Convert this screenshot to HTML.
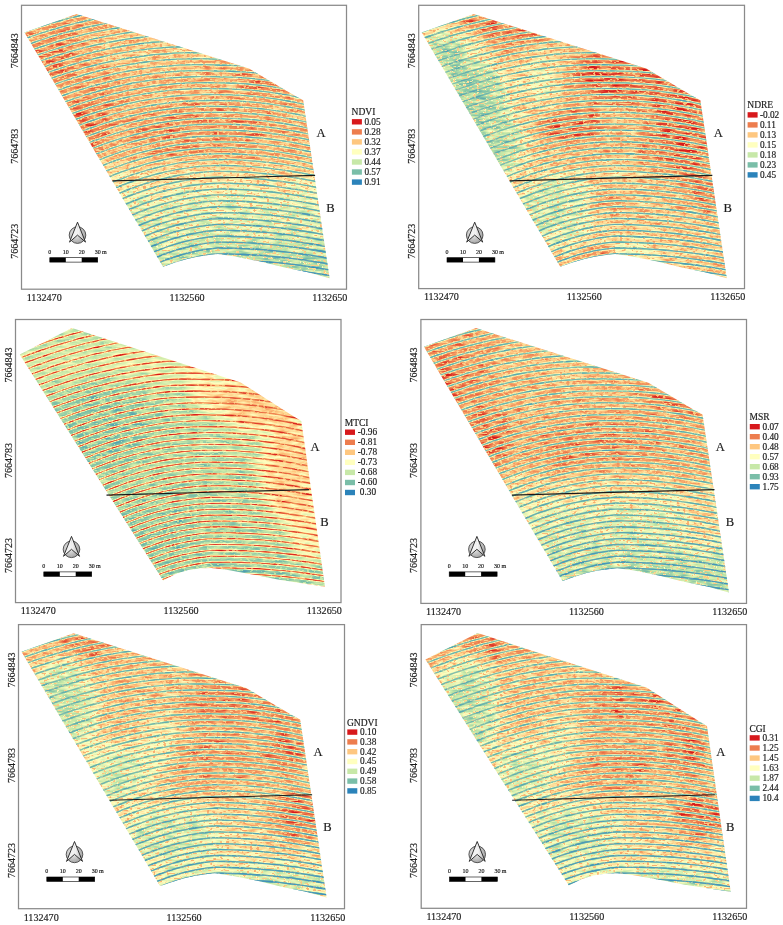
<!DOCTYPE html><html><head><meta charset="utf-8"><style>html,body{margin:0;padding:0;background:#fff;width:783px;height:925px;overflow:hidden}svg{position:absolute;left:0;top:0;display:block;will-change:transform}text{font-family:"Liberation Serif",serif;fill:#1c1c1c;stroke:#1c1c1c;stroke-width:0.18px}</style></head><body>
<svg width="783" height="925" viewBox="0 0 783 925">
<defs>
<radialGradient id="ng" cx="0.4" cy="0.4" r="0.7"><stop offset="0" stop-color="#f4f4f4"/><stop offset="1" stop-color="#9a9a9a"/></radialGradient>
<linearGradient id="ag" x1="0" y1="0" x2="1" y2="0"><stop offset="0" stop-color="#fafafa"/><stop offset="1" stop-color="#b0b0b0"/></linearGradient>
<filter id="bl" x="-50%" y="-50%" width="200%" height="200%"><feGaussianBlur stdDeviation="9"/></filter>
<filter id="sb" x="-5%" y="-5%" width="110%" height="110%"><feGaussianBlur stdDeviation="0.35"/></filter>
<clipPath id="c0"><polygon points="24.5,32.5 76.6,13.9 249.0,68.6 294.0,95.2 303.2,100.3 329.6,278.2 307.7,272.2 283.5,267.3 259.2,261.3 234.9,256.4 217.9,254.0 210.7,254.7 198.5,256.4 187.0,258.9 175.0,262.6 163.0,266.7"/></clipPath>
<clipPath id="c1"><polygon points="421.7,32.5 473.8,13.9 646.2,68.6 691.2,95.2 700.4,100.3 726.8,278.2 704.9,272.2 680.7,267.3 656.4,261.3 632.1,256.4 615.1,254.0 607.9,254.7 595.7,256.4 584.2,258.9 572.2,262.6 560.2,266.7"/></clipPath>
<clipPath id="c2"><polygon points="19.7,354.5 72.0,328.0 240.7,382.5 293.0,416.0 301.3,421.0 325.0,586.7 303.3,583.5 277.7,579.5 252.2,574.5 226.6,569.8 211.3,568.1 201.0,568.3 188.3,570.1 175.5,574.1 163.1,580.5"/></clipPath>
<clipPath id="c3"><polygon points="423.9,346.7 476.0,328.1 648.4,382.8 693.4,409.4 702.6,414.5 729.0,592.4 707.1,586.4 682.9,581.5 658.6,575.5 634.3,570.6 617.3,568.2 610.1,568.9 597.9,570.6 586.4,573.1 574.4,576.8 562.4,580.9"/></clipPath>
<clipPath id="c4"><polygon points="21.5,651.8 73.6,633.2 246.0,687.9 291.0,714.5 300.2,719.6 326.6,897.5 304.7,891.5 280.5,886.6 256.2,880.6 231.9,875.7 214.9,873.3 207.7,874.0 195.5,875.7 184.0,878.2 172.0,881.9 160.0,886.0"/></clipPath>
<clipPath id="c5"><polygon points="425.4,659.6 477.7,633.1 646.4,687.6 698.7,721.1 707.0,726.1 730.7,891.8 709.0,888.6 683.4,884.6 657.9,879.6 632.3,874.9 617.0,873.2 606.7,873.4 594.0,875.2 581.2,879.2 568.8,885.6"/></clipPath>
</defs>
<defs><filter id="f0" filterUnits="userSpaceOnUse" x="21.5" y="5.3" width="325.0" height="283.9" color-interpolation-filters="sRGB"><feGaussianBlur in="SourceGraphic" stdDeviation="0.7" result="s"/><feTurbulence type="fractalNoise" baseFrequency="0.3 0.6" numOctaves="1" seed="3" result="t1"/><feColorMatrix in="t1" type="matrix" values="1 0 0 0 0 1 0 0 0 0 1 0 0 0 0 0 0 0 0 1" result="n1"/><feTurbulence type="fractalNoise" baseFrequency="0.08 0.3" numOctaves="2" seed="11" result="t2"/><feColorMatrix in="t2" type="matrix" values="1 0 0 0 0 1 0 0 0 0 1 0 0 0 0 0 0 0 0 1" result="n2"/><feComposite in="s" in2="n2" operator="arithmetic" k1="0" k2="1" k3="0.500" k4="-0.250" result="s2"/><feComponentTransfer in="n1" result="MA"><feFuncR type="table" tableValues="0.000 0.000 0.000 0.000 0.000 0.000 0.000 0.000 0.000 0.000 0.000 0.000 0.000 0.000 0.000 0.000 0.000 0.000 0.000 0.000 0.000 0.000 0.000 0.000 0.250 0.875 1.000 1.000 1.000 1.000 1.000 1.000 1.000 1.000 1.000 1.000 1.000 1.000 1.000 1.000 1.000"/><feFuncG type="table" tableValues="0.000 0.000 0.000 0.000 0.000 0.000 0.000 0.000 0.000 0.000 0.000 0.000 0.000 0.000 0.000 0.000 0.000 0.000 0.000 0.000 0.000 0.000 0.000 0.000 0.250 0.875 1.000 1.000 1.000 1.000 1.000 1.000 1.000 1.000 1.000 1.000 1.000 1.000 1.000 1.000 1.000"/><feFuncB type="table" tableValues="0.000 0.000 0.000 0.000 0.000 0.000 0.000 0.000 0.000 0.000 0.000 0.000 0.000 0.000 0.000 0.000 0.000 0.000 0.000 0.000 0.000 0.000 0.000 0.000 0.250 0.875 1.000 1.000 1.000 1.000 1.000 1.000 1.000 1.000 1.000 1.000 1.000 1.000 1.000 1.000 1.000"/></feComponentTransfer><feComponentTransfer in="n1" result="MB"><feFuncR type="table" tableValues="1.000 1.000 1.000 1.000 1.000 1.000 1.000 1.000 1.000 1.000 1.000 1.000 1.000 1.000 1.000 0.875 0.250 0.000 0.000 0.000 0.000 0.000 0.000 0.000 0.000 0.000 0.000 0.000 0.000 0.000 0.000 0.000 0.000 0.000 0.000 0.000 0.000 0.000 0.000 0.000 0.000"/><feFuncG type="table" tableValues="1.000 1.000 1.000 1.000 1.000 1.000 1.000 1.000 1.000 1.000 1.000 1.000 1.000 1.000 1.000 0.875 0.250 0.000 0.000 0.000 0.000 0.000 0.000 0.000 0.000 0.000 0.000 0.000 0.000 0.000 0.000 0.000 0.000 0.000 0.000 0.000 0.000 0.000 0.000 0.000 0.000"/><feFuncB type="table" tableValues="1.000 1.000 1.000 1.000 1.000 1.000 1.000 1.000 1.000 1.000 1.000 1.000 1.000 1.000 1.000 0.875 0.250 0.000 0.000 0.000 0.000 0.000 0.000 0.000 0.000 0.000 0.000 0.000 0.000 0.000 0.000 0.000 0.000 0.000 0.000 0.000 0.000 0.000 0.000 0.000 0.000"/></feComponentTransfer><feComponentTransfer in="s2" result="XA"><feFuncR type="linear" slope="-0.700" intercept="0.294"/><feFuncG type="linear" slope="-0.700" intercept="0.294"/><feFuncB type="linear" slope="-0.700" intercept="0.294"/></feComponentTransfer><feComposite in="XA" in2="MA" operator="arithmetic" k1="1" k2="0" k3="0" k4="0" result="PA"/><feComponentTransfer in="s2" result="XB"><feFuncR type="linear" slope="0.700" intercept="-0.140"/><feFuncG type="linear" slope="0.700" intercept="-0.140"/><feFuncB type="linear" slope="0.700" intercept="-0.140"/></feComponentTransfer><feComposite in="XB" in2="MB" operator="arithmetic" k1="1" k2="0" k3="0" k4="0" result="PB"/><feComponentTransfer in="PB" result="QB"><feFuncR type="linear" slope="-1" intercept="1"/><feFuncG type="linear" slope="-1" intercept="1"/><feFuncB type="linear" slope="-1" intercept="1"/></feComponentTransfer><feComposite in="s2" in2="PA" operator="arithmetic" k1="0" k2="1" k3="1" k4="0" result="v1"/><feComposite in="v1" in2="QB" operator="arithmetic" k1="0" k2="1" k3="1" k4="-1" result="v2"/><feComponentTransfer in="v2" result="cm"><feFuncR type="table" tableValues="0.8431 0.9294 0.9961 1.0000 0.7804 0.4784 0.1686"/><feFuncG type="table" tableValues="0.0980 0.4902 0.7804 1.0000 0.9098 0.7451 0.5137"/><feFuncB type="table" tableValues="0.1098 0.3059 0.5020 0.7490 0.6588 0.6588 0.7294"/><feFuncA type="linear" slope="0" intercept="1"/></feComponentTransfer><feGaussianBlur in="cm" stdDeviation="0.5"/></filter></defs>
<defs><linearGradient id="bg0" x1="0" y1="0" x2="0" y2="1"><stop offset="0.00" stop-color="#404040"/><stop offset="0.52" stop-color="#474747"/><stop offset="0.70" stop-color="#8f8f8f"/><stop offset="1.00" stop-color="#a3a3a3"/></linearGradient></defs>
<g clip-path="url(#c0)"><g filter="url(#f0)">
<rect x="21.5" y="5.3" width="325.0" height="283.9" fill="url(#bg0)"/>
<g filter="url(#bl)">
<ellipse cx="51.5" cy="65.3" rx="20.0" ry="22.0" fill="#242424"/>
<ellipse cx="86.5" cy="125.3" rx="22.0" ry="30.0" fill="#242424"/>
<ellipse cx="58.5" cy="40.3" rx="9.0" ry="12.0" fill="#1c1c1c"/>
<ellipse cx="151.5" cy="50.3" rx="60.0" ry="22.0" fill="#575757"/>
<ellipse cx="271.5" cy="83.3" rx="25.0" ry="9.0" fill="#171717"/>
<ellipse cx="201.5" cy="130.3" rx="70.0" ry="25.0" fill="#303030"/>
<ellipse cx="156.5" cy="100.3" rx="20.0" ry="15.0" fill="#4c4c4c"/>
<ellipse cx="289.5" cy="140.3" rx="18.0" ry="35.0" fill="#454545"/>
<ellipse cx="251.5" cy="263.3" rx="90.0" ry="16.0" fill="#b8b8b8"/>
</g>
<defs><g id="sp0"><path d="M-2.0,-53.2 4.0,-55.4 10.0,-57.1 16.0,-58.7 22.0,-60.3 28.0,-61.8 34.0,-63.2 40.0,-64.6 46.0,-65.8 52.0,-67.0 58.0,-68.1 64.0,-69.1 70.0,-70.0 76.0,-70.9 82.0,-71.6 88.0,-72.3 94.0,-72.9 100.0,-73.4 106.0,-73.8 112.0,-74.2 118.0,-74.4 124.0,-74.6 130.0,-74.7 136.0,-74.7 142.0,-74.6 148.0,-74.4 154.0,-74.1 160.0,-73.8 166.0,-73.4 172.0,-72.8 178.0,-72.2 184.0,-71.5 190.0,-70.7 196.0,-70.0 202.0,-69.9 208.0,-69.7 214.0,-69.5 220.0,-69.1 226.0,-68.6 232.0,-67.9 238.0,-67.2 244.0,-66.4 250.0,-65.5 256.0,-64.4 262.0,-63.3 268.0,-62.0 274.0,-60.6 280.0,-59.2 286.0,-57.6 292.0,-55.9 298.0,-54.1 304.0,-52.2 310.0,-50.2 316.0,-48.0"/><path d="M-2.0,-46.4 4.0,-48.6 10.0,-50.3 16.0,-52.0 22.0,-53.6 28.0,-55.1 34.0,-56.6 40.0,-57.9 46.0,-59.2 52.0,-60.4 58.0,-61.5 64.0,-62.6 70.0,-63.5 76.0,-64.4 82.0,-65.2 88.0,-65.9 94.0,-66.5 100.0,-67.0 106.0,-67.5 112.0,-67.9 118.0,-68.2 124.0,-68.4 130.0,-68.5 136.0,-68.5 142.0,-68.4 148.0,-68.3 154.0,-68.1 160.0,-67.7 166.0,-67.3 172.0,-66.8 178.0,-66.2 184.0,-65.6 190.0,-64.8 196.0,-64.1 202.0,-64.0 208.0,-63.8 214.0,-63.6 220.0,-63.2 226.0,-62.7 232.0,-62.0 238.0,-61.3 244.0,-60.5 250.0,-59.6 256.0,-58.5 262.0,-57.4 268.0,-56.1 274.0,-54.7 280.0,-53.3 286.0,-51.7 292.0,-50.0 298.0,-48.2 304.0,-46.3 310.0,-44.3 316.0,-42.1"/><path d="M-2.0,-39.6 4.0,-41.8 10.0,-43.5 16.0,-45.3 22.0,-46.9 28.0,-48.4 34.0,-49.9 40.0,-51.3 46.0,-52.6 52.0,-53.8 58.0,-55.0 64.0,-56.0 70.0,-57.0 76.0,-57.9 82.0,-58.7 88.0,-59.5 94.0,-60.1 100.0,-60.7 106.0,-61.2 112.0,-61.6 118.0,-61.9 124.0,-62.1 130.0,-62.3 136.0,-62.3 142.0,-62.3 148.0,-62.2 154.0,-62.0 160.0,-61.7 166.0,-61.3 172.0,-60.8 178.0,-60.3 184.0,-59.6 190.0,-58.9 196.0,-58.2 202.0,-58.1 208.0,-57.9 214.0,-57.7 220.0,-57.3 226.0,-56.8 232.0,-56.1 238.0,-55.4 244.0,-54.6 250.0,-53.7 256.0,-52.6 262.0,-51.5 268.0,-50.2 274.0,-48.8 280.0,-47.4 286.0,-45.8 292.0,-44.1 298.0,-42.3 304.0,-40.4 310.0,-38.4 316.0,-36.2"/><path d="M-2.0,-32.8 4.0,-35.0 10.0,-36.8 16.0,-38.5 22.0,-40.2 28.0,-41.7 34.0,-43.2 40.0,-44.7 46.0,-46.0 52.0,-47.3 58.0,-48.4 64.0,-49.5 70.0,-50.5 76.0,-51.5 82.0,-52.3 88.0,-53.1 94.0,-53.8 100.0,-54.4 106.0,-54.9 112.0,-55.3 118.0,-55.6 124.0,-55.9 130.0,-56.1 136.0,-56.1 142.0,-56.1 148.0,-56.0 154.0,-55.9 160.0,-55.6 166.0,-55.3 172.0,-54.8 178.0,-54.3 184.0,-53.7 190.0,-53.0 196.0,-52.3 202.0,-52.2 208.0,-52.0 214.0,-51.8 220.0,-51.4 226.0,-50.9 232.0,-50.2 238.0,-49.5 244.0,-48.7 250.0,-47.8 256.0,-46.7 262.0,-45.6 268.0,-44.3 274.0,-42.9 280.0,-41.5 286.0,-39.9 292.0,-38.2 298.0,-36.4 304.0,-34.5 310.0,-32.5 316.0,-30.3"/><path d="M-2.0,-25.9 4.0,-28.2 10.0,-30.0 16.0,-31.8 22.0,-33.5 28.0,-35.1 34.0,-36.6 40.0,-38.0 46.0,-39.4 52.0,-40.7 58.0,-41.9 64.0,-43.0 70.0,-44.0 76.0,-45.0 82.0,-45.9 88.0,-46.7 94.0,-47.4 100.0,-48.0 106.0,-48.5 112.0,-49.0 118.0,-49.4 124.0,-49.6 130.0,-49.8 136.0,-50.0 142.0,-50.0 148.0,-49.9 154.0,-49.8 160.0,-49.5 166.0,-49.2 172.0,-48.8 178.0,-48.3 184.0,-47.7 190.0,-47.0 196.0,-46.4 202.0,-46.3 208.0,-46.1 214.0,-45.9 220.0,-45.5 226.0,-45.0 232.0,-44.3 238.0,-43.6 244.0,-42.8 250.0,-41.9 256.0,-40.8 262.0,-39.7 268.0,-38.4 274.0,-37.0 280.0,-35.6 286.0,-34.0 292.0,-32.3 298.0,-30.5 304.0,-28.6 310.0,-26.6 316.0,-24.4"/><path d="M-2.0,-19.1 4.0,-21.3 10.0,-23.2 16.0,-25.0 22.0,-26.7 28.0,-28.4 34.0,-29.9 40.0,-31.4 46.0,-32.8 52.0,-34.1 58.0,-35.3 64.0,-36.5 70.0,-37.6 76.0,-38.5 82.0,-39.4 88.0,-40.3 94.0,-41.0 100.0,-41.7 106.0,-42.2 112.0,-42.7 118.0,-43.1 124.0,-43.4 130.0,-43.6 136.0,-43.8 142.0,-43.8 148.0,-43.8 154.0,-43.7 160.0,-43.5 166.0,-43.2 172.0,-42.8 178.0,-42.3 184.0,-41.8 190.0,-41.1 196.0,-40.5 202.0,-40.4 208.0,-40.2 214.0,-40.0 220.0,-39.6 226.0,-39.1 232.0,-38.4 238.0,-37.7 244.0,-36.9 250.0,-36.0 256.0,-34.9 262.0,-33.8 268.0,-32.5 274.0,-31.1 280.0,-29.7 286.0,-28.1 292.0,-26.4 298.0,-24.6 304.0,-22.7 310.0,-20.7 316.0,-18.5"/><path d="M-2.0,-12.3 4.0,-14.5 10.0,-16.5 16.0,-18.3 22.0,-20.0 28.0,-21.7 34.0,-23.3 40.0,-24.8 46.0,-26.2 52.0,-27.5 58.0,-28.8 64.0,-30.0 70.0,-31.1 76.0,-32.1 82.0,-33.0 88.0,-33.9 94.0,-34.6 100.0,-35.3 106.0,-35.9 112.0,-36.4 118.0,-36.8 124.0,-37.2 130.0,-37.4 136.0,-37.6 142.0,-37.7 148.0,-37.7 154.0,-37.6 160.0,-37.4 166.0,-37.1 172.0,-36.8 178.0,-36.3 184.0,-35.8 190.0,-35.2 196.0,-34.6 202.0,-34.5 208.0,-34.3 214.0,-34.1 220.0,-33.7 226.0,-33.2 232.0,-32.5 238.0,-31.8 244.0,-31.0 250.0,-30.1 256.0,-29.0 262.0,-27.9 268.0,-26.6 274.0,-25.2 280.0,-23.8 286.0,-22.2 292.0,-20.5 298.0,-18.7 304.0,-16.8 310.0,-14.8 316.0,-12.6"/><path d="M-2.0,-5.5 4.0,-7.7 10.0,-9.7 16.0,-11.5 22.0,-13.3 28.0,-15.0 34.0,-16.6 40.0,-18.1 46.0,-19.6 52.0,-21.0 58.0,-22.2 64.0,-23.5 70.0,-24.6 76.0,-25.6 82.0,-26.6 88.0,-27.5 94.0,-28.2 100.0,-29.0 106.0,-29.6 112.0,-30.1 118.0,-30.6 124.0,-30.9 130.0,-31.2 136.0,-31.4 142.0,-31.5 148.0,-31.6 154.0,-31.5 160.0,-31.3 166.0,-31.1 172.0,-30.8 178.0,-30.4 184.0,-29.9 190.0,-29.3 196.0,-28.7 202.0,-28.6 208.0,-28.4 214.0,-28.2 220.0,-27.8 226.0,-27.3 232.0,-26.6 238.0,-25.9 244.0,-25.1 250.0,-24.2 256.0,-23.1 262.0,-22.0 268.0,-20.7 274.0,-19.3 280.0,-17.9 286.0,-16.3 292.0,-14.6 298.0,-12.8 304.0,-10.9 310.0,-8.9 316.0,-6.7"/><path d="M-2.0,1.3 4.0,-0.9 10.0,-2.9 16.0,-4.8 22.0,-6.6 28.0,-8.3 34.0,-9.9 40.0,-11.5 46.0,-13.0 52.0,-14.4 58.0,-15.7 64.0,-16.9 70.0,-18.1 76.0,-19.2 82.0,-20.1 88.0,-21.1 94.0,-21.9 100.0,-22.6 106.0,-23.3 112.0,-23.8 118.0,-24.3 124.0,-24.7 130.0,-25.0 136.0,-25.2 142.0,-25.4 148.0,-25.4 154.0,-25.4 160.0,-25.3 166.0,-25.1 172.0,-24.8 178.0,-24.4 184.0,-23.9 190.0,-23.3 196.0,-22.8 202.0,-22.7 208.0,-22.5 214.0,-22.3 220.0,-21.9 226.0,-21.4 232.0,-20.7 238.0,-20.0 244.0,-19.2 250.0,-18.3 256.0,-17.2 262.0,-16.1 268.0,-14.8 274.0,-13.4 280.0,-12.0 286.0,-10.4 292.0,-8.7 298.0,-6.9 304.0,-5.0 310.0,-3.0 316.0,-0.8"/><path d="M-2.0,8.2 4.0,5.9 10.0,3.9 16.0,2.0 22.0,0.1 28.0,-1.6 34.0,-3.3 40.0,-4.9 46.0,-6.4 52.0,-7.8 58.0,-9.2 64.0,-10.4 70.0,-11.6 76.0,-12.7 82.0,-13.7 88.0,-14.6 94.0,-15.5 100.0,-16.3 106.0,-16.9 112.0,-17.5 118.0,-18.0 124.0,-18.5 130.0,-18.8 136.0,-19.1 142.0,-19.2 148.0,-19.3 154.0,-19.3 160.0,-19.2 166.0,-19.0 172.0,-18.8 178.0,-18.4 184.0,-18.0 190.0,-17.4 196.0,-16.9 202.0,-16.8 208.0,-16.6 214.0,-16.4 220.0,-16.0 226.0,-15.5 232.0,-14.8 238.0,-14.1 244.0,-13.3 250.0,-12.4 256.0,-11.3 262.0,-10.2 268.0,-8.9 274.0,-7.5 280.0,-6.1 286.0,-4.5 292.0,-2.8 298.0,-1.0 304.0,0.9 310.0,2.9 316.0,5.1"/><path d="M-2.0,15.0 4.0,12.7 10.0,10.6 16.0,8.7 22.0,6.8 28.0,5.1 34.0,3.4 40.0,1.8 46.0,0.2 52.0,-1.2 58.0,-2.6 64.0,-3.9 70.0,-5.1 76.0,-6.2 82.0,-7.3 88.0,-8.2 94.0,-9.1 100.0,-9.9 106.0,-10.6 112.0,-11.2 118.0,-11.8 124.0,-12.2 130.0,-12.6 136.0,-12.9 142.0,-13.1 148.0,-13.2 154.0,-13.2 160.0,-13.1 166.0,-13.0 172.0,-12.8 178.0,-12.4 184.0,-12.0 190.0,-11.5 196.0,-11.0 202.0,-10.9 208.0,-10.7 214.0,-10.5 220.0,-10.1 226.0,-9.6 232.0,-8.9 238.0,-8.2 244.0,-7.4 250.0,-6.5 256.0,-5.4 262.0,-4.3 268.0,-3.0 274.0,-1.6 280.0,-0.2 286.0,1.4 292.0,3.1 298.0,4.9 304.0,6.8 310.0,8.8 316.0,11.0"/><path d="M-2.0,21.8 4.0,19.5 10.0,17.4 16.0,15.5 22.0,13.6 28.0,11.8 34.0,10.0 40.0,8.4 46.0,6.8 52.0,5.3 58.0,3.9 64.0,2.6 70.0,1.4 76.0,0.2 82.0,-0.8 88.0,-1.8 94.0,-2.7 100.0,-3.6 106.0,-4.3 112.0,-5.0 118.0,-5.5 124.0,-6.0 130.0,-6.4 136.0,-6.7 142.0,-6.9 148.0,-7.1 154.0,-7.1 160.0,-7.1 166.0,-7.0 172.0,-6.7 178.0,-6.4 184.0,-6.0 190.0,-5.6 196.0,-5.1 202.0,-5.0 208.0,-4.8 214.0,-4.6 220.0,-4.2 226.0,-3.7 232.0,-3.0 238.0,-2.3 244.0,-1.5 250.0,-0.6 256.0,0.5 262.0,1.6 268.0,2.9 274.0,4.3 280.0,5.7 286.0,7.3 292.0,9.0 298.0,10.8 304.0,12.7 310.0,14.7 316.0,16.9"/><path d="M-2.0,28.6 4.0,26.3 10.0,24.2 16.0,22.2 22.0,20.3 28.0,18.4 34.0,16.7 40.0,15.0 46.0,13.4 52.0,11.9 58.0,10.5 64.0,9.1 70.0,7.9 76.0,6.7 82.0,5.6 88.0,4.6 94.0,3.6 100.0,2.8 106.0,2.0 112.0,1.3 118.0,0.7 124.0,0.2 130.0,-0.2 136.0,-0.5 142.0,-0.8 148.0,-0.9 154.0,-1.0 160.0,-1.0 166.0,-0.9 172.0,-0.7 178.0,-0.5 184.0,-0.1 190.0,0.4 196.0,0.8 202.0,0.9 208.0,1.1 214.0,1.3 220.0,1.7 226.0,2.2 232.0,2.9 238.0,3.6 244.0,4.4 250.0,5.3 256.0,6.4 262.0,7.5 268.0,8.8 274.0,10.1 280.0,11.6 286.0,13.2 292.0,14.9 298.0,16.7 304.0,18.6 310.0,20.6 316.0,22.7"/><path d="M-2.0,35.5 4.0,33.1 10.0,31.0 16.0,29.0 22.0,27.0 28.0,25.2 34.0,23.4 40.0,21.7 46.0,20.1 52.0,18.5 58.0,17.1 64.0,15.7 70.0,14.4 76.0,13.2 82.0,12.0 88.0,11.0 94.0,10.0 100.0,9.1 106.0,8.3 112.0,7.6 118.0,7.0 124.0,6.5 130.0,6.0 136.0,5.7 142.0,5.4 148.0,5.2 154.0,5.1 160.0,5.0 166.0,5.1 172.0,5.3 178.0,5.5 184.0,5.9 190.0,6.3 196.0,6.7 202.0,6.8 208.0,7.0 214.0,7.2 220.0,7.6 226.0,8.1 232.0,8.7 238.0,9.4 244.0,10.3 250.0,11.2 256.0,12.2 262.0,13.3 268.0,14.6 274.0,15.9 280.0,17.4 286.0,19.0 292.0,20.6 298.0,22.4 304.0,24.3 310.0,26.3 316.0,28.4"/><path d="M-2.0,42.4 4.0,40.0 10.0,37.9 16.0,35.8 22.0,33.8 28.0,31.9 34.0,30.1 40.0,28.4 46.0,26.7 52.0,25.2 58.0,23.7 64.0,22.2 70.0,20.9 76.0,19.7 82.0,18.5 88.0,17.4 94.0,16.4 100.0,15.5 106.0,14.7 112.0,13.9 118.0,13.3 124.0,12.7 130.0,12.2 136.0,11.8 142.0,11.5 148.0,11.3 154.0,11.2 160.0,11.1 166.0,11.2 172.0,11.3 178.0,11.5 184.0,11.8 190.0,12.2 196.0,12.6 202.0,12.7 208.0,12.8 214.0,13.1 220.0,13.5 226.0,14.0 232.0,14.6 238.0,15.3 244.0,16.1 250.0,17.0 256.0,18.1 262.0,19.2 268.0,20.4 274.0,21.7 280.0,23.2 286.0,24.7 292.0,26.4 298.0,28.1 304.0,30.0 310.0,32.0 316.0,34.0"/><path d="M-2.0,49.5 4.0,47.0 10.0,44.8 16.0,42.7 22.0,40.7 28.0,38.8 34.0,36.9 40.0,35.1 46.0,33.4 52.0,31.8 58.0,30.3 64.0,28.8 70.0,27.5 76.0,26.2 82.0,25.0 88.0,23.9 94.0,22.9 100.0,21.9 106.0,21.0 112.0,20.3 118.0,19.6 124.0,19.0 130.0,18.5 136.0,18.0 142.0,17.7 148.0,17.4 154.0,17.3 160.0,17.2 166.0,17.2 172.0,17.3 178.0,17.5 184.0,17.8 190.0,18.1 196.0,18.5 202.0,18.6 208.0,18.7 214.0,19.0 220.0,19.4 226.0,19.9 232.0,20.5 238.0,21.2 244.0,22.0 250.0,22.9 256.0,23.9 262.0,25.0 268.0,26.2 274.0,27.5 280.0,29.0 286.0,30.5 292.0,32.1 298.0,33.9 304.0,35.7 310.0,37.7 316.0,39.7"/><path d="M-2.0,56.5 4.0,54.1 10.0,51.8 16.0,49.7 22.0,47.6 28.0,45.7 34.0,43.8 40.0,41.9 46.0,40.2 52.0,38.5 58.0,37.0 64.0,35.5 70.0,34.1 76.0,32.8 82.0,31.5 88.0,30.4 94.0,29.3 100.0,28.3 106.0,27.4 112.0,26.6 118.0,25.9 124.0,25.2 130.0,24.7 136.0,24.2 142.0,23.9 148.0,23.6 154.0,23.4 160.0,23.3 166.0,23.2 172.0,23.3 178.0,23.5 184.0,23.7 190.0,24.0 196.0,24.4 202.0,24.5 208.0,24.6 214.0,24.9 220.0,25.3 226.0,25.8 232.0,26.4 238.0,27.0 244.0,27.8 250.0,28.7 256.0,29.7 262.0,30.8 268.0,32.0 274.0,33.3 280.0,34.7 286.0,36.3 292.0,37.9 298.0,39.6 304.0,41.4 310.0,43.3 316.0,45.4"/><path d="M-2.0,63.7 4.0,61.2 10.0,58.9 16.0,56.7 22.0,54.6 28.0,52.6 34.0,50.6 40.0,48.8 46.0,47.0 52.0,45.3 58.0,43.7 64.0,42.1 70.0,40.7 76.0,39.3 82.0,38.1 88.0,36.9 94.0,35.8 100.0,34.7 106.0,33.8 112.0,33.0 118.0,32.2 124.0,31.5 130.0,30.9 136.0,30.4 142.0,30.0 148.0,29.7 154.0,29.5 160.0,29.3 166.0,29.3 172.0,29.3 178.0,29.4 184.0,29.7 190.0,30.0 196.0,30.3 202.0,30.4 208.0,30.5 214.0,30.8 220.0,31.2 226.0,31.7 232.0,32.2 238.0,32.9 244.0,33.7 250.0,34.6 256.0,35.6 262.0,36.7 268.0,37.8 274.0,39.1 280.0,40.5 286.0,42.0 292.0,43.6 298.0,45.3 304.0,47.1 310.0,49.0 316.0,51.0"/><path d="M-2.0,71.0 4.0,68.4 10.0,66.1 16.0,63.8 22.0,61.7 28.0,59.6 34.0,57.6 40.0,55.7 46.0,53.8 52.0,52.1 58.0,50.4 64.0,48.8 70.0,47.4 76.0,45.9 82.0,44.6 88.0,43.4 94.0,42.2 100.0,41.2 106.0,40.2 112.0,39.3 118.0,38.5 124.0,37.8 130.0,37.2 136.0,36.7 142.0,36.2 148.0,35.9 154.0,35.6 160.0,35.4 166.0,35.3 172.0,35.3 178.0,35.4 184.0,35.6 190.0,35.9 196.0,36.2 202.0,36.3 208.0,36.4 214.0,36.7 220.0,37.1 226.0,37.5 232.0,38.1 238.0,38.8 244.0,39.6 250.0,40.4 256.0,41.4 262.0,42.5 268.0,43.7 274.0,44.9 280.0,46.3 286.0,47.8 292.0,49.4 298.0,51.0 304.0,52.8 310.0,54.7 316.0,56.7"/><path d="M-2.0,78.3 4.0,75.7 10.0,73.3 16.0,71.0 22.0,68.7 28.0,66.6 34.0,64.6 40.0,62.6 46.0,60.7 52.0,58.9 58.0,57.2 64.0,55.6 70.0,54.0 76.0,52.6 82.0,51.2 88.0,49.9 94.0,48.7 100.0,47.6 106.0,46.6 112.0,45.7 118.0,44.9 124.0,44.1 130.0,43.4 136.0,42.9 142.0,42.4 148.0,42.0 154.0,41.7 160.0,41.5 166.0,41.4 172.0,41.3 178.0,41.4 184.0,41.6 190.0,41.8 196.0,42.1 202.0,42.2 208.0,42.3 214.0,42.6 220.0,43.0 226.0,43.4 232.0,44.0 238.0,44.7 244.0,45.4 250.0,46.3 256.0,47.2 262.0,48.3 268.0,49.5 274.0,50.7 280.0,52.1 286.0,53.5 292.0,55.1 298.0,56.8 304.0,58.5 310.0,60.4 316.0,62.3"/><path d="M-2.0,85.7 4.0,83.0 10.0,80.5 16.0,78.2 22.0,75.9 28.0,73.7 34.0,71.6 40.0,69.6 46.0,67.6 52.0,65.8 58.0,64.0 64.0,62.3 70.0,60.7 76.0,59.2 82.0,57.8 88.0,56.5 94.0,55.3 100.0,54.1 106.0,53.0 112.0,52.1 118.0,51.2 124.0,50.4 130.0,49.7 136.0,49.1 142.0,48.6 148.0,48.2 154.0,47.8 160.0,47.6 166.0,47.4 172.0,47.4 178.0,47.4 184.0,47.5 190.0,47.7 196.0,48.0 202.0,48.1 208.0,48.2 214.0,48.5 220.0,48.9 226.0,49.3 232.0,49.9 238.0,50.5 244.0,51.3 250.0,52.1 256.0,53.1 262.0,54.1 268.0,55.3 274.0,56.5 280.0,57.9 286.0,59.3 292.0,60.8 298.0,62.5 304.0,64.2 310.0,66.1 316.0,68.0"/><path d="M-2.0,93.1 4.0,90.4 10.0,87.9 16.0,85.5 22.0,83.1 28.0,80.8 34.0,78.7 40.0,76.6 46.0,74.6 52.0,72.7 58.0,70.9 64.0,69.1 70.0,67.5 76.0,65.9 82.0,64.5 88.0,63.1 94.0,61.8 100.0,60.6 106.0,59.5 112.0,58.5 118.0,57.6 124.0,56.7 130.0,56.0 136.0,55.3 142.0,54.8 148.0,54.3 154.0,53.9 160.0,53.7 166.0,53.5 172.0,53.4 178.0,53.4 184.0,53.5 190.0,53.7 196.0,53.9 202.0,54.0 208.0,54.1 214.0,54.4 220.0,54.7 226.0,55.2 232.0,55.7 238.0,56.4 244.0,57.1 250.0,58.0 256.0,58.9 262.0,60.0 268.0,61.1 274.0,62.3 280.0,63.6 286.0,65.1 292.0,66.6 298.0,68.2 304.0,69.9 310.0,71.7 316.0,73.7"/><path d="M-2.0,100.7 4.0,97.9 10.0,95.3 16.0,92.8 22.0,90.4 28.0,88.0 34.0,85.8 40.0,83.7 46.0,81.6 52.0,79.6 58.0,77.7 64.0,75.9 70.0,74.2 76.0,72.6 82.0,71.1 88.0,69.7 94.0,68.3 100.0,67.1 106.0,65.9 112.0,64.9 118.0,63.9 124.0,63.0 130.0,62.3 136.0,61.6 142.0,61.0 148.0,60.5 154.0,60.1 160.0,59.7 166.0,59.5 172.0,59.4 178.0,59.4 184.0,59.4 190.0,59.6 196.0,59.8 202.0,59.9 208.0,60.0 214.0,60.3 220.0,60.6 226.0,61.1 232.0,61.6 238.0,62.3 244.0,63.0 250.0,63.8 256.0,64.8 262.0,65.8 268.0,66.9 274.0,68.1 280.0,69.4 286.0,70.8 292.0,72.3 298.0,73.9 304.0,75.6 310.0,77.4 316.0,79.3"/><path d="M-2.0,108.3 4.0,105.4 10.0,102.8 16.0,100.2 22.0,97.7 28.0,95.3 34.0,93.0 40.0,90.8 46.0,88.6 52.0,86.6 58.0,84.7 64.0,82.8 70.0,81.0 76.0,79.4 82.0,77.8 88.0,76.3 94.0,74.9 100.0,73.6 106.0,72.4 112.0,71.3 118.0,70.3 124.0,69.4 130.0,68.5 136.0,67.8 142.0,67.2 148.0,66.6 154.0,66.2 160.0,65.8 166.0,65.6 172.0,65.4 178.0,65.4 184.0,65.4 190.0,65.5 196.0,65.7 202.0,65.8 208.0,65.9 214.0,66.2 220.0,66.5 226.0,67.0 232.0,67.5 238.0,68.1 244.0,68.9 250.0,69.7 256.0,70.6 262.0,71.6 268.0,72.7 274.0,73.9 280.0,75.2 286.0,76.6 292.0,78.1 298.0,79.7 304.0,81.3 310.0,83.1 316.0,85.0"/><path d="M-2.0,116.0 4.0,113.1 10.0,110.3 16.0,107.6 22.0,105.1 28.0,102.6 34.0,100.2 40.0,97.9 46.0,95.7 52.0,93.6 58.0,91.6 64.0,89.7 70.0,87.9 76.0,86.1 82.0,84.5 88.0,83.0 94.0,81.5 100.0,80.2 106.0,78.9 112.0,77.7 118.0,76.7 124.0,75.7 130.0,74.8 136.0,74.1 142.0,73.4 148.0,72.8 154.0,72.3 160.0,71.9 166.0,71.6 172.0,71.4 178.0,71.3 184.0,71.3 190.0,71.4 196.0,71.6 202.0,71.7 208.0,71.8 214.0,72.1 220.0,72.4 226.0,72.8 232.0,73.4 238.0,74.0 244.0,74.7 250.0,75.5 256.0,76.4 262.0,77.4 268.0,78.5 274.0,79.7 280.0,81.0 286.0,82.4 292.0,83.8 298.0,85.4 304.0,87.0 310.0,88.8 316.0,90.6"/><path d="M-2.0,123.8 4.0,120.7 10.0,117.9 16.0,115.2 22.0,112.5 28.0,110.0 34.0,107.5 40.0,105.1 46.0,102.9 52.0,100.7 58.0,98.6 64.0,96.6 70.0,94.7 76.0,92.9 82.0,91.2 88.0,89.6 94.0,88.1 100.0,86.7 106.0,85.4 112.0,84.2 118.0,83.1 124.0,82.1 130.0,81.1 136.0,80.3 142.0,79.6 148.0,79.0 154.0,78.4 160.0,78.0 166.0,77.7 172.0,77.5 178.0,77.3 184.0,77.3 190.0,77.4 196.0,77.5 202.0,77.6 208.0,77.7 214.0,78.0 220.0,78.3 226.0,78.7 232.0,79.3 238.0,79.9 244.0,80.6 250.0,81.4 256.0,82.3 262.0,83.3 268.0,84.3 274.0,85.5 280.0,86.8 286.0,88.1 292.0,89.6 298.0,91.1 304.0,92.7 310.0,94.5 316.0,96.3"/><path d="M-2.0,131.6 4.0,128.5 10.0,125.6 16.0,122.7 22.0,120.0 28.0,117.4 34.0,114.8 40.0,112.4 46.0,110.0 52.0,107.8 58.0,105.6 64.0,103.6 70.0,101.6 76.0,99.7 82.0,98.0 88.0,96.3 94.0,94.7 100.0,93.3 106.0,91.9 112.0,90.6 118.0,89.5 124.0,88.4 130.0,87.4 136.0,86.6 142.0,85.8 148.0,85.1 154.0,84.6 160.0,84.1 166.0,83.7 172.0,83.5 178.0,83.3 184.0,83.2 190.0,83.3 196.0,83.4 202.0,83.5 208.0,83.6 214.0,83.9 220.0,84.2 226.0,84.6 232.0,85.1 238.0,85.7 244.0,86.4 250.0,87.2 256.0,88.1 262.0,89.1 268.0,90.1 274.0,91.3 280.0,92.6 286.0,93.9 292.0,95.3 298.0,96.8 304.0,98.4 310.0,100.1 316.0,101.9"/><path d="M-2.0,139.5 4.0,136.3 10.0,133.3 16.0,130.4 22.0,127.6 28.0,124.8 34.0,122.2 40.0,119.7 46.0,117.2 52.0,114.9 58.0,112.7 64.0,110.5 70.0,108.5 76.0,106.6 82.0,104.8 88.0,103.0 94.0,101.4 100.0,99.9 106.0,98.4 112.0,97.1 118.0,95.9 124.0,94.8 130.0,93.8 136.0,92.8 142.0,92.0 148.0,91.3 154.0,90.7 160.0,90.2 166.0,89.8 172.0,89.5 178.0,89.3 184.0,89.2 190.0,89.2 196.0,89.3 202.0,89.4 208.0,89.5 214.0,89.8 220.0,90.1 226.0,90.5 232.0,91.0 238.0,91.6 244.0,92.3 250.0,93.1 256.0,94.0 262.0,94.9 268.0,96.0 274.0,97.1 280.0,98.3 286.0,99.7 292.0,101.1 298.0,102.6 304.0,104.2 310.0,105.8 316.0,107.6"/><path d="M-2.0,147.5 4.0,144.2 10.0,141.1 16.0,138.1 22.0,135.2 28.0,132.3 34.0,129.6 40.0,127.0 46.0,124.5 52.0,122.1 58.0,119.8 64.0,117.6 70.0,115.4 76.0,113.4 82.0,111.5 88.0,109.8 94.0,108.1 100.0,106.5 106.0,105.0 112.0,103.6 118.0,102.3 124.0,101.2 130.0,100.1 136.0,99.1 142.0,98.3 148.0,97.5 154.0,96.8 160.0,96.3 166.0,95.9 172.0,95.5 178.0,95.3 184.0,95.2 190.0,95.1 196.0,95.2 202.0,95.3 208.0,95.4 214.0,95.6 220.0,96.0 226.0,96.4 232.0,96.9 238.0,97.5 244.0,98.2 250.0,98.9 256.0,99.8 262.0,100.7 268.0,101.8 274.0,102.9 280.0,104.1 286.0,105.4 292.0,106.8 298.0,108.3 304.0,109.9 310.0,111.5 316.0,113.3"/><path d="M-2.0,155.6 4.0,152.2 10.0,149.0 16.0,145.8 22.0,142.8 28.0,139.9 34.0,137.1 40.0,134.4 46.0,131.8 52.0,129.3 58.0,126.9 64.0,124.6 70.0,122.4 76.0,120.3 82.0,118.4 88.0,116.5 94.0,114.7 100.0,113.1 106.0,111.5 112.0,110.1 118.0,108.8 124.0,107.5 130.0,106.4 136.0,105.4 142.0,104.5 148.0,103.7 154.0,103.0 160.0,102.4 166.0,101.9 172.0,101.5 178.0,101.3 184.0,101.1 190.0,101.1 196.0,101.1 202.0,101.2 208.0,101.3 214.0,101.5 220.0,101.9 226.0,102.3 232.0,102.8 238.0,103.4 244.0,104.0 250.0,104.8 256.0,105.6 262.0,106.6 268.0,107.6 274.0,108.7 280.0,109.9 286.0,111.2 292.0,112.6 298.0,114.0 304.0,115.6 310.0,117.2 316.0,118.9"/><path d="M-2.0,163.7 4.0,160.2 10.0,156.9 16.0,153.7 22.0,150.5 28.0,147.5 34.0,144.6 40.0,141.8 46.0,139.1 52.0,136.5 58.0,134.0 64.0,131.7 70.0,129.4 76.0,127.3 82.0,125.2 88.0,123.3 94.0,121.4 100.0,119.7 106.0,118.1 112.0,116.6 118.0,115.2 124.0,113.9 130.0,112.8 136.0,111.7 142.0,110.7 148.0,109.9 154.0,109.1 160.0,108.5 166.0,108.0 172.0,107.6 178.0,107.3 184.0,107.1 190.0,107.0 196.0,107.0 202.0,107.1 208.0,107.2 214.0,107.4 220.0,107.8 226.0,108.2 232.0,108.6 238.0,109.2 244.0,109.9 250.0,110.6 256.0,111.5 262.0,112.4 268.0,113.4 274.0,114.5 280.0,115.7 286.0,116.9 292.0,118.3 298.0,119.7 304.0,121.3 310.0,122.9 316.0,124.6"/><path d="M-2.0,171.9 4.0,168.4 10.0,164.9 16.0,161.6 22.0,158.3 28.0,155.2 34.0,152.2 40.0,149.3 46.0,146.5 52.0,143.8 58.0,141.2 64.0,138.8 70.0,136.4 76.0,134.2 82.0,132.1 88.0,130.1 94.0,128.2 100.0,126.4 106.0,124.7 112.0,123.1 118.0,121.7 124.0,120.3 130.0,119.1 136.0,118.0 142.0,117.0 148.0,116.1 154.0,115.3 160.0,114.6 166.0,114.0 172.0,113.6 178.0,113.3 184.0,113.0 190.0,112.9 196.0,112.9 202.0,113.0 208.0,113.1 214.0,113.3 220.0,113.6 226.0,114.0 232.0,114.5 238.0,115.1 244.0,115.7 250.0,116.5 256.0,117.3 262.0,118.2 268.0,119.2 274.0,120.3 280.0,121.5 286.0,122.7 292.0,124.0 298.0,125.5 304.0,127.0 310.0,128.6 316.0,130.2"/><path d="M-2.0,180.2 4.0,176.5 10.0,173.0 16.0,169.5 22.0,166.2 28.0,162.9 34.0,159.8 40.0,156.8 46.0,153.9 52.0,151.1 58.0,148.5 64.0,145.9 70.0,143.5 76.0,141.2 82.0,139.0 88.0,136.9 94.0,134.9 100.0,133.0 106.0,131.3 112.0,129.7 118.0,128.1 124.0,126.7 130.0,125.4 136.0,124.3 142.0,123.2 148.0,122.3 154.0,121.4 160.0,120.7 166.0,120.1 172.0,119.6 178.0,119.2 184.0,119.0 190.0,118.8 196.0,118.8 202.0,118.9 208.0,119.0 214.0,119.2 220.0,119.5 226.0,119.9 232.0,120.4 238.0,121.0 244.0,121.6 250.0,122.3 256.0,123.1 262.0,124.0 268.0,125.0 274.0,126.1 280.0,127.2 286.0,128.5 292.0,129.8 298.0,131.2 304.0,132.7 310.0,134.2 316.0,135.9"/><path d="M-2.0,188.6 4.0,184.8 10.0,181.1 16.0,177.5 22.0,174.0 28.0,170.7 34.0,167.5 40.0,164.4 46.0,161.4 52.0,158.5 58.0,155.7 64.0,153.1 70.0,150.6 76.0,148.2 82.0,145.9 88.0,143.7 94.0,141.7 100.0,139.7 106.0,137.9 112.0,136.2 118.0,134.6 124.0,133.2 130.0,131.8 136.0,130.6 142.0,129.5 148.0,128.5 154.0,127.6 160.0,126.8 166.0,126.2 172.0,125.6 178.0,125.2 184.0,124.9 190.0,124.8 196.0,124.7 202.0,124.8 208.0,124.9 214.0,125.1 220.0,125.4 226.0,125.8 232.0,126.3 238.0,126.8 244.0,127.5 250.0,128.2 256.0,129.0 262.0,129.9 268.0,130.8 274.0,131.9 280.0,133.0 286.0,134.2 292.0,135.5 298.0,136.9 304.0,138.4 310.0,139.9 316.0,141.5"/><path d="M-2.0,197.0 4.0,193.1 10.0,189.3 16.0,185.6 22.0,182.0 28.0,178.5 34.0,175.2 40.0,172.0 46.0,168.9 52.0,165.9 58.0,163.0 64.0,160.3 70.0,157.7 76.0,155.2 82.0,152.8 88.0,150.6 94.0,148.4 100.0,146.4 106.0,144.5 112.0,142.8 118.0,141.1 124.0,139.6 130.0,138.2 136.0,136.9 142.0,135.7 148.0,134.7 154.0,133.7 160.0,132.9 166.0,132.2 172.0,131.7 178.0,131.2 184.0,130.9 190.0,130.7 196.0,130.6 202.0,130.7 208.0,130.8 214.0,131.0 220.0,131.3 226.0,131.7 232.0,132.2 238.0,132.7 244.0,133.3 250.0,134.0 256.0,134.8 262.0,135.7 268.0,136.6 274.0,137.7 280.0,138.8 286.0,140.0 292.0,141.3 298.0,142.6 304.0,144.1 310.0,145.6 316.0,147.2"/><path d="M-2.0,205.6 4.0,201.5 10.0,197.5 16.0,193.7 22.0,190.0 28.0,186.4 34.0,183.0 40.0,179.6 46.0,176.4 52.0,173.3 58.0,170.4 64.0,167.5 70.0,164.8 76.0,162.2 82.0,159.8 88.0,157.4 94.0,155.2 100.0,153.1 106.0,151.2 112.0,149.3 118.0,147.6 124.0,146.0 130.0,144.6 136.0,143.2 142.0,142.0 148.0,140.9 154.0,139.9 160.0,139.0 166.0,138.3 172.0,137.7 178.0,137.2 184.0,136.9 190.0,136.6 196.0,136.5 202.0,136.6 208.0,136.7 214.0,136.9 220.0,137.2 226.0,137.6 232.0,138.0 238.0,138.6 244.0,139.2 250.0,139.9 256.0,140.7 262.0,141.5 268.0,142.5 274.0,143.5 280.0,144.6 286.0,145.8 292.0,147.0 298.0,148.4 304.0,149.8 310.0,151.3 316.0,152.9"/><path d="M-2.0,214.1 4.0,210.0 10.0,205.9 16.0,201.9 22.0,198.1 28.0,194.4 34.0,190.8 40.0,187.3 46.0,184.0 52.0,180.8 58.0,177.7 64.0,174.8 70.0,172.0 76.0,169.3 82.0,166.8 88.0,164.3 94.0,162.0 100.0,159.9 106.0,157.8 112.0,155.9 118.0,154.1 124.0,152.5 130.0,150.9 136.0,149.5 142.0,148.2 148.0,147.1 154.0,146.1 160.0,145.2 166.0,144.4 172.0,143.7 178.0,143.2 184.0,142.8 190.0,142.5 196.0,142.4 202.0,142.5 208.0,142.6 214.0,142.8 220.0,143.1 226.0,143.5 232.0,143.9 238.0,144.4 244.0,145.0 250.0,145.7 256.0,146.5 262.0,147.3 268.0,148.3 274.0,149.3 280.0,150.4 286.0,151.5 292.0,152.8 298.0,154.1 304.0,155.5 310.0,157.0 316.0,158.5"/><path d="M-2.0,222.8 4.0,218.5 10.0,214.3 16.0,210.2 22.0,206.2 28.0,202.3 34.0,198.6 40.0,195.1 46.0,191.6 52.0,188.3 58.0,185.1 64.0,182.1 70.0,179.2 76.0,176.4 82.0,173.8 88.0,171.3 94.0,168.9 100.0,166.6 106.0,164.5 112.0,162.5 118.0,160.7 124.0,158.9 130.0,157.3 136.0,155.9 142.0,154.5 148.0,153.3 154.0,152.2 160.0,151.3 166.0,150.5 172.0,149.8 178.0,149.2 184.0,148.8 190.0,148.5 196.0,148.3 202.0,148.4 208.0,148.5 214.0,148.7 220.0,149.0 226.0,149.3 232.0,149.8 238.0,150.3 244.0,150.9 250.0,151.6 256.0,152.3 262.0,153.2 268.0,154.1 274.0,155.1 280.0,156.1 286.0,157.3 292.0,158.5 298.0,159.8 304.0,161.2 310.0,162.6 316.0,164.2"/><path d="M-2.0,231.6 4.0,227.1 10.0,222.7 16.0,218.5 22.0,214.4 28.0,210.4 34.0,206.5 40.0,202.9 46.0,199.3 52.0,195.9 58.0,192.6 64.0,189.4 70.0,186.4 76.0,183.5 82.0,180.8 88.0,178.2 94.0,175.7 100.0,173.4 106.0,171.2 112.0,169.1 118.0,167.2 124.0,165.4 130.0,163.7 136.0,162.2 142.0,160.8 148.0,159.5 154.0,158.4 160.0,157.4 166.0,156.5 172.0,155.8 178.0,155.2 184.0,154.7 190.0,154.4 196.0,154.2 202.0,154.3 208.0,154.4 214.0,154.6 220.0,154.9 226.0,155.2 232.0,155.7 238.0,156.2 244.0,156.8 250.0,157.4 256.0,158.2 262.0,159.0 268.0,159.9 274.0,160.9 280.0,161.9 286.0,163.0 292.0,164.3 298.0,165.5 304.0,166.9 310.0,168.3 316.0,169.8"/><path d="M-2.0,240.4 4.0,235.8 10.0,231.2 16.0,226.8 22.0,222.6 28.0,218.5 34.0,214.5 40.0,210.7 46.0,207.0 52.0,203.5 58.0,200.1 64.0,196.8 70.0,193.7 76.0,190.7 82.0,187.9 88.0,185.2 94.0,182.6 100.0,180.2 106.0,177.9 112.0,175.7 118.0,173.7 124.0,171.9 130.0,170.1 136.0,168.5 142.0,167.1 148.0,165.8 154.0,164.6 160.0,163.5 166.0,162.6 172.0,161.8 178.0,161.2 184.0,160.7 190.0,160.3 196.0,160.1 202.0,160.2 208.0,160.3 214.0,160.5 220.0,160.8 226.0,161.1 232.0,161.5 238.0,162.0 244.0,162.6 250.0,163.3 256.0,164.0 262.0,164.8 268.0,165.7 274.0,166.7 280.0,167.7 286.0,168.8 292.0,170.0 298.0,171.3 304.0,172.6 310.0,174.0 316.0,175.5"/><path d="M-2.0,249.3 4.0,244.5 10.0,239.8 16.0,235.3 22.0,230.9 28.0,226.6 34.0,222.5 40.0,218.6 46.0,214.8 52.0,211.1 58.0,207.6 64.0,204.2 70.0,201.0 76.0,197.9 82.0,194.9 88.0,192.1 94.0,189.5 100.0,187.0 106.0,184.6 112.0,182.4 118.0,180.3 124.0,178.3 130.0,176.5 136.0,174.9 142.0,173.4 148.0,172.0 154.0,170.7 160.0,169.6 166.0,168.7 172.0,167.9 178.0,167.2 184.0,166.6 190.0,166.2 196.0,166.0 202.0,166.1 208.0,166.2 214.0,166.4 220.0,166.6 226.0,167.0 232.0,167.4 238.0,167.9 244.0,168.5 250.0,169.1 256.0,169.9 262.0,170.6 268.0,171.5 274.0,172.5 280.0,173.5 286.0,174.6 292.0,175.7 298.0,177.0 304.0,178.3 310.0,179.7 316.0,181.2"/><path d="M-2.0,258.2 4.0,253.3 10.0,248.5 16.0,243.8 22.0,239.2 28.0,234.8 34.0,230.6 40.0,226.5 46.0,222.5 52.0,218.8 58.0,215.1 64.0,211.6 70.0,208.3 76.0,205.1 82.0,202.0 88.0,199.1 94.0,196.4 100.0,193.8 106.0,191.3 112.0,189.0 118.0,186.8 124.0,184.8 130.0,183.0 136.0,181.2 142.0,179.6 148.0,178.2 154.0,176.9 160.0,175.8 166.0,174.8 172.0,173.9 178.0,173.2 184.0,172.6 190.0,172.2 196.0,171.9 202.0,171.9 208.0,172.1 214.0,172.3 220.0,172.5 226.0,172.9 232.0,173.3 238.0,173.8 244.0,174.3 250.0,175.0 256.0,175.7 262.0,176.5 268.0,177.3 274.0,178.3 280.0,179.3 286.0,180.3 292.0,181.5 298.0,182.7 304.0,184.0 310.0,185.4 316.0,186.8"/><path d="M-2.0,267.3 4.0,262.2 10.0,257.2 16.0,252.3 22.0,247.6 28.0,243.1 34.0,238.7 40.0,234.5 46.0,230.4 52.0,226.5 58.0,222.7 64.0,219.1 70.0,215.6 76.0,212.3 82.0,209.2 88.0,206.2 94.0,203.3 100.0,200.6 106.0,198.1 112.0,195.7 118.0,193.4 124.0,191.3 130.0,189.4 136.0,187.6 142.0,185.9 148.0,184.4 154.0,183.1 160.0,181.9 166.0,180.8 172.0,179.9 178.0,179.2 184.0,178.6 190.0,178.1 196.0,177.8 202.0,177.8 208.0,178.0 214.0,178.2 220.0,178.4 226.0,178.8 232.0,179.2 238.0,179.7 244.0,180.2 250.0,180.8 256.0,181.5 262.0,182.3 268.0,183.1 274.0,184.1 280.0,185.0 286.0,186.1 292.0,187.2 298.0,188.4 304.0,189.7 310.0,191.1 316.0,192.5"/><path d="M-2.0,276.4 4.0,271.2 10.0,266.0 16.0,261.0 22.0,256.1 28.0,251.4 34.0,246.8 40.0,242.5 46.0,238.3 52.0,234.2 58.0,230.3 64.0,226.6 70.0,223.0 76.0,219.6 82.0,216.3 88.0,213.2 94.0,210.2 100.0,207.5 106.0,204.8 112.0,202.3 118.0,200.0 124.0,197.8 130.0,195.8 136.0,194.0 142.0,192.2 148.0,190.7 154.0,189.3 160.0,188.0 166.0,186.9 172.0,186.0 178.0,185.2 184.0,184.5 190.0,184.0 196.0,183.7 202.0,183.7 208.0,183.9 214.0,184.1 220.0,184.3 226.0,184.6 232.0,185.0 238.0,185.5 244.0,186.1 250.0,186.7 256.0,187.4 262.0,188.1 268.0,189.0 274.0,189.9 280.0,190.8 286.0,191.9 292.0,193.0 298.0,194.2 304.0,195.4 310.0,196.7 316.0,198.1"/><path d="M-2.0,285.6 4.0,280.2 10.0,274.8 16.0,269.6 22.0,264.6 28.0,259.7 34.0,255.1 40.0,250.5 46.0,246.2 52.0,242.0 58.0,237.9 64.0,234.1 70.0,230.4 76.0,226.8 82.0,223.5 88.0,220.3 94.0,217.2 100.0,214.3 106.0,211.6 112.0,209.0 118.0,206.6 124.0,204.4 130.0,202.3 136.0,200.3 142.0,198.5 148.0,196.9 154.0,195.5 160.0,194.2 166.0,193.0 172.0,192.0 178.0,191.2 184.0,190.5 190.0,189.9 196.0,189.6 202.0,189.6 208.0,189.8 214.0,189.9 220.0,190.2 226.0,190.5 232.0,190.9 238.0,191.4 244.0,191.9 250.0,192.5 256.0,193.2 262.0,194.0 268.0,194.8 274.0,195.6 280.0,196.6 286.0,197.6 292.0,198.7 298.0,199.9 304.0,201.1 310.0,202.4 316.0,203.8"/><path d="M-2.0,294.8 4.0,289.3 10.0,283.7 16.0,278.4 22.0,273.2 28.0,268.2 34.0,263.3 40.0,258.6 46.0,254.1 52.0,249.8 58.0,245.6 64.0,241.6 70.0,237.8 76.0,234.1 82.0,230.7 88.0,227.3 94.0,224.2 100.0,221.2 106.0,218.4 112.0,215.7 118.0,213.2 124.0,210.9 130.0,208.7 136.0,206.7 142.0,204.9 148.0,203.2 154.0,201.7 160.0,200.3 166.0,199.1 172.0,198.0 178.0,197.2 184.0,196.4 190.0,195.9 196.0,195.5 202.0,195.5 208.0,195.7 214.0,195.8 220.0,196.1 226.0,196.4 232.0,196.8 238.0,197.3 244.0,197.8 250.0,198.4 256.0,199.0 262.0,199.8 268.0,200.6 274.0,201.4 280.0,202.4 286.0,203.4 292.0,204.5 298.0,205.6 304.0,206.8 310.0,208.1 316.0,209.4"/><path d="M-2.0,304.2 4.0,298.5 10.0,292.7 16.0,287.2 22.0,281.8 28.0,276.6 34.0,271.6 40.0,266.8 46.0,262.1 52.0,257.6 58.0,253.3 64.0,249.2 70.0,245.3 76.0,241.5 82.0,237.9 88.0,234.4 94.0,231.2 100.0,228.1 106.0,225.2 112.0,222.4 118.0,219.8 124.0,217.4 130.0,215.2 136.0,213.1 142.0,211.2 148.0,209.4 154.0,207.8 160.0,206.4 166.0,205.2 172.0,204.1 178.0,203.2 184.0,202.4 190.0,201.8 196.0,201.4 202.0,201.4 208.0,201.6 214.0,201.7 220.0,202.0 226.0,202.3 232.0,202.7 238.0,203.1 244.0,203.6 250.0,204.2 256.0,204.9 262.0,205.6 268.0,206.4 274.0,207.2 280.0,208.2 286.0,209.2 292.0,210.2 298.0,211.3 304.0,212.5 310.0,213.8 316.0,215.1"/><path d="M-2.0,313.6 4.0,307.7 10.0,301.8 16.0,296.0 22.0,290.5 28.0,285.1 34.0,280.0 40.0,275.0 46.0,270.2 52.0,265.5 58.0,261.1 64.0,256.8 70.0,252.7 76.0,248.8 82.0,245.1 88.0,241.6 94.0,238.2 100.0,235.0 106.0,232.0 112.0,229.1 118.0,226.5 124.0,224.0 130.0,221.6 136.0,219.5 142.0,217.5 148.0,215.7 154.0,214.0 160.0,212.6 166.0,211.3 172.0,210.1 178.0,209.1 184.0,208.3 190.0,207.7 196.0,207.3 202.0,207.3 208.0,207.5 214.0,207.6 220.0,207.9 226.0,208.2 232.0,208.6 238.0,209.0 244.0,209.5 250.0,210.1 256.0,210.7 262.0,211.4 268.0,212.2 274.0,213.0 280.0,213.9 286.0,214.9 292.0,216.0 298.0,217.1 304.0,218.2 310.0,219.5 316.0,220.8"/><path d="M-2.0,323.1 4.0,317.0 10.0,310.9 16.0,305.0 22.0,299.2 28.0,293.7 34.0,288.4 40.0,283.2 46.0,278.3 52.0,273.5 58.0,268.9 64.0,264.5 70.0,260.3 76.0,256.2 82.0,252.4 88.0,248.7 94.0,245.2 100.0,241.9 106.0,238.8 112.0,235.9 118.0,233.1 124.0,230.5 130.0,228.1 136.0,225.9 142.0,223.8 148.0,221.9 154.0,220.2 160.0,218.7 166.0,217.3 172.0,216.2 178.0,215.1 184.0,214.3 190.0,213.6 196.0,213.2 202.0,213.2 208.0,213.4 214.0,213.5 220.0,213.8 226.0,214.1 232.0,214.4 238.0,214.9 244.0,215.4 250.0,215.9 256.0,216.6 262.0,217.3 268.0,218.0 274.0,218.8 280.0,219.7 286.0,220.7 292.0,221.7 298.0,222.8 304.0,223.9 310.0,225.1 316.0,226.4"/><path d="M-2.0,332.7 4.0,326.4 10.0,320.1 16.0,314.0 22.0,308.0 28.0,302.3 34.0,296.8 40.0,291.5 46.0,286.4 52.0,281.4 58.0,276.7 64.0,272.2 70.0,267.8 76.0,263.6 82.0,259.7 88.0,255.9 94.0,252.3 100.0,248.9 106.0,245.6 112.0,242.6 118.0,239.7 124.0,237.1 130.0,234.6 136.0,232.3 142.0,230.1 148.0,228.2 154.0,226.4 160.0,224.8 166.0,223.4 172.0,222.2 178.0,221.1 184.0,220.3 190.0,219.6 196.0,219.1 202.0,219.1 208.0,219.2 214.0,219.4 220.0,219.7 226.0,220.0 232.0,220.3 238.0,220.7 244.0,221.2 250.0,221.8 256.0,222.4 262.0,223.1 268.0,223.8 274.0,224.6 280.0,225.5 286.0,226.4 292.0,227.4 298.0,228.5 304.0,229.6 310.0,230.8 316.0,232.1"/><path d="M-2.0,342.3 4.0,335.8 10.0,329.3 16.0,323.0 22.0,316.9 28.0,311.0 34.0,305.3 40.0,299.8 46.0,294.5 52.0,289.5 58.0,284.6 64.0,279.9 70.0,275.4 76.0,271.1 82.0,267.0 88.0,263.1 94.0,259.3 100.0,255.8 106.0,252.5 112.0,249.4 118.0,246.4 124.0,243.6 130.0,241.1 136.0,238.7 142.0,236.5 148.0,234.5 154.0,232.6 160.0,231.0 166.0,229.5 172.0,228.2 178.0,227.1 184.0,226.2 190.0,225.5 196.0,225.0 202.0,225.0 208.0,225.1 214.0,225.3 220.0,225.5 226.0,225.8 232.0,226.2 238.0,226.6 244.0,227.1 250.0,227.6 256.0,228.2 262.0,228.9 268.0,229.6 274.0,230.4 280.0,231.3 286.0,232.2 292.0,233.2 298.0,234.2 304.0,235.3 310.0,236.5 316.0,237.7"/><path d="M-2.0,352.0 4.0,345.3 10.0,338.6 16.0,332.1 22.0,325.8 28.0,319.7 34.0,313.9 40.0,308.2 46.0,302.7 52.0,297.5 58.0,292.5 64.0,287.6 70.0,283.0 76.0,278.5 82.0,274.3 88.0,270.3 94.0,266.4 100.0,262.8 106.0,259.4 112.0,256.1 118.0,253.1 124.0,250.2 130.0,247.6 136.0,245.1 142.0,242.8 148.0,240.7 154.0,238.8 160.0,237.1 166.0,235.6 172.0,234.3 178.0,233.1 184.0,232.2 190.0,231.4 196.0,230.9 202.0,230.9 208.0,231.0 214.0,231.2 220.0,231.4 226.0,231.7 232.0,232.1 238.0,232.5 244.0,232.9 250.0,233.5 256.0,234.1 262.0,234.7 268.0,235.4 274.0,236.2 280.0,237.1 286.0,238.0 292.0,238.9 298.0,240.0 304.0,241.0 310.0,242.2 316.0,243.4"/><path d="M-2.0,361.8 4.0,354.9 10.0,348.0 16.0,341.3 22.0,334.8 28.0,328.5 34.0,322.5 40.0,316.6 46.0,311.0 52.0,305.6 58.0,300.4 64.0,295.4 70.0,290.6 76.0,286.0 82.0,281.7 88.0,277.5 94.0,273.5 100.0,269.8 106.0,266.2 112.0,262.9 118.0,259.8 124.0,256.8 130.0,254.1 136.0,251.5 142.0,249.2 148.0,247.0 154.0,245.0 160.0,243.3 166.0,241.7 172.0,240.3 178.0,239.1 184.0,238.1 190.0,237.3 196.0,236.8 202.0,236.8 208.0,236.9 214.0,237.1 220.0,237.3 226.0,237.6 232.0,237.9 238.0,238.3 244.0,238.8 250.0,239.3 256.0,239.9 262.0,240.6 268.0,241.3 274.0,242.0 280.0,242.8 286.0,243.7 292.0,244.7 298.0,245.7 304.0,246.7 310.0,247.9 316.0,249.1"/><path d="M-2.0,371.7 4.0,364.6 10.0,357.4 16.0,350.5 22.0,343.8 28.0,337.4 34.0,331.1 40.0,325.1 46.0,319.3 52.0,313.7 58.0,308.3 64.0,303.2 70.0,298.3 76.0,293.5 82.0,289.0 88.0,284.7 94.0,280.7 100.0,276.8 106.0,273.1 112.0,269.7 118.0,266.4 124.0,263.4 130.0,260.6 136.0,257.9 142.0,255.5 148.0,253.3 154.0,251.3 160.0,249.4 166.0,247.8 172.0,246.4 178.0,245.1 184.0,244.1 190.0,243.3 196.0,242.7 202.0,242.7 208.0,242.8 214.0,243.0 220.0,243.2 226.0,243.5 232.0,243.8 238.0,244.2 244.0,244.7 250.0,245.2 256.0,245.8 262.0,246.4 268.0,247.1 274.0,247.8 280.0,248.6 286.0,249.5 292.0,250.4 298.0,251.4 304.0,252.4 310.0,253.6 316.0,254.7"/><path d="M-2.0,381.6 4.0,374.3 10.0,366.9 16.0,359.8 22.0,352.9 28.0,346.2 34.0,339.8 40.0,333.6 46.0,327.6 52.0,321.9 58.0,316.3 64.0,311.0 70.0,305.9 76.0,301.1 82.0,296.4 88.0,292.0 94.0,287.8 100.0,283.8 106.0,280.0 112.0,276.5 118.0,273.1 124.0,270.0 130.0,267.1 136.0,264.4 142.0,261.9 148.0,259.6 154.0,257.5 160.0,255.6 166.0,253.9 172.0,252.4 178.0,251.1 184.0,250.1 190.0,249.2 196.0,248.6 202.0,248.6 208.0,248.7 214.0,248.9 220.0,249.1 226.0,249.4 232.0,249.7 238.0,250.1 244.0,250.5 250.0,251.0 256.0,251.6 262.0,252.2 268.0,252.9 274.0,253.6 280.0,254.4 286.0,255.3 292.0,256.2 298.0,257.1 304.0,258.2 310.0,259.2 316.0,260.4"/><path d="M-2.0,391.6 4.0,384.1 10.0,376.5 16.0,369.2 22.0,362.1 28.0,355.2 34.0,348.6 40.0,342.2 46.0,336.0 52.0,330.1 58.0,324.4 64.0,318.9 70.0,313.7 76.0,308.6 82.0,303.9 88.0,299.3 94.0,295.0 100.0,290.9 106.0,287.0 112.0,283.3 118.0,279.9 124.0,276.6 130.0,273.6 136.0,270.8 142.0,268.2 148.0,265.9 154.0,263.7 160.0,261.7 166.0,260.0 172.0,258.5 178.0,257.1 184.0,256.0 190.0,255.1 196.0,254.5 202.0,254.5 208.0,254.6 214.0,254.8 220.0,255.0 226.0,255.3 232.0,255.6 238.0,256.0 244.0,256.4 250.0,256.9 256.0,257.4 262.0,258.0 268.0,258.7 274.0,259.4 280.0,260.2 286.0,261.0 292.0,261.9 298.0,262.9 304.0,263.9 310.0,264.9 316.0,266.0"/><path d="M-2.0,401.7 4.0,394.0 10.0,386.2 16.0,378.6 22.0,371.3 28.0,364.2 34.0,357.3 40.0,350.8 46.0,344.4 52.0,338.3 58.0,332.4 64.0,326.8 70.0,321.4 76.0,316.2 82.0,311.3 88.0,306.6 94.0,302.2 100.0,297.9 106.0,293.9 112.0,290.1 118.0,286.6 124.0,283.2 130.0,280.1 136.0,277.3 142.0,274.6 148.0,272.1 154.0,269.9 160.0,267.9 166.0,266.1 172.0,264.5 178.0,263.1 184.0,262.0 190.0,261.0 196.0,260.4 202.0,260.4 208.0,260.5 214.0,260.7 220.0,260.9 226.0,261.1 232.0,261.5 238.0,261.8 244.0,262.3 250.0,262.7 256.0,263.3 262.0,263.9 268.0,264.5 274.0,265.2 280.0,266.0 286.0,266.8 292.0,267.7 298.0,268.6 304.0,269.6 310.0,270.6 316.0,271.7"/><path d="M-2.0,409.7 4.0,401.9 10.0,394.0 16.0,386.3 22.0,378.9 28.0,371.7 34.0,364.8 40.0,358.1 46.0,351.7 52.0,345.5 58.0,339.5 64.0,333.8 70.0,328.3 76.0,323.1 82.0,318.1 88.0,313.4 94.0,308.8 100.0,304.5 106.0,300.5 112.0,296.6 118.0,293.0 124.0,289.6 130.0,286.5 136.0,283.5 142.0,280.8 148.0,278.3 154.0,276.1 160.0,274.0 166.0,272.2 172.0,270.5 178.0,269.1 184.0,267.9 190.0,267.0 196.0,266.3 202.0,266.3 208.0,266.4 214.0,266.6 220.0,266.8 226.0,267.0 232.0,267.3 238.0,267.7 244.0,268.1 250.0,268.6 256.0,269.1 262.0,269.7 268.0,270.4 274.0,271.1 280.0,271.8 286.0,272.6 292.0,273.5 298.0,274.4 304.0,275.4 310.0,276.4 316.0,277.5"/><path d="M-2.0,416.6 4.0,408.7 10.0,400.7 16.0,393.0 22.0,385.6 28.0,378.4 34.0,371.4 40.0,364.7 46.0,358.3 52.0,352.1 58.0,346.1 64.0,340.3 70.0,334.8 76.0,329.6 82.0,324.5 88.0,319.8 94.0,315.2 100.0,310.9 106.0,306.8 112.0,302.9 118.0,299.3 124.0,295.9 130.0,292.7 136.0,289.7 142.0,287.0 148.0,284.4 154.0,282.1 160.0,280.1 166.0,278.2 172.0,276.5 178.0,275.1 184.0,273.9 190.0,272.9 196.0,272.2 202.0,272.2 208.0,272.3 214.0,272.5 220.0,272.7 226.0,272.9 232.0,273.2 238.0,273.6 244.0,274.0 250.0,274.5 256.0,275.0 262.0,275.6 268.0,276.3 274.0,277.0 280.0,277.7 286.0,278.5 292.0,279.4 298.0,280.3 304.0,281.3 310.0,282.3 316.0,283.4"/><path d="M-2.0,423.4 4.0,415.5 10.0,407.5 16.0,399.8 22.0,392.3 28.0,385.1 34.0,378.1 40.0,371.4 46.0,364.9 52.0,358.6 58.0,352.6 64.0,346.9 70.0,341.3 76.0,336.0 82.0,331.0 88.0,326.2 94.0,321.6 100.0,317.2 106.0,313.1 112.0,309.2 118.0,305.5 124.0,302.1 130.0,298.9 136.0,295.9 142.0,293.1 148.0,290.6 154.0,288.2 160.0,286.1 166.0,284.2 172.0,282.6 178.0,281.1 184.0,279.8 190.0,278.8 196.0,278.1 202.0,278.1 208.0,278.2 214.0,278.4 220.0,278.6 226.0,278.8 232.0,279.1 238.0,279.5 244.0,279.9 250.0,280.4 256.0,280.9 262.0,281.5 268.0,282.2 274.0,282.9 280.0,283.6 286.0,284.4 292.0,285.3 298.0,286.2 304.0,287.2 310.0,288.2 316.0,289.3"/><path d="M-2.0,430.2 4.0,422.3 10.0,414.3 16.0,406.5 22.0,399.0 28.0,391.8 34.0,384.8 40.0,378.0 46.0,371.5 52.0,365.2 58.0,359.2 64.0,353.4 70.0,347.8 76.0,342.5 82.0,337.4 88.0,332.6 94.0,328.0 100.0,323.6 106.0,319.4 112.0,315.5 118.0,311.8 124.0,308.3 130.0,305.1 136.0,302.1 142.0,299.3 148.0,296.7 154.0,294.3 160.0,292.2 166.0,290.3 172.0,288.6 178.0,287.1 184.0,285.8 190.0,284.7 196.0,284.0 202.0,284.0 208.0,284.1 214.0,284.3 220.0,284.5 226.0,284.7 232.0,285.0 238.0,285.4 244.0,285.8 250.0,286.3 256.0,286.8 262.0,287.4 268.0,288.1 274.0,288.8 280.0,289.5 286.0,290.3 292.0,291.2 298.0,292.1 304.0,293.1 310.0,294.1 316.0,295.2"/></g></defs>
<use href="#sp0" transform="translate(21.5,5.3)" fill="none" stroke="#a8a8a8" stroke-width="2.80" stroke-opacity="0.50"/>
<defs><linearGradient id="cg0" gradientUnits="userSpaceOnUse" x1="0" y1="0.0" x2="0" y2="283.9"><stop offset="0" stop-color="#d1d1d1"/><stop offset="0.55" stop-color="#d1d1d1"/><stop offset="1" stop-color="#e0e0e0"/></linearGradient></defs>
<use href="#sp0" transform="translate(21.5,5.3)" fill="none" stroke="url(#cg0)" stroke-width="1.45"/>
</g>
<defs><linearGradient id="og0" gradientUnits="userSpaceOnUse" x1="0" y1="0" x2="0" y2="283.9"><stop offset="0" stop-color="#66aeb3" stop-opacity="0.62"/><stop offset="0.55" stop-color="#66aeb3" stop-opacity="0.62"/><stop offset="1" stop-color="#3a8cbf" stop-opacity="0.90"/></linearGradient></defs>
<use href="#sp0" transform="translate(21.5,5.3)" fill="none" stroke="url(#og0)" stroke-width="1.30" filter="url(#sb)"/>
</g>
<rect x="21.5" y="5.3" width="325.0" height="283.9" fill="none" stroke="#8a8a8a" stroke-width="1.25"/>
<line x1="112.5" y1="180.9" x2="315.1" y2="175.4" stroke="#1a1a1a" stroke-width="1.1"/>
<text x="321.0" y="136.9" font-size="12.6" text-anchor="middle">A</text>
<text x="330.5" y="211.9" font-size="12.6" text-anchor="middle">B</text>
<text x="351.6" y="114.9" font-size="9.5">NDVI</text>
<rect x="351.9" y="119.1" width="10" height="5.4" fill="#d7191c"/>
<text x="364.4" y="124.7" font-size="9.3">0.05</text>
<rect x="351.9" y="129.2" width="10" height="5.4" fill="#ed7d4e"/>
<text x="364.4" y="134.8" font-size="9.3">0.28</text>
<rect x="351.9" y="139.2" width="10" height="5.4" fill="#fec780"/>
<text x="364.4" y="144.8" font-size="9.3">0.32</text>
<rect x="351.9" y="149.2" width="10" height="5.4" fill="#ffffbf"/>
<text x="364.4" y="154.8" font-size="9.3">0.37</text>
<rect x="351.9" y="159.3" width="10" height="5.4" fill="#c7e8a8"/>
<text x="364.4" y="164.9" font-size="9.3">0.44</text>
<rect x="351.9" y="169.3" width="10" height="5.4" fill="#7abea8"/>
<text x="364.4" y="174.9" font-size="9.3">0.57</text>
<rect x="351.9" y="179.4" width="10" height="5.4" fill="#2b83ba"/>
<text x="364.4" y="185.0" font-size="9.3">0.91</text>
<text transform="translate(13.9,50.7) rotate(-90)" font-size="11" text-anchor="middle" dy="3.8" textLength="35" lengthAdjust="spacingAndGlyphs">7664843</text>
<text transform="translate(13.9,146.3) rotate(-90)" font-size="11" text-anchor="middle" dy="3.8" textLength="35" lengthAdjust="spacingAndGlyphs">7664783</text>
<text transform="translate(13.9,241.3) rotate(-90)" font-size="11" text-anchor="middle" dy="3.8" textLength="35" lengthAdjust="spacingAndGlyphs">7664723</text>
<text x="26.7" y="301.0" font-size="11" textLength="35" lengthAdjust="spacingAndGlyphs">1132470</text>
<text x="169.5" y="301.0" font-size="11" textLength="35" lengthAdjust="spacingAndGlyphs">1132560</text>
<text x="312.3" y="301.0" font-size="11" textLength="35" lengthAdjust="spacingAndGlyphs">1132650</text>
<circle cx="77.5" cy="235.1" r="8.3" fill="url(#ng)" stroke="#333" stroke-width="0.8"/>
<path d="M77.5,222.2 L85.5,242.1 L77.5,235.1 Z" fill="url(#ag)"/>
<path d="M77.5,222.2 L69.5,242.1 L77.5,235.1 Z" fill="#f2f2f2"/>
<path d="M77.5,222.2 L85.5,242.1 L77.5,235.1 L69.5,242.1 Z" fill="none" stroke="#1e1e1e" stroke-width="0.9" stroke-linejoin="miter"/>
<rect x="49.8" y="257.7" width="47.9" height="4.4" fill="#fff" stroke="#000" stroke-width="0.6"/>
<rect x="49.8" y="257.7" width="16" height="4.4" fill="#000"/>
<rect x="81.7" y="257.7" width="16" height="4.4" fill="#000"/>
<text x="49.8" y="253.8" font-size="6" text-anchor="middle">0</text>
<text x="65.8" y="253.8" font-size="6" text-anchor="middle">10</text>
<text x="81.7" y="253.8" font-size="6" text-anchor="middle">20</text>
<text x="97.7" y="253.8" font-size="6" text-anchor="middle">30</text>
<text x="102.1" y="253.8" font-size="6">m</text>
<defs><filter id="f1" filterUnits="userSpaceOnUse" x="418.7" y="5.3" width="325.8" height="283.3" color-interpolation-filters="sRGB"><feGaussianBlur in="SourceGraphic" stdDeviation="0.7" result="s"/><feTurbulence type="fractalNoise" baseFrequency="0.3 0.6" numOctaves="1" seed="10" result="t1"/><feColorMatrix in="t1" type="matrix" values="1 0 0 0 0 1 0 0 0 0 1 0 0 0 0 0 0 0 0 1" result="n1"/><feTurbulence type="fractalNoise" baseFrequency="0.08 0.3" numOctaves="2" seed="16" result="t2"/><feColorMatrix in="t2" type="matrix" values="1 0 0 0 0 1 0 0 0 0 1 0 0 0 0 0 0 0 0 1" result="n2"/><feComposite in="s" in2="n2" operator="arithmetic" k1="0" k2="1" k3="0.500" k4="-0.250" result="s2"/><feComponentTransfer in="n1" result="MA"><feFuncR type="table" tableValues="0.000 0.000 0.000 0.000 0.000 0.000 0.000 0.000 0.000 0.000 0.000 0.000 0.000 0.000 0.000 0.000 0.000 0.000 0.000 0.000 0.000 0.000 0.000 0.000 0.250 0.875 1.000 1.000 1.000 1.000 1.000 1.000 1.000 1.000 1.000 1.000 1.000 1.000 1.000 1.000 1.000"/><feFuncG type="table" tableValues="0.000 0.000 0.000 0.000 0.000 0.000 0.000 0.000 0.000 0.000 0.000 0.000 0.000 0.000 0.000 0.000 0.000 0.000 0.000 0.000 0.000 0.000 0.000 0.000 0.250 0.875 1.000 1.000 1.000 1.000 1.000 1.000 1.000 1.000 1.000 1.000 1.000 1.000 1.000 1.000 1.000"/><feFuncB type="table" tableValues="0.000 0.000 0.000 0.000 0.000 0.000 0.000 0.000 0.000 0.000 0.000 0.000 0.000 0.000 0.000 0.000 0.000 0.000 0.000 0.000 0.000 0.000 0.000 0.000 0.250 0.875 1.000 1.000 1.000 1.000 1.000 1.000 1.000 1.000 1.000 1.000 1.000 1.000 1.000 1.000 1.000"/></feComponentTransfer><feComponentTransfer in="n1" result="MB"><feFuncR type="table" tableValues="1.000 1.000 1.000 1.000 1.000 1.000 1.000 1.000 1.000 1.000 1.000 1.000 1.000 1.000 1.000 0.875 0.250 0.000 0.000 0.000 0.000 0.000 0.000 0.000 0.000 0.000 0.000 0.000 0.000 0.000 0.000 0.000 0.000 0.000 0.000 0.000 0.000 0.000 0.000 0.000 0.000"/><feFuncG type="table" tableValues="1.000 1.000 1.000 1.000 1.000 1.000 1.000 1.000 1.000 1.000 1.000 1.000 1.000 1.000 1.000 0.875 0.250 0.000 0.000 0.000 0.000 0.000 0.000 0.000 0.000 0.000 0.000 0.000 0.000 0.000 0.000 0.000 0.000 0.000 0.000 0.000 0.000 0.000 0.000 0.000 0.000"/><feFuncB type="table" tableValues="1.000 1.000 1.000 1.000 1.000 1.000 1.000 1.000 1.000 1.000 1.000 1.000 1.000 1.000 1.000 0.875 0.250 0.000 0.000 0.000 0.000 0.000 0.000 0.000 0.000 0.000 0.000 0.000 0.000 0.000 0.000 0.000 0.000 0.000 0.000 0.000 0.000 0.000 0.000 0.000 0.000"/></feComponentTransfer><feComponentTransfer in="s2" result="XA"><feFuncR type="linear" slope="-0.700" intercept="0.294"/><feFuncG type="linear" slope="-0.700" intercept="0.294"/><feFuncB type="linear" slope="-0.700" intercept="0.294"/></feComponentTransfer><feComposite in="XA" in2="MA" operator="arithmetic" k1="1" k2="0" k3="0" k4="0" result="PA"/><feComponentTransfer in="s2" result="XB"><feFuncR type="linear" slope="0.700" intercept="-0.140"/><feFuncG type="linear" slope="0.700" intercept="-0.140"/><feFuncB type="linear" slope="0.700" intercept="-0.140"/></feComponentTransfer><feComposite in="XB" in2="MB" operator="arithmetic" k1="1" k2="0" k3="0" k4="0" result="PB"/><feComponentTransfer in="PB" result="QB"><feFuncR type="linear" slope="-1" intercept="1"/><feFuncG type="linear" slope="-1" intercept="1"/><feFuncB type="linear" slope="-1" intercept="1"/></feComponentTransfer><feComposite in="s2" in2="PA" operator="arithmetic" k1="0" k2="1" k3="1" k4="0" result="v1"/><feComposite in="v1" in2="QB" operator="arithmetic" k1="0" k2="1" k3="1" k4="-1" result="v2"/><feComponentTransfer in="v2" result="cm"><feFuncR type="table" tableValues="0.8431 0.9294 0.9961 1.0000 0.7804 0.4784 0.1686"/><feFuncG type="table" tableValues="0.0980 0.4902 0.7804 1.0000 0.9098 0.7451 0.5137"/><feFuncB type="table" tableValues="0.1098 0.3059 0.5020 0.7490 0.6588 0.6588 0.7294"/><feFuncA type="linear" slope="0" intercept="1"/></feComponentTransfer><feGaussianBlur in="cm" stdDeviation="0.5"/></filter></defs>
<defs><linearGradient id="bg1" x1="0" y1="0" x2="0" y2="1"><stop offset="0.00" stop-color="#4c4c4c"/><stop offset="1.00" stop-color="#575757"/></linearGradient></defs>
<g clip-path="url(#c1)"><g filter="url(#f1)">
<rect x="418.7" y="5.3" width="325.8" height="283.3" fill="url(#bg1)"/>
<g filter="url(#bl)">
<ellipse cx="448.7" cy="50.3" rx="25.0" ry="20.0" fill="#bdbdbd"/>
<ellipse cx="473.7" cy="95.3" rx="35.0" ry="35.0" fill="#bdbdbd"/>
<ellipse cx="498.7" cy="145.3" rx="25.0" ry="35.0" fill="#b2b2b2"/>
<ellipse cx="433.7" cy="40.3" rx="12.0" ry="8.0" fill="#b8b8b8"/>
<ellipse cx="498.7" cy="30.3" rx="55.0" ry="12.0" fill="#1a1a1a"/>
<ellipse cx="628.7" cy="75.3" rx="60.0" ry="30.0" fill="#1c1c1c"/>
<ellipse cx="678.7" cy="105.3" rx="30.0" ry="25.0" fill="#1c1c1c"/>
<ellipse cx="540.7" cy="80.3" rx="18.0" ry="28.0" fill="#808080"/>
<ellipse cx="568.7" cy="125.3" rx="35.0" ry="14.0" fill="#141414"/>
<ellipse cx="678.7" cy="140.3" rx="35.0" ry="35.0" fill="#1c1c1c"/>
<ellipse cx="700.7" cy="197.3" rx="18.0" ry="22.0" fill="#0a0a0a"/>
<ellipse cx="558.7" cy="210.3" rx="45.0" ry="35.0" fill="#999999"/>
<ellipse cx="603.7" cy="205.3" rx="20.0" ry="20.0" fill="#383838"/>
<ellipse cx="593.7" cy="257.3" rx="30.0" ry="10.0" fill="#333333"/>
<ellipse cx="633.7" cy="252.3" rx="15.0" ry="8.0" fill="#b8b8b8"/>
<ellipse cx="683.7" cy="240.3" rx="40.0" ry="35.0" fill="#575757"/>
</g>
<defs><g id="sp1"><path d="M-2.0,-53.2 4.0,-55.4 10.0,-57.1 16.0,-58.7 22.0,-60.3 28.0,-61.8 34.0,-63.2 40.0,-64.6 46.0,-65.8 52.0,-67.0 58.0,-68.1 64.0,-69.1 70.0,-70.0 76.0,-70.9 82.0,-71.6 88.0,-72.3 94.0,-72.9 100.0,-73.4 106.0,-73.8 112.0,-74.2 118.0,-74.4 124.0,-74.6 130.0,-74.7 136.0,-74.7 142.0,-74.6 148.0,-74.4 154.0,-74.1 160.0,-73.8 166.0,-73.4 172.0,-72.8 178.0,-72.2 184.0,-71.5 190.0,-70.7 196.0,-70.0 202.0,-69.9 208.0,-69.7 214.0,-69.5 220.0,-69.1 226.0,-68.6 232.0,-67.9 238.0,-67.2 244.0,-66.4 250.0,-65.5 256.0,-64.4 262.0,-63.3 268.0,-62.0 274.0,-60.6 280.0,-59.2 286.0,-57.6 292.0,-55.9 298.0,-54.1 304.0,-52.2 310.0,-50.2 316.0,-48.0"/><path d="M-2.0,-46.4 4.0,-48.6 10.0,-50.3 16.0,-52.0 22.0,-53.6 28.0,-55.1 34.0,-56.6 40.0,-57.9 46.0,-59.2 52.0,-60.4 58.0,-61.5 64.0,-62.6 70.0,-63.5 76.0,-64.4 82.0,-65.2 88.0,-65.9 94.0,-66.5 100.0,-67.0 106.0,-67.5 112.0,-67.9 118.0,-68.2 124.0,-68.4 130.0,-68.5 136.0,-68.5 142.0,-68.4 148.0,-68.3 154.0,-68.1 160.0,-67.7 166.0,-67.3 172.0,-66.8 178.0,-66.2 184.0,-65.6 190.0,-64.8 196.0,-64.1 202.0,-64.0 208.0,-63.8 214.0,-63.6 220.0,-63.2 226.0,-62.7 232.0,-62.0 238.0,-61.3 244.0,-60.5 250.0,-59.6 256.0,-58.5 262.0,-57.4 268.0,-56.1 274.0,-54.7 280.0,-53.3 286.0,-51.7 292.0,-50.0 298.0,-48.2 304.0,-46.3 310.0,-44.3 316.0,-42.1"/><path d="M-2.0,-39.6 4.0,-41.8 10.0,-43.5 16.0,-45.3 22.0,-46.9 28.0,-48.4 34.0,-49.9 40.0,-51.3 46.0,-52.6 52.0,-53.8 58.0,-55.0 64.0,-56.0 70.0,-57.0 76.0,-57.9 82.0,-58.7 88.0,-59.5 94.0,-60.1 100.0,-60.7 106.0,-61.2 112.0,-61.6 118.0,-61.9 124.0,-62.1 130.0,-62.3 136.0,-62.3 142.0,-62.3 148.0,-62.2 154.0,-62.0 160.0,-61.7 166.0,-61.3 172.0,-60.8 178.0,-60.3 184.0,-59.6 190.0,-58.9 196.0,-58.2 202.0,-58.1 208.0,-57.9 214.0,-57.7 220.0,-57.3 226.0,-56.8 232.0,-56.1 238.0,-55.4 244.0,-54.6 250.0,-53.7 256.0,-52.6 262.0,-51.5 268.0,-50.2 274.0,-48.8 280.0,-47.4 286.0,-45.8 292.0,-44.1 298.0,-42.3 304.0,-40.4 310.0,-38.4 316.0,-36.2"/><path d="M-2.0,-32.8 4.0,-35.0 10.0,-36.8 16.0,-38.5 22.0,-40.2 28.0,-41.7 34.0,-43.2 40.0,-44.7 46.0,-46.0 52.0,-47.3 58.0,-48.4 64.0,-49.5 70.0,-50.5 76.0,-51.5 82.0,-52.3 88.0,-53.1 94.0,-53.8 100.0,-54.4 106.0,-54.9 112.0,-55.3 118.0,-55.6 124.0,-55.9 130.0,-56.1 136.0,-56.1 142.0,-56.1 148.0,-56.0 154.0,-55.9 160.0,-55.6 166.0,-55.3 172.0,-54.8 178.0,-54.3 184.0,-53.7 190.0,-53.0 196.0,-52.3 202.0,-52.2 208.0,-52.0 214.0,-51.8 220.0,-51.4 226.0,-50.9 232.0,-50.2 238.0,-49.5 244.0,-48.7 250.0,-47.8 256.0,-46.7 262.0,-45.6 268.0,-44.3 274.0,-42.9 280.0,-41.5 286.0,-39.9 292.0,-38.2 298.0,-36.4 304.0,-34.5 310.0,-32.5 316.0,-30.3"/><path d="M-2.0,-25.9 4.0,-28.2 10.0,-30.0 16.0,-31.8 22.0,-33.5 28.0,-35.1 34.0,-36.6 40.0,-38.0 46.0,-39.4 52.0,-40.7 58.0,-41.9 64.0,-43.0 70.0,-44.0 76.0,-45.0 82.0,-45.9 88.0,-46.7 94.0,-47.4 100.0,-48.0 106.0,-48.5 112.0,-49.0 118.0,-49.4 124.0,-49.6 130.0,-49.8 136.0,-50.0 142.0,-50.0 148.0,-49.9 154.0,-49.8 160.0,-49.5 166.0,-49.2 172.0,-48.8 178.0,-48.3 184.0,-47.7 190.0,-47.0 196.0,-46.4 202.0,-46.3 208.0,-46.1 214.0,-45.9 220.0,-45.5 226.0,-45.0 232.0,-44.3 238.0,-43.6 244.0,-42.8 250.0,-41.9 256.0,-40.8 262.0,-39.7 268.0,-38.4 274.0,-37.0 280.0,-35.6 286.0,-34.0 292.0,-32.3 298.0,-30.5 304.0,-28.6 310.0,-26.6 316.0,-24.4"/><path d="M-2.0,-19.1 4.0,-21.3 10.0,-23.2 16.0,-25.0 22.0,-26.7 28.0,-28.4 34.0,-29.9 40.0,-31.4 46.0,-32.8 52.0,-34.1 58.0,-35.3 64.0,-36.5 70.0,-37.6 76.0,-38.5 82.0,-39.4 88.0,-40.3 94.0,-41.0 100.0,-41.7 106.0,-42.2 112.0,-42.7 118.0,-43.1 124.0,-43.4 130.0,-43.6 136.0,-43.8 142.0,-43.8 148.0,-43.8 154.0,-43.7 160.0,-43.5 166.0,-43.2 172.0,-42.8 178.0,-42.3 184.0,-41.8 190.0,-41.1 196.0,-40.5 202.0,-40.4 208.0,-40.2 214.0,-40.0 220.0,-39.6 226.0,-39.1 232.0,-38.4 238.0,-37.7 244.0,-36.9 250.0,-36.0 256.0,-34.9 262.0,-33.8 268.0,-32.5 274.0,-31.1 280.0,-29.7 286.0,-28.1 292.0,-26.4 298.0,-24.6 304.0,-22.7 310.0,-20.7 316.0,-18.5"/><path d="M-2.0,-12.3 4.0,-14.5 10.0,-16.5 16.0,-18.3 22.0,-20.0 28.0,-21.7 34.0,-23.3 40.0,-24.8 46.0,-26.2 52.0,-27.5 58.0,-28.8 64.0,-30.0 70.0,-31.1 76.0,-32.1 82.0,-33.0 88.0,-33.9 94.0,-34.6 100.0,-35.3 106.0,-35.9 112.0,-36.4 118.0,-36.8 124.0,-37.2 130.0,-37.4 136.0,-37.6 142.0,-37.7 148.0,-37.7 154.0,-37.6 160.0,-37.4 166.0,-37.1 172.0,-36.8 178.0,-36.3 184.0,-35.8 190.0,-35.2 196.0,-34.6 202.0,-34.5 208.0,-34.3 214.0,-34.1 220.0,-33.7 226.0,-33.2 232.0,-32.5 238.0,-31.8 244.0,-31.0 250.0,-30.1 256.0,-29.0 262.0,-27.9 268.0,-26.6 274.0,-25.2 280.0,-23.8 286.0,-22.2 292.0,-20.5 298.0,-18.7 304.0,-16.8 310.0,-14.8 316.0,-12.6"/><path d="M-2.0,-5.5 4.0,-7.7 10.0,-9.7 16.0,-11.5 22.0,-13.3 28.0,-15.0 34.0,-16.6 40.0,-18.1 46.0,-19.6 52.0,-21.0 58.0,-22.2 64.0,-23.5 70.0,-24.6 76.0,-25.6 82.0,-26.6 88.0,-27.5 94.0,-28.2 100.0,-29.0 106.0,-29.6 112.0,-30.1 118.0,-30.6 124.0,-30.9 130.0,-31.2 136.0,-31.4 142.0,-31.5 148.0,-31.6 154.0,-31.5 160.0,-31.3 166.0,-31.1 172.0,-30.8 178.0,-30.4 184.0,-29.9 190.0,-29.3 196.0,-28.7 202.0,-28.6 208.0,-28.4 214.0,-28.2 220.0,-27.8 226.0,-27.3 232.0,-26.6 238.0,-25.9 244.0,-25.1 250.0,-24.2 256.0,-23.1 262.0,-22.0 268.0,-20.7 274.0,-19.3 280.0,-17.9 286.0,-16.3 292.0,-14.6 298.0,-12.8 304.0,-10.9 310.0,-8.9 316.0,-6.7"/><path d="M-2.0,1.3 4.0,-0.9 10.0,-2.9 16.0,-4.8 22.0,-6.6 28.0,-8.3 34.0,-9.9 40.0,-11.5 46.0,-13.0 52.0,-14.4 58.0,-15.7 64.0,-16.9 70.0,-18.1 76.0,-19.2 82.0,-20.1 88.0,-21.1 94.0,-21.9 100.0,-22.6 106.0,-23.3 112.0,-23.8 118.0,-24.3 124.0,-24.7 130.0,-25.0 136.0,-25.2 142.0,-25.4 148.0,-25.4 154.0,-25.4 160.0,-25.3 166.0,-25.1 172.0,-24.8 178.0,-24.4 184.0,-23.9 190.0,-23.3 196.0,-22.8 202.0,-22.7 208.0,-22.5 214.0,-22.3 220.0,-21.9 226.0,-21.4 232.0,-20.7 238.0,-20.0 244.0,-19.2 250.0,-18.3 256.0,-17.2 262.0,-16.1 268.0,-14.8 274.0,-13.4 280.0,-12.0 286.0,-10.4 292.0,-8.7 298.0,-6.9 304.0,-5.0 310.0,-3.0 316.0,-0.8"/><path d="M-2.0,8.2 4.0,5.9 10.0,3.9 16.0,2.0 22.0,0.1 28.0,-1.6 34.0,-3.3 40.0,-4.9 46.0,-6.4 52.0,-7.8 58.0,-9.2 64.0,-10.4 70.0,-11.6 76.0,-12.7 82.0,-13.7 88.0,-14.6 94.0,-15.5 100.0,-16.3 106.0,-16.9 112.0,-17.5 118.0,-18.0 124.0,-18.5 130.0,-18.8 136.0,-19.1 142.0,-19.2 148.0,-19.3 154.0,-19.3 160.0,-19.2 166.0,-19.0 172.0,-18.8 178.0,-18.4 184.0,-18.0 190.0,-17.4 196.0,-16.9 202.0,-16.8 208.0,-16.6 214.0,-16.4 220.0,-16.0 226.0,-15.5 232.0,-14.8 238.0,-14.1 244.0,-13.3 250.0,-12.4 256.0,-11.3 262.0,-10.2 268.0,-8.9 274.0,-7.5 280.0,-6.1 286.0,-4.5 292.0,-2.8 298.0,-1.0 304.0,0.9 310.0,2.9 316.0,5.1"/><path d="M-2.0,15.0 4.0,12.7 10.0,10.6 16.0,8.7 22.0,6.8 28.0,5.1 34.0,3.4 40.0,1.8 46.0,0.2 52.0,-1.2 58.0,-2.6 64.0,-3.9 70.0,-5.1 76.0,-6.2 82.0,-7.3 88.0,-8.2 94.0,-9.1 100.0,-9.9 106.0,-10.6 112.0,-11.2 118.0,-11.8 124.0,-12.2 130.0,-12.6 136.0,-12.9 142.0,-13.1 148.0,-13.2 154.0,-13.2 160.0,-13.1 166.0,-13.0 172.0,-12.8 178.0,-12.4 184.0,-12.0 190.0,-11.5 196.0,-11.0 202.0,-10.9 208.0,-10.7 214.0,-10.5 220.0,-10.1 226.0,-9.6 232.0,-8.9 238.0,-8.2 244.0,-7.4 250.0,-6.5 256.0,-5.4 262.0,-4.3 268.0,-3.0 274.0,-1.6 280.0,-0.2 286.0,1.4 292.0,3.1 298.0,4.9 304.0,6.8 310.0,8.8 316.0,11.0"/><path d="M-2.0,21.8 4.0,19.5 10.0,17.4 16.0,15.5 22.0,13.6 28.0,11.8 34.0,10.0 40.0,8.4 46.0,6.8 52.0,5.3 58.0,3.9 64.0,2.6 70.0,1.4 76.0,0.2 82.0,-0.8 88.0,-1.8 94.0,-2.7 100.0,-3.6 106.0,-4.3 112.0,-5.0 118.0,-5.5 124.0,-6.0 130.0,-6.4 136.0,-6.7 142.0,-6.9 148.0,-7.1 154.0,-7.1 160.0,-7.1 166.0,-7.0 172.0,-6.7 178.0,-6.4 184.0,-6.0 190.0,-5.6 196.0,-5.1 202.0,-5.0 208.0,-4.8 214.0,-4.6 220.0,-4.2 226.0,-3.7 232.0,-3.0 238.0,-2.3 244.0,-1.5 250.0,-0.6 256.0,0.5 262.0,1.6 268.0,2.9 274.0,4.3 280.0,5.7 286.0,7.3 292.0,9.0 298.0,10.8 304.0,12.7 310.0,14.7 316.0,16.9"/><path d="M-2.0,28.6 4.0,26.3 10.0,24.2 16.0,22.2 22.0,20.3 28.0,18.4 34.0,16.7 40.0,15.0 46.0,13.4 52.0,11.9 58.0,10.5 64.0,9.1 70.0,7.9 76.0,6.7 82.0,5.6 88.0,4.6 94.0,3.6 100.0,2.8 106.0,2.0 112.0,1.3 118.0,0.7 124.0,0.2 130.0,-0.2 136.0,-0.5 142.0,-0.8 148.0,-0.9 154.0,-1.0 160.0,-1.0 166.0,-0.9 172.0,-0.7 178.0,-0.5 184.0,-0.1 190.0,0.4 196.0,0.8 202.0,0.9 208.0,1.1 214.0,1.3 220.0,1.7 226.0,2.2 232.0,2.9 238.0,3.6 244.0,4.4 250.0,5.3 256.0,6.4 262.0,7.5 268.0,8.8 274.0,10.1 280.0,11.6 286.0,13.2 292.0,14.9 298.0,16.7 304.0,18.6 310.0,20.6 316.0,22.7"/><path d="M-2.0,35.5 4.0,33.1 10.0,31.0 16.0,29.0 22.0,27.0 28.0,25.2 34.0,23.4 40.0,21.7 46.0,20.1 52.0,18.5 58.0,17.1 64.0,15.7 70.0,14.4 76.0,13.2 82.0,12.0 88.0,11.0 94.0,10.0 100.0,9.1 106.0,8.3 112.0,7.6 118.0,7.0 124.0,6.5 130.0,6.0 136.0,5.7 142.0,5.4 148.0,5.2 154.0,5.1 160.0,5.0 166.0,5.1 172.0,5.3 178.0,5.5 184.0,5.9 190.0,6.3 196.0,6.7 202.0,6.8 208.0,7.0 214.0,7.2 220.0,7.6 226.0,8.1 232.0,8.7 238.0,9.4 244.0,10.3 250.0,11.2 256.0,12.2 262.0,13.3 268.0,14.6 274.0,15.9 280.0,17.4 286.0,19.0 292.0,20.6 298.0,22.4 304.0,24.3 310.0,26.3 316.0,28.4"/><path d="M-2.0,42.4 4.0,40.0 10.0,37.9 16.0,35.8 22.0,33.8 28.0,31.9 34.0,30.1 40.0,28.4 46.0,26.7 52.0,25.2 58.0,23.7 64.0,22.2 70.0,20.9 76.0,19.7 82.0,18.5 88.0,17.4 94.0,16.4 100.0,15.5 106.0,14.7 112.0,13.9 118.0,13.3 124.0,12.7 130.0,12.2 136.0,11.8 142.0,11.5 148.0,11.3 154.0,11.2 160.0,11.1 166.0,11.2 172.0,11.3 178.0,11.5 184.0,11.8 190.0,12.2 196.0,12.6 202.0,12.7 208.0,12.8 214.0,13.1 220.0,13.5 226.0,14.0 232.0,14.6 238.0,15.3 244.0,16.1 250.0,17.0 256.0,18.1 262.0,19.2 268.0,20.4 274.0,21.7 280.0,23.2 286.0,24.7 292.0,26.4 298.0,28.1 304.0,30.0 310.0,32.0 316.0,34.0"/><path d="M-2.0,49.5 4.0,47.0 10.0,44.8 16.0,42.7 22.0,40.7 28.0,38.8 34.0,36.9 40.0,35.1 46.0,33.4 52.0,31.8 58.0,30.3 64.0,28.8 70.0,27.5 76.0,26.2 82.0,25.0 88.0,23.9 94.0,22.9 100.0,21.9 106.0,21.0 112.0,20.3 118.0,19.6 124.0,19.0 130.0,18.5 136.0,18.0 142.0,17.7 148.0,17.4 154.0,17.3 160.0,17.2 166.0,17.2 172.0,17.3 178.0,17.5 184.0,17.8 190.0,18.1 196.0,18.5 202.0,18.6 208.0,18.7 214.0,19.0 220.0,19.4 226.0,19.9 232.0,20.5 238.0,21.2 244.0,22.0 250.0,22.9 256.0,23.9 262.0,25.0 268.0,26.2 274.0,27.5 280.0,29.0 286.0,30.5 292.0,32.1 298.0,33.9 304.0,35.7 310.0,37.7 316.0,39.7"/><path d="M-2.0,56.5 4.0,54.1 10.0,51.8 16.0,49.7 22.0,47.6 28.0,45.7 34.0,43.8 40.0,41.9 46.0,40.2 52.0,38.5 58.0,37.0 64.0,35.5 70.0,34.1 76.0,32.8 82.0,31.5 88.0,30.4 94.0,29.3 100.0,28.3 106.0,27.4 112.0,26.6 118.0,25.9 124.0,25.2 130.0,24.7 136.0,24.2 142.0,23.9 148.0,23.6 154.0,23.4 160.0,23.3 166.0,23.2 172.0,23.3 178.0,23.5 184.0,23.7 190.0,24.0 196.0,24.4 202.0,24.5 208.0,24.6 214.0,24.9 220.0,25.3 226.0,25.8 232.0,26.4 238.0,27.0 244.0,27.8 250.0,28.7 256.0,29.7 262.0,30.8 268.0,32.0 274.0,33.3 280.0,34.7 286.0,36.3 292.0,37.9 298.0,39.6 304.0,41.4 310.0,43.3 316.0,45.4"/><path d="M-2.0,63.7 4.0,61.2 10.0,58.9 16.0,56.7 22.0,54.6 28.0,52.6 34.0,50.6 40.0,48.8 46.0,47.0 52.0,45.3 58.0,43.7 64.0,42.1 70.0,40.7 76.0,39.3 82.0,38.1 88.0,36.9 94.0,35.8 100.0,34.7 106.0,33.8 112.0,33.0 118.0,32.2 124.0,31.5 130.0,30.9 136.0,30.4 142.0,30.0 148.0,29.7 154.0,29.5 160.0,29.3 166.0,29.3 172.0,29.3 178.0,29.4 184.0,29.7 190.0,30.0 196.0,30.3 202.0,30.4 208.0,30.5 214.0,30.8 220.0,31.2 226.0,31.7 232.0,32.2 238.0,32.9 244.0,33.7 250.0,34.6 256.0,35.6 262.0,36.7 268.0,37.8 274.0,39.1 280.0,40.5 286.0,42.0 292.0,43.6 298.0,45.3 304.0,47.1 310.0,49.0 316.0,51.0"/><path d="M-2.0,71.0 4.0,68.4 10.0,66.1 16.0,63.8 22.0,61.7 28.0,59.6 34.0,57.6 40.0,55.7 46.0,53.8 52.0,52.1 58.0,50.4 64.0,48.8 70.0,47.4 76.0,45.9 82.0,44.6 88.0,43.4 94.0,42.2 100.0,41.2 106.0,40.2 112.0,39.3 118.0,38.5 124.0,37.8 130.0,37.2 136.0,36.7 142.0,36.2 148.0,35.9 154.0,35.6 160.0,35.4 166.0,35.3 172.0,35.3 178.0,35.4 184.0,35.6 190.0,35.9 196.0,36.2 202.0,36.3 208.0,36.4 214.0,36.7 220.0,37.1 226.0,37.5 232.0,38.1 238.0,38.8 244.0,39.6 250.0,40.4 256.0,41.4 262.0,42.5 268.0,43.7 274.0,44.9 280.0,46.3 286.0,47.8 292.0,49.4 298.0,51.0 304.0,52.8 310.0,54.7 316.0,56.7"/><path d="M-2.0,78.3 4.0,75.7 10.0,73.3 16.0,71.0 22.0,68.7 28.0,66.6 34.0,64.6 40.0,62.6 46.0,60.7 52.0,58.9 58.0,57.2 64.0,55.6 70.0,54.0 76.0,52.6 82.0,51.2 88.0,49.9 94.0,48.7 100.0,47.6 106.0,46.6 112.0,45.7 118.0,44.9 124.0,44.1 130.0,43.4 136.0,42.9 142.0,42.4 148.0,42.0 154.0,41.7 160.0,41.5 166.0,41.4 172.0,41.3 178.0,41.4 184.0,41.6 190.0,41.8 196.0,42.1 202.0,42.2 208.0,42.3 214.0,42.6 220.0,43.0 226.0,43.4 232.0,44.0 238.0,44.7 244.0,45.4 250.0,46.3 256.0,47.2 262.0,48.3 268.0,49.5 274.0,50.7 280.0,52.1 286.0,53.5 292.0,55.1 298.0,56.8 304.0,58.5 310.0,60.4 316.0,62.3"/><path d="M-2.0,85.7 4.0,83.0 10.0,80.5 16.0,78.2 22.0,75.9 28.0,73.7 34.0,71.6 40.0,69.6 46.0,67.6 52.0,65.8 58.0,64.0 64.0,62.3 70.0,60.7 76.0,59.2 82.0,57.8 88.0,56.5 94.0,55.3 100.0,54.1 106.0,53.0 112.0,52.1 118.0,51.2 124.0,50.4 130.0,49.7 136.0,49.1 142.0,48.6 148.0,48.2 154.0,47.8 160.0,47.6 166.0,47.4 172.0,47.4 178.0,47.4 184.0,47.5 190.0,47.7 196.0,48.0 202.0,48.1 208.0,48.2 214.0,48.5 220.0,48.9 226.0,49.3 232.0,49.9 238.0,50.5 244.0,51.3 250.0,52.1 256.0,53.1 262.0,54.1 268.0,55.3 274.0,56.5 280.0,57.9 286.0,59.3 292.0,60.8 298.0,62.5 304.0,64.2 310.0,66.1 316.0,68.0"/><path d="M-2.0,93.1 4.0,90.4 10.0,87.9 16.0,85.5 22.0,83.1 28.0,80.8 34.0,78.7 40.0,76.6 46.0,74.6 52.0,72.7 58.0,70.9 64.0,69.1 70.0,67.5 76.0,65.9 82.0,64.5 88.0,63.1 94.0,61.8 100.0,60.6 106.0,59.5 112.0,58.5 118.0,57.6 124.0,56.7 130.0,56.0 136.0,55.3 142.0,54.8 148.0,54.3 154.0,53.9 160.0,53.7 166.0,53.5 172.0,53.4 178.0,53.4 184.0,53.5 190.0,53.7 196.0,53.9 202.0,54.0 208.0,54.1 214.0,54.4 220.0,54.7 226.0,55.2 232.0,55.7 238.0,56.4 244.0,57.1 250.0,58.0 256.0,58.9 262.0,60.0 268.0,61.1 274.0,62.3 280.0,63.6 286.0,65.1 292.0,66.6 298.0,68.2 304.0,69.9 310.0,71.7 316.0,73.7"/><path d="M-2.0,100.7 4.0,97.9 10.0,95.3 16.0,92.8 22.0,90.4 28.0,88.0 34.0,85.8 40.0,83.7 46.0,81.6 52.0,79.6 58.0,77.7 64.0,75.9 70.0,74.2 76.0,72.6 82.0,71.1 88.0,69.7 94.0,68.3 100.0,67.1 106.0,65.9 112.0,64.9 118.0,63.9 124.0,63.0 130.0,62.3 136.0,61.6 142.0,61.0 148.0,60.5 154.0,60.1 160.0,59.7 166.0,59.5 172.0,59.4 178.0,59.4 184.0,59.4 190.0,59.6 196.0,59.8 202.0,59.9 208.0,60.0 214.0,60.3 220.0,60.6 226.0,61.1 232.0,61.6 238.0,62.3 244.0,63.0 250.0,63.8 256.0,64.8 262.0,65.8 268.0,66.9 274.0,68.1 280.0,69.4 286.0,70.8 292.0,72.3 298.0,73.9 304.0,75.6 310.0,77.4 316.0,79.3"/><path d="M-2.0,108.3 4.0,105.4 10.0,102.8 16.0,100.2 22.0,97.7 28.0,95.3 34.0,93.0 40.0,90.8 46.0,88.6 52.0,86.6 58.0,84.7 64.0,82.8 70.0,81.0 76.0,79.4 82.0,77.8 88.0,76.3 94.0,74.9 100.0,73.6 106.0,72.4 112.0,71.3 118.0,70.3 124.0,69.4 130.0,68.5 136.0,67.8 142.0,67.2 148.0,66.6 154.0,66.2 160.0,65.8 166.0,65.6 172.0,65.4 178.0,65.4 184.0,65.4 190.0,65.5 196.0,65.7 202.0,65.8 208.0,65.9 214.0,66.2 220.0,66.5 226.0,67.0 232.0,67.5 238.0,68.1 244.0,68.9 250.0,69.7 256.0,70.6 262.0,71.6 268.0,72.7 274.0,73.9 280.0,75.2 286.0,76.6 292.0,78.1 298.0,79.7 304.0,81.3 310.0,83.1 316.0,85.0"/><path d="M-2.0,116.0 4.0,113.1 10.0,110.3 16.0,107.6 22.0,105.1 28.0,102.6 34.0,100.2 40.0,97.9 46.0,95.7 52.0,93.6 58.0,91.6 64.0,89.7 70.0,87.9 76.0,86.1 82.0,84.5 88.0,83.0 94.0,81.5 100.0,80.2 106.0,78.9 112.0,77.7 118.0,76.7 124.0,75.7 130.0,74.8 136.0,74.1 142.0,73.4 148.0,72.8 154.0,72.3 160.0,71.9 166.0,71.6 172.0,71.4 178.0,71.3 184.0,71.3 190.0,71.4 196.0,71.6 202.0,71.7 208.0,71.8 214.0,72.1 220.0,72.4 226.0,72.8 232.0,73.4 238.0,74.0 244.0,74.7 250.0,75.5 256.0,76.4 262.0,77.4 268.0,78.5 274.0,79.7 280.0,81.0 286.0,82.4 292.0,83.8 298.0,85.4 304.0,87.0 310.0,88.8 316.0,90.6"/><path d="M-2.0,123.8 4.0,120.7 10.0,117.9 16.0,115.2 22.0,112.5 28.0,110.0 34.0,107.5 40.0,105.1 46.0,102.9 52.0,100.7 58.0,98.6 64.0,96.6 70.0,94.7 76.0,92.9 82.0,91.2 88.0,89.6 94.0,88.1 100.0,86.7 106.0,85.4 112.0,84.2 118.0,83.1 124.0,82.1 130.0,81.1 136.0,80.3 142.0,79.6 148.0,79.0 154.0,78.4 160.0,78.0 166.0,77.7 172.0,77.5 178.0,77.3 184.0,77.3 190.0,77.4 196.0,77.5 202.0,77.6 208.0,77.7 214.0,78.0 220.0,78.3 226.0,78.7 232.0,79.3 238.0,79.9 244.0,80.6 250.0,81.4 256.0,82.3 262.0,83.3 268.0,84.3 274.0,85.5 280.0,86.8 286.0,88.1 292.0,89.6 298.0,91.1 304.0,92.7 310.0,94.5 316.0,96.3"/><path d="M-2.0,131.6 4.0,128.5 10.0,125.6 16.0,122.7 22.0,120.0 28.0,117.4 34.0,114.8 40.0,112.4 46.0,110.0 52.0,107.8 58.0,105.6 64.0,103.6 70.0,101.6 76.0,99.7 82.0,98.0 88.0,96.3 94.0,94.7 100.0,93.3 106.0,91.9 112.0,90.6 118.0,89.5 124.0,88.4 130.0,87.4 136.0,86.6 142.0,85.8 148.0,85.1 154.0,84.6 160.0,84.1 166.0,83.7 172.0,83.5 178.0,83.3 184.0,83.2 190.0,83.3 196.0,83.4 202.0,83.5 208.0,83.6 214.0,83.9 220.0,84.2 226.0,84.6 232.0,85.1 238.0,85.7 244.0,86.4 250.0,87.2 256.0,88.1 262.0,89.1 268.0,90.1 274.0,91.3 280.0,92.6 286.0,93.9 292.0,95.3 298.0,96.8 304.0,98.4 310.0,100.1 316.0,101.9"/><path d="M-2.0,139.5 4.0,136.3 10.0,133.3 16.0,130.4 22.0,127.6 28.0,124.8 34.0,122.2 40.0,119.7 46.0,117.2 52.0,114.9 58.0,112.7 64.0,110.5 70.0,108.5 76.0,106.6 82.0,104.8 88.0,103.0 94.0,101.4 100.0,99.9 106.0,98.4 112.0,97.1 118.0,95.9 124.0,94.8 130.0,93.8 136.0,92.8 142.0,92.0 148.0,91.3 154.0,90.7 160.0,90.2 166.0,89.8 172.0,89.5 178.0,89.3 184.0,89.2 190.0,89.2 196.0,89.3 202.0,89.4 208.0,89.5 214.0,89.8 220.0,90.1 226.0,90.5 232.0,91.0 238.0,91.6 244.0,92.3 250.0,93.1 256.0,94.0 262.0,94.9 268.0,96.0 274.0,97.1 280.0,98.3 286.0,99.7 292.0,101.1 298.0,102.6 304.0,104.2 310.0,105.8 316.0,107.6"/><path d="M-2.0,147.5 4.0,144.2 10.0,141.1 16.0,138.1 22.0,135.2 28.0,132.3 34.0,129.6 40.0,127.0 46.0,124.5 52.0,122.1 58.0,119.8 64.0,117.6 70.0,115.4 76.0,113.4 82.0,111.5 88.0,109.8 94.0,108.1 100.0,106.5 106.0,105.0 112.0,103.6 118.0,102.3 124.0,101.2 130.0,100.1 136.0,99.1 142.0,98.3 148.0,97.5 154.0,96.8 160.0,96.3 166.0,95.9 172.0,95.5 178.0,95.3 184.0,95.2 190.0,95.1 196.0,95.2 202.0,95.3 208.0,95.4 214.0,95.6 220.0,96.0 226.0,96.4 232.0,96.9 238.0,97.5 244.0,98.2 250.0,98.9 256.0,99.8 262.0,100.7 268.0,101.8 274.0,102.9 280.0,104.1 286.0,105.4 292.0,106.8 298.0,108.3 304.0,109.9 310.0,111.5 316.0,113.3"/><path d="M-2.0,155.6 4.0,152.2 10.0,149.0 16.0,145.8 22.0,142.8 28.0,139.9 34.0,137.1 40.0,134.4 46.0,131.8 52.0,129.3 58.0,126.9 64.0,124.6 70.0,122.4 76.0,120.3 82.0,118.4 88.0,116.5 94.0,114.7 100.0,113.1 106.0,111.5 112.0,110.1 118.0,108.8 124.0,107.5 130.0,106.4 136.0,105.4 142.0,104.5 148.0,103.7 154.0,103.0 160.0,102.4 166.0,101.9 172.0,101.5 178.0,101.3 184.0,101.1 190.0,101.1 196.0,101.1 202.0,101.2 208.0,101.3 214.0,101.5 220.0,101.9 226.0,102.3 232.0,102.8 238.0,103.4 244.0,104.0 250.0,104.8 256.0,105.6 262.0,106.6 268.0,107.6 274.0,108.7 280.0,109.9 286.0,111.2 292.0,112.6 298.0,114.0 304.0,115.6 310.0,117.2 316.0,118.9"/><path d="M-2.0,163.7 4.0,160.2 10.0,156.9 16.0,153.7 22.0,150.5 28.0,147.5 34.0,144.6 40.0,141.8 46.0,139.1 52.0,136.5 58.0,134.0 64.0,131.7 70.0,129.4 76.0,127.3 82.0,125.2 88.0,123.3 94.0,121.4 100.0,119.7 106.0,118.1 112.0,116.6 118.0,115.2 124.0,113.9 130.0,112.8 136.0,111.7 142.0,110.7 148.0,109.9 154.0,109.1 160.0,108.5 166.0,108.0 172.0,107.6 178.0,107.3 184.0,107.1 190.0,107.0 196.0,107.0 202.0,107.1 208.0,107.2 214.0,107.4 220.0,107.8 226.0,108.2 232.0,108.6 238.0,109.2 244.0,109.9 250.0,110.6 256.0,111.5 262.0,112.4 268.0,113.4 274.0,114.5 280.0,115.7 286.0,116.9 292.0,118.3 298.0,119.7 304.0,121.3 310.0,122.9 316.0,124.6"/><path d="M-2.0,171.9 4.0,168.4 10.0,164.9 16.0,161.6 22.0,158.3 28.0,155.2 34.0,152.2 40.0,149.3 46.0,146.5 52.0,143.8 58.0,141.2 64.0,138.8 70.0,136.4 76.0,134.2 82.0,132.1 88.0,130.1 94.0,128.2 100.0,126.4 106.0,124.7 112.0,123.1 118.0,121.7 124.0,120.3 130.0,119.1 136.0,118.0 142.0,117.0 148.0,116.1 154.0,115.3 160.0,114.6 166.0,114.0 172.0,113.6 178.0,113.3 184.0,113.0 190.0,112.9 196.0,112.9 202.0,113.0 208.0,113.1 214.0,113.3 220.0,113.6 226.0,114.0 232.0,114.5 238.0,115.1 244.0,115.7 250.0,116.5 256.0,117.3 262.0,118.2 268.0,119.2 274.0,120.3 280.0,121.5 286.0,122.7 292.0,124.0 298.0,125.5 304.0,127.0 310.0,128.6 316.0,130.2"/><path d="M-2.0,180.2 4.0,176.5 10.0,173.0 16.0,169.5 22.0,166.2 28.0,162.9 34.0,159.8 40.0,156.8 46.0,153.9 52.0,151.1 58.0,148.5 64.0,145.9 70.0,143.5 76.0,141.2 82.0,139.0 88.0,136.9 94.0,134.9 100.0,133.0 106.0,131.3 112.0,129.7 118.0,128.1 124.0,126.7 130.0,125.4 136.0,124.3 142.0,123.2 148.0,122.3 154.0,121.4 160.0,120.7 166.0,120.1 172.0,119.6 178.0,119.2 184.0,119.0 190.0,118.8 196.0,118.8 202.0,118.9 208.0,119.0 214.0,119.2 220.0,119.5 226.0,119.9 232.0,120.4 238.0,121.0 244.0,121.6 250.0,122.3 256.0,123.1 262.0,124.0 268.0,125.0 274.0,126.1 280.0,127.2 286.0,128.5 292.0,129.8 298.0,131.2 304.0,132.7 310.0,134.2 316.0,135.9"/><path d="M-2.0,188.6 4.0,184.8 10.0,181.1 16.0,177.5 22.0,174.0 28.0,170.7 34.0,167.5 40.0,164.4 46.0,161.4 52.0,158.5 58.0,155.7 64.0,153.1 70.0,150.6 76.0,148.2 82.0,145.9 88.0,143.7 94.0,141.7 100.0,139.7 106.0,137.9 112.0,136.2 118.0,134.6 124.0,133.2 130.0,131.8 136.0,130.6 142.0,129.5 148.0,128.5 154.0,127.6 160.0,126.8 166.0,126.2 172.0,125.6 178.0,125.2 184.0,124.9 190.0,124.8 196.0,124.7 202.0,124.8 208.0,124.9 214.0,125.1 220.0,125.4 226.0,125.8 232.0,126.3 238.0,126.8 244.0,127.5 250.0,128.2 256.0,129.0 262.0,129.9 268.0,130.8 274.0,131.9 280.0,133.0 286.0,134.2 292.0,135.5 298.0,136.9 304.0,138.4 310.0,139.9 316.0,141.5"/><path d="M-2.0,197.0 4.0,193.1 10.0,189.3 16.0,185.6 22.0,182.0 28.0,178.5 34.0,175.2 40.0,172.0 46.0,168.9 52.0,165.9 58.0,163.0 64.0,160.3 70.0,157.7 76.0,155.2 82.0,152.8 88.0,150.6 94.0,148.4 100.0,146.4 106.0,144.5 112.0,142.8 118.0,141.1 124.0,139.6 130.0,138.2 136.0,136.9 142.0,135.7 148.0,134.7 154.0,133.7 160.0,132.9 166.0,132.2 172.0,131.7 178.0,131.2 184.0,130.9 190.0,130.7 196.0,130.6 202.0,130.7 208.0,130.8 214.0,131.0 220.0,131.3 226.0,131.7 232.0,132.2 238.0,132.7 244.0,133.3 250.0,134.0 256.0,134.8 262.0,135.7 268.0,136.6 274.0,137.7 280.0,138.8 286.0,140.0 292.0,141.3 298.0,142.6 304.0,144.1 310.0,145.6 316.0,147.2"/><path d="M-2.0,205.6 4.0,201.5 10.0,197.5 16.0,193.7 22.0,190.0 28.0,186.4 34.0,183.0 40.0,179.6 46.0,176.4 52.0,173.3 58.0,170.4 64.0,167.5 70.0,164.8 76.0,162.2 82.0,159.8 88.0,157.4 94.0,155.2 100.0,153.1 106.0,151.2 112.0,149.3 118.0,147.6 124.0,146.0 130.0,144.6 136.0,143.2 142.0,142.0 148.0,140.9 154.0,139.9 160.0,139.0 166.0,138.3 172.0,137.7 178.0,137.2 184.0,136.9 190.0,136.6 196.0,136.5 202.0,136.6 208.0,136.7 214.0,136.9 220.0,137.2 226.0,137.6 232.0,138.0 238.0,138.6 244.0,139.2 250.0,139.9 256.0,140.7 262.0,141.5 268.0,142.5 274.0,143.5 280.0,144.6 286.0,145.8 292.0,147.0 298.0,148.4 304.0,149.8 310.0,151.3 316.0,152.9"/><path d="M-2.0,214.1 4.0,210.0 10.0,205.9 16.0,201.9 22.0,198.1 28.0,194.4 34.0,190.8 40.0,187.3 46.0,184.0 52.0,180.8 58.0,177.7 64.0,174.8 70.0,172.0 76.0,169.3 82.0,166.8 88.0,164.3 94.0,162.0 100.0,159.9 106.0,157.8 112.0,155.9 118.0,154.1 124.0,152.5 130.0,150.9 136.0,149.5 142.0,148.2 148.0,147.1 154.0,146.1 160.0,145.2 166.0,144.4 172.0,143.7 178.0,143.2 184.0,142.8 190.0,142.5 196.0,142.4 202.0,142.5 208.0,142.6 214.0,142.8 220.0,143.1 226.0,143.5 232.0,143.9 238.0,144.4 244.0,145.0 250.0,145.7 256.0,146.5 262.0,147.3 268.0,148.3 274.0,149.3 280.0,150.4 286.0,151.5 292.0,152.8 298.0,154.1 304.0,155.5 310.0,157.0 316.0,158.5"/><path d="M-2.0,222.8 4.0,218.5 10.0,214.3 16.0,210.2 22.0,206.2 28.0,202.3 34.0,198.6 40.0,195.1 46.0,191.6 52.0,188.3 58.0,185.1 64.0,182.1 70.0,179.2 76.0,176.4 82.0,173.8 88.0,171.3 94.0,168.9 100.0,166.6 106.0,164.5 112.0,162.5 118.0,160.7 124.0,158.9 130.0,157.3 136.0,155.9 142.0,154.5 148.0,153.3 154.0,152.2 160.0,151.3 166.0,150.5 172.0,149.8 178.0,149.2 184.0,148.8 190.0,148.5 196.0,148.3 202.0,148.4 208.0,148.5 214.0,148.7 220.0,149.0 226.0,149.3 232.0,149.8 238.0,150.3 244.0,150.9 250.0,151.6 256.0,152.3 262.0,153.2 268.0,154.1 274.0,155.1 280.0,156.1 286.0,157.3 292.0,158.5 298.0,159.8 304.0,161.2 310.0,162.6 316.0,164.2"/><path d="M-2.0,231.6 4.0,227.1 10.0,222.7 16.0,218.5 22.0,214.4 28.0,210.4 34.0,206.5 40.0,202.9 46.0,199.3 52.0,195.9 58.0,192.6 64.0,189.4 70.0,186.4 76.0,183.5 82.0,180.8 88.0,178.2 94.0,175.7 100.0,173.4 106.0,171.2 112.0,169.1 118.0,167.2 124.0,165.4 130.0,163.7 136.0,162.2 142.0,160.8 148.0,159.5 154.0,158.4 160.0,157.4 166.0,156.5 172.0,155.8 178.0,155.2 184.0,154.7 190.0,154.4 196.0,154.2 202.0,154.3 208.0,154.4 214.0,154.6 220.0,154.9 226.0,155.2 232.0,155.7 238.0,156.2 244.0,156.8 250.0,157.4 256.0,158.2 262.0,159.0 268.0,159.9 274.0,160.9 280.0,161.9 286.0,163.0 292.0,164.3 298.0,165.5 304.0,166.9 310.0,168.3 316.0,169.8"/><path d="M-2.0,240.4 4.0,235.8 10.0,231.2 16.0,226.8 22.0,222.6 28.0,218.5 34.0,214.5 40.0,210.7 46.0,207.0 52.0,203.5 58.0,200.1 64.0,196.8 70.0,193.7 76.0,190.7 82.0,187.9 88.0,185.2 94.0,182.6 100.0,180.2 106.0,177.9 112.0,175.7 118.0,173.7 124.0,171.9 130.0,170.1 136.0,168.5 142.0,167.1 148.0,165.8 154.0,164.6 160.0,163.5 166.0,162.6 172.0,161.8 178.0,161.2 184.0,160.7 190.0,160.3 196.0,160.1 202.0,160.2 208.0,160.3 214.0,160.5 220.0,160.8 226.0,161.1 232.0,161.5 238.0,162.0 244.0,162.6 250.0,163.3 256.0,164.0 262.0,164.8 268.0,165.7 274.0,166.7 280.0,167.7 286.0,168.8 292.0,170.0 298.0,171.3 304.0,172.6 310.0,174.0 316.0,175.5"/><path d="M-2.0,249.3 4.0,244.5 10.0,239.8 16.0,235.3 22.0,230.9 28.0,226.6 34.0,222.5 40.0,218.6 46.0,214.8 52.0,211.1 58.0,207.6 64.0,204.2 70.0,201.0 76.0,197.9 82.0,194.9 88.0,192.1 94.0,189.5 100.0,187.0 106.0,184.6 112.0,182.4 118.0,180.3 124.0,178.3 130.0,176.5 136.0,174.9 142.0,173.4 148.0,172.0 154.0,170.7 160.0,169.6 166.0,168.7 172.0,167.9 178.0,167.2 184.0,166.6 190.0,166.2 196.0,166.0 202.0,166.1 208.0,166.2 214.0,166.4 220.0,166.6 226.0,167.0 232.0,167.4 238.0,167.9 244.0,168.5 250.0,169.1 256.0,169.9 262.0,170.6 268.0,171.5 274.0,172.5 280.0,173.5 286.0,174.6 292.0,175.7 298.0,177.0 304.0,178.3 310.0,179.7 316.0,181.2"/><path d="M-2.0,258.2 4.0,253.3 10.0,248.5 16.0,243.8 22.0,239.2 28.0,234.8 34.0,230.6 40.0,226.5 46.0,222.5 52.0,218.8 58.0,215.1 64.0,211.6 70.0,208.3 76.0,205.1 82.0,202.0 88.0,199.1 94.0,196.4 100.0,193.8 106.0,191.3 112.0,189.0 118.0,186.8 124.0,184.8 130.0,183.0 136.0,181.2 142.0,179.6 148.0,178.2 154.0,176.9 160.0,175.8 166.0,174.8 172.0,173.9 178.0,173.2 184.0,172.6 190.0,172.2 196.0,171.9 202.0,171.9 208.0,172.1 214.0,172.3 220.0,172.5 226.0,172.9 232.0,173.3 238.0,173.8 244.0,174.3 250.0,175.0 256.0,175.7 262.0,176.5 268.0,177.3 274.0,178.3 280.0,179.3 286.0,180.3 292.0,181.5 298.0,182.7 304.0,184.0 310.0,185.4 316.0,186.8"/><path d="M-2.0,267.3 4.0,262.2 10.0,257.2 16.0,252.3 22.0,247.6 28.0,243.1 34.0,238.7 40.0,234.5 46.0,230.4 52.0,226.5 58.0,222.7 64.0,219.1 70.0,215.6 76.0,212.3 82.0,209.2 88.0,206.2 94.0,203.3 100.0,200.6 106.0,198.1 112.0,195.7 118.0,193.4 124.0,191.3 130.0,189.4 136.0,187.6 142.0,185.9 148.0,184.4 154.0,183.1 160.0,181.9 166.0,180.8 172.0,179.9 178.0,179.2 184.0,178.6 190.0,178.1 196.0,177.8 202.0,177.8 208.0,178.0 214.0,178.2 220.0,178.4 226.0,178.8 232.0,179.2 238.0,179.7 244.0,180.2 250.0,180.8 256.0,181.5 262.0,182.3 268.0,183.1 274.0,184.1 280.0,185.0 286.0,186.1 292.0,187.2 298.0,188.4 304.0,189.7 310.0,191.1 316.0,192.5"/><path d="M-2.0,276.4 4.0,271.2 10.0,266.0 16.0,261.0 22.0,256.1 28.0,251.4 34.0,246.8 40.0,242.5 46.0,238.3 52.0,234.2 58.0,230.3 64.0,226.6 70.0,223.0 76.0,219.6 82.0,216.3 88.0,213.2 94.0,210.2 100.0,207.5 106.0,204.8 112.0,202.3 118.0,200.0 124.0,197.8 130.0,195.8 136.0,194.0 142.0,192.2 148.0,190.7 154.0,189.3 160.0,188.0 166.0,186.9 172.0,186.0 178.0,185.2 184.0,184.5 190.0,184.0 196.0,183.7 202.0,183.7 208.0,183.9 214.0,184.1 220.0,184.3 226.0,184.6 232.0,185.0 238.0,185.5 244.0,186.1 250.0,186.7 256.0,187.4 262.0,188.1 268.0,189.0 274.0,189.9 280.0,190.8 286.0,191.9 292.0,193.0 298.0,194.2 304.0,195.4 310.0,196.7 316.0,198.1"/><path d="M-2.0,285.6 4.0,280.2 10.0,274.8 16.0,269.6 22.0,264.6 28.0,259.7 34.0,255.1 40.0,250.5 46.0,246.2 52.0,242.0 58.0,237.9 64.0,234.1 70.0,230.4 76.0,226.8 82.0,223.5 88.0,220.3 94.0,217.2 100.0,214.3 106.0,211.6 112.0,209.0 118.0,206.6 124.0,204.4 130.0,202.3 136.0,200.3 142.0,198.5 148.0,196.9 154.0,195.5 160.0,194.2 166.0,193.0 172.0,192.0 178.0,191.2 184.0,190.5 190.0,189.9 196.0,189.6 202.0,189.6 208.0,189.8 214.0,189.9 220.0,190.2 226.0,190.5 232.0,190.9 238.0,191.4 244.0,191.9 250.0,192.5 256.0,193.2 262.0,194.0 268.0,194.8 274.0,195.6 280.0,196.6 286.0,197.6 292.0,198.7 298.0,199.9 304.0,201.1 310.0,202.4 316.0,203.8"/><path d="M-2.0,294.8 4.0,289.3 10.0,283.7 16.0,278.4 22.0,273.2 28.0,268.2 34.0,263.3 40.0,258.6 46.0,254.1 52.0,249.8 58.0,245.6 64.0,241.6 70.0,237.8 76.0,234.1 82.0,230.7 88.0,227.3 94.0,224.2 100.0,221.2 106.0,218.4 112.0,215.7 118.0,213.2 124.0,210.9 130.0,208.7 136.0,206.7 142.0,204.9 148.0,203.2 154.0,201.7 160.0,200.3 166.0,199.1 172.0,198.0 178.0,197.2 184.0,196.4 190.0,195.9 196.0,195.5 202.0,195.5 208.0,195.7 214.0,195.8 220.0,196.1 226.0,196.4 232.0,196.8 238.0,197.3 244.0,197.8 250.0,198.4 256.0,199.0 262.0,199.8 268.0,200.6 274.0,201.4 280.0,202.4 286.0,203.4 292.0,204.5 298.0,205.6 304.0,206.8 310.0,208.1 316.0,209.4"/><path d="M-2.0,304.2 4.0,298.5 10.0,292.7 16.0,287.2 22.0,281.8 28.0,276.6 34.0,271.6 40.0,266.8 46.0,262.1 52.0,257.6 58.0,253.3 64.0,249.2 70.0,245.3 76.0,241.5 82.0,237.9 88.0,234.4 94.0,231.2 100.0,228.1 106.0,225.2 112.0,222.4 118.0,219.8 124.0,217.4 130.0,215.2 136.0,213.1 142.0,211.2 148.0,209.4 154.0,207.8 160.0,206.4 166.0,205.2 172.0,204.1 178.0,203.2 184.0,202.4 190.0,201.8 196.0,201.4 202.0,201.4 208.0,201.6 214.0,201.7 220.0,202.0 226.0,202.3 232.0,202.7 238.0,203.1 244.0,203.6 250.0,204.2 256.0,204.9 262.0,205.6 268.0,206.4 274.0,207.2 280.0,208.2 286.0,209.2 292.0,210.2 298.0,211.3 304.0,212.5 310.0,213.8 316.0,215.1"/><path d="M-2.0,313.6 4.0,307.7 10.0,301.8 16.0,296.0 22.0,290.5 28.0,285.1 34.0,280.0 40.0,275.0 46.0,270.2 52.0,265.5 58.0,261.1 64.0,256.8 70.0,252.7 76.0,248.8 82.0,245.1 88.0,241.6 94.0,238.2 100.0,235.0 106.0,232.0 112.0,229.1 118.0,226.5 124.0,224.0 130.0,221.6 136.0,219.5 142.0,217.5 148.0,215.7 154.0,214.0 160.0,212.6 166.0,211.3 172.0,210.1 178.0,209.1 184.0,208.3 190.0,207.7 196.0,207.3 202.0,207.3 208.0,207.5 214.0,207.6 220.0,207.9 226.0,208.2 232.0,208.6 238.0,209.0 244.0,209.5 250.0,210.1 256.0,210.7 262.0,211.4 268.0,212.2 274.0,213.0 280.0,213.9 286.0,214.9 292.0,216.0 298.0,217.1 304.0,218.2 310.0,219.5 316.0,220.8"/><path d="M-2.0,323.1 4.0,317.0 10.0,310.9 16.0,305.0 22.0,299.2 28.0,293.7 34.0,288.4 40.0,283.2 46.0,278.3 52.0,273.5 58.0,268.9 64.0,264.5 70.0,260.3 76.0,256.2 82.0,252.4 88.0,248.7 94.0,245.2 100.0,241.9 106.0,238.8 112.0,235.9 118.0,233.1 124.0,230.5 130.0,228.1 136.0,225.9 142.0,223.8 148.0,221.9 154.0,220.2 160.0,218.7 166.0,217.3 172.0,216.2 178.0,215.1 184.0,214.3 190.0,213.6 196.0,213.2 202.0,213.2 208.0,213.4 214.0,213.5 220.0,213.8 226.0,214.1 232.0,214.4 238.0,214.9 244.0,215.4 250.0,215.9 256.0,216.6 262.0,217.3 268.0,218.0 274.0,218.8 280.0,219.7 286.0,220.7 292.0,221.7 298.0,222.8 304.0,223.9 310.0,225.1 316.0,226.4"/><path d="M-2.0,332.7 4.0,326.4 10.0,320.1 16.0,314.0 22.0,308.0 28.0,302.3 34.0,296.8 40.0,291.5 46.0,286.4 52.0,281.4 58.0,276.7 64.0,272.2 70.0,267.8 76.0,263.6 82.0,259.7 88.0,255.9 94.0,252.3 100.0,248.9 106.0,245.6 112.0,242.6 118.0,239.7 124.0,237.1 130.0,234.6 136.0,232.3 142.0,230.1 148.0,228.2 154.0,226.4 160.0,224.8 166.0,223.4 172.0,222.2 178.0,221.1 184.0,220.3 190.0,219.6 196.0,219.1 202.0,219.1 208.0,219.2 214.0,219.4 220.0,219.7 226.0,220.0 232.0,220.3 238.0,220.7 244.0,221.2 250.0,221.8 256.0,222.4 262.0,223.1 268.0,223.8 274.0,224.6 280.0,225.5 286.0,226.4 292.0,227.4 298.0,228.5 304.0,229.6 310.0,230.8 316.0,232.1"/><path d="M-2.0,342.3 4.0,335.8 10.0,329.3 16.0,323.0 22.0,316.9 28.0,311.0 34.0,305.3 40.0,299.8 46.0,294.5 52.0,289.5 58.0,284.6 64.0,279.9 70.0,275.4 76.0,271.1 82.0,267.0 88.0,263.1 94.0,259.3 100.0,255.8 106.0,252.5 112.0,249.4 118.0,246.4 124.0,243.6 130.0,241.1 136.0,238.7 142.0,236.5 148.0,234.5 154.0,232.6 160.0,231.0 166.0,229.5 172.0,228.2 178.0,227.1 184.0,226.2 190.0,225.5 196.0,225.0 202.0,225.0 208.0,225.1 214.0,225.3 220.0,225.5 226.0,225.8 232.0,226.2 238.0,226.6 244.0,227.1 250.0,227.6 256.0,228.2 262.0,228.9 268.0,229.6 274.0,230.4 280.0,231.3 286.0,232.2 292.0,233.2 298.0,234.2 304.0,235.3 310.0,236.5 316.0,237.7"/><path d="M-2.0,352.0 4.0,345.3 10.0,338.6 16.0,332.1 22.0,325.8 28.0,319.7 34.0,313.9 40.0,308.2 46.0,302.7 52.0,297.5 58.0,292.5 64.0,287.6 70.0,283.0 76.0,278.5 82.0,274.3 88.0,270.3 94.0,266.4 100.0,262.8 106.0,259.4 112.0,256.1 118.0,253.1 124.0,250.2 130.0,247.6 136.0,245.1 142.0,242.8 148.0,240.7 154.0,238.8 160.0,237.1 166.0,235.6 172.0,234.3 178.0,233.1 184.0,232.2 190.0,231.4 196.0,230.9 202.0,230.9 208.0,231.0 214.0,231.2 220.0,231.4 226.0,231.7 232.0,232.1 238.0,232.5 244.0,232.9 250.0,233.5 256.0,234.1 262.0,234.7 268.0,235.4 274.0,236.2 280.0,237.1 286.0,238.0 292.0,238.9 298.0,240.0 304.0,241.0 310.0,242.2 316.0,243.4"/><path d="M-2.0,361.8 4.0,354.9 10.0,348.0 16.0,341.3 22.0,334.8 28.0,328.5 34.0,322.5 40.0,316.6 46.0,311.0 52.0,305.6 58.0,300.4 64.0,295.4 70.0,290.6 76.0,286.0 82.0,281.7 88.0,277.5 94.0,273.5 100.0,269.8 106.0,266.2 112.0,262.9 118.0,259.8 124.0,256.8 130.0,254.1 136.0,251.5 142.0,249.2 148.0,247.0 154.0,245.0 160.0,243.3 166.0,241.7 172.0,240.3 178.0,239.1 184.0,238.1 190.0,237.3 196.0,236.8 202.0,236.8 208.0,236.9 214.0,237.1 220.0,237.3 226.0,237.6 232.0,237.9 238.0,238.3 244.0,238.8 250.0,239.3 256.0,239.9 262.0,240.6 268.0,241.3 274.0,242.0 280.0,242.8 286.0,243.7 292.0,244.7 298.0,245.7 304.0,246.7 310.0,247.9 316.0,249.1"/><path d="M-2.0,371.7 4.0,364.6 10.0,357.4 16.0,350.5 22.0,343.8 28.0,337.4 34.0,331.1 40.0,325.1 46.0,319.3 52.0,313.7 58.0,308.3 64.0,303.2 70.0,298.3 76.0,293.5 82.0,289.0 88.0,284.7 94.0,280.7 100.0,276.8 106.0,273.1 112.0,269.7 118.0,266.4 124.0,263.4 130.0,260.6 136.0,257.9 142.0,255.5 148.0,253.3 154.0,251.3 160.0,249.4 166.0,247.8 172.0,246.4 178.0,245.1 184.0,244.1 190.0,243.3 196.0,242.7 202.0,242.7 208.0,242.8 214.0,243.0 220.0,243.2 226.0,243.5 232.0,243.8 238.0,244.2 244.0,244.7 250.0,245.2 256.0,245.8 262.0,246.4 268.0,247.1 274.0,247.8 280.0,248.6 286.0,249.5 292.0,250.4 298.0,251.4 304.0,252.4 310.0,253.6 316.0,254.7"/><path d="M-2.0,381.6 4.0,374.3 10.0,366.9 16.0,359.8 22.0,352.9 28.0,346.2 34.0,339.8 40.0,333.6 46.0,327.6 52.0,321.9 58.0,316.3 64.0,311.0 70.0,305.9 76.0,301.1 82.0,296.4 88.0,292.0 94.0,287.8 100.0,283.8 106.0,280.0 112.0,276.5 118.0,273.1 124.0,270.0 130.0,267.1 136.0,264.4 142.0,261.9 148.0,259.6 154.0,257.5 160.0,255.6 166.0,253.9 172.0,252.4 178.0,251.1 184.0,250.1 190.0,249.2 196.0,248.6 202.0,248.6 208.0,248.7 214.0,248.9 220.0,249.1 226.0,249.4 232.0,249.7 238.0,250.1 244.0,250.5 250.0,251.0 256.0,251.6 262.0,252.2 268.0,252.9 274.0,253.6 280.0,254.4 286.0,255.3 292.0,256.2 298.0,257.1 304.0,258.2 310.0,259.2 316.0,260.4"/><path d="M-2.0,391.6 4.0,384.1 10.0,376.5 16.0,369.2 22.0,362.1 28.0,355.2 34.0,348.6 40.0,342.2 46.0,336.0 52.0,330.1 58.0,324.4 64.0,318.9 70.0,313.7 76.0,308.6 82.0,303.9 88.0,299.3 94.0,295.0 100.0,290.9 106.0,287.0 112.0,283.3 118.0,279.9 124.0,276.6 130.0,273.6 136.0,270.8 142.0,268.2 148.0,265.9 154.0,263.7 160.0,261.7 166.0,260.0 172.0,258.5 178.0,257.1 184.0,256.0 190.0,255.1 196.0,254.5 202.0,254.5 208.0,254.6 214.0,254.8 220.0,255.0 226.0,255.3 232.0,255.6 238.0,256.0 244.0,256.4 250.0,256.9 256.0,257.4 262.0,258.0 268.0,258.7 274.0,259.4 280.0,260.2 286.0,261.0 292.0,261.9 298.0,262.9 304.0,263.9 310.0,264.9 316.0,266.0"/><path d="M-2.0,401.7 4.0,394.0 10.0,386.2 16.0,378.6 22.0,371.3 28.0,364.2 34.0,357.3 40.0,350.8 46.0,344.4 52.0,338.3 58.0,332.4 64.0,326.8 70.0,321.4 76.0,316.2 82.0,311.3 88.0,306.6 94.0,302.2 100.0,297.9 106.0,293.9 112.0,290.1 118.0,286.6 124.0,283.2 130.0,280.1 136.0,277.3 142.0,274.6 148.0,272.1 154.0,269.9 160.0,267.9 166.0,266.1 172.0,264.5 178.0,263.1 184.0,262.0 190.0,261.0 196.0,260.4 202.0,260.4 208.0,260.5 214.0,260.7 220.0,260.9 226.0,261.1 232.0,261.5 238.0,261.8 244.0,262.3 250.0,262.7 256.0,263.3 262.0,263.9 268.0,264.5 274.0,265.2 280.0,266.0 286.0,266.8 292.0,267.7 298.0,268.6 304.0,269.6 310.0,270.6 316.0,271.7"/><path d="M-2.0,409.7 4.0,401.9 10.0,394.0 16.0,386.3 22.0,378.9 28.0,371.7 34.0,364.8 40.0,358.1 46.0,351.7 52.0,345.5 58.0,339.5 64.0,333.8 70.0,328.3 76.0,323.1 82.0,318.1 88.0,313.4 94.0,308.8 100.0,304.5 106.0,300.5 112.0,296.6 118.0,293.0 124.0,289.6 130.0,286.5 136.0,283.5 142.0,280.8 148.0,278.3 154.0,276.1 160.0,274.0 166.0,272.2 172.0,270.5 178.0,269.1 184.0,267.9 190.0,267.0 196.0,266.3 202.0,266.3 208.0,266.4 214.0,266.6 220.0,266.8 226.0,267.0 232.0,267.3 238.0,267.7 244.0,268.1 250.0,268.6 256.0,269.1 262.0,269.7 268.0,270.4 274.0,271.1 280.0,271.8 286.0,272.6 292.0,273.5 298.0,274.4 304.0,275.4 310.0,276.4 316.0,277.5"/><path d="M-2.0,416.6 4.0,408.7 10.0,400.7 16.0,393.0 22.0,385.6 28.0,378.4 34.0,371.4 40.0,364.7 46.0,358.3 52.0,352.1 58.0,346.1 64.0,340.3 70.0,334.8 76.0,329.6 82.0,324.5 88.0,319.8 94.0,315.2 100.0,310.9 106.0,306.8 112.0,302.9 118.0,299.3 124.0,295.9 130.0,292.7 136.0,289.7 142.0,287.0 148.0,284.4 154.0,282.1 160.0,280.1 166.0,278.2 172.0,276.5 178.0,275.1 184.0,273.9 190.0,272.9 196.0,272.2 202.0,272.2 208.0,272.3 214.0,272.5 220.0,272.7 226.0,272.9 232.0,273.2 238.0,273.6 244.0,274.0 250.0,274.5 256.0,275.0 262.0,275.6 268.0,276.3 274.0,277.0 280.0,277.7 286.0,278.5 292.0,279.4 298.0,280.3 304.0,281.3 310.0,282.3 316.0,283.4"/><path d="M-2.0,423.4 4.0,415.5 10.0,407.5 16.0,399.8 22.0,392.3 28.0,385.1 34.0,378.1 40.0,371.4 46.0,364.9 52.0,358.6 58.0,352.6 64.0,346.9 70.0,341.3 76.0,336.0 82.0,331.0 88.0,326.2 94.0,321.6 100.0,317.2 106.0,313.1 112.0,309.2 118.0,305.5 124.0,302.1 130.0,298.9 136.0,295.9 142.0,293.1 148.0,290.6 154.0,288.2 160.0,286.1 166.0,284.2 172.0,282.6 178.0,281.1 184.0,279.8 190.0,278.8 196.0,278.1 202.0,278.1 208.0,278.2 214.0,278.4 220.0,278.6 226.0,278.8 232.0,279.1 238.0,279.5 244.0,279.9 250.0,280.4 256.0,280.9 262.0,281.5 268.0,282.2 274.0,282.9 280.0,283.6 286.0,284.4 292.0,285.3 298.0,286.2 304.0,287.2 310.0,288.2 316.0,289.3"/><path d="M-2.0,430.2 4.0,422.3 10.0,414.3 16.0,406.5 22.0,399.0 28.0,391.8 34.0,384.8 40.0,378.0 46.0,371.5 52.0,365.2 58.0,359.2 64.0,353.4 70.0,347.8 76.0,342.5 82.0,337.4 88.0,332.6 94.0,328.0 100.0,323.6 106.0,319.4 112.0,315.5 118.0,311.8 124.0,308.3 130.0,305.1 136.0,302.1 142.0,299.3 148.0,296.7 154.0,294.3 160.0,292.2 166.0,290.3 172.0,288.6 178.0,287.1 184.0,285.8 190.0,284.7 196.0,284.0 202.0,284.0 208.0,284.1 214.0,284.3 220.0,284.5 226.0,284.7 232.0,285.0 238.0,285.4 244.0,285.8 250.0,286.3 256.0,286.8 262.0,287.4 268.0,288.1 274.0,288.8 280.0,289.5 286.0,290.3 292.0,291.2 298.0,292.1 304.0,293.1 310.0,294.1 316.0,295.2"/></g></defs>
<use href="#sp1" transform="translate(418.7,5.3)" fill="none" stroke="#a8a8a8" stroke-width="2.80" stroke-opacity="0.50"/>
<defs><linearGradient id="cg1" gradientUnits="userSpaceOnUse" x1="0" y1="0.0" x2="0" y2="283.3"><stop offset="0" stop-color="#d1d1d1"/><stop offset="0.55" stop-color="#d1d1d1"/><stop offset="1" stop-color="#dbdbdb"/></linearGradient></defs>
<use href="#sp1" transform="translate(418.7,5.3)" fill="none" stroke="url(#cg1)" stroke-width="1.45"/>
</g>
<defs><linearGradient id="og1" gradientUnits="userSpaceOnUse" x1="0" y1="0" x2="0" y2="283.3"><stop offset="0" stop-color="#62adb4" stop-opacity="0.65"/><stop offset="0.55" stop-color="#62adb4" stop-opacity="0.65"/><stop offset="1" stop-color="#4a9cba" stop-opacity="0.85"/></linearGradient></defs>
<use href="#sp1" transform="translate(418.7,5.3)" fill="none" stroke="url(#og1)" stroke-width="1.30" filter="url(#sb)"/>
</g>
<rect x="418.7" y="5.3" width="325.8" height="283.3" fill="none" stroke="#8a8a8a" stroke-width="1.25"/>
<line x1="509.7" y1="180.9" x2="712.3" y2="175.4" stroke="#1a1a1a" stroke-width="1.1"/>
<text x="718.2" y="136.9" font-size="12.6" text-anchor="middle">A</text>
<text x="727.7" y="211.9" font-size="12.6" text-anchor="middle">B</text>
<text x="747.3" y="107.7" font-size="9.5">NDRE</text>
<rect x="747.6" y="112.2" width="10" height="5.4" fill="#d7191c"/>
<text x="759.9" y="117.8" font-size="9.3">-0.02</text>
<rect x="747.6" y="122.2" width="10" height="5.4" fill="#ed7d4e"/>
<text x="759.9" y="127.8" font-size="9.3">0.11</text>
<rect x="747.6" y="132.2" width="10" height="5.4" fill="#fec780"/>
<text x="759.9" y="137.8" font-size="9.3">0.13</text>
<rect x="747.6" y="142.2" width="10" height="5.4" fill="#ffffbf"/>
<text x="759.9" y="147.8" font-size="9.3">0.15</text>
<rect x="747.6" y="152.2" width="10" height="5.4" fill="#c7e8a8"/>
<text x="759.9" y="157.8" font-size="9.3">0.18</text>
<rect x="747.6" y="162.2" width="10" height="5.4" fill="#7abea8"/>
<text x="759.9" y="167.8" font-size="9.3">0.23</text>
<rect x="747.6" y="172.2" width="10" height="5.4" fill="#2b83ba"/>
<text x="759.9" y="177.8" font-size="9.3">0.45</text>
<text transform="translate(411.1,50.7) rotate(-90)" font-size="11" text-anchor="middle" dy="3.8" textLength="35" lengthAdjust="spacingAndGlyphs">7664843</text>
<text transform="translate(411.1,146.3) rotate(-90)" font-size="11" text-anchor="middle" dy="3.8" textLength="35" lengthAdjust="spacingAndGlyphs">7664783</text>
<text transform="translate(411.1,241.3) rotate(-90)" font-size="11" text-anchor="middle" dy="3.8" textLength="35" lengthAdjust="spacingAndGlyphs">7664723</text>
<text x="423.9" y="300.4" font-size="11" textLength="35" lengthAdjust="spacingAndGlyphs">1132470</text>
<text x="566.7" y="300.4" font-size="11" textLength="35" lengthAdjust="spacingAndGlyphs">1132560</text>
<text x="710.3" y="300.4" font-size="11" textLength="35" lengthAdjust="spacingAndGlyphs">1132650</text>
<circle cx="474.7" cy="235.1" r="8.3" fill="url(#ng)" stroke="#333" stroke-width="0.8"/>
<path d="M474.7,222.2 L482.7,242.1 L474.7,235.1 Z" fill="url(#ag)"/>
<path d="M474.7,222.2 L466.7,242.1 L474.7,235.1 Z" fill="#f2f2f2"/>
<path d="M474.7,222.2 L482.7,242.1 L474.7,235.1 L466.7,242.1 Z" fill="none" stroke="#1e1e1e" stroke-width="0.9" stroke-linejoin="miter"/>
<rect x="447.0" y="257.7" width="47.9" height="4.4" fill="#fff" stroke="#000" stroke-width="0.6"/>
<rect x="447.0" y="257.7" width="16" height="4.4" fill="#000"/>
<rect x="478.9" y="257.7" width="16" height="4.4" fill="#000"/>
<text x="447.0" y="253.8" font-size="6" text-anchor="middle">0</text>
<text x="463.0" y="253.8" font-size="6" text-anchor="middle">10</text>
<text x="478.9" y="253.8" font-size="6" text-anchor="middle">20</text>
<text x="494.9" y="253.8" font-size="6" text-anchor="middle">30</text>
<text x="499.3" y="253.8" font-size="6">m</text>
<defs><filter id="f2" filterUnits="userSpaceOnUse" x="15.5" y="319.5" width="325.5" height="283.1" color-interpolation-filters="sRGB"><feGaussianBlur in="SourceGraphic" stdDeviation="0.7" result="s"/><feTurbulence type="fractalNoise" baseFrequency="0.3 0.6" numOctaves="1" seed="17" result="t1"/><feColorMatrix in="t1" type="matrix" values="1 0 0 0 0 1 0 0 0 0 1 0 0 0 0 0 0 0 0 1" result="n1"/><feTurbulence type="fractalNoise" baseFrequency="0.08 0.3" numOctaves="2" seed="21" result="t2"/><feColorMatrix in="t2" type="matrix" values="1 0 0 0 0 1 0 0 0 0 1 0 0 0 0 0 0 0 0 1" result="n2"/><feComposite in="s" in2="n2" operator="arithmetic" k1="0" k2="1" k3="0.400" k4="-0.200" result="s2"/><feComponentTransfer in="n1" result="MA"><feFuncR type="table" tableValues="0.000 0.000 0.000 0.000 0.000 0.000 0.000 0.000 0.000 0.000 0.000 0.000 0.000 0.000 0.000 0.000 0.000 0.000 0.000 0.000 0.000 0.000 0.000 0.000 0.250 0.875 1.000 1.000 1.000 1.000 1.000 1.000 1.000 1.000 1.000 1.000 1.000 1.000 1.000 1.000 1.000"/><feFuncG type="table" tableValues="0.000 0.000 0.000 0.000 0.000 0.000 0.000 0.000 0.000 0.000 0.000 0.000 0.000 0.000 0.000 0.000 0.000 0.000 0.000 0.000 0.000 0.000 0.000 0.000 0.250 0.875 1.000 1.000 1.000 1.000 1.000 1.000 1.000 1.000 1.000 1.000 1.000 1.000 1.000 1.000 1.000"/><feFuncB type="table" tableValues="0.000 0.000 0.000 0.000 0.000 0.000 0.000 0.000 0.000 0.000 0.000 0.000 0.000 0.000 0.000 0.000 0.000 0.000 0.000 0.000 0.000 0.000 0.000 0.000 0.250 0.875 1.000 1.000 1.000 1.000 1.000 1.000 1.000 1.000 1.000 1.000 1.000 1.000 1.000 1.000 1.000"/></feComponentTransfer><feComponentTransfer in="n1" result="MB"><feFuncR type="table" tableValues="1.000 1.000 1.000 1.000 1.000 1.000 1.000 1.000 1.000 1.000 1.000 1.000 1.000 1.000 1.000 0.875 0.250 0.000 0.000 0.000 0.000 0.000 0.000 0.000 0.000 0.000 0.000 0.000 0.000 0.000 0.000 0.000 0.000 0.000 0.000 0.000 0.000 0.000 0.000 0.000 0.000"/><feFuncG type="table" tableValues="1.000 1.000 1.000 1.000 1.000 1.000 1.000 1.000 1.000 1.000 1.000 1.000 1.000 1.000 1.000 0.875 0.250 0.000 0.000 0.000 0.000 0.000 0.000 0.000 0.000 0.000 0.000 0.000 0.000 0.000 0.000 0.000 0.000 0.000 0.000 0.000 0.000 0.000 0.000 0.000 0.000"/><feFuncB type="table" tableValues="1.000 1.000 1.000 1.000 1.000 1.000 1.000 1.000 1.000 1.000 1.000 1.000 1.000 1.000 1.000 0.875 0.250 0.000 0.000 0.000 0.000 0.000 0.000 0.000 0.000 0.000 0.000 0.000 0.000 0.000 0.000 0.000 0.000 0.000 0.000 0.000 0.000 0.000 0.000 0.000 0.000"/></feComponentTransfer><feComponentTransfer in="s2" result="XA"><feFuncR type="linear" slope="-0.500" intercept="0.225"/><feFuncG type="linear" slope="-0.500" intercept="0.225"/><feFuncB type="linear" slope="-0.500" intercept="0.225"/></feComponentTransfer><feComposite in="XA" in2="MA" operator="arithmetic" k1="1" k2="0" k3="0" k4="0" result="PA"/><feComponentTransfer in="s2" result="XB"><feFuncR type="linear" slope="0.800" intercept="-0.512"/><feFuncG type="linear" slope="0.800" intercept="-0.512"/><feFuncB type="linear" slope="0.800" intercept="-0.512"/></feComponentTransfer><feComposite in="XB" in2="MB" operator="arithmetic" k1="1" k2="0" k3="0" k4="0" result="PB"/><feComponentTransfer in="PB" result="QB"><feFuncR type="linear" slope="-1" intercept="1"/><feFuncG type="linear" slope="-1" intercept="1"/><feFuncB type="linear" slope="-1" intercept="1"/></feComponentTransfer><feComposite in="s2" in2="PA" operator="arithmetic" k1="0" k2="1" k3="1" k4="0" result="v1"/><feComposite in="v1" in2="QB" operator="arithmetic" k1="0" k2="1" k3="1" k4="-1" result="v2"/><feComponentTransfer in="v2" result="cm"><feFuncR type="table" tableValues="0.8431 0.9294 0.9961 1.0000 0.7804 0.4784 0.1686"/><feFuncG type="table" tableValues="0.0980 0.4902 0.7804 1.0000 0.9098 0.7451 0.5137"/><feFuncB type="table" tableValues="0.1098 0.3059 0.5020 0.7490 0.6588 0.6588 0.7294"/><feFuncA type="linear" slope="0" intercept="1"/></feComponentTransfer><feGaussianBlur in="cm" stdDeviation="0.5"/></filter></defs>
<defs><linearGradient id="bg2" x1="0" y1="0" x2="0" y2="1"><stop offset="0.00" stop-color="#b8b8b8"/><stop offset="1.00" stop-color="#c2c2c2"/></linearGradient></defs>
<g clip-path="url(#c2)"><g filter="url(#f2)">
<rect x="15.5" y="319.5" width="325.5" height="283.1" fill="url(#bg2)"/>
<g filter="url(#bl)">
<ellipse cx="55.5" cy="359.5" rx="40.0" ry="25.0" fill="#a3a3a3"/>
<ellipse cx="155.5" cy="359.5" rx="60.0" ry="25.0" fill="#999999"/>
<ellipse cx="250.5" cy="394.5" rx="60.0" ry="35.0" fill="#5c5c5c"/>
<ellipse cx="215.5" cy="374.5" rx="40.0" ry="20.0" fill="#808080"/>
<ellipse cx="105.5" cy="429.5" rx="50.0" ry="45.0" fill="#cccccc"/>
<ellipse cx="195.5" cy="454.5" rx="45.0" ry="45.0" fill="#bdbdbd"/>
<ellipse cx="290.5" cy="469.5" rx="30.0" ry="55.0" fill="#666666"/>
<ellipse cx="310.5" cy="534.5" rx="18.0" ry="30.0" fill="#737373"/>
<ellipse cx="155.5" cy="534.5" rx="40.0" ry="35.0" fill="#cccccc"/>
<ellipse cx="235.5" cy="534.5" rx="40.0" ry="35.0" fill="#bdbdbd"/>
<ellipse cx="235.5" cy="577.5" rx="80.0" ry="12.0" fill="#cccccc"/>
</g>
<defs><g id="sp2"><path d="M-2.0,-47.0 4.0,-49.4 10.0,-51.3 16.0,-53.2 22.0,-55.1 28.0,-56.8 34.0,-58.5 40.0,-60.0 46.0,-61.5 52.0,-63.0 58.0,-64.3 64.0,-65.6 70.0,-66.7 76.0,-67.8 82.0,-68.8 88.0,-69.7 94.0,-70.6 100.0,-71.3 106.0,-72.0 112.0,-72.6 118.0,-73.1 124.0,-73.5 130.0,-73.9 136.0,-74.1 142.0,-74.3 148.0,-74.3 154.0,-74.1 160.0,-73.7 166.0,-73.2 172.0,-72.6 178.0,-72.0 184.0,-71.2 190.0,-70.4 196.0,-69.6 202.0,-69.5 208.0,-69.2 214.0,-68.9 220.0,-68.4 226.0,-67.9 232.0,-67.2 238.0,-66.4 244.0,-65.6 250.0,-64.6 256.0,-63.5 262.0,-62.3 268.0,-60.9 274.0,-59.5 280.0,-58.0 286.0,-56.4 292.0,-54.6 298.0,-52.8 304.0,-50.8 310.0,-48.7 316.0,-46.5"/><path d="M-2.0,-40.2 4.0,-42.6 10.0,-44.6 16.0,-46.5 22.0,-48.4 28.0,-50.1 34.0,-51.8 40.0,-53.4 46.0,-54.9 52.0,-56.4 58.0,-57.8 64.0,-59.0 70.0,-60.2 76.0,-61.4 82.0,-62.4 88.0,-63.3 94.0,-64.2 100.0,-65.0 106.0,-65.7 112.0,-66.3 118.0,-66.8 124.0,-67.3 130.0,-67.6 136.0,-67.9 142.0,-68.1 148.0,-68.2 154.0,-68.0 160.0,-67.6 166.0,-67.2 172.0,-66.6 178.0,-66.0 184.0,-65.3 190.0,-64.4 196.0,-63.7 202.0,-63.6 208.0,-63.3 214.0,-63.0 220.0,-62.5 226.0,-62.0 232.0,-61.3 238.0,-60.5 244.0,-59.7 250.0,-58.7 256.0,-57.6 262.0,-56.4 268.0,-55.0 274.0,-53.6 280.0,-52.1 286.0,-50.5 292.0,-48.7 298.0,-46.9 304.0,-44.9 310.0,-42.8 316.0,-40.6"/><path d="M-2.0,-33.3 4.0,-35.8 10.0,-37.8 16.0,-39.8 22.0,-41.6 28.0,-43.4 34.0,-45.1 40.0,-46.8 46.0,-48.3 52.0,-49.8 58.0,-51.2 64.0,-52.5 70.0,-53.7 76.0,-54.9 82.0,-56.0 88.0,-56.9 94.0,-57.8 100.0,-58.6 106.0,-59.4 112.0,-60.0 118.0,-60.6 124.0,-61.1 130.0,-61.4 136.0,-61.7 142.0,-62.0 148.0,-62.1 154.0,-61.9 160.0,-61.6 166.0,-61.1 172.0,-60.6 178.0,-60.0 184.0,-59.3 190.0,-58.5 196.0,-57.8 202.0,-57.7 208.0,-57.4 214.0,-57.1 220.0,-56.6 226.0,-56.1 232.0,-55.4 238.0,-54.6 244.0,-53.8 250.0,-52.8 256.0,-51.7 262.0,-50.5 268.0,-49.1 274.0,-47.7 280.0,-46.2 286.0,-44.6 292.0,-42.8 298.0,-41.0 304.0,-39.0 310.0,-36.9 316.0,-34.7"/><path d="M-2.0,-26.5 4.0,-29.0 10.0,-31.0 16.0,-33.0 22.0,-34.9 28.0,-36.7 34.0,-38.5 40.0,-40.2 46.0,-41.7 52.0,-43.2 58.0,-44.7 64.0,-46.0 70.0,-47.3 76.0,-48.4 82.0,-49.5 88.0,-50.5 94.0,-51.5 100.0,-52.3 106.0,-53.1 112.0,-53.7 118.0,-54.3 124.0,-54.8 130.0,-55.2 136.0,-55.6 142.0,-55.8 148.0,-56.0 154.0,-55.8 160.0,-55.5 166.0,-55.1 172.0,-54.6 178.0,-54.0 184.0,-53.4 190.0,-52.6 196.0,-51.9 202.0,-51.8 208.0,-51.5 214.0,-51.2 220.0,-50.7 226.0,-50.2 232.0,-49.5 238.0,-48.7 244.0,-47.9 250.0,-46.9 256.0,-45.8 262.0,-44.6 268.0,-43.2 274.0,-41.8 280.0,-40.3 286.0,-38.7 292.0,-36.9 298.0,-35.1 304.0,-33.1 310.0,-31.0 316.0,-28.8"/><path d="M-2.0,-19.7 4.0,-22.2 10.0,-24.3 16.0,-26.3 22.0,-28.2 28.0,-30.1 34.0,-31.8 40.0,-33.5 46.0,-35.1 52.0,-36.7 58.0,-38.1 64.0,-39.5 70.0,-40.8 76.0,-42.0 82.0,-43.1 88.0,-44.1 94.0,-45.1 100.0,-46.0 106.0,-46.7 112.0,-47.4 118.0,-48.1 124.0,-48.6 130.0,-49.0 136.0,-49.4 142.0,-49.7 148.0,-49.8 154.0,-49.7 160.0,-49.4 166.0,-49.1 172.0,-48.6 178.0,-48.1 184.0,-47.4 190.0,-46.7 196.0,-46.0 202.0,-45.9 208.0,-45.6 214.0,-45.3 220.0,-44.8 226.0,-44.3 232.0,-43.6 238.0,-42.8 244.0,-42.0 250.0,-41.0 256.0,-39.9 262.0,-38.7 268.0,-37.3 274.0,-35.9 280.0,-34.4 286.0,-32.8 292.0,-31.0 298.0,-29.2 304.0,-27.2 310.0,-25.1 316.0,-22.9"/><path d="M-2.0,-12.9 4.0,-15.4 10.0,-17.5 16.0,-19.5 22.0,-21.5 28.0,-23.4 34.0,-25.2 40.0,-26.9 46.0,-28.5 52.0,-30.1 58.0,-31.6 64.0,-33.0 70.0,-34.3 76.0,-35.5 82.0,-36.7 88.0,-37.7 94.0,-38.7 100.0,-39.6 106.0,-40.4 112.0,-41.1 118.0,-41.8 124.0,-42.3 130.0,-42.8 136.0,-43.2 142.0,-43.5 148.0,-43.7 154.0,-43.6 160.0,-43.4 166.0,-43.0 172.0,-42.6 178.0,-42.1 184.0,-41.5 190.0,-40.8 196.0,-40.1 202.0,-40.0 208.0,-39.7 214.0,-39.4 220.0,-38.9 226.0,-38.4 232.0,-37.7 238.0,-36.9 244.0,-36.1 250.0,-35.1 256.0,-34.0 262.0,-32.8 268.0,-31.4 274.0,-30.0 280.0,-28.5 286.0,-26.9 292.0,-25.1 298.0,-23.3 304.0,-21.3 310.0,-19.2 316.0,-17.0"/><path d="M-2.0,-6.1 4.0,-8.6 10.0,-10.7 16.0,-12.8 22.0,-14.8 28.0,-16.7 34.0,-18.5 40.0,-20.3 46.0,-21.9 52.0,-23.5 58.0,-25.0 64.0,-26.4 70.0,-27.8 76.0,-29.0 82.0,-30.2 88.0,-31.3 94.0,-32.3 100.0,-33.3 106.0,-34.1 112.0,-34.9 118.0,-35.5 124.0,-36.1 130.0,-36.6 136.0,-37.0 142.0,-37.4 148.0,-37.6 154.0,-37.6 160.0,-37.3 166.0,-37.0 172.0,-36.6 178.0,-36.1 184.0,-35.5 190.0,-34.8 196.0,-34.2 202.0,-34.1 208.0,-33.8 214.0,-33.5 220.0,-33.0 226.0,-32.5 232.0,-31.8 238.0,-31.0 244.0,-30.2 250.0,-29.2 256.0,-28.1 262.0,-26.9 268.0,-25.5 274.0,-24.1 280.0,-22.6 286.0,-21.0 292.0,-19.2 298.0,-17.4 304.0,-15.4 310.0,-13.3 316.0,-11.1"/><path d="M-2.0,0.8 4.0,-1.8 10.0,-3.9 16.0,-6.0 22.0,-8.1 28.0,-10.0 34.0,-11.8 40.0,-13.6 46.0,-15.3 52.0,-16.9 58.0,-18.5 64.0,-19.9 70.0,-21.3 76.0,-22.6 82.0,-23.8 88.0,-24.9 94.0,-26.0 100.0,-26.9 106.0,-27.8 112.0,-28.6 118.0,-29.3 124.0,-29.9 130.0,-30.4 136.0,-30.9 142.0,-31.2 148.0,-31.5 154.0,-31.5 160.0,-31.3 166.0,-31.0 172.0,-30.6 178.0,-30.1 184.0,-29.6 190.0,-28.9 196.0,-28.3 202.0,-28.2 208.0,-27.9 214.0,-27.6 220.0,-27.1 226.0,-26.6 232.0,-25.9 238.0,-25.1 244.0,-24.3 250.0,-23.3 256.0,-22.2 262.0,-21.0 268.0,-19.6 274.0,-18.2 280.0,-16.7 286.0,-15.1 292.0,-13.3 298.0,-11.5 304.0,-9.5 310.0,-7.4 316.0,-5.2"/><path d="M-2.0,7.6 4.0,5.0 10.0,2.8 16.0,0.7 22.0,-1.3 28.0,-3.3 34.0,-5.2 40.0,-7.0 46.0,-8.7 52.0,-10.4 58.0,-11.9 64.0,-13.4 70.0,-14.8 76.0,-16.1 82.0,-17.4 88.0,-18.5 94.0,-19.6 100.0,-20.6 106.0,-21.5 112.0,-22.3 118.0,-23.0 124.0,-23.6 130.0,-24.2 136.0,-24.7 142.0,-25.1 148.0,-25.4 154.0,-25.4 160.0,-25.2 166.0,-24.9 172.0,-24.6 178.0,-24.1 184.0,-23.6 190.0,-23.0 196.0,-22.4 202.0,-22.3 208.0,-22.0 214.0,-21.7 220.0,-21.2 226.0,-20.7 232.0,-20.0 238.0,-19.2 244.0,-18.4 250.0,-17.4 256.0,-16.3 262.0,-15.1 268.0,-13.7 274.0,-12.3 280.0,-10.8 286.0,-9.2 292.0,-7.4 298.0,-5.6 304.0,-3.6 310.0,-1.5 316.0,0.7"/><path d="M-2.0,14.4 4.0,11.8 10.0,9.6 16.0,7.5 22.0,5.4 28.0,3.4 34.0,1.5 40.0,-0.4 46.0,-2.1 52.0,-3.8 58.0,-5.4 64.0,-6.9 70.0,-8.3 76.0,-9.7 82.0,-10.9 88.0,-12.1 94.0,-13.2 100.0,-14.2 106.0,-15.1 112.0,-16.0 118.0,-16.7 124.0,-17.4 130.0,-18.0 136.0,-18.5 142.0,-18.9 148.0,-19.2 154.0,-19.3 160.0,-19.1 166.0,-18.9 172.0,-18.6 178.0,-18.1 184.0,-17.6 190.0,-17.1 196.0,-16.5 202.0,-16.4 208.0,-16.1 214.0,-15.8 220.0,-15.3 226.0,-14.8 232.0,-14.1 238.0,-13.3 244.0,-12.5 250.0,-11.5 256.0,-10.4 262.0,-9.2 268.0,-7.8 274.0,-6.4 280.0,-4.9 286.0,-3.3 292.0,-1.5 298.0,0.3 304.0,2.3 310.0,4.4 316.0,6.6"/><path d="M-2.0,21.2 4.0,18.6 10.0,16.4 16.0,14.2 22.0,12.1 28.0,10.1 34.0,8.1 40.0,6.3 46.0,4.5 52.0,2.8 58.0,1.2 64.0,-0.4 70.0,-1.8 76.0,-3.2 82.0,-4.5 88.0,-5.7 94.0,-6.8 100.0,-7.9 106.0,-8.8 112.0,-9.7 118.0,-10.5 124.0,-11.2 130.0,-11.8 136.0,-12.3 142.0,-12.8 148.0,-13.1 154.0,-13.2 160.0,-13.1 166.0,-12.9 172.0,-12.6 178.0,-12.2 184.0,-11.7 190.0,-11.1 196.0,-10.6 202.0,-10.5 208.0,-10.2 214.0,-9.9 220.0,-9.4 226.0,-8.9 232.0,-8.2 238.0,-7.4 244.0,-6.6 250.0,-5.6 256.0,-4.5 262.0,-3.3 268.0,-1.9 274.0,-0.5 280.0,1.0 286.0,2.6 292.0,4.4 298.0,6.2 304.0,8.2 310.0,10.3 316.0,12.5"/><path d="M-2.0,28.0 4.0,25.4 10.0,23.2 16.0,20.9 22.0,18.8 28.0,16.8 34.0,14.8 40.0,12.9 46.0,11.1 52.0,9.4 58.0,7.7 64.0,6.1 70.0,4.7 76.0,3.3 82.0,1.9 88.0,0.7 94.0,-0.4 100.0,-1.5 106.0,-2.5 112.0,-3.4 118.0,-4.2 124.0,-4.9 130.0,-5.6 136.0,-6.1 142.0,-6.6 148.0,-7.0 154.0,-7.1 160.0,-7.0 166.0,-6.8 172.0,-6.5 178.0,-6.2 184.0,-5.7 190.0,-5.2 196.0,-4.7 202.0,-4.6 208.0,-4.3 214.0,-4.0 220.0,-3.5 226.0,-3.0 232.0,-2.3 238.0,-1.5 244.0,-0.7 250.0,0.3 256.0,1.4 262.0,2.6 268.0,4.0 274.0,5.4 280.0,6.9 286.0,8.5 292.0,10.3 298.0,12.1 304.0,14.1 310.0,16.2 316.0,18.4"/><path d="M-2.0,34.8 4.0,32.2 10.0,29.9 16.0,27.7 22.0,25.5 28.0,23.4 34.0,21.4 40.0,19.5 46.0,17.7 52.0,15.9 58.0,14.2 64.0,12.7 70.0,11.1 76.0,9.7 82.0,8.4 88.0,7.1 94.0,5.9 100.0,4.8 106.0,3.8 112.0,2.9 118.0,2.1 124.0,1.3 130.0,0.6 136.0,0.0 142.0,-0.5 148.0,-0.9 154.0,-1.0 160.0,-0.9 166.0,-0.8 172.0,-0.5 178.0,-0.2 184.0,0.2 190.0,0.7 196.0,1.2 202.0,1.3 208.0,1.6 214.0,1.9 220.0,2.4 226.0,2.9 232.0,3.6 238.0,4.4 244.0,5.2 250.0,6.2 256.0,7.3 262.0,8.5 268.0,9.8 274.0,11.3 280.0,12.8 286.0,14.4 292.0,16.2 298.0,18.0 304.0,20.0 310.0,22.0 316.0,24.2"/><path d="M-2.0,41.6 4.0,38.9 10.0,36.6 16.0,34.3 22.0,32.1 28.0,30.0 34.0,28.0 40.0,26.1 46.0,24.2 52.0,22.4 58.0,20.7 64.0,19.1 70.0,17.6 76.0,16.1 82.0,14.7 88.0,13.5 94.0,12.3 100.0,11.1 106.0,10.1 112.0,9.2 118.0,8.3 124.0,7.5 130.0,6.8 136.0,6.2 142.0,5.7 148.0,5.3 154.0,5.1 160.0,5.1 166.0,5.3 172.0,5.5 178.0,5.8 184.0,6.2 190.0,6.6 196.0,7.1 202.0,7.2 208.0,7.5 214.0,7.8 220.0,8.2 226.0,8.8 232.0,9.4 238.0,10.2 244.0,11.1 250.0,12.0 256.0,13.1 262.0,14.3 268.0,15.6 274.0,17.0 280.0,18.5 286.0,20.1 292.0,21.8 298.0,23.6 304.0,25.6 310.0,27.6 316.0,29.8"/><path d="M-2.0,48.4 4.0,45.7 10.0,43.3 16.0,41.0 22.0,38.8 28.0,36.7 34.0,34.6 40.0,32.7 46.0,30.8 52.0,29.0 58.0,27.2 64.0,25.6 70.0,24.0 76.0,22.6 82.0,21.2 88.0,19.8 94.0,18.6 100.0,17.5 106.0,16.4 112.0,15.4 118.0,14.5 124.0,13.7 130.0,13.0 136.0,12.4 142.0,11.8 148.0,11.4 154.0,11.2 160.0,11.2 166.0,11.3 172.0,11.5 178.0,11.7 184.0,12.1 190.0,12.5 196.0,13.0 202.0,13.1 208.0,13.3 214.0,13.7 220.0,14.1 226.0,14.6 232.0,15.3 238.0,16.0 244.0,16.9 250.0,17.8 256.0,18.9 262.0,20.1 268.0,21.3 274.0,22.7 280.0,24.2 286.0,25.8 292.0,27.5 298.0,29.3 304.0,31.2 310.0,33.2 316.0,35.3"/><path d="M-2.0,55.2 4.0,52.6 10.0,50.1 16.0,47.8 22.0,45.6 28.0,43.4 34.0,41.3 40.0,39.3 46.0,37.4 52.0,35.5 58.0,33.8 64.0,32.1 70.0,30.5 76.0,29.0 82.0,27.6 88.0,26.2 94.0,25.0 100.0,23.8 106.0,22.7 112.0,21.7 118.0,20.8 124.0,20.0 130.0,19.2 136.0,18.6 142.0,18.0 148.0,17.5 154.0,17.3 160.0,17.3 166.0,17.3 172.0,17.5 178.0,17.7 184.0,18.0 190.0,18.5 196.0,18.9 202.0,19.0 208.0,19.2 214.0,19.5 220.0,20.0 226.0,20.5 232.0,21.1 238.0,21.8 244.0,22.7 250.0,23.6 256.0,24.7 262.0,25.8 268.0,27.1 274.0,28.4 280.0,29.9 286.0,31.5 292.0,33.1 298.0,34.9 304.0,36.8 310.0,38.8 316.0,40.9"/><path d="M-2.0,62.2 4.0,59.5 10.0,57.0 16.0,54.7 22.0,52.4 28.0,50.2 34.0,48.0 40.0,46.0 46.0,44.0 52.0,42.2 58.0,40.4 64.0,38.7 70.0,37.0 76.0,35.5 82.0,34.0 88.0,32.7 94.0,31.4 100.0,30.2 106.0,29.0 112.0,28.0 118.0,27.1 124.0,26.2 130.0,25.4 136.0,24.8 142.0,24.2 148.0,23.6 154.0,23.4 160.0,23.3 166.0,23.4 172.0,23.5 178.0,23.7 184.0,24.0 190.0,24.4 196.0,24.8 202.0,24.9 208.0,25.1 214.0,25.4 220.0,25.8 226.0,26.3 232.0,26.9 238.0,27.7 244.0,28.5 250.0,29.4 256.0,30.5 262.0,31.6 268.0,32.8 274.0,34.2 280.0,35.6 286.0,37.2 292.0,38.8 298.0,40.6 304.0,42.4 310.0,44.4 316.0,46.4"/><path d="M-2.0,69.2 4.0,66.5 10.0,64.0 16.0,61.6 22.0,59.2 28.0,57.0 34.0,54.8 40.0,52.7 46.0,50.7 52.0,48.8 58.0,47.0 64.0,45.2 70.0,43.6 76.0,42.0 82.0,40.5 88.0,39.1 94.0,37.8 100.0,36.5 106.0,35.4 112.0,34.3 118.0,33.4 124.0,32.5 130.0,31.7 136.0,30.9 142.0,30.3 148.0,29.8 154.0,29.5 160.0,29.4 166.0,29.4 172.0,29.5 178.0,29.7 184.0,29.9 190.0,30.3 196.0,30.7 202.0,30.8 208.0,31.0 214.0,31.3 220.0,31.7 226.0,32.2 232.0,32.8 238.0,33.5 244.0,34.3 250.0,35.2 256.0,36.2 262.0,37.4 268.0,38.6 274.0,39.9 280.0,41.3 286.0,42.8 292.0,44.5 298.0,46.2 304.0,48.0 310.0,49.9 316.0,52.0"/><path d="M-2.0,76.3 4.0,73.5 10.0,71.0 16.0,68.5 22.0,66.1 28.0,63.8 34.0,61.6 40.0,59.5 46.0,57.5 52.0,55.5 58.0,53.6 64.0,51.9 70.0,50.2 76.0,48.5 82.0,47.0 88.0,45.6 94.0,44.2 100.0,42.9 106.0,41.7 112.0,40.7 118.0,39.6 124.0,38.7 130.0,37.9 136.0,37.1 142.0,36.5 148.0,35.9 154.0,35.6 160.0,35.5 166.0,35.5 172.0,35.5 178.0,35.6 184.0,35.9 190.0,36.2 196.0,36.6 202.0,36.7 208.0,36.9 214.0,37.1 220.0,37.5 226.0,38.0 232.0,38.6 238.0,39.3 244.0,40.1 250.0,41.0 256.0,42.0 262.0,43.1 268.0,44.3 274.0,45.6 280.0,47.0 286.0,48.5 292.0,50.1 298.0,51.8 304.0,53.6 310.0,55.5 316.0,57.5"/><path d="M-2.0,83.5 4.0,80.6 10.0,78.0 16.0,75.5 22.0,73.1 28.0,70.8 34.0,68.5 40.0,66.3 46.0,64.3 52.0,62.3 58.0,60.3 64.0,58.5 70.0,56.8 76.0,55.1 82.0,53.5 88.0,52.0 94.0,50.7 100.0,49.3 106.0,48.1 112.0,47.0 118.0,45.9 124.0,45.0 130.0,44.1 136.0,43.3 142.0,42.7 148.0,42.1 154.0,41.7 160.0,41.6 166.0,41.5 172.0,41.5 178.0,41.6 184.0,41.8 190.0,42.1 196.0,42.4 202.0,42.5 208.0,42.7 214.0,43.0 220.0,43.4 226.0,43.9 232.0,44.5 238.0,45.2 244.0,45.9 250.0,46.8 256.0,47.8 262.0,48.9 268.0,50.1 274.0,51.3 280.0,52.7 286.0,54.2 292.0,55.8 298.0,57.5 304.0,59.2 310.0,61.1 316.0,63.1"/><path d="M-2.0,90.7 4.0,87.8 10.0,85.2 16.0,82.6 22.0,80.1 28.0,77.7 34.0,75.4 40.0,73.2 46.0,71.1 52.0,69.0 58.0,67.1 64.0,65.2 70.0,63.4 76.0,61.7 82.0,60.1 88.0,58.6 94.0,57.1 100.0,55.8 106.0,54.5 112.0,53.3 118.0,52.3 124.0,51.3 130.0,50.4 136.0,49.6 142.0,48.8 148.0,48.2 154.0,47.8 160.0,47.6 166.0,47.5 172.0,47.5 178.0,47.6 184.0,47.8 190.0,48.0 196.0,48.3 202.0,48.4 208.0,48.6 214.0,48.9 220.0,49.3 226.0,49.7 232.0,50.3 238.0,51.0 244.0,51.8 250.0,52.6 256.0,53.6 262.0,54.6 268.0,55.8 274.0,57.1 280.0,58.4 286.0,59.9 292.0,61.4 298.0,63.1 304.0,64.8 310.0,66.7 316.0,68.6"/><path d="M-2.0,98.0 4.0,95.1 10.0,92.4 16.0,89.8 22.0,87.2 28.0,84.8 34.0,82.4 40.0,80.1 46.0,77.9 52.0,75.8 58.0,73.8 64.0,71.9 70.0,70.1 76.0,68.3 82.0,66.6 88.0,65.1 94.0,63.6 100.0,62.2 106.0,60.9 112.0,59.7 118.0,58.6 124.0,57.6 130.0,56.6 136.0,55.8 142.0,55.0 148.0,54.4 154.0,54.0 160.0,53.7 166.0,53.6 172.0,53.5 178.0,53.6 184.0,53.7 190.0,54.0 196.0,54.2 202.0,54.3 208.0,54.5 214.0,54.8 220.0,55.1 226.0,55.6 232.0,56.2 238.0,56.8 244.0,57.6 250.0,58.4 256.0,59.4 262.0,60.4 268.0,61.6 274.0,62.8 280.0,64.1 286.0,65.6 292.0,67.1 298.0,68.7 304.0,70.5 310.0,72.3 316.0,74.2"/><path d="M-2.0,105.4 4.0,102.4 10.0,99.7 16.0,97.0 22.0,94.4 28.0,91.8 34.0,89.4 40.0,87.1 46.0,84.8 52.0,82.7 58.0,80.6 64.0,78.6 70.0,76.7 76.0,74.9 82.0,73.2 88.0,71.6 94.0,70.1 100.0,68.7 106.0,67.3 112.0,66.1 118.0,64.9 124.0,63.9 130.0,62.9 136.0,62.0 142.0,61.2 148.0,60.5 154.0,60.1 160.0,59.8 166.0,59.6 172.0,59.5 178.0,59.6 184.0,59.7 190.0,59.9 196.0,60.1 202.0,60.2 208.0,60.4 214.0,60.6 220.0,61.0 226.0,61.4 232.0,62.0 238.0,62.6 244.0,63.4 250.0,64.2 256.0,65.1 262.0,66.2 268.0,67.3 274.0,68.5 280.0,69.8 286.0,71.3 292.0,72.8 298.0,74.4 304.0,76.1 310.0,77.9 316.0,79.8"/><path d="M-2.0,112.9 4.0,109.8 10.0,107.0 16.0,104.2 22.0,101.6 28.0,99.0 34.0,96.5 40.0,94.1 46.0,91.8 52.0,89.6 58.0,87.4 64.0,85.4 70.0,83.5 76.0,81.6 82.0,79.9 88.0,78.2 94.0,76.6 100.0,75.1 106.0,73.7 112.0,72.5 118.0,71.3 124.0,70.2 130.0,69.1 136.0,68.2 142.0,67.4 148.0,66.7 154.0,66.2 160.0,65.9 166.0,65.7 172.0,65.6 178.0,65.5 184.0,65.6 190.0,65.8 196.0,66.0 202.0,66.1 208.0,66.3 214.0,66.5 220.0,66.9 226.0,67.3 232.0,67.8 238.0,68.5 244.0,69.2 250.0,70.0 256.0,70.9 262.0,71.9 268.0,73.0 274.0,74.2 280.0,75.5 286.0,76.9 292.0,78.4 298.0,80.0 304.0,81.7 310.0,83.4 316.0,85.3"/><path d="M-2.0,120.4 4.0,117.3 10.0,114.4 16.0,111.6 22.0,108.8 28.0,106.2 34.0,103.6 40.0,101.1 46.0,98.8 52.0,96.5 58.0,94.3 64.0,92.2 70.0,90.2 76.0,88.3 82.0,86.5 88.0,84.8 94.0,83.2 100.0,81.6 106.0,80.2 112.0,78.9 118.0,77.6 124.0,76.5 130.0,75.4 136.0,74.5 142.0,73.6 148.0,72.9 154.0,72.3 160.0,72.0 166.0,71.7 172.0,71.6 178.0,71.5 184.0,71.6 190.0,71.7 196.0,71.9 202.0,72.0 208.0,72.1 214.0,72.4 220.0,72.7 226.0,73.2 232.0,73.7 238.0,74.3 244.0,75.0 250.0,75.8 256.0,76.7 262.0,77.7 268.0,78.8 274.0,80.0 280.0,81.3 286.0,82.6 292.0,84.1 298.0,85.6 304.0,87.3 310.0,89.0 316.0,90.9"/><path d="M-2.0,128.1 4.0,124.9 10.0,121.9 16.0,119.0 22.0,116.1 28.0,113.4 34.0,110.8 40.0,108.2 46.0,105.8 52.0,103.4 58.0,101.2 64.0,99.0 70.0,97.0 76.0,95.0 82.0,93.2 88.0,91.4 94.0,89.7 100.0,88.1 106.0,86.6 112.0,85.3 118.0,84.0 124.0,82.8 130.0,81.7 136.0,80.7 142.0,79.8 148.0,79.0 154.0,78.5 160.0,78.1 166.0,77.8 172.0,77.6 178.0,77.5 184.0,77.5 190.0,77.6 196.0,77.8 202.0,77.9 208.0,78.0 214.0,78.3 220.0,78.6 226.0,79.0 232.0,79.5 238.0,80.1 244.0,80.8 250.0,81.6 256.0,82.5 262.0,83.5 268.0,84.5 274.0,85.7 280.0,87.0 286.0,88.3 292.0,89.7 298.0,91.3 304.0,92.9 310.0,94.6 316.0,96.4"/><path d="M-2.0,135.8 4.0,132.5 10.0,129.4 16.0,126.4 22.0,123.5 28.0,120.7 34.0,118.0 40.0,115.4 46.0,112.9 52.0,110.4 58.0,108.1 64.0,105.9 70.0,103.8 76.0,101.8 82.0,99.8 88.0,98.0 94.0,96.3 100.0,94.6 106.0,93.1 112.0,91.7 118.0,90.4 124.0,89.1 130.0,88.0 136.0,87.0 142.0,86.0 148.0,85.2 154.0,84.6 160.0,84.2 166.0,83.8 172.0,83.6 178.0,83.5 184.0,83.5 190.0,83.5 196.0,83.7 202.0,83.8 208.0,83.9 214.0,84.1 220.0,84.4 226.0,84.9 232.0,85.4 238.0,86.0 244.0,86.6 250.0,87.4 256.0,88.3 262.0,89.2 268.0,90.3 274.0,91.4 280.0,92.7 286.0,94.0 292.0,95.4 298.0,96.9 304.0,98.5 310.0,100.2 316.0,102.0"/><path d="M-2.0,143.5 4.0,140.2 10.0,137.0 16.0,133.9 22.0,130.9 28.0,128.0 34.0,125.3 40.0,122.6 46.0,120.0 52.0,117.5 58.0,115.1 64.0,112.8 70.0,110.6 76.0,108.5 82.0,106.5 88.0,104.7 94.0,102.9 100.0,101.2 106.0,99.6 112.0,98.1 118.0,96.7 124.0,95.5 130.0,94.3 136.0,93.2 142.0,92.2 148.0,91.4 154.0,90.7 160.0,90.3 166.0,89.9 172.0,89.6 178.0,89.5 184.0,89.4 190.0,89.4 196.0,89.6 202.0,89.6 208.0,89.8 214.0,90.0 220.0,90.3 226.0,90.7 232.0,91.2 238.0,91.8 244.0,92.5 250.0,93.2 256.0,94.1 262.0,95.0 268.0,96.0 274.0,97.2 280.0,98.4 286.0,99.7 292.0,101.1 298.0,102.5 304.0,104.1 310.0,105.8 316.0,107.5"/><path d="M-2.0,151.4 4.0,147.9 10.0,144.7 16.0,141.5 22.0,138.4 28.0,135.4 34.0,132.6 40.0,129.8 46.0,127.1 52.0,124.6 58.0,122.1 64.0,119.7 70.0,117.5 76.0,115.3 82.0,113.3 88.0,111.3 94.0,109.5 100.0,107.7 106.0,106.1 112.0,104.6 118.0,103.1 124.0,101.8 130.0,100.6 136.0,99.5 142.0,98.5 148.0,97.5 154.0,96.9 160.0,96.4 166.0,95.9 172.0,95.6 178.0,95.4 184.0,95.3 190.0,95.4 196.0,95.5 202.0,95.5 208.0,95.7 214.0,95.9 220.0,96.2 226.0,96.6 232.0,97.0 238.0,97.6 244.0,98.3 250.0,99.0 256.0,99.8 262.0,100.8 268.0,101.8 274.0,102.9 280.0,104.1 286.0,105.4 292.0,106.7 298.0,108.2 304.0,109.7 310.0,111.4 316.0,113.1"/><path d="M-2.0,159.3 4.0,155.8 10.0,152.4 16.0,149.1 22.0,145.9 28.0,142.9 34.0,139.9 40.0,137.1 46.0,134.3 52.0,131.7 58.0,129.1 64.0,126.7 70.0,124.4 76.0,122.1 82.0,120.0 88.0,118.0 94.0,116.1 100.0,114.3 106.0,112.6 112.0,111.0 118.0,109.5 124.0,108.2 130.0,106.9 136.0,105.7 142.0,104.7 148.0,103.7 154.0,103.0 160.0,102.5 166.0,102.0 172.0,101.7 178.0,101.4 184.0,101.3 190.0,101.3 196.0,101.3 202.0,101.4 208.0,101.5 214.0,101.7 220.0,102.0 226.0,102.4 232.0,102.9 238.0,103.4 244.0,104.1 250.0,104.8 256.0,105.6 262.0,106.5 268.0,107.5 274.0,108.6 280.0,109.8 286.0,111.0 292.0,112.4 298.0,113.8 304.0,115.3 310.0,116.9 316.0,118.6"/><path d="M-2.0,167.3 4.0,163.7 10.0,160.2 16.0,156.8 22.0,153.5 28.0,150.4 34.0,147.3 40.0,144.4 46.0,141.6 52.0,138.8 58.0,136.2 64.0,133.7 70.0,131.3 76.0,129.0 82.0,126.8 88.0,124.7 94.0,122.8 100.0,120.9 106.0,119.1 112.0,117.5 118.0,116.0 124.0,114.5 130.0,113.2 136.0,112.0 142.0,110.9 148.0,109.9 154.0,109.2 160.0,108.6 166.0,108.1 172.0,107.7 178.0,107.4 184.0,107.2 190.0,107.2 196.0,107.2 202.0,107.3 208.0,107.4 214.0,107.6 220.0,107.9 226.0,108.3 232.0,108.7 238.0,109.3 244.0,109.9 250.0,110.6 256.0,111.4 262.0,112.3 268.0,113.3 274.0,114.3 280.0,115.5 286.0,116.7 292.0,118.0 298.0,119.4 304.0,120.9 310.0,122.5 316.0,124.2"/><path d="M-2.0,175.4 4.0,171.6 10.0,168.0 16.0,164.6 22.0,161.2 28.0,157.9 34.0,154.8 40.0,151.8 46.0,148.8 52.0,146.0 58.0,143.3 64.0,140.7 70.0,138.2 76.0,135.9 82.0,133.6 88.0,131.5 94.0,129.4 100.0,127.5 106.0,125.7 112.0,124.0 118.0,122.4 124.0,120.9 130.0,119.5 136.0,118.3 142.0,117.1 148.0,116.1 154.0,115.3 160.0,114.7 166.0,114.1 172.0,113.7 178.0,113.4 184.0,113.2 190.0,113.1 196.0,113.1 202.0,113.2 208.0,113.3 214.0,113.5 220.0,113.8 226.0,114.1 232.0,114.6 238.0,115.1 244.0,115.7 250.0,116.4 256.0,117.2 262.0,118.1 268.0,119.0 274.0,120.1 280.0,121.2 286.0,122.4 292.0,123.7 298.0,125.1 304.0,126.6 310.0,128.1 316.0,129.7"/><path d="M-2.0,183.5 4.0,179.7 10.0,176.0 16.0,172.4 22.0,168.9 28.0,165.5 34.0,162.3 40.0,159.2 46.0,156.1 52.0,153.2 58.0,150.5 64.0,147.8 70.0,145.2 76.0,142.8 82.0,140.4 88.0,138.2 94.0,136.1 100.0,134.1 106.0,132.2 112.0,130.5 118.0,128.8 124.0,127.3 130.0,125.9 136.0,124.6 142.0,123.4 148.0,122.3 154.0,121.4 160.0,120.8 166.0,120.2 172.0,119.7 178.0,119.4 184.0,119.1 190.0,119.0 196.0,119.0 202.0,119.1 208.0,119.2 214.0,119.4 220.0,119.6 226.0,120.0 232.0,120.4 238.0,120.9 244.0,121.5 250.0,122.2 256.0,123.0 262.0,123.8 268.0,124.8 274.0,125.8 280.0,126.9 286.0,128.1 292.0,129.4 298.0,130.7 304.0,132.2 310.0,133.7 316.0,135.3"/><path d="M-2.0,191.7 4.0,187.8 10.0,184.0 16.0,180.3 22.0,176.7 28.0,173.2 34.0,169.9 40.0,166.6 46.0,163.5 52.0,160.5 58.0,157.6 64.0,154.9 70.0,152.2 76.0,149.7 82.0,147.3 88.0,145.0 94.0,142.8 100.0,140.8 106.0,138.8 112.0,137.0 118.0,135.3 124.0,133.7 130.0,132.2 136.0,130.9 142.0,129.6 148.0,128.5 154.0,127.6 160.0,126.9 166.0,126.2 172.0,125.7 178.0,125.4 184.0,125.1 190.0,124.9 196.0,124.9 202.0,125.0 208.0,125.1 214.0,125.2 220.0,125.5 226.0,125.8 232.0,126.2 238.0,126.8 244.0,127.3 250.0,128.0 256.0,128.8 262.0,129.6 268.0,130.5 274.0,131.5 280.0,132.6 286.0,133.8 292.0,135.0 298.0,136.4 304.0,137.8 310.0,139.3 316.0,140.9"/><path d="M-2.0,200.0 4.0,196.0 10.0,192.0 16.0,188.2 22.0,184.5 28.0,180.9 34.0,177.5 40.0,174.1 46.0,170.9 52.0,167.8 58.0,164.8 64.0,162.0 70.0,159.3 76.0,156.6 82.0,154.2 88.0,151.8 94.0,149.5 100.0,147.4 106.0,145.4 112.0,143.5 118.0,141.7 124.0,140.1 130.0,138.6 136.0,137.2 142.0,135.9 148.0,134.7 154.0,133.8 160.0,133.0 166.0,132.3 172.0,131.8 178.0,131.3 184.0,131.0 190.0,130.9 196.0,130.8 202.0,130.9 208.0,130.9 214.0,131.1 220.0,131.3 226.0,131.7 232.0,132.1 238.0,132.6 244.0,133.2 250.0,133.8 256.0,134.5 262.0,135.4 268.0,136.3 274.0,137.2 280.0,138.3 286.0,139.5 292.0,140.7 298.0,142.0 304.0,143.4 310.0,144.9 316.0,146.4"/><path d="M-2.0,208.4 4.0,204.2 10.0,200.1 16.0,196.2 22.0,192.4 28.0,188.7 34.0,185.1 40.0,181.7 46.0,178.4 52.0,175.2 58.0,172.1 64.0,169.1 70.0,166.3 76.0,163.6 82.0,161.0 88.0,158.6 94.0,156.3 100.0,154.1 106.0,152.0 112.0,150.0 118.0,148.2 124.0,146.5 130.0,144.9 136.0,143.5 142.0,142.1 148.0,140.9 154.0,139.9 160.0,139.1 166.0,138.4 172.0,137.8 178.0,137.3 184.0,137.0 190.0,136.8 196.0,136.7 202.0,136.7 208.0,136.8 214.0,137.0 220.0,137.2 226.0,137.5 232.0,137.9 238.0,138.4 244.0,139.0 250.0,139.6 256.0,140.3 262.0,141.1 268.0,142.0 274.0,143.0 280.0,144.0 286.0,145.1 292.0,146.3 298.0,147.6 304.0,149.0 310.0,150.4 316.0,152.0"/><path d="M-2.0,216.8 4.0,212.5 10.0,208.3 16.0,204.3 22.0,200.3 28.0,196.5 34.0,192.8 40.0,189.3 46.0,185.8 52.0,182.5 58.0,179.4 64.0,176.3 70.0,173.4 76.0,170.6 82.0,168.0 88.0,165.4 94.0,163.0 100.0,160.8 106.0,158.6 112.0,156.6 118.0,154.7 124.0,152.9 130.0,151.3 136.0,149.8 142.0,148.4 148.0,147.1 154.0,146.1 160.0,145.2 166.0,144.4 172.0,143.8 178.0,143.3 184.0,142.9 190.0,142.7 196.0,142.6 202.0,142.6 208.0,142.7 214.0,142.8 220.0,143.1 226.0,143.4 232.0,143.8 238.0,144.2 244.0,144.8 250.0,145.4 256.0,146.1 262.0,146.9 268.0,147.8 274.0,148.7 280.0,149.7 286.0,150.8 292.0,152.0 298.0,153.3 304.0,154.6 310.0,156.0 316.0,157.5"/><path d="M-2.0,225.3 4.0,220.9 10.0,216.6 16.0,212.4 22.0,208.3 28.0,204.4 34.0,200.6 40.0,196.9 46.0,193.4 52.0,190.0 58.0,186.7 64.0,183.5 70.0,180.5 76.0,177.6 82.0,174.9 88.0,172.3 94.0,169.8 100.0,167.5 106.0,165.2 112.0,163.1 118.0,161.2 124.0,159.4 130.0,157.7 136.0,156.1 142.0,154.6 148.0,153.3 154.0,152.2 160.0,151.3 166.0,150.5 172.0,149.8 178.0,149.3 184.0,148.9 190.0,148.6 196.0,148.5 202.0,148.5 208.0,148.6 214.0,148.7 220.0,148.9 226.0,149.2 232.0,149.6 238.0,150.1 244.0,150.6 250.0,151.2 256.0,151.9 262.0,152.7 268.0,153.5 274.0,154.4 280.0,155.4 286.0,156.5 292.0,157.7 298.0,158.9 304.0,160.2 310.0,161.6 316.0,163.1"/><path d="M-2.0,233.9 4.0,229.4 10.0,224.9 16.0,220.6 22.0,216.4 28.0,212.3 34.0,208.4 40.0,204.6 46.0,200.9 52.0,197.4 58.0,194.0 64.0,190.8 70.0,187.7 76.0,184.7 82.0,181.9 88.0,179.2 94.0,176.6 100.0,174.2 106.0,171.9 112.0,169.7 118.0,167.7 124.0,165.8 130.0,164.0 136.0,162.4 142.0,160.9 148.0,159.6 154.0,158.4 160.0,157.4 166.0,156.6 172.0,155.9 178.0,155.3 184.0,154.8 190.0,154.5 196.0,154.4 202.0,154.4 208.0,154.5 214.0,154.6 220.0,154.8 226.0,155.1 232.0,155.5 238.0,155.9 244.0,156.4 250.0,157.0 256.0,157.7 262.0,158.4 268.0,159.3 274.0,160.2 280.0,161.1 286.0,162.2 292.0,163.3 298.0,164.5 304.0,165.8 310.0,167.2 316.0,168.6"/><path d="M-2.0,242.6 4.0,237.9 10.0,233.3 16.0,228.8 22.0,224.5 28.0,220.3 34.0,216.2 40.0,212.3 46.0,208.5 52.0,204.9 58.0,201.4 64.0,198.1 70.0,194.9 76.0,191.8 82.0,188.9 88.0,186.1 94.0,183.4 100.0,180.9 106.0,178.5 112.0,176.3 118.0,174.2 124.0,172.2 130.0,170.4 136.0,168.7 142.0,167.2 148.0,165.8 154.0,164.6 160.0,163.5 166.0,162.7 172.0,161.9 178.0,161.3 184.0,160.8 190.0,160.4 196.0,160.2 202.0,160.3 208.0,160.3 214.0,160.5 220.0,160.7 226.0,160.9 232.0,161.3 238.0,161.7 244.0,162.2 250.0,162.8 256.0,163.5 262.0,164.2 268.0,165.0 274.0,165.9 280.0,166.8 286.0,167.9 292.0,169.0 298.0,170.2 304.0,171.4 310.0,172.8 316.0,174.2"/><path d="M-2.0,251.4 4.0,246.5 10.0,241.8 16.0,237.1 22.0,232.6 28.0,228.3 34.0,224.1 40.0,220.1 46.0,216.2 52.0,212.4 58.0,208.8 64.0,205.4 70.0,202.1 76.0,198.9 82.0,195.9 88.0,193.0 94.0,190.2 100.0,187.7 106.0,185.2 112.0,182.9 118.0,180.7 124.0,178.7 130.0,176.8 136.0,175.1 142.0,173.5 148.0,172.0 154.0,170.8 160.0,169.7 166.0,168.7 172.0,167.9 178.0,167.3 184.0,166.7 190.0,166.4 196.0,166.1 202.0,166.2 208.0,166.2 214.0,166.3 220.0,166.5 226.0,166.8 232.0,167.1 238.0,167.5 244.0,168.0 250.0,168.6 256.0,169.2 262.0,170.0 268.0,170.7 274.0,171.6 280.0,172.5 286.0,173.6 292.0,174.6 298.0,175.8 304.0,177.0 310.0,178.3 316.0,179.7"/><path d="M-2.0,260.2 4.0,255.2 10.0,250.3 16.0,245.5 22.0,240.9 28.0,236.4 34.0,232.1 40.0,227.9 46.0,223.9 52.0,220.0 58.0,216.3 64.0,212.7 70.0,209.3 76.0,206.0 82.0,202.9 88.0,199.9 94.0,197.1 100.0,194.4 106.0,191.9 112.0,189.5 118.0,187.3 124.0,185.2 130.0,183.2 136.0,181.4 142.0,179.7 148.0,178.2 154.0,176.9 160.0,175.8 166.0,174.8 172.0,174.0 178.0,173.3 184.0,172.7 190.0,172.3 196.0,172.0 202.0,172.1 208.0,172.1 214.0,172.2 220.0,172.4 226.0,172.6 232.0,173.0 238.0,173.4 244.0,173.9 250.0,174.4 256.0,175.0 262.0,175.7 268.0,176.5 274.0,177.3 280.0,178.3 286.0,179.2 292.0,180.3 298.0,181.4 304.0,182.6 310.0,183.9 316.0,185.3"/><path d="M-2.0,269.1 4.0,263.9 10.0,258.9 16.0,253.9 22.0,249.1 28.0,244.5 34.0,240.1 40.0,235.8 46.0,231.6 52.0,227.6 58.0,223.8 64.0,220.1 70.0,216.6 76.0,213.2 82.0,210.0 88.0,206.9 94.0,204.0 100.0,201.2 106.0,198.6 112.0,196.1 118.0,193.8 124.0,191.6 130.0,189.6 136.0,187.8 142.0,186.0 148.0,184.5 154.0,183.1 160.0,181.9 166.0,180.9 172.0,180.0 178.0,179.2 184.0,178.6 190.0,178.2 196.0,177.9 202.0,177.9 208.0,178.0 214.0,178.1 220.0,178.3 226.0,178.5 232.0,178.8 238.0,179.2 244.0,179.7 250.0,180.2 256.0,180.8 262.0,181.5 268.0,182.2 274.0,183.1 280.0,184.0 286.0,184.9 292.0,186.0 298.0,187.1 304.0,188.3 310.0,189.5 316.0,190.8"/><path d="M-2.0,278.0 4.0,272.8 10.0,267.5 16.0,262.4 22.0,257.5 28.0,252.7 34.0,248.1 40.0,243.7 46.0,239.4 52.0,235.3 58.0,231.3 64.0,227.5 70.0,223.9 76.0,220.4 82.0,217.0 88.0,213.9 94.0,210.9 100.0,208.0 106.0,205.3 112.0,202.7 118.0,200.4 124.0,198.1 130.0,196.0 136.0,194.1 142.0,192.3 148.0,190.7 154.0,189.3 160.0,188.0 166.0,187.0 172.0,186.0 178.0,185.2 184.0,184.6 190.0,184.1 196.0,183.8 202.0,183.8 208.0,183.9 214.0,184.0 220.0,184.1 226.0,184.4 232.0,184.7 238.0,185.0 244.0,185.5 250.0,186.0 256.0,186.6 262.0,187.3 268.0,188.0 274.0,188.8 280.0,189.7 286.0,190.6 292.0,191.6 298.0,192.7 304.0,193.9 310.0,195.1 316.0,196.4"/><path d="M-2.0,287.1 4.0,281.6 10.0,276.2 16.0,271.0 22.0,265.9 28.0,261.0 34.0,256.2 40.0,251.6 46.0,247.2 52.0,242.9 58.0,238.9 64.0,234.9 70.0,231.2 76.0,227.6 82.0,224.1 88.0,220.9 94.0,217.8 100.0,214.8 106.0,212.0 112.0,209.4 118.0,206.9 124.0,204.6 130.0,202.5 136.0,200.5 142.0,198.6 148.0,196.9 154.0,195.5 160.0,194.2 166.0,193.0 172.0,192.1 178.0,191.2 184.0,190.5 190.0,190.0 196.0,189.7 202.0,189.7 208.0,189.7 214.0,189.8 220.0,190.0 226.0,190.2 232.0,190.5 238.0,190.9 244.0,191.3 250.0,191.8 256.0,192.4 262.0,193.0 268.0,193.7 274.0,194.5 280.0,195.4 286.0,196.3 292.0,197.3 298.0,198.3 304.0,199.5 310.0,200.7 316.0,202.0"/><path d="M-2.0,296.2 4.0,290.6 10.0,285.0 16.0,279.6 22.0,274.3 28.0,269.3 34.0,264.3 40.0,259.6 46.0,255.1 52.0,250.7 58.0,246.5 64.0,242.4 70.0,238.5 76.0,234.8 82.0,231.3 88.0,227.9 94.0,224.7 100.0,221.6 106.0,218.8 112.0,216.0 118.0,213.5 124.0,211.1 130.0,208.9 136.0,206.8 142.0,204.9 148.0,203.2 154.0,201.7 160.0,200.3 166.0,199.1 172.0,198.1 178.0,197.2 184.0,196.5 190.0,195.9 196.0,195.6 202.0,195.6 208.0,195.6 214.0,195.7 220.0,195.8 226.0,196.1 232.0,196.3 238.0,196.7 244.0,197.1 250.0,197.6 256.0,198.2 262.0,198.8 268.0,199.5 274.0,200.2 280.0,201.1 286.0,202.0 292.0,202.9 298.0,204.0 304.0,205.1 310.0,206.3 316.0,207.5"/><path d="M-2.0,305.4 4.0,299.6 10.0,293.8 16.0,288.2 22.0,282.8 28.0,277.6 34.0,272.5 40.0,267.7 46.0,263.0 52.0,258.4 58.0,254.1 64.0,249.9 70.0,245.9 76.0,242.1 82.0,238.4 88.0,234.9 94.0,231.6 100.0,228.5 106.0,225.5 112.0,222.7 118.0,220.1 124.0,217.6 130.0,215.3 136.0,213.2 142.0,211.2 148.0,209.4 154.0,207.8 160.0,206.4 166.0,205.2 172.0,204.1 178.0,203.2 184.0,202.4 190.0,201.9 196.0,201.5 202.0,201.5 208.0,201.5 214.0,201.6 220.0,201.7 226.0,201.9 232.0,202.2 238.0,202.5 244.0,202.9 250.0,203.4 256.0,203.9 262.0,204.5 268.0,205.2 274.0,206.0 280.0,206.8 286.0,207.7 292.0,208.6 298.0,209.6 304.0,210.7 310.0,211.8 316.0,213.1"/><path d="M-2.0,314.7 4.0,308.7 10.0,302.8 16.0,297.0 22.0,291.4 28.0,286.0 34.0,280.8 40.0,275.7 46.0,270.9 52.0,266.2 58.0,261.7 64.0,257.4 70.0,253.3 76.0,249.4 82.0,245.6 88.0,242.0 94.0,238.6 100.0,235.3 106.0,232.3 112.0,229.4 118.0,226.7 124.0,224.1 130.0,221.8 136.0,219.6 142.0,217.5 148.0,215.7 154.0,214.0 160.0,212.6 166.0,211.3 172.0,210.2 178.0,209.2 184.0,208.4 190.0,207.8 196.0,207.4 202.0,207.4 208.0,207.4 214.0,207.4 220.0,207.6 226.0,207.8 232.0,208.0 238.0,208.3 244.0,208.7 250.0,209.2 256.0,209.7 262.0,210.3 268.0,211.0 274.0,211.7 280.0,212.5 286.0,213.3 292.0,214.3 298.0,215.3 304.0,216.3 310.0,217.4 316.0,218.6"/><path d="M-2.0,324.0 4.0,317.9 10.0,311.7 16.0,305.8 22.0,300.0 28.0,294.5 34.0,289.1 40.0,283.9 46.0,278.9 52.0,274.1 58.0,269.4 64.0,265.0 70.0,260.7 76.0,256.7 82.0,252.8 88.0,249.1 94.0,245.6 100.0,242.2 106.0,239.1 112.0,236.1 118.0,233.3 124.0,230.7 130.0,228.2 136.0,226.0 142.0,223.9 148.0,221.9 154.0,220.2 160.0,218.7 166.0,217.4 172.0,216.2 178.0,215.2 184.0,214.3 190.0,213.7 196.0,213.3 202.0,213.3 208.0,213.3 214.0,213.3 220.0,213.4 226.0,213.6 232.0,213.9 238.0,214.2 244.0,214.6 250.0,215.0 256.0,215.5 262.0,216.1 268.0,216.7 274.0,217.4 280.0,218.2 286.0,219.0 292.0,219.9 298.0,220.9 304.0,221.9 310.0,223.0 316.0,224.2"/><path d="M-2.0,333.4 4.0,327.1 10.0,320.8 16.0,314.6 22.0,308.7 28.0,303.0 34.0,297.4 40.0,292.1 46.0,286.9 52.0,281.9 58.0,277.2 64.0,272.6 70.0,268.2 76.0,264.0 82.0,260.0 88.0,256.2 94.0,252.6 100.0,249.1 106.0,245.9 112.0,242.8 118.0,239.9 124.0,237.2 130.0,234.7 136.0,232.3 142.0,230.2 148.0,228.2 154.0,226.4 160.0,224.9 166.0,223.5 172.0,222.2 178.0,221.2 184.0,220.3 190.0,219.6 196.0,219.2 202.0,219.2 208.0,219.1 214.0,219.2 220.0,219.3 226.0,219.5 232.0,219.7 238.0,220.0 244.0,220.4 250.0,220.8 256.0,221.3 262.0,221.8 268.0,222.5 274.0,223.1 280.0,223.9 286.0,224.7 292.0,225.6 298.0,226.5 304.0,227.5 310.0,228.6 316.0,229.7"/><path d="M-2.0,342.9 4.0,336.4 10.0,329.9 16.0,323.6 22.0,317.4 28.0,311.5 34.0,305.8 40.0,300.3 46.0,295.0 52.0,289.9 58.0,284.9 64.0,280.2 70.0,275.7 76.0,271.4 82.0,267.2 88.0,263.3 94.0,259.6 100.0,256.0 106.0,252.7 112.0,249.5 118.0,246.5 124.0,243.7 130.0,241.1 136.0,238.7 142.0,236.5 148.0,234.5 154.0,232.6 160.0,231.0 166.0,229.5 172.0,228.3 178.0,227.2 184.0,226.3 190.0,225.5 196.0,225.0 202.0,225.0 208.0,225.0 214.0,225.1 220.0,225.2 226.0,225.3 232.0,225.5 238.0,225.8 244.0,226.2 250.0,226.6 256.0,227.1 262.0,227.6 268.0,228.2 274.0,228.9 280.0,229.6 286.0,230.4 292.0,231.2 298.0,232.2 304.0,233.1 310.0,234.2 316.0,235.3"/><path d="M-2.0,352.5 4.0,345.8 10.0,339.1 16.0,332.5 22.0,326.2 28.0,320.1 34.0,314.2 40.0,308.6 46.0,303.1 52.0,297.8 58.0,292.7 64.0,287.9 70.0,283.2 76.0,278.8 82.0,274.5 88.0,270.5 94.0,266.6 100.0,263.0 106.0,259.5 112.0,256.2 118.0,253.2 124.0,250.3 130.0,247.6 136.0,245.1 142.0,242.8 148.0,240.7 154.0,238.8 160.0,237.1 166.0,235.6 172.0,234.3 178.0,233.2 184.0,232.2 190.0,231.4 196.0,230.9 202.0,230.9 208.0,230.9 214.0,230.9 220.0,231.0 226.0,231.2 232.0,231.4 238.0,231.7 244.0,232.0 250.0,232.4 256.0,232.9 262.0,233.4 268.0,234.0 274.0,234.6 280.0,235.3 286.0,236.1 292.0,236.9 298.0,237.8 304.0,238.7 310.0,239.8 316.0,240.8"/><path d="M-2.0,362.1 4.0,355.2 10.0,348.3 16.0,341.6 22.0,335.1 28.0,328.8 34.0,322.7 40.0,316.9 46.0,311.2 52.0,305.8 58.0,300.6 64.0,295.6 70.0,290.8 76.0,286.2 82.0,281.8 88.0,277.6 94.0,273.7 100.0,269.9 106.0,266.3 112.0,263.0 118.0,259.8 124.0,256.9 130.0,254.1 136.0,251.5 142.0,249.2 148.0,247.0 154.0,245.1 160.0,243.3 166.0,241.7 172.0,240.3 178.0,239.2 184.0,238.2 190.0,237.4 196.0,236.8 202.0,236.8 208.0,236.8 214.0,236.8 220.0,236.9 226.0,237.0 232.0,237.2 238.0,237.5 244.0,237.8 250.0,238.2 256.0,238.6 262.0,239.1 268.0,239.7 274.0,240.3 280.0,241.0 286.0,241.8 292.0,242.6 298.0,243.4 304.0,244.4 310.0,245.3 316.0,246.4"/><path d="M-2.0,371.9 4.0,364.8 10.0,357.6 16.0,350.7 22.0,344.0 28.0,337.5 34.0,331.3 40.0,325.2 46.0,319.4 52.0,313.8 58.0,308.4 64.0,303.3 70.0,298.4 76.0,293.6 82.0,289.1 88.0,284.8 94.0,280.7 100.0,276.9 106.0,273.2 112.0,269.7 118.0,266.5 124.0,263.4 130.0,260.6 136.0,258.0 142.0,255.5 148.0,253.3 154.0,251.3 160.0,249.4 166.0,247.8 172.0,246.4 178.0,245.2 184.0,244.1 190.0,243.3 196.0,242.7 202.0,242.7 208.0,242.7 214.0,242.7 220.0,242.7 226.0,242.9 232.0,243.1 238.0,243.3 244.0,243.6 250.0,244.0 256.0,244.4 262.0,244.9 268.0,245.5 274.0,246.1 280.0,246.7 286.0,247.4 292.0,248.2 298.0,249.1 304.0,250.0 310.0,250.9 316.0,251.9"/><path d="M-2.0,381.7 4.0,374.3 10.0,367.0 16.0,359.8 22.0,352.9 28.0,346.3 34.0,339.8 40.0,333.6 46.0,327.6 52.0,321.9 58.0,316.4 64.0,311.0 70.0,306.0 76.0,301.1 82.0,296.5 88.0,292.0 94.0,287.8 100.0,283.8 106.0,280.1 112.0,276.5 118.0,273.2 124.0,270.0 130.0,267.1 136.0,264.4 142.0,261.9 148.0,259.6 154.0,257.5 160.0,255.6 166.0,253.9 172.0,252.4 178.0,251.1 184.0,250.1 190.0,249.2 196.0,248.6 202.0,248.6 208.0,248.5 214.0,248.5 220.0,248.6 226.0,248.7 232.0,248.9 238.0,249.1 244.0,249.4 250.0,249.8 256.0,250.2 262.0,250.7 268.0,251.2 274.0,251.8 280.0,252.4 286.0,253.1 292.0,253.9 298.0,254.7 304.0,255.6 310.0,256.5 316.0,257.5"/><path d="M-2.0,391.6 4.0,384.1 10.0,376.5 16.0,369.2 22.0,362.1 28.0,355.2 34.0,348.6 40.0,342.2 46.0,336.0 52.0,330.1 58.0,324.4 64.0,318.9 70.0,313.7 76.0,308.6 82.0,303.9 88.0,299.3 94.0,295.0 100.0,290.9 106.0,287.0 112.0,283.3 118.0,279.9 124.0,276.6 130.0,273.6 136.0,270.8 142.0,268.2 148.0,265.9 154.0,263.7 160.0,261.7 166.0,260.0 172.0,258.5 178.0,257.1 184.0,256.0 190.0,255.1 196.0,254.5 202.0,254.5 208.0,254.4 214.0,254.4 220.0,254.5 226.0,254.6 232.0,254.8 238.0,255.0 244.0,255.3 250.0,255.6 256.0,256.0 262.0,256.5 268.0,257.0 274.0,257.6 280.0,258.2 286.0,258.9 292.0,259.6 298.0,260.4 304.0,261.3 310.0,262.2 316.0,263.1"/><path d="M-2.0,401.7 4.0,394.0 10.0,386.2 16.0,378.6 22.0,371.3 28.0,364.2 34.0,357.3 40.0,350.8 46.0,344.4 52.0,338.3 58.0,332.4 64.0,326.8 70.0,321.4 76.0,316.2 82.0,311.3 88.0,306.6 94.0,302.2 100.0,297.9 106.0,293.9 112.0,290.1 118.0,286.6 124.0,283.2 130.0,280.1 136.0,277.3 142.0,274.6 148.0,272.1 154.0,269.9 160.0,267.9 166.0,266.1 172.0,264.5 178.0,263.1 184.0,262.0 190.0,261.0 196.0,260.4 202.0,260.4 208.0,260.3 214.0,260.3 220.0,260.4 226.0,260.5 232.0,260.7 238.0,260.9 244.0,261.2 250.0,261.5 256.0,261.9 262.0,262.3 268.0,262.8 274.0,263.4 280.0,264.0 286.0,264.6 292.0,265.4 298.0,266.1 304.0,267.0 310.0,267.8 316.0,268.8"/><path d="M-2.0,409.7 4.0,401.9 10.0,394.0 16.0,386.3 22.0,378.9 28.0,371.7 34.0,364.8 40.0,358.1 46.0,351.7 52.0,345.5 58.0,339.5 64.0,333.8 70.0,328.3 76.0,323.1 82.0,318.1 88.0,313.4 94.0,308.8 100.0,304.5 106.0,300.5 112.0,296.6 118.0,293.0 124.0,289.6 130.0,286.5 136.0,283.5 142.0,280.8 148.0,278.3 154.0,276.1 160.0,274.0 166.0,272.2 172.0,270.5 178.0,269.1 184.0,267.9 190.0,267.0 196.0,266.3 202.0,266.3 208.0,266.2 214.0,266.2 220.0,266.3 226.0,266.4 232.0,266.5 238.0,266.8 244.0,267.0 250.0,267.4 256.0,267.7 262.0,268.2 268.0,268.7 274.0,269.2 280.0,269.8 286.0,270.5 292.0,271.2 298.0,272.0 304.0,272.8 310.0,273.7 316.0,274.6"/><path d="M-2.0,416.6 4.0,408.7 10.0,400.7 16.0,393.0 22.0,385.6 28.0,378.4 34.0,371.4 40.0,364.7 46.0,358.3 52.0,352.1 58.0,346.1 64.0,340.3 70.0,334.8 76.0,329.6 82.0,324.5 88.0,319.8 94.0,315.2 100.0,310.9 106.0,306.8 112.0,302.9 118.0,299.3 124.0,295.9 130.0,292.7 136.0,289.7 142.0,287.0 148.0,284.4 154.0,282.1 160.0,280.1 166.0,278.2 172.0,276.5 178.0,275.1 184.0,273.9 190.0,272.9 196.0,272.2 202.0,272.2 208.0,272.1 214.0,272.1 220.0,272.2 226.0,272.3 232.0,272.4 238.0,272.7 244.0,272.9 250.0,273.3 256.0,273.6 262.0,274.1 268.0,274.6 274.0,275.1 280.0,275.7 286.0,276.4 292.0,277.1 298.0,277.9 304.0,278.7 310.0,279.6 316.0,280.5"/><path d="M-2.0,423.4 4.0,415.5 10.0,407.5 16.0,399.8 22.0,392.3 28.0,385.1 34.0,378.1 40.0,371.4 46.0,364.9 52.0,358.6 58.0,352.6 64.0,346.9 70.0,341.3 76.0,336.0 82.0,331.0 88.0,326.2 94.0,321.6 100.0,317.2 106.0,313.1 112.0,309.2 118.0,305.5 124.0,302.1 130.0,298.9 136.0,295.9 142.0,293.1 148.0,290.6 154.0,288.2 160.0,286.1 166.0,284.2 172.0,282.6 178.0,281.1 184.0,279.8 190.0,278.8 196.0,278.1 202.0,278.1 208.0,278.0 214.0,278.0 220.0,278.1 226.0,278.2 232.0,278.3 238.0,278.6 244.0,278.8 250.0,279.2 256.0,279.5 262.0,280.0 268.0,280.5 274.0,281.0 280.0,281.6 286.0,282.3 292.0,283.0 298.0,283.8 304.0,284.6 310.0,285.5 316.0,286.4"/><path d="M-2.0,430.2 4.0,422.3 10.0,414.3 16.0,406.5 22.0,399.0 28.0,391.8 34.0,384.8 40.0,378.0 46.0,371.5 52.0,365.2 58.0,359.2 64.0,353.4 70.0,347.8 76.0,342.5 82.0,337.4 88.0,332.6 94.0,328.0 100.0,323.6 106.0,319.4 112.0,315.5 118.0,311.8 124.0,308.3 130.0,305.1 136.0,302.1 142.0,299.3 148.0,296.7 154.0,294.3 160.0,292.2 166.0,290.3 172.0,288.6 178.0,287.1 184.0,285.8 190.0,284.7 196.0,284.0 202.0,284.0 208.0,283.9 214.0,283.9 220.0,284.0 226.0,284.1 232.0,284.2 238.0,284.5 244.0,284.7 250.0,285.1 256.0,285.4 262.0,285.9 268.0,286.4 274.0,286.9 280.0,287.5 286.0,288.2 292.0,288.9 298.0,289.7 304.0,290.5 310.0,291.4 316.0,292.3"/></g></defs>
<use href="#sp2" transform="translate(15.5,319.5)" fill="none" stroke="#737373" stroke-width="3.00" stroke-opacity="0.30"/>
<defs><linearGradient id="cg2" gradientUnits="userSpaceOnUse" x1="0" y1="0.0" x2="0" y2="283.1"><stop offset="0" stop-color="#1f1f1f"/><stop offset="0.55" stop-color="#1f1f1f"/><stop offset="1" stop-color="#1f1f1f"/></linearGradient></defs>
<use href="#sp2" transform="translate(15.5,319.5)" fill="none" stroke="url(#cg2)" stroke-width="1.60"/>
</g>
</g>
<rect x="15.5" y="319.5" width="325.5" height="283.1" fill="none" stroke="#8a8a8a" stroke-width="1.25"/>
<line x1="106.5" y1="495.1" x2="309.1" y2="489.6" stroke="#1a1a1a" stroke-width="1.1"/>
<text x="315.0" y="451.1" font-size="12.6" text-anchor="middle">A</text>
<text x="324.5" y="526.1" font-size="12.6" text-anchor="middle">B</text>
<text x="344.7" y="425.7" font-size="9.5">MTCI</text>
<rect x="345.0" y="429.5" width="10" height="5.4" fill="#d7191c"/>
<text x="357.7" y="435.1" font-size="9.3">-0.96</text>
<rect x="345.0" y="439.6" width="10" height="5.4" fill="#ed7d4e"/>
<text x="357.7" y="445.2" font-size="9.3">-0.81</text>
<rect x="345.0" y="449.6" width="10" height="5.4" fill="#fec780"/>
<text x="357.7" y="455.2" font-size="9.3">-0.78</text>
<rect x="345.0" y="459.6" width="10" height="5.4" fill="#ffffbf"/>
<text x="357.7" y="465.2" font-size="9.3">-0.73</text>
<rect x="345.0" y="469.7" width="10" height="5.4" fill="#c7e8a8"/>
<text x="357.7" y="475.3" font-size="9.3">-0.68</text>
<rect x="345.0" y="479.8" width="10" height="5.4" fill="#7abea8"/>
<text x="357.7" y="485.4" font-size="9.3">-0.60</text>
<rect x="345.0" y="489.8" width="10" height="5.4" fill="#2b83ba"/>
<text x="359.8" y="495.4" font-size="9.3">0.30</text>
<text transform="translate(7.9,364.9) rotate(-90)" font-size="11" text-anchor="middle" dy="3.8" textLength="35" lengthAdjust="spacingAndGlyphs">7664843</text>
<text transform="translate(7.9,460.5) rotate(-90)" font-size="11" text-anchor="middle" dy="3.8" textLength="35" lengthAdjust="spacingAndGlyphs">7664783</text>
<text transform="translate(7.9,555.5) rotate(-90)" font-size="11" text-anchor="middle" dy="3.8" textLength="35" lengthAdjust="spacingAndGlyphs">7664723</text>
<text x="20.7" y="614.4" font-size="11" textLength="35" lengthAdjust="spacingAndGlyphs">1132470</text>
<text x="163.5" y="614.4" font-size="11" textLength="35" lengthAdjust="spacingAndGlyphs">1132560</text>
<text x="306.8" y="614.4" font-size="11" textLength="35" lengthAdjust="spacingAndGlyphs">1132650</text>
<circle cx="71.5" cy="549.3" r="8.3" fill="url(#ng)" stroke="#333" stroke-width="0.8"/>
<path d="M71.5,536.4 L79.5,556.3 L71.5,549.3 Z" fill="url(#ag)"/>
<path d="M71.5,536.4 L63.5,556.3 L71.5,549.3 Z" fill="#f2f2f2"/>
<path d="M71.5,536.4 L79.5,556.3 L71.5,549.3 L63.5,556.3 Z" fill="none" stroke="#1e1e1e" stroke-width="0.9" stroke-linejoin="miter"/>
<rect x="43.8" y="571.9" width="47.9" height="4.4" fill="#fff" stroke="#000" stroke-width="0.6"/>
<rect x="43.8" y="571.9" width="16" height="4.4" fill="#000"/>
<rect x="75.7" y="571.9" width="16" height="4.4" fill="#000"/>
<text x="43.8" y="568.0" font-size="6" text-anchor="middle">0</text>
<text x="59.8" y="568.0" font-size="6" text-anchor="middle">10</text>
<text x="75.7" y="568.0" font-size="6" text-anchor="middle">20</text>
<text x="91.7" y="568.0" font-size="6" text-anchor="middle">30</text>
<text x="96.1" y="568.0" font-size="6">m</text>
<defs><filter id="f3" filterUnits="userSpaceOnUse" x="420.9" y="319.5" width="325.6" height="283.9" color-interpolation-filters="sRGB"><feGaussianBlur in="SourceGraphic" stdDeviation="0.7" result="s"/><feTurbulence type="fractalNoise" baseFrequency="0.3 0.6" numOctaves="1" seed="24" result="t1"/><feColorMatrix in="t1" type="matrix" values="1 0 0 0 0 1 0 0 0 0 1 0 0 0 0 0 0 0 0 1" result="n1"/><feTurbulence type="fractalNoise" baseFrequency="0.08 0.3" numOctaves="2" seed="26" result="t2"/><feColorMatrix in="t2" type="matrix" values="1 0 0 0 0 1 0 0 0 0 1 0 0 0 0 0 0 0 0 1" result="n2"/><feComposite in="s" in2="n2" operator="arithmetic" k1="0" k2="1" k3="0.500" k4="-0.250" result="s2"/><feComponentTransfer in="n1" result="MA"><feFuncR type="table" tableValues="0.000 0.000 0.000 0.000 0.000 0.000 0.000 0.000 0.000 0.000 0.000 0.000 0.000 0.000 0.000 0.000 0.000 0.000 0.000 0.000 0.000 0.000 0.000 0.000 0.250 0.875 1.000 1.000 1.000 1.000 1.000 1.000 1.000 1.000 1.000 1.000 1.000 1.000 1.000 1.000 1.000"/><feFuncG type="table" tableValues="0.000 0.000 0.000 0.000 0.000 0.000 0.000 0.000 0.000 0.000 0.000 0.000 0.000 0.000 0.000 0.000 0.000 0.000 0.000 0.000 0.000 0.000 0.000 0.000 0.250 0.875 1.000 1.000 1.000 1.000 1.000 1.000 1.000 1.000 1.000 1.000 1.000 1.000 1.000 1.000 1.000"/><feFuncB type="table" tableValues="0.000 0.000 0.000 0.000 0.000 0.000 0.000 0.000 0.000 0.000 0.000 0.000 0.000 0.000 0.000 0.000 0.000 0.000 0.000 0.000 0.000 0.000 0.000 0.000 0.250 0.875 1.000 1.000 1.000 1.000 1.000 1.000 1.000 1.000 1.000 1.000 1.000 1.000 1.000 1.000 1.000"/></feComponentTransfer><feComponentTransfer in="n1" result="MB"><feFuncR type="table" tableValues="1.000 1.000 1.000 1.000 1.000 1.000 1.000 1.000 1.000 1.000 1.000 1.000 1.000 1.000 1.000 0.875 0.250 0.000 0.000 0.000 0.000 0.000 0.000 0.000 0.000 0.000 0.000 0.000 0.000 0.000 0.000 0.000 0.000 0.000 0.000 0.000 0.000 0.000 0.000 0.000 0.000"/><feFuncG type="table" tableValues="1.000 1.000 1.000 1.000 1.000 1.000 1.000 1.000 1.000 1.000 1.000 1.000 1.000 1.000 1.000 0.875 0.250 0.000 0.000 0.000 0.000 0.000 0.000 0.000 0.000 0.000 0.000 0.000 0.000 0.000 0.000 0.000 0.000 0.000 0.000 0.000 0.000 0.000 0.000 0.000 0.000"/><feFuncB type="table" tableValues="1.000 1.000 1.000 1.000 1.000 1.000 1.000 1.000 1.000 1.000 1.000 1.000 1.000 1.000 1.000 0.875 0.250 0.000 0.000 0.000 0.000 0.000 0.000 0.000 0.000 0.000 0.000 0.000 0.000 0.000 0.000 0.000 0.000 0.000 0.000 0.000 0.000 0.000 0.000 0.000 0.000"/></feComponentTransfer><feComponentTransfer in="s2" result="XA"><feFuncR type="linear" slope="-0.700" intercept="0.294"/><feFuncG type="linear" slope="-0.700" intercept="0.294"/><feFuncB type="linear" slope="-0.700" intercept="0.294"/></feComponentTransfer><feComposite in="XA" in2="MA" operator="arithmetic" k1="1" k2="0" k3="0" k4="0" result="PA"/><feComponentTransfer in="s2" result="XB"><feFuncR type="linear" slope="0.700" intercept="-0.140"/><feFuncG type="linear" slope="0.700" intercept="-0.140"/><feFuncB type="linear" slope="0.700" intercept="-0.140"/></feComponentTransfer><feComposite in="XB" in2="MB" operator="arithmetic" k1="1" k2="0" k3="0" k4="0" result="PB"/><feComponentTransfer in="PB" result="QB"><feFuncR type="linear" slope="-1" intercept="1"/><feFuncG type="linear" slope="-1" intercept="1"/><feFuncB type="linear" slope="-1" intercept="1"/></feComponentTransfer><feComposite in="s2" in2="PA" operator="arithmetic" k1="0" k2="1" k3="1" k4="0" result="v1"/><feComposite in="v1" in2="QB" operator="arithmetic" k1="0" k2="1" k3="1" k4="-1" result="v2"/><feComponentTransfer in="v2" result="cm"><feFuncR type="table" tableValues="0.8431 0.9294 0.9961 1.0000 0.7804 0.4784 0.1686"/><feFuncG type="table" tableValues="0.0980 0.4902 0.7804 1.0000 0.9098 0.7451 0.5137"/><feFuncB type="table" tableValues="0.1098 0.3059 0.5020 0.7490 0.6588 0.6588 0.7294"/><feFuncA type="linear" slope="0" intercept="1"/></feComponentTransfer><feGaussianBlur in="cm" stdDeviation="0.5"/></filter></defs>
<defs><linearGradient id="bg3" x1="0" y1="0" x2="0" y2="1"><stop offset="0.00" stop-color="#424242"/><stop offset="0.50" stop-color="#474747"/><stop offset="0.70" stop-color="#919191"/><stop offset="1.00" stop-color="#a6a6a6"/></linearGradient></defs>
<g clip-path="url(#c3)"><g filter="url(#f3)">
<rect x="420.9" y="319.5" width="325.6" height="283.9" fill="url(#bg3)"/>
<g filter="url(#bl)">
<ellipse cx="450.9" cy="379.5" rx="20.0" ry="22.0" fill="#1f1f1f"/>
<ellipse cx="485.9" cy="439.5" rx="22.0" ry="30.0" fill="#1f1f1f"/>
<ellipse cx="457.9" cy="354.5" rx="9.0" ry="12.0" fill="#1a1a1a"/>
<ellipse cx="550.9" cy="364.5" rx="60.0" ry="22.0" fill="#525252"/>
<ellipse cx="670.9" cy="399.5" rx="28.0" ry="10.0" fill="#121212"/>
<ellipse cx="600.9" cy="444.5" rx="70.0" ry="25.0" fill="#333333"/>
<ellipse cx="555.9" cy="414.5" rx="20.0" ry="15.0" fill="#4c4c4c"/>
<ellipse cx="688.9" cy="454.5" rx="18.0" ry="35.0" fill="#3d3d3d"/>
<ellipse cx="705.9" cy="519.5" rx="20.0" ry="30.0" fill="#5c5c5c"/>
<ellipse cx="650.9" cy="577.5" rx="90.0" ry="16.0" fill="#b2b2b2"/>
</g>
<defs><g id="sp3"><path d="M-2.0,-53.2 4.0,-55.4 10.0,-57.1 16.0,-58.7 22.0,-60.3 28.0,-61.8 34.0,-63.2 40.0,-64.6 46.0,-65.8 52.0,-67.0 58.0,-68.1 64.0,-69.1 70.0,-70.0 76.0,-70.9 82.0,-71.6 88.0,-72.3 94.0,-72.9 100.0,-73.4 106.0,-73.8 112.0,-74.2 118.0,-74.4 124.0,-74.6 130.0,-74.7 136.0,-74.7 142.0,-74.6 148.0,-74.4 154.0,-74.1 160.0,-73.8 166.0,-73.4 172.0,-72.8 178.0,-72.2 184.0,-71.5 190.0,-70.7 196.0,-70.0 202.0,-69.9 208.0,-69.7 214.0,-69.5 220.0,-69.1 226.0,-68.6 232.0,-67.9 238.0,-67.2 244.0,-66.4 250.0,-65.5 256.0,-64.4 262.0,-63.3 268.0,-62.0 274.0,-60.6 280.0,-59.2 286.0,-57.6 292.0,-55.9 298.0,-54.1 304.0,-52.2 310.0,-50.2 316.0,-48.0"/><path d="M-2.0,-46.4 4.0,-48.6 10.0,-50.3 16.0,-52.0 22.0,-53.6 28.0,-55.1 34.0,-56.6 40.0,-57.9 46.0,-59.2 52.0,-60.4 58.0,-61.5 64.0,-62.6 70.0,-63.5 76.0,-64.4 82.0,-65.2 88.0,-65.9 94.0,-66.5 100.0,-67.0 106.0,-67.5 112.0,-67.9 118.0,-68.2 124.0,-68.4 130.0,-68.5 136.0,-68.5 142.0,-68.4 148.0,-68.3 154.0,-68.1 160.0,-67.7 166.0,-67.3 172.0,-66.8 178.0,-66.2 184.0,-65.6 190.0,-64.8 196.0,-64.1 202.0,-64.0 208.0,-63.8 214.0,-63.6 220.0,-63.2 226.0,-62.7 232.0,-62.0 238.0,-61.3 244.0,-60.5 250.0,-59.6 256.0,-58.5 262.0,-57.4 268.0,-56.1 274.0,-54.7 280.0,-53.3 286.0,-51.7 292.0,-50.0 298.0,-48.2 304.0,-46.3 310.0,-44.3 316.0,-42.1"/><path d="M-2.0,-39.6 4.0,-41.8 10.0,-43.5 16.0,-45.3 22.0,-46.9 28.0,-48.4 34.0,-49.9 40.0,-51.3 46.0,-52.6 52.0,-53.8 58.0,-55.0 64.0,-56.0 70.0,-57.0 76.0,-57.9 82.0,-58.7 88.0,-59.5 94.0,-60.1 100.0,-60.7 106.0,-61.2 112.0,-61.6 118.0,-61.9 124.0,-62.1 130.0,-62.3 136.0,-62.3 142.0,-62.3 148.0,-62.2 154.0,-62.0 160.0,-61.7 166.0,-61.3 172.0,-60.8 178.0,-60.3 184.0,-59.6 190.0,-58.9 196.0,-58.2 202.0,-58.1 208.0,-57.9 214.0,-57.7 220.0,-57.3 226.0,-56.8 232.0,-56.1 238.0,-55.4 244.0,-54.6 250.0,-53.7 256.0,-52.6 262.0,-51.5 268.0,-50.2 274.0,-48.8 280.0,-47.4 286.0,-45.8 292.0,-44.1 298.0,-42.3 304.0,-40.4 310.0,-38.4 316.0,-36.2"/><path d="M-2.0,-32.8 4.0,-35.0 10.0,-36.8 16.0,-38.5 22.0,-40.2 28.0,-41.7 34.0,-43.2 40.0,-44.7 46.0,-46.0 52.0,-47.3 58.0,-48.4 64.0,-49.5 70.0,-50.5 76.0,-51.5 82.0,-52.3 88.0,-53.1 94.0,-53.8 100.0,-54.4 106.0,-54.9 112.0,-55.3 118.0,-55.6 124.0,-55.9 130.0,-56.1 136.0,-56.1 142.0,-56.1 148.0,-56.0 154.0,-55.9 160.0,-55.6 166.0,-55.3 172.0,-54.8 178.0,-54.3 184.0,-53.7 190.0,-53.0 196.0,-52.3 202.0,-52.2 208.0,-52.0 214.0,-51.8 220.0,-51.4 226.0,-50.9 232.0,-50.2 238.0,-49.5 244.0,-48.7 250.0,-47.8 256.0,-46.7 262.0,-45.6 268.0,-44.3 274.0,-42.9 280.0,-41.5 286.0,-39.9 292.0,-38.2 298.0,-36.4 304.0,-34.5 310.0,-32.5 316.0,-30.3"/><path d="M-2.0,-25.9 4.0,-28.2 10.0,-30.0 16.0,-31.8 22.0,-33.5 28.0,-35.1 34.0,-36.6 40.0,-38.0 46.0,-39.4 52.0,-40.7 58.0,-41.9 64.0,-43.0 70.0,-44.0 76.0,-45.0 82.0,-45.9 88.0,-46.7 94.0,-47.4 100.0,-48.0 106.0,-48.5 112.0,-49.0 118.0,-49.4 124.0,-49.6 130.0,-49.8 136.0,-50.0 142.0,-50.0 148.0,-49.9 154.0,-49.8 160.0,-49.5 166.0,-49.2 172.0,-48.8 178.0,-48.3 184.0,-47.7 190.0,-47.0 196.0,-46.4 202.0,-46.3 208.0,-46.1 214.0,-45.9 220.0,-45.5 226.0,-45.0 232.0,-44.3 238.0,-43.6 244.0,-42.8 250.0,-41.9 256.0,-40.8 262.0,-39.7 268.0,-38.4 274.0,-37.0 280.0,-35.6 286.0,-34.0 292.0,-32.3 298.0,-30.5 304.0,-28.6 310.0,-26.6 316.0,-24.4"/><path d="M-2.0,-19.1 4.0,-21.3 10.0,-23.2 16.0,-25.0 22.0,-26.7 28.0,-28.4 34.0,-29.9 40.0,-31.4 46.0,-32.8 52.0,-34.1 58.0,-35.3 64.0,-36.5 70.0,-37.6 76.0,-38.5 82.0,-39.4 88.0,-40.3 94.0,-41.0 100.0,-41.7 106.0,-42.2 112.0,-42.7 118.0,-43.1 124.0,-43.4 130.0,-43.6 136.0,-43.8 142.0,-43.8 148.0,-43.8 154.0,-43.7 160.0,-43.5 166.0,-43.2 172.0,-42.8 178.0,-42.3 184.0,-41.8 190.0,-41.1 196.0,-40.5 202.0,-40.4 208.0,-40.2 214.0,-40.0 220.0,-39.6 226.0,-39.1 232.0,-38.4 238.0,-37.7 244.0,-36.9 250.0,-36.0 256.0,-34.9 262.0,-33.8 268.0,-32.5 274.0,-31.1 280.0,-29.7 286.0,-28.1 292.0,-26.4 298.0,-24.6 304.0,-22.7 310.0,-20.7 316.0,-18.5"/><path d="M-2.0,-12.3 4.0,-14.5 10.0,-16.5 16.0,-18.3 22.0,-20.0 28.0,-21.7 34.0,-23.3 40.0,-24.8 46.0,-26.2 52.0,-27.5 58.0,-28.8 64.0,-30.0 70.0,-31.1 76.0,-32.1 82.0,-33.0 88.0,-33.9 94.0,-34.6 100.0,-35.3 106.0,-35.9 112.0,-36.4 118.0,-36.8 124.0,-37.2 130.0,-37.4 136.0,-37.6 142.0,-37.7 148.0,-37.7 154.0,-37.6 160.0,-37.4 166.0,-37.1 172.0,-36.8 178.0,-36.3 184.0,-35.8 190.0,-35.2 196.0,-34.6 202.0,-34.5 208.0,-34.3 214.0,-34.1 220.0,-33.7 226.0,-33.2 232.0,-32.5 238.0,-31.8 244.0,-31.0 250.0,-30.1 256.0,-29.0 262.0,-27.9 268.0,-26.6 274.0,-25.2 280.0,-23.8 286.0,-22.2 292.0,-20.5 298.0,-18.7 304.0,-16.8 310.0,-14.8 316.0,-12.6"/><path d="M-2.0,-5.5 4.0,-7.7 10.0,-9.7 16.0,-11.5 22.0,-13.3 28.0,-15.0 34.0,-16.6 40.0,-18.1 46.0,-19.6 52.0,-21.0 58.0,-22.2 64.0,-23.5 70.0,-24.6 76.0,-25.6 82.0,-26.6 88.0,-27.5 94.0,-28.2 100.0,-29.0 106.0,-29.6 112.0,-30.1 118.0,-30.6 124.0,-30.9 130.0,-31.2 136.0,-31.4 142.0,-31.5 148.0,-31.6 154.0,-31.5 160.0,-31.3 166.0,-31.1 172.0,-30.8 178.0,-30.4 184.0,-29.9 190.0,-29.3 196.0,-28.7 202.0,-28.6 208.0,-28.4 214.0,-28.2 220.0,-27.8 226.0,-27.3 232.0,-26.6 238.0,-25.9 244.0,-25.1 250.0,-24.2 256.0,-23.1 262.0,-22.0 268.0,-20.7 274.0,-19.3 280.0,-17.9 286.0,-16.3 292.0,-14.6 298.0,-12.8 304.0,-10.9 310.0,-8.9 316.0,-6.7"/><path d="M-2.0,1.3 4.0,-0.9 10.0,-2.9 16.0,-4.8 22.0,-6.6 28.0,-8.3 34.0,-9.9 40.0,-11.5 46.0,-13.0 52.0,-14.4 58.0,-15.7 64.0,-16.9 70.0,-18.1 76.0,-19.2 82.0,-20.1 88.0,-21.1 94.0,-21.9 100.0,-22.6 106.0,-23.3 112.0,-23.8 118.0,-24.3 124.0,-24.7 130.0,-25.0 136.0,-25.2 142.0,-25.4 148.0,-25.4 154.0,-25.4 160.0,-25.3 166.0,-25.1 172.0,-24.8 178.0,-24.4 184.0,-23.9 190.0,-23.3 196.0,-22.8 202.0,-22.7 208.0,-22.5 214.0,-22.3 220.0,-21.9 226.0,-21.4 232.0,-20.7 238.0,-20.0 244.0,-19.2 250.0,-18.3 256.0,-17.2 262.0,-16.1 268.0,-14.8 274.0,-13.4 280.0,-12.0 286.0,-10.4 292.0,-8.7 298.0,-6.9 304.0,-5.0 310.0,-3.0 316.0,-0.8"/><path d="M-2.0,8.2 4.0,5.9 10.0,3.9 16.0,2.0 22.0,0.1 28.0,-1.6 34.0,-3.3 40.0,-4.9 46.0,-6.4 52.0,-7.8 58.0,-9.2 64.0,-10.4 70.0,-11.6 76.0,-12.7 82.0,-13.7 88.0,-14.6 94.0,-15.5 100.0,-16.3 106.0,-16.9 112.0,-17.5 118.0,-18.0 124.0,-18.5 130.0,-18.8 136.0,-19.1 142.0,-19.2 148.0,-19.3 154.0,-19.3 160.0,-19.2 166.0,-19.0 172.0,-18.8 178.0,-18.4 184.0,-18.0 190.0,-17.4 196.0,-16.9 202.0,-16.8 208.0,-16.6 214.0,-16.4 220.0,-16.0 226.0,-15.5 232.0,-14.8 238.0,-14.1 244.0,-13.3 250.0,-12.4 256.0,-11.3 262.0,-10.2 268.0,-8.9 274.0,-7.5 280.0,-6.1 286.0,-4.5 292.0,-2.8 298.0,-1.0 304.0,0.9 310.0,2.9 316.0,5.1"/><path d="M-2.0,15.0 4.0,12.7 10.0,10.6 16.0,8.7 22.0,6.8 28.0,5.1 34.0,3.4 40.0,1.8 46.0,0.2 52.0,-1.2 58.0,-2.6 64.0,-3.9 70.0,-5.1 76.0,-6.2 82.0,-7.3 88.0,-8.2 94.0,-9.1 100.0,-9.9 106.0,-10.6 112.0,-11.2 118.0,-11.8 124.0,-12.2 130.0,-12.6 136.0,-12.9 142.0,-13.1 148.0,-13.2 154.0,-13.2 160.0,-13.1 166.0,-13.0 172.0,-12.8 178.0,-12.4 184.0,-12.0 190.0,-11.5 196.0,-11.0 202.0,-10.9 208.0,-10.7 214.0,-10.5 220.0,-10.1 226.0,-9.6 232.0,-8.9 238.0,-8.2 244.0,-7.4 250.0,-6.5 256.0,-5.4 262.0,-4.3 268.0,-3.0 274.0,-1.6 280.0,-0.2 286.0,1.4 292.0,3.1 298.0,4.9 304.0,6.8 310.0,8.8 316.0,11.0"/><path d="M-2.0,21.8 4.0,19.5 10.0,17.4 16.0,15.5 22.0,13.6 28.0,11.8 34.0,10.0 40.0,8.4 46.0,6.8 52.0,5.3 58.0,3.9 64.0,2.6 70.0,1.4 76.0,0.2 82.0,-0.8 88.0,-1.8 94.0,-2.7 100.0,-3.6 106.0,-4.3 112.0,-5.0 118.0,-5.5 124.0,-6.0 130.0,-6.4 136.0,-6.7 142.0,-6.9 148.0,-7.1 154.0,-7.1 160.0,-7.1 166.0,-7.0 172.0,-6.7 178.0,-6.4 184.0,-6.0 190.0,-5.6 196.0,-5.1 202.0,-5.0 208.0,-4.8 214.0,-4.6 220.0,-4.2 226.0,-3.7 232.0,-3.0 238.0,-2.3 244.0,-1.5 250.0,-0.6 256.0,0.5 262.0,1.6 268.0,2.9 274.0,4.3 280.0,5.7 286.0,7.3 292.0,9.0 298.0,10.8 304.0,12.7 310.0,14.7 316.0,16.9"/><path d="M-2.0,28.6 4.0,26.3 10.0,24.2 16.0,22.2 22.0,20.3 28.0,18.4 34.0,16.7 40.0,15.0 46.0,13.4 52.0,11.9 58.0,10.5 64.0,9.1 70.0,7.9 76.0,6.7 82.0,5.6 88.0,4.6 94.0,3.6 100.0,2.8 106.0,2.0 112.0,1.3 118.0,0.7 124.0,0.2 130.0,-0.2 136.0,-0.5 142.0,-0.8 148.0,-0.9 154.0,-1.0 160.0,-1.0 166.0,-0.9 172.0,-0.7 178.0,-0.5 184.0,-0.1 190.0,0.4 196.0,0.8 202.0,0.9 208.0,1.1 214.0,1.3 220.0,1.7 226.0,2.2 232.0,2.9 238.0,3.6 244.0,4.4 250.0,5.3 256.0,6.4 262.0,7.5 268.0,8.8 274.0,10.1 280.0,11.6 286.0,13.2 292.0,14.9 298.0,16.7 304.0,18.6 310.0,20.6 316.0,22.7"/><path d="M-2.0,35.5 4.0,33.1 10.0,31.0 16.0,29.0 22.0,27.0 28.0,25.2 34.0,23.4 40.0,21.7 46.0,20.1 52.0,18.5 58.0,17.1 64.0,15.7 70.0,14.4 76.0,13.2 82.0,12.0 88.0,11.0 94.0,10.0 100.0,9.1 106.0,8.3 112.0,7.6 118.0,7.0 124.0,6.5 130.0,6.0 136.0,5.7 142.0,5.4 148.0,5.2 154.0,5.1 160.0,5.0 166.0,5.1 172.0,5.3 178.0,5.5 184.0,5.9 190.0,6.3 196.0,6.7 202.0,6.8 208.0,7.0 214.0,7.2 220.0,7.6 226.0,8.1 232.0,8.7 238.0,9.4 244.0,10.3 250.0,11.2 256.0,12.2 262.0,13.3 268.0,14.6 274.0,15.9 280.0,17.4 286.0,19.0 292.0,20.6 298.0,22.4 304.0,24.3 310.0,26.3 316.0,28.4"/><path d="M-2.0,42.4 4.0,40.0 10.0,37.9 16.0,35.8 22.0,33.8 28.0,31.9 34.0,30.1 40.0,28.4 46.0,26.7 52.0,25.2 58.0,23.7 64.0,22.2 70.0,20.9 76.0,19.7 82.0,18.5 88.0,17.4 94.0,16.4 100.0,15.5 106.0,14.7 112.0,13.9 118.0,13.3 124.0,12.7 130.0,12.2 136.0,11.8 142.0,11.5 148.0,11.3 154.0,11.2 160.0,11.1 166.0,11.2 172.0,11.3 178.0,11.5 184.0,11.8 190.0,12.2 196.0,12.6 202.0,12.7 208.0,12.8 214.0,13.1 220.0,13.5 226.0,14.0 232.0,14.6 238.0,15.3 244.0,16.1 250.0,17.0 256.0,18.1 262.0,19.2 268.0,20.4 274.0,21.7 280.0,23.2 286.0,24.7 292.0,26.4 298.0,28.1 304.0,30.0 310.0,32.0 316.0,34.0"/><path d="M-2.0,49.5 4.0,47.0 10.0,44.8 16.0,42.7 22.0,40.7 28.0,38.8 34.0,36.9 40.0,35.1 46.0,33.4 52.0,31.8 58.0,30.3 64.0,28.8 70.0,27.5 76.0,26.2 82.0,25.0 88.0,23.9 94.0,22.9 100.0,21.9 106.0,21.0 112.0,20.3 118.0,19.6 124.0,19.0 130.0,18.5 136.0,18.0 142.0,17.7 148.0,17.4 154.0,17.3 160.0,17.2 166.0,17.2 172.0,17.3 178.0,17.5 184.0,17.8 190.0,18.1 196.0,18.5 202.0,18.6 208.0,18.7 214.0,19.0 220.0,19.4 226.0,19.9 232.0,20.5 238.0,21.2 244.0,22.0 250.0,22.9 256.0,23.9 262.0,25.0 268.0,26.2 274.0,27.5 280.0,29.0 286.0,30.5 292.0,32.1 298.0,33.9 304.0,35.7 310.0,37.7 316.0,39.7"/><path d="M-2.0,56.5 4.0,54.1 10.0,51.8 16.0,49.7 22.0,47.6 28.0,45.7 34.0,43.8 40.0,41.9 46.0,40.2 52.0,38.5 58.0,37.0 64.0,35.5 70.0,34.1 76.0,32.8 82.0,31.5 88.0,30.4 94.0,29.3 100.0,28.3 106.0,27.4 112.0,26.6 118.0,25.9 124.0,25.2 130.0,24.7 136.0,24.2 142.0,23.9 148.0,23.6 154.0,23.4 160.0,23.3 166.0,23.2 172.0,23.3 178.0,23.5 184.0,23.7 190.0,24.0 196.0,24.4 202.0,24.5 208.0,24.6 214.0,24.9 220.0,25.3 226.0,25.8 232.0,26.4 238.0,27.0 244.0,27.8 250.0,28.7 256.0,29.7 262.0,30.8 268.0,32.0 274.0,33.3 280.0,34.7 286.0,36.3 292.0,37.9 298.0,39.6 304.0,41.4 310.0,43.3 316.0,45.4"/><path d="M-2.0,63.7 4.0,61.2 10.0,58.9 16.0,56.7 22.0,54.6 28.0,52.6 34.0,50.6 40.0,48.8 46.0,47.0 52.0,45.3 58.0,43.7 64.0,42.1 70.0,40.7 76.0,39.3 82.0,38.1 88.0,36.9 94.0,35.8 100.0,34.7 106.0,33.8 112.0,33.0 118.0,32.2 124.0,31.5 130.0,30.9 136.0,30.4 142.0,30.0 148.0,29.7 154.0,29.5 160.0,29.3 166.0,29.3 172.0,29.3 178.0,29.4 184.0,29.7 190.0,30.0 196.0,30.3 202.0,30.4 208.0,30.5 214.0,30.8 220.0,31.2 226.0,31.7 232.0,32.2 238.0,32.9 244.0,33.7 250.0,34.6 256.0,35.6 262.0,36.7 268.0,37.8 274.0,39.1 280.0,40.5 286.0,42.0 292.0,43.6 298.0,45.3 304.0,47.1 310.0,49.0 316.0,51.0"/><path d="M-2.0,71.0 4.0,68.4 10.0,66.1 16.0,63.8 22.0,61.7 28.0,59.6 34.0,57.6 40.0,55.7 46.0,53.8 52.0,52.1 58.0,50.4 64.0,48.8 70.0,47.4 76.0,45.9 82.0,44.6 88.0,43.4 94.0,42.2 100.0,41.2 106.0,40.2 112.0,39.3 118.0,38.5 124.0,37.8 130.0,37.2 136.0,36.7 142.0,36.2 148.0,35.9 154.0,35.6 160.0,35.4 166.0,35.3 172.0,35.3 178.0,35.4 184.0,35.6 190.0,35.9 196.0,36.2 202.0,36.3 208.0,36.4 214.0,36.7 220.0,37.1 226.0,37.5 232.0,38.1 238.0,38.8 244.0,39.6 250.0,40.4 256.0,41.4 262.0,42.5 268.0,43.7 274.0,44.9 280.0,46.3 286.0,47.8 292.0,49.4 298.0,51.0 304.0,52.8 310.0,54.7 316.0,56.7"/><path d="M-2.0,78.3 4.0,75.7 10.0,73.3 16.0,71.0 22.0,68.7 28.0,66.6 34.0,64.6 40.0,62.6 46.0,60.7 52.0,58.9 58.0,57.2 64.0,55.6 70.0,54.0 76.0,52.6 82.0,51.2 88.0,49.9 94.0,48.7 100.0,47.6 106.0,46.6 112.0,45.7 118.0,44.9 124.0,44.1 130.0,43.4 136.0,42.9 142.0,42.4 148.0,42.0 154.0,41.7 160.0,41.5 166.0,41.4 172.0,41.3 178.0,41.4 184.0,41.6 190.0,41.8 196.0,42.1 202.0,42.2 208.0,42.3 214.0,42.6 220.0,43.0 226.0,43.4 232.0,44.0 238.0,44.7 244.0,45.4 250.0,46.3 256.0,47.2 262.0,48.3 268.0,49.5 274.0,50.7 280.0,52.1 286.0,53.5 292.0,55.1 298.0,56.8 304.0,58.5 310.0,60.4 316.0,62.3"/><path d="M-2.0,85.7 4.0,83.0 10.0,80.5 16.0,78.2 22.0,75.9 28.0,73.7 34.0,71.6 40.0,69.6 46.0,67.6 52.0,65.8 58.0,64.0 64.0,62.3 70.0,60.7 76.0,59.2 82.0,57.8 88.0,56.5 94.0,55.3 100.0,54.1 106.0,53.0 112.0,52.1 118.0,51.2 124.0,50.4 130.0,49.7 136.0,49.1 142.0,48.6 148.0,48.2 154.0,47.8 160.0,47.6 166.0,47.4 172.0,47.4 178.0,47.4 184.0,47.5 190.0,47.7 196.0,48.0 202.0,48.1 208.0,48.2 214.0,48.5 220.0,48.9 226.0,49.3 232.0,49.9 238.0,50.5 244.0,51.3 250.0,52.1 256.0,53.1 262.0,54.1 268.0,55.3 274.0,56.5 280.0,57.9 286.0,59.3 292.0,60.8 298.0,62.5 304.0,64.2 310.0,66.1 316.0,68.0"/><path d="M-2.0,93.1 4.0,90.4 10.0,87.9 16.0,85.5 22.0,83.1 28.0,80.8 34.0,78.7 40.0,76.6 46.0,74.6 52.0,72.7 58.0,70.9 64.0,69.1 70.0,67.5 76.0,65.9 82.0,64.5 88.0,63.1 94.0,61.8 100.0,60.6 106.0,59.5 112.0,58.5 118.0,57.6 124.0,56.7 130.0,56.0 136.0,55.3 142.0,54.8 148.0,54.3 154.0,53.9 160.0,53.7 166.0,53.5 172.0,53.4 178.0,53.4 184.0,53.5 190.0,53.7 196.0,53.9 202.0,54.0 208.0,54.1 214.0,54.4 220.0,54.7 226.0,55.2 232.0,55.7 238.0,56.4 244.0,57.1 250.0,58.0 256.0,58.9 262.0,60.0 268.0,61.1 274.0,62.3 280.0,63.6 286.0,65.1 292.0,66.6 298.0,68.2 304.0,69.9 310.0,71.7 316.0,73.7"/><path d="M-2.0,100.7 4.0,97.9 10.0,95.3 16.0,92.8 22.0,90.4 28.0,88.0 34.0,85.8 40.0,83.7 46.0,81.6 52.0,79.6 58.0,77.7 64.0,75.9 70.0,74.2 76.0,72.6 82.0,71.1 88.0,69.7 94.0,68.3 100.0,67.1 106.0,65.9 112.0,64.9 118.0,63.9 124.0,63.0 130.0,62.3 136.0,61.6 142.0,61.0 148.0,60.5 154.0,60.1 160.0,59.7 166.0,59.5 172.0,59.4 178.0,59.4 184.0,59.4 190.0,59.6 196.0,59.8 202.0,59.9 208.0,60.0 214.0,60.3 220.0,60.6 226.0,61.1 232.0,61.6 238.0,62.3 244.0,63.0 250.0,63.8 256.0,64.8 262.0,65.8 268.0,66.9 274.0,68.1 280.0,69.4 286.0,70.8 292.0,72.3 298.0,73.9 304.0,75.6 310.0,77.4 316.0,79.3"/><path d="M-2.0,108.3 4.0,105.4 10.0,102.8 16.0,100.2 22.0,97.7 28.0,95.3 34.0,93.0 40.0,90.8 46.0,88.6 52.0,86.6 58.0,84.7 64.0,82.8 70.0,81.0 76.0,79.4 82.0,77.8 88.0,76.3 94.0,74.9 100.0,73.6 106.0,72.4 112.0,71.3 118.0,70.3 124.0,69.4 130.0,68.5 136.0,67.8 142.0,67.2 148.0,66.6 154.0,66.2 160.0,65.8 166.0,65.6 172.0,65.4 178.0,65.4 184.0,65.4 190.0,65.5 196.0,65.7 202.0,65.8 208.0,65.9 214.0,66.2 220.0,66.5 226.0,67.0 232.0,67.5 238.0,68.1 244.0,68.9 250.0,69.7 256.0,70.6 262.0,71.6 268.0,72.7 274.0,73.9 280.0,75.2 286.0,76.6 292.0,78.1 298.0,79.7 304.0,81.3 310.0,83.1 316.0,85.0"/><path d="M-2.0,116.0 4.0,113.1 10.0,110.3 16.0,107.6 22.0,105.1 28.0,102.6 34.0,100.2 40.0,97.9 46.0,95.7 52.0,93.6 58.0,91.6 64.0,89.7 70.0,87.9 76.0,86.1 82.0,84.5 88.0,83.0 94.0,81.5 100.0,80.2 106.0,78.9 112.0,77.7 118.0,76.7 124.0,75.7 130.0,74.8 136.0,74.1 142.0,73.4 148.0,72.8 154.0,72.3 160.0,71.9 166.0,71.6 172.0,71.4 178.0,71.3 184.0,71.3 190.0,71.4 196.0,71.6 202.0,71.7 208.0,71.8 214.0,72.1 220.0,72.4 226.0,72.8 232.0,73.4 238.0,74.0 244.0,74.7 250.0,75.5 256.0,76.4 262.0,77.4 268.0,78.5 274.0,79.7 280.0,81.0 286.0,82.4 292.0,83.8 298.0,85.4 304.0,87.0 310.0,88.8 316.0,90.6"/><path d="M-2.0,123.8 4.0,120.7 10.0,117.9 16.0,115.2 22.0,112.5 28.0,110.0 34.0,107.5 40.0,105.1 46.0,102.9 52.0,100.7 58.0,98.6 64.0,96.6 70.0,94.7 76.0,92.9 82.0,91.2 88.0,89.6 94.0,88.1 100.0,86.7 106.0,85.4 112.0,84.2 118.0,83.1 124.0,82.1 130.0,81.1 136.0,80.3 142.0,79.6 148.0,79.0 154.0,78.4 160.0,78.0 166.0,77.7 172.0,77.5 178.0,77.3 184.0,77.3 190.0,77.4 196.0,77.5 202.0,77.6 208.0,77.7 214.0,78.0 220.0,78.3 226.0,78.7 232.0,79.3 238.0,79.9 244.0,80.6 250.0,81.4 256.0,82.3 262.0,83.3 268.0,84.3 274.0,85.5 280.0,86.8 286.0,88.1 292.0,89.6 298.0,91.1 304.0,92.7 310.0,94.5 316.0,96.3"/><path d="M-2.0,131.6 4.0,128.5 10.0,125.6 16.0,122.7 22.0,120.0 28.0,117.4 34.0,114.8 40.0,112.4 46.0,110.0 52.0,107.8 58.0,105.6 64.0,103.6 70.0,101.6 76.0,99.7 82.0,98.0 88.0,96.3 94.0,94.7 100.0,93.3 106.0,91.9 112.0,90.6 118.0,89.5 124.0,88.4 130.0,87.4 136.0,86.6 142.0,85.8 148.0,85.1 154.0,84.6 160.0,84.1 166.0,83.7 172.0,83.5 178.0,83.3 184.0,83.2 190.0,83.3 196.0,83.4 202.0,83.5 208.0,83.6 214.0,83.9 220.0,84.2 226.0,84.6 232.0,85.1 238.0,85.7 244.0,86.4 250.0,87.2 256.0,88.1 262.0,89.1 268.0,90.1 274.0,91.3 280.0,92.6 286.0,93.9 292.0,95.3 298.0,96.8 304.0,98.4 310.0,100.1 316.0,101.9"/><path d="M-2.0,139.5 4.0,136.3 10.0,133.3 16.0,130.4 22.0,127.6 28.0,124.8 34.0,122.2 40.0,119.7 46.0,117.2 52.0,114.9 58.0,112.7 64.0,110.5 70.0,108.5 76.0,106.6 82.0,104.8 88.0,103.0 94.0,101.4 100.0,99.9 106.0,98.4 112.0,97.1 118.0,95.9 124.0,94.8 130.0,93.8 136.0,92.8 142.0,92.0 148.0,91.3 154.0,90.7 160.0,90.2 166.0,89.8 172.0,89.5 178.0,89.3 184.0,89.2 190.0,89.2 196.0,89.3 202.0,89.4 208.0,89.5 214.0,89.8 220.0,90.1 226.0,90.5 232.0,91.0 238.0,91.6 244.0,92.3 250.0,93.1 256.0,94.0 262.0,94.9 268.0,96.0 274.0,97.1 280.0,98.3 286.0,99.7 292.0,101.1 298.0,102.6 304.0,104.2 310.0,105.8 316.0,107.6"/><path d="M-2.0,147.5 4.0,144.2 10.0,141.1 16.0,138.1 22.0,135.2 28.0,132.3 34.0,129.6 40.0,127.0 46.0,124.5 52.0,122.1 58.0,119.8 64.0,117.6 70.0,115.4 76.0,113.4 82.0,111.5 88.0,109.8 94.0,108.1 100.0,106.5 106.0,105.0 112.0,103.6 118.0,102.3 124.0,101.2 130.0,100.1 136.0,99.1 142.0,98.3 148.0,97.5 154.0,96.8 160.0,96.3 166.0,95.9 172.0,95.5 178.0,95.3 184.0,95.2 190.0,95.1 196.0,95.2 202.0,95.3 208.0,95.4 214.0,95.6 220.0,96.0 226.0,96.4 232.0,96.9 238.0,97.5 244.0,98.2 250.0,98.9 256.0,99.8 262.0,100.7 268.0,101.8 274.0,102.9 280.0,104.1 286.0,105.4 292.0,106.8 298.0,108.3 304.0,109.9 310.0,111.5 316.0,113.3"/><path d="M-2.0,155.6 4.0,152.2 10.0,149.0 16.0,145.8 22.0,142.8 28.0,139.9 34.0,137.1 40.0,134.4 46.0,131.8 52.0,129.3 58.0,126.9 64.0,124.6 70.0,122.4 76.0,120.3 82.0,118.4 88.0,116.5 94.0,114.7 100.0,113.1 106.0,111.5 112.0,110.1 118.0,108.8 124.0,107.5 130.0,106.4 136.0,105.4 142.0,104.5 148.0,103.7 154.0,103.0 160.0,102.4 166.0,101.9 172.0,101.5 178.0,101.3 184.0,101.1 190.0,101.1 196.0,101.1 202.0,101.2 208.0,101.3 214.0,101.5 220.0,101.9 226.0,102.3 232.0,102.8 238.0,103.4 244.0,104.0 250.0,104.8 256.0,105.6 262.0,106.6 268.0,107.6 274.0,108.7 280.0,109.9 286.0,111.2 292.0,112.6 298.0,114.0 304.0,115.6 310.0,117.2 316.0,118.9"/><path d="M-2.0,163.7 4.0,160.2 10.0,156.9 16.0,153.7 22.0,150.5 28.0,147.5 34.0,144.6 40.0,141.8 46.0,139.1 52.0,136.5 58.0,134.0 64.0,131.7 70.0,129.4 76.0,127.3 82.0,125.2 88.0,123.3 94.0,121.4 100.0,119.7 106.0,118.1 112.0,116.6 118.0,115.2 124.0,113.9 130.0,112.8 136.0,111.7 142.0,110.7 148.0,109.9 154.0,109.1 160.0,108.5 166.0,108.0 172.0,107.6 178.0,107.3 184.0,107.1 190.0,107.0 196.0,107.0 202.0,107.1 208.0,107.2 214.0,107.4 220.0,107.8 226.0,108.2 232.0,108.6 238.0,109.2 244.0,109.9 250.0,110.6 256.0,111.5 262.0,112.4 268.0,113.4 274.0,114.5 280.0,115.7 286.0,116.9 292.0,118.3 298.0,119.7 304.0,121.3 310.0,122.9 316.0,124.6"/><path d="M-2.0,171.9 4.0,168.4 10.0,164.9 16.0,161.6 22.0,158.3 28.0,155.2 34.0,152.2 40.0,149.3 46.0,146.5 52.0,143.8 58.0,141.2 64.0,138.8 70.0,136.4 76.0,134.2 82.0,132.1 88.0,130.1 94.0,128.2 100.0,126.4 106.0,124.7 112.0,123.1 118.0,121.7 124.0,120.3 130.0,119.1 136.0,118.0 142.0,117.0 148.0,116.1 154.0,115.3 160.0,114.6 166.0,114.0 172.0,113.6 178.0,113.3 184.0,113.0 190.0,112.9 196.0,112.9 202.0,113.0 208.0,113.1 214.0,113.3 220.0,113.6 226.0,114.0 232.0,114.5 238.0,115.1 244.0,115.7 250.0,116.5 256.0,117.3 262.0,118.2 268.0,119.2 274.0,120.3 280.0,121.5 286.0,122.7 292.0,124.0 298.0,125.5 304.0,127.0 310.0,128.6 316.0,130.2"/><path d="M-2.0,180.2 4.0,176.5 10.0,173.0 16.0,169.5 22.0,166.2 28.0,162.9 34.0,159.8 40.0,156.8 46.0,153.9 52.0,151.1 58.0,148.5 64.0,145.9 70.0,143.5 76.0,141.2 82.0,139.0 88.0,136.9 94.0,134.9 100.0,133.0 106.0,131.3 112.0,129.7 118.0,128.1 124.0,126.7 130.0,125.4 136.0,124.3 142.0,123.2 148.0,122.3 154.0,121.4 160.0,120.7 166.0,120.1 172.0,119.6 178.0,119.2 184.0,119.0 190.0,118.8 196.0,118.8 202.0,118.9 208.0,119.0 214.0,119.2 220.0,119.5 226.0,119.9 232.0,120.4 238.0,121.0 244.0,121.6 250.0,122.3 256.0,123.1 262.0,124.0 268.0,125.0 274.0,126.1 280.0,127.2 286.0,128.5 292.0,129.8 298.0,131.2 304.0,132.7 310.0,134.2 316.0,135.9"/><path d="M-2.0,188.6 4.0,184.8 10.0,181.1 16.0,177.5 22.0,174.0 28.0,170.7 34.0,167.5 40.0,164.4 46.0,161.4 52.0,158.5 58.0,155.7 64.0,153.1 70.0,150.6 76.0,148.2 82.0,145.9 88.0,143.7 94.0,141.7 100.0,139.7 106.0,137.9 112.0,136.2 118.0,134.6 124.0,133.2 130.0,131.8 136.0,130.6 142.0,129.5 148.0,128.5 154.0,127.6 160.0,126.8 166.0,126.2 172.0,125.6 178.0,125.2 184.0,124.9 190.0,124.8 196.0,124.7 202.0,124.8 208.0,124.9 214.0,125.1 220.0,125.4 226.0,125.8 232.0,126.3 238.0,126.8 244.0,127.5 250.0,128.2 256.0,129.0 262.0,129.9 268.0,130.8 274.0,131.9 280.0,133.0 286.0,134.2 292.0,135.5 298.0,136.9 304.0,138.4 310.0,139.9 316.0,141.5"/><path d="M-2.0,197.0 4.0,193.1 10.0,189.3 16.0,185.6 22.0,182.0 28.0,178.5 34.0,175.2 40.0,172.0 46.0,168.9 52.0,165.9 58.0,163.0 64.0,160.3 70.0,157.7 76.0,155.2 82.0,152.8 88.0,150.6 94.0,148.4 100.0,146.4 106.0,144.5 112.0,142.8 118.0,141.1 124.0,139.6 130.0,138.2 136.0,136.9 142.0,135.7 148.0,134.7 154.0,133.7 160.0,132.9 166.0,132.2 172.0,131.7 178.0,131.2 184.0,130.9 190.0,130.7 196.0,130.6 202.0,130.7 208.0,130.8 214.0,131.0 220.0,131.3 226.0,131.7 232.0,132.2 238.0,132.7 244.0,133.3 250.0,134.0 256.0,134.8 262.0,135.7 268.0,136.6 274.0,137.7 280.0,138.8 286.0,140.0 292.0,141.3 298.0,142.6 304.0,144.1 310.0,145.6 316.0,147.2"/><path d="M-2.0,205.6 4.0,201.5 10.0,197.5 16.0,193.7 22.0,190.0 28.0,186.4 34.0,183.0 40.0,179.6 46.0,176.4 52.0,173.3 58.0,170.4 64.0,167.5 70.0,164.8 76.0,162.2 82.0,159.8 88.0,157.4 94.0,155.2 100.0,153.1 106.0,151.2 112.0,149.3 118.0,147.6 124.0,146.0 130.0,144.6 136.0,143.2 142.0,142.0 148.0,140.9 154.0,139.9 160.0,139.0 166.0,138.3 172.0,137.7 178.0,137.2 184.0,136.9 190.0,136.6 196.0,136.5 202.0,136.6 208.0,136.7 214.0,136.9 220.0,137.2 226.0,137.6 232.0,138.0 238.0,138.6 244.0,139.2 250.0,139.9 256.0,140.7 262.0,141.5 268.0,142.5 274.0,143.5 280.0,144.6 286.0,145.8 292.0,147.0 298.0,148.4 304.0,149.8 310.0,151.3 316.0,152.9"/><path d="M-2.0,214.1 4.0,210.0 10.0,205.9 16.0,201.9 22.0,198.1 28.0,194.4 34.0,190.8 40.0,187.3 46.0,184.0 52.0,180.8 58.0,177.7 64.0,174.8 70.0,172.0 76.0,169.3 82.0,166.8 88.0,164.3 94.0,162.0 100.0,159.9 106.0,157.8 112.0,155.9 118.0,154.1 124.0,152.5 130.0,150.9 136.0,149.5 142.0,148.2 148.0,147.1 154.0,146.1 160.0,145.2 166.0,144.4 172.0,143.7 178.0,143.2 184.0,142.8 190.0,142.5 196.0,142.4 202.0,142.5 208.0,142.6 214.0,142.8 220.0,143.1 226.0,143.5 232.0,143.9 238.0,144.4 244.0,145.0 250.0,145.7 256.0,146.5 262.0,147.3 268.0,148.3 274.0,149.3 280.0,150.4 286.0,151.5 292.0,152.8 298.0,154.1 304.0,155.5 310.0,157.0 316.0,158.5"/><path d="M-2.0,222.8 4.0,218.5 10.0,214.3 16.0,210.2 22.0,206.2 28.0,202.3 34.0,198.6 40.0,195.1 46.0,191.6 52.0,188.3 58.0,185.1 64.0,182.1 70.0,179.2 76.0,176.4 82.0,173.8 88.0,171.3 94.0,168.9 100.0,166.6 106.0,164.5 112.0,162.5 118.0,160.7 124.0,158.9 130.0,157.3 136.0,155.9 142.0,154.5 148.0,153.3 154.0,152.2 160.0,151.3 166.0,150.5 172.0,149.8 178.0,149.2 184.0,148.8 190.0,148.5 196.0,148.3 202.0,148.4 208.0,148.5 214.0,148.7 220.0,149.0 226.0,149.3 232.0,149.8 238.0,150.3 244.0,150.9 250.0,151.6 256.0,152.3 262.0,153.2 268.0,154.1 274.0,155.1 280.0,156.1 286.0,157.3 292.0,158.5 298.0,159.8 304.0,161.2 310.0,162.6 316.0,164.2"/><path d="M-2.0,231.6 4.0,227.1 10.0,222.7 16.0,218.5 22.0,214.4 28.0,210.4 34.0,206.5 40.0,202.9 46.0,199.3 52.0,195.9 58.0,192.6 64.0,189.4 70.0,186.4 76.0,183.5 82.0,180.8 88.0,178.2 94.0,175.7 100.0,173.4 106.0,171.2 112.0,169.1 118.0,167.2 124.0,165.4 130.0,163.7 136.0,162.2 142.0,160.8 148.0,159.5 154.0,158.4 160.0,157.4 166.0,156.5 172.0,155.8 178.0,155.2 184.0,154.7 190.0,154.4 196.0,154.2 202.0,154.3 208.0,154.4 214.0,154.6 220.0,154.9 226.0,155.2 232.0,155.7 238.0,156.2 244.0,156.8 250.0,157.4 256.0,158.2 262.0,159.0 268.0,159.9 274.0,160.9 280.0,161.9 286.0,163.0 292.0,164.3 298.0,165.5 304.0,166.9 310.0,168.3 316.0,169.8"/><path d="M-2.0,240.4 4.0,235.8 10.0,231.2 16.0,226.8 22.0,222.6 28.0,218.5 34.0,214.5 40.0,210.7 46.0,207.0 52.0,203.5 58.0,200.1 64.0,196.8 70.0,193.7 76.0,190.7 82.0,187.9 88.0,185.2 94.0,182.6 100.0,180.2 106.0,177.9 112.0,175.7 118.0,173.7 124.0,171.9 130.0,170.1 136.0,168.5 142.0,167.1 148.0,165.8 154.0,164.6 160.0,163.5 166.0,162.6 172.0,161.8 178.0,161.2 184.0,160.7 190.0,160.3 196.0,160.1 202.0,160.2 208.0,160.3 214.0,160.5 220.0,160.8 226.0,161.1 232.0,161.5 238.0,162.0 244.0,162.6 250.0,163.3 256.0,164.0 262.0,164.8 268.0,165.7 274.0,166.7 280.0,167.7 286.0,168.8 292.0,170.0 298.0,171.3 304.0,172.6 310.0,174.0 316.0,175.5"/><path d="M-2.0,249.3 4.0,244.5 10.0,239.8 16.0,235.3 22.0,230.9 28.0,226.6 34.0,222.5 40.0,218.6 46.0,214.8 52.0,211.1 58.0,207.6 64.0,204.2 70.0,201.0 76.0,197.9 82.0,194.9 88.0,192.1 94.0,189.5 100.0,187.0 106.0,184.6 112.0,182.4 118.0,180.3 124.0,178.3 130.0,176.5 136.0,174.9 142.0,173.4 148.0,172.0 154.0,170.7 160.0,169.6 166.0,168.7 172.0,167.9 178.0,167.2 184.0,166.6 190.0,166.2 196.0,166.0 202.0,166.1 208.0,166.2 214.0,166.4 220.0,166.6 226.0,167.0 232.0,167.4 238.0,167.9 244.0,168.5 250.0,169.1 256.0,169.9 262.0,170.6 268.0,171.5 274.0,172.5 280.0,173.5 286.0,174.6 292.0,175.7 298.0,177.0 304.0,178.3 310.0,179.7 316.0,181.2"/><path d="M-2.0,258.2 4.0,253.3 10.0,248.5 16.0,243.8 22.0,239.2 28.0,234.8 34.0,230.6 40.0,226.5 46.0,222.5 52.0,218.8 58.0,215.1 64.0,211.6 70.0,208.3 76.0,205.1 82.0,202.0 88.0,199.1 94.0,196.4 100.0,193.8 106.0,191.3 112.0,189.0 118.0,186.8 124.0,184.8 130.0,183.0 136.0,181.2 142.0,179.6 148.0,178.2 154.0,176.9 160.0,175.8 166.0,174.8 172.0,173.9 178.0,173.2 184.0,172.6 190.0,172.2 196.0,171.9 202.0,171.9 208.0,172.1 214.0,172.3 220.0,172.5 226.0,172.9 232.0,173.3 238.0,173.8 244.0,174.3 250.0,175.0 256.0,175.7 262.0,176.5 268.0,177.3 274.0,178.3 280.0,179.3 286.0,180.3 292.0,181.5 298.0,182.7 304.0,184.0 310.0,185.4 316.0,186.8"/><path d="M-2.0,267.3 4.0,262.2 10.0,257.2 16.0,252.3 22.0,247.6 28.0,243.1 34.0,238.7 40.0,234.5 46.0,230.4 52.0,226.5 58.0,222.7 64.0,219.1 70.0,215.6 76.0,212.3 82.0,209.2 88.0,206.2 94.0,203.3 100.0,200.6 106.0,198.1 112.0,195.7 118.0,193.4 124.0,191.3 130.0,189.4 136.0,187.6 142.0,185.9 148.0,184.4 154.0,183.1 160.0,181.9 166.0,180.8 172.0,179.9 178.0,179.2 184.0,178.6 190.0,178.1 196.0,177.8 202.0,177.8 208.0,178.0 214.0,178.2 220.0,178.4 226.0,178.8 232.0,179.2 238.0,179.7 244.0,180.2 250.0,180.8 256.0,181.5 262.0,182.3 268.0,183.1 274.0,184.1 280.0,185.0 286.0,186.1 292.0,187.2 298.0,188.4 304.0,189.7 310.0,191.1 316.0,192.5"/><path d="M-2.0,276.4 4.0,271.2 10.0,266.0 16.0,261.0 22.0,256.1 28.0,251.4 34.0,246.8 40.0,242.5 46.0,238.3 52.0,234.2 58.0,230.3 64.0,226.6 70.0,223.0 76.0,219.6 82.0,216.3 88.0,213.2 94.0,210.2 100.0,207.5 106.0,204.8 112.0,202.3 118.0,200.0 124.0,197.8 130.0,195.8 136.0,194.0 142.0,192.2 148.0,190.7 154.0,189.3 160.0,188.0 166.0,186.9 172.0,186.0 178.0,185.2 184.0,184.5 190.0,184.0 196.0,183.7 202.0,183.7 208.0,183.9 214.0,184.1 220.0,184.3 226.0,184.6 232.0,185.0 238.0,185.5 244.0,186.1 250.0,186.7 256.0,187.4 262.0,188.1 268.0,189.0 274.0,189.9 280.0,190.8 286.0,191.9 292.0,193.0 298.0,194.2 304.0,195.4 310.0,196.7 316.0,198.1"/><path d="M-2.0,285.6 4.0,280.2 10.0,274.8 16.0,269.6 22.0,264.6 28.0,259.7 34.0,255.1 40.0,250.5 46.0,246.2 52.0,242.0 58.0,237.9 64.0,234.1 70.0,230.4 76.0,226.8 82.0,223.5 88.0,220.3 94.0,217.2 100.0,214.3 106.0,211.6 112.0,209.0 118.0,206.6 124.0,204.4 130.0,202.3 136.0,200.3 142.0,198.5 148.0,196.9 154.0,195.5 160.0,194.2 166.0,193.0 172.0,192.0 178.0,191.2 184.0,190.5 190.0,189.9 196.0,189.6 202.0,189.6 208.0,189.8 214.0,189.9 220.0,190.2 226.0,190.5 232.0,190.9 238.0,191.4 244.0,191.9 250.0,192.5 256.0,193.2 262.0,194.0 268.0,194.8 274.0,195.6 280.0,196.6 286.0,197.6 292.0,198.7 298.0,199.9 304.0,201.1 310.0,202.4 316.0,203.8"/><path d="M-2.0,294.8 4.0,289.3 10.0,283.7 16.0,278.4 22.0,273.2 28.0,268.2 34.0,263.3 40.0,258.6 46.0,254.1 52.0,249.8 58.0,245.6 64.0,241.6 70.0,237.8 76.0,234.1 82.0,230.7 88.0,227.3 94.0,224.2 100.0,221.2 106.0,218.4 112.0,215.7 118.0,213.2 124.0,210.9 130.0,208.7 136.0,206.7 142.0,204.9 148.0,203.2 154.0,201.7 160.0,200.3 166.0,199.1 172.0,198.0 178.0,197.2 184.0,196.4 190.0,195.9 196.0,195.5 202.0,195.5 208.0,195.7 214.0,195.8 220.0,196.1 226.0,196.4 232.0,196.8 238.0,197.3 244.0,197.8 250.0,198.4 256.0,199.0 262.0,199.8 268.0,200.6 274.0,201.4 280.0,202.4 286.0,203.4 292.0,204.5 298.0,205.6 304.0,206.8 310.0,208.1 316.0,209.4"/><path d="M-2.0,304.2 4.0,298.5 10.0,292.7 16.0,287.2 22.0,281.8 28.0,276.6 34.0,271.6 40.0,266.8 46.0,262.1 52.0,257.6 58.0,253.3 64.0,249.2 70.0,245.3 76.0,241.5 82.0,237.9 88.0,234.4 94.0,231.2 100.0,228.1 106.0,225.2 112.0,222.4 118.0,219.8 124.0,217.4 130.0,215.2 136.0,213.1 142.0,211.2 148.0,209.4 154.0,207.8 160.0,206.4 166.0,205.2 172.0,204.1 178.0,203.2 184.0,202.4 190.0,201.8 196.0,201.4 202.0,201.4 208.0,201.6 214.0,201.7 220.0,202.0 226.0,202.3 232.0,202.7 238.0,203.1 244.0,203.6 250.0,204.2 256.0,204.9 262.0,205.6 268.0,206.4 274.0,207.2 280.0,208.2 286.0,209.2 292.0,210.2 298.0,211.3 304.0,212.5 310.0,213.8 316.0,215.1"/><path d="M-2.0,313.6 4.0,307.7 10.0,301.8 16.0,296.0 22.0,290.5 28.0,285.1 34.0,280.0 40.0,275.0 46.0,270.2 52.0,265.5 58.0,261.1 64.0,256.8 70.0,252.7 76.0,248.8 82.0,245.1 88.0,241.6 94.0,238.2 100.0,235.0 106.0,232.0 112.0,229.1 118.0,226.5 124.0,224.0 130.0,221.6 136.0,219.5 142.0,217.5 148.0,215.7 154.0,214.0 160.0,212.6 166.0,211.3 172.0,210.1 178.0,209.1 184.0,208.3 190.0,207.7 196.0,207.3 202.0,207.3 208.0,207.5 214.0,207.6 220.0,207.9 226.0,208.2 232.0,208.6 238.0,209.0 244.0,209.5 250.0,210.1 256.0,210.7 262.0,211.4 268.0,212.2 274.0,213.0 280.0,213.9 286.0,214.9 292.0,216.0 298.0,217.1 304.0,218.2 310.0,219.5 316.0,220.8"/><path d="M-2.0,323.1 4.0,317.0 10.0,310.9 16.0,305.0 22.0,299.2 28.0,293.7 34.0,288.4 40.0,283.2 46.0,278.3 52.0,273.5 58.0,268.9 64.0,264.5 70.0,260.3 76.0,256.2 82.0,252.4 88.0,248.7 94.0,245.2 100.0,241.9 106.0,238.8 112.0,235.9 118.0,233.1 124.0,230.5 130.0,228.1 136.0,225.9 142.0,223.8 148.0,221.9 154.0,220.2 160.0,218.7 166.0,217.3 172.0,216.2 178.0,215.1 184.0,214.3 190.0,213.6 196.0,213.2 202.0,213.2 208.0,213.4 214.0,213.5 220.0,213.8 226.0,214.1 232.0,214.4 238.0,214.9 244.0,215.4 250.0,215.9 256.0,216.6 262.0,217.3 268.0,218.0 274.0,218.8 280.0,219.7 286.0,220.7 292.0,221.7 298.0,222.8 304.0,223.9 310.0,225.1 316.0,226.4"/><path d="M-2.0,332.7 4.0,326.4 10.0,320.1 16.0,314.0 22.0,308.0 28.0,302.3 34.0,296.8 40.0,291.5 46.0,286.4 52.0,281.4 58.0,276.7 64.0,272.2 70.0,267.8 76.0,263.6 82.0,259.7 88.0,255.9 94.0,252.3 100.0,248.9 106.0,245.6 112.0,242.6 118.0,239.7 124.0,237.1 130.0,234.6 136.0,232.3 142.0,230.1 148.0,228.2 154.0,226.4 160.0,224.8 166.0,223.4 172.0,222.2 178.0,221.1 184.0,220.3 190.0,219.6 196.0,219.1 202.0,219.1 208.0,219.2 214.0,219.4 220.0,219.7 226.0,220.0 232.0,220.3 238.0,220.7 244.0,221.2 250.0,221.8 256.0,222.4 262.0,223.1 268.0,223.8 274.0,224.6 280.0,225.5 286.0,226.4 292.0,227.4 298.0,228.5 304.0,229.6 310.0,230.8 316.0,232.1"/><path d="M-2.0,342.3 4.0,335.8 10.0,329.3 16.0,323.0 22.0,316.9 28.0,311.0 34.0,305.3 40.0,299.8 46.0,294.5 52.0,289.5 58.0,284.6 64.0,279.9 70.0,275.4 76.0,271.1 82.0,267.0 88.0,263.1 94.0,259.3 100.0,255.8 106.0,252.5 112.0,249.4 118.0,246.4 124.0,243.6 130.0,241.1 136.0,238.7 142.0,236.5 148.0,234.5 154.0,232.6 160.0,231.0 166.0,229.5 172.0,228.2 178.0,227.1 184.0,226.2 190.0,225.5 196.0,225.0 202.0,225.0 208.0,225.1 214.0,225.3 220.0,225.5 226.0,225.8 232.0,226.2 238.0,226.6 244.0,227.1 250.0,227.6 256.0,228.2 262.0,228.9 268.0,229.6 274.0,230.4 280.0,231.3 286.0,232.2 292.0,233.2 298.0,234.2 304.0,235.3 310.0,236.5 316.0,237.7"/><path d="M-2.0,352.0 4.0,345.3 10.0,338.6 16.0,332.1 22.0,325.8 28.0,319.7 34.0,313.9 40.0,308.2 46.0,302.7 52.0,297.5 58.0,292.5 64.0,287.6 70.0,283.0 76.0,278.5 82.0,274.3 88.0,270.3 94.0,266.4 100.0,262.8 106.0,259.4 112.0,256.1 118.0,253.1 124.0,250.2 130.0,247.6 136.0,245.1 142.0,242.8 148.0,240.7 154.0,238.8 160.0,237.1 166.0,235.6 172.0,234.3 178.0,233.1 184.0,232.2 190.0,231.4 196.0,230.9 202.0,230.9 208.0,231.0 214.0,231.2 220.0,231.4 226.0,231.7 232.0,232.1 238.0,232.5 244.0,232.9 250.0,233.5 256.0,234.1 262.0,234.7 268.0,235.4 274.0,236.2 280.0,237.1 286.0,238.0 292.0,238.9 298.0,240.0 304.0,241.0 310.0,242.2 316.0,243.4"/><path d="M-2.0,361.8 4.0,354.9 10.0,348.0 16.0,341.3 22.0,334.8 28.0,328.5 34.0,322.5 40.0,316.6 46.0,311.0 52.0,305.6 58.0,300.4 64.0,295.4 70.0,290.6 76.0,286.0 82.0,281.7 88.0,277.5 94.0,273.5 100.0,269.8 106.0,266.2 112.0,262.9 118.0,259.8 124.0,256.8 130.0,254.1 136.0,251.5 142.0,249.2 148.0,247.0 154.0,245.0 160.0,243.3 166.0,241.7 172.0,240.3 178.0,239.1 184.0,238.1 190.0,237.3 196.0,236.8 202.0,236.8 208.0,236.9 214.0,237.1 220.0,237.3 226.0,237.6 232.0,237.9 238.0,238.3 244.0,238.8 250.0,239.3 256.0,239.9 262.0,240.6 268.0,241.3 274.0,242.0 280.0,242.8 286.0,243.7 292.0,244.7 298.0,245.7 304.0,246.7 310.0,247.9 316.0,249.1"/><path d="M-2.0,371.7 4.0,364.6 10.0,357.4 16.0,350.5 22.0,343.8 28.0,337.4 34.0,331.1 40.0,325.1 46.0,319.3 52.0,313.7 58.0,308.3 64.0,303.2 70.0,298.3 76.0,293.5 82.0,289.0 88.0,284.7 94.0,280.7 100.0,276.8 106.0,273.1 112.0,269.7 118.0,266.4 124.0,263.4 130.0,260.6 136.0,257.9 142.0,255.5 148.0,253.3 154.0,251.3 160.0,249.4 166.0,247.8 172.0,246.4 178.0,245.1 184.0,244.1 190.0,243.3 196.0,242.7 202.0,242.7 208.0,242.8 214.0,243.0 220.0,243.2 226.0,243.5 232.0,243.8 238.0,244.2 244.0,244.7 250.0,245.2 256.0,245.8 262.0,246.4 268.0,247.1 274.0,247.8 280.0,248.6 286.0,249.5 292.0,250.4 298.0,251.4 304.0,252.4 310.0,253.6 316.0,254.7"/><path d="M-2.0,381.6 4.0,374.3 10.0,366.9 16.0,359.8 22.0,352.9 28.0,346.2 34.0,339.8 40.0,333.6 46.0,327.6 52.0,321.9 58.0,316.3 64.0,311.0 70.0,305.9 76.0,301.1 82.0,296.4 88.0,292.0 94.0,287.8 100.0,283.8 106.0,280.0 112.0,276.5 118.0,273.1 124.0,270.0 130.0,267.1 136.0,264.4 142.0,261.9 148.0,259.6 154.0,257.5 160.0,255.6 166.0,253.9 172.0,252.4 178.0,251.1 184.0,250.1 190.0,249.2 196.0,248.6 202.0,248.6 208.0,248.7 214.0,248.9 220.0,249.1 226.0,249.4 232.0,249.7 238.0,250.1 244.0,250.5 250.0,251.0 256.0,251.6 262.0,252.2 268.0,252.9 274.0,253.6 280.0,254.4 286.0,255.3 292.0,256.2 298.0,257.1 304.0,258.2 310.0,259.2 316.0,260.4"/><path d="M-2.0,391.6 4.0,384.1 10.0,376.5 16.0,369.2 22.0,362.1 28.0,355.2 34.0,348.6 40.0,342.2 46.0,336.0 52.0,330.1 58.0,324.4 64.0,318.9 70.0,313.7 76.0,308.6 82.0,303.9 88.0,299.3 94.0,295.0 100.0,290.9 106.0,287.0 112.0,283.3 118.0,279.9 124.0,276.6 130.0,273.6 136.0,270.8 142.0,268.2 148.0,265.9 154.0,263.7 160.0,261.7 166.0,260.0 172.0,258.5 178.0,257.1 184.0,256.0 190.0,255.1 196.0,254.5 202.0,254.5 208.0,254.6 214.0,254.8 220.0,255.0 226.0,255.3 232.0,255.6 238.0,256.0 244.0,256.4 250.0,256.9 256.0,257.4 262.0,258.0 268.0,258.7 274.0,259.4 280.0,260.2 286.0,261.0 292.0,261.9 298.0,262.9 304.0,263.9 310.0,264.9 316.0,266.0"/><path d="M-2.0,401.7 4.0,394.0 10.0,386.2 16.0,378.6 22.0,371.3 28.0,364.2 34.0,357.3 40.0,350.8 46.0,344.4 52.0,338.3 58.0,332.4 64.0,326.8 70.0,321.4 76.0,316.2 82.0,311.3 88.0,306.6 94.0,302.2 100.0,297.9 106.0,293.9 112.0,290.1 118.0,286.6 124.0,283.2 130.0,280.1 136.0,277.3 142.0,274.6 148.0,272.1 154.0,269.9 160.0,267.9 166.0,266.1 172.0,264.5 178.0,263.1 184.0,262.0 190.0,261.0 196.0,260.4 202.0,260.4 208.0,260.5 214.0,260.7 220.0,260.9 226.0,261.1 232.0,261.5 238.0,261.8 244.0,262.3 250.0,262.7 256.0,263.3 262.0,263.9 268.0,264.5 274.0,265.2 280.0,266.0 286.0,266.8 292.0,267.7 298.0,268.6 304.0,269.6 310.0,270.6 316.0,271.7"/><path d="M-2.0,409.7 4.0,401.9 10.0,394.0 16.0,386.3 22.0,378.9 28.0,371.7 34.0,364.8 40.0,358.1 46.0,351.7 52.0,345.5 58.0,339.5 64.0,333.8 70.0,328.3 76.0,323.1 82.0,318.1 88.0,313.4 94.0,308.8 100.0,304.5 106.0,300.5 112.0,296.6 118.0,293.0 124.0,289.6 130.0,286.5 136.0,283.5 142.0,280.8 148.0,278.3 154.0,276.1 160.0,274.0 166.0,272.2 172.0,270.5 178.0,269.1 184.0,267.9 190.0,267.0 196.0,266.3 202.0,266.3 208.0,266.4 214.0,266.6 220.0,266.8 226.0,267.0 232.0,267.3 238.0,267.7 244.0,268.1 250.0,268.6 256.0,269.1 262.0,269.7 268.0,270.4 274.0,271.1 280.0,271.8 286.0,272.6 292.0,273.5 298.0,274.4 304.0,275.4 310.0,276.4 316.0,277.5"/><path d="M-2.0,416.6 4.0,408.7 10.0,400.7 16.0,393.0 22.0,385.6 28.0,378.4 34.0,371.4 40.0,364.7 46.0,358.3 52.0,352.1 58.0,346.1 64.0,340.3 70.0,334.8 76.0,329.6 82.0,324.5 88.0,319.8 94.0,315.2 100.0,310.9 106.0,306.8 112.0,302.9 118.0,299.3 124.0,295.9 130.0,292.7 136.0,289.7 142.0,287.0 148.0,284.4 154.0,282.1 160.0,280.1 166.0,278.2 172.0,276.5 178.0,275.1 184.0,273.9 190.0,272.9 196.0,272.2 202.0,272.2 208.0,272.3 214.0,272.5 220.0,272.7 226.0,272.9 232.0,273.2 238.0,273.6 244.0,274.0 250.0,274.5 256.0,275.0 262.0,275.6 268.0,276.3 274.0,277.0 280.0,277.7 286.0,278.5 292.0,279.4 298.0,280.3 304.0,281.3 310.0,282.3 316.0,283.4"/><path d="M-2.0,423.4 4.0,415.5 10.0,407.5 16.0,399.8 22.0,392.3 28.0,385.1 34.0,378.1 40.0,371.4 46.0,364.9 52.0,358.6 58.0,352.6 64.0,346.9 70.0,341.3 76.0,336.0 82.0,331.0 88.0,326.2 94.0,321.6 100.0,317.2 106.0,313.1 112.0,309.2 118.0,305.5 124.0,302.1 130.0,298.9 136.0,295.9 142.0,293.1 148.0,290.6 154.0,288.2 160.0,286.1 166.0,284.2 172.0,282.6 178.0,281.1 184.0,279.8 190.0,278.8 196.0,278.1 202.0,278.1 208.0,278.2 214.0,278.4 220.0,278.6 226.0,278.8 232.0,279.1 238.0,279.5 244.0,279.9 250.0,280.4 256.0,280.9 262.0,281.5 268.0,282.2 274.0,282.9 280.0,283.6 286.0,284.4 292.0,285.3 298.0,286.2 304.0,287.2 310.0,288.2 316.0,289.3"/><path d="M-2.0,430.2 4.0,422.3 10.0,414.3 16.0,406.5 22.0,399.0 28.0,391.8 34.0,384.8 40.0,378.0 46.0,371.5 52.0,365.2 58.0,359.2 64.0,353.4 70.0,347.8 76.0,342.5 82.0,337.4 88.0,332.6 94.0,328.0 100.0,323.6 106.0,319.4 112.0,315.5 118.0,311.8 124.0,308.3 130.0,305.1 136.0,302.1 142.0,299.3 148.0,296.7 154.0,294.3 160.0,292.2 166.0,290.3 172.0,288.6 178.0,287.1 184.0,285.8 190.0,284.7 196.0,284.0 202.0,284.0 208.0,284.1 214.0,284.3 220.0,284.5 226.0,284.7 232.0,285.0 238.0,285.4 244.0,285.8 250.0,286.3 256.0,286.8 262.0,287.4 268.0,288.1 274.0,288.8 280.0,289.5 286.0,290.3 292.0,291.2 298.0,292.1 304.0,293.1 310.0,294.1 316.0,295.2"/></g></defs>
<use href="#sp3" transform="translate(420.9,319.5)" fill="none" stroke="#a8a8a8" stroke-width="2.80" stroke-opacity="0.50"/>
<defs><linearGradient id="cg3" gradientUnits="userSpaceOnUse" x1="0" y1="0.0" x2="0" y2="283.9"><stop offset="0" stop-color="#d1d1d1"/><stop offset="0.55" stop-color="#d1d1d1"/><stop offset="1" stop-color="#e0e0e0"/></linearGradient></defs>
<use href="#sp3" transform="translate(420.9,319.5)" fill="none" stroke="url(#cg3)" stroke-width="1.45"/>
</g>
<defs><linearGradient id="og3" gradientUnits="userSpaceOnUse" x1="0" y1="0" x2="0" y2="283.9"><stop offset="0" stop-color="#66aeb3" stop-opacity="0.62"/><stop offset="0.55" stop-color="#66aeb3" stop-opacity="0.62"/><stop offset="1" stop-color="#3a8cbf" stop-opacity="0.90"/></linearGradient></defs>
<use href="#sp3" transform="translate(420.9,319.5)" fill="none" stroke="url(#og3)" stroke-width="1.30" filter="url(#sb)"/>
</g>
<rect x="420.9" y="319.5" width="325.6" height="283.9" fill="none" stroke="#8a8a8a" stroke-width="1.25"/>
<line x1="511.9" y1="495.1" x2="714.5" y2="489.6" stroke="#1a1a1a" stroke-width="1.1"/>
<text x="720.4" y="451.1" font-size="12.6" text-anchor="middle">A</text>
<text x="729.9" y="526.1" font-size="12.6" text-anchor="middle">B</text>
<text x="749.5" y="419.8" font-size="9.5">MSR</text>
<rect x="749.8" y="424.0" width="10" height="5.4" fill="#d7191c"/>
<text x="762.5" y="429.6" font-size="9.3">0.07</text>
<rect x="749.8" y="434.0" width="10" height="5.4" fill="#ed7d4e"/>
<text x="762.5" y="439.6" font-size="9.3">0.40</text>
<rect x="749.8" y="444.0" width="10" height="5.4" fill="#fec780"/>
<text x="762.5" y="449.6" font-size="9.3">0.48</text>
<rect x="749.8" y="454.0" width="10" height="5.4" fill="#ffffbf"/>
<text x="762.5" y="459.6" font-size="9.3">0.57</text>
<rect x="749.8" y="464.0" width="10" height="5.4" fill="#c7e8a8"/>
<text x="762.5" y="469.6" font-size="9.3">0.68</text>
<rect x="749.8" y="474.0" width="10" height="5.4" fill="#7abea8"/>
<text x="762.5" y="479.6" font-size="9.3">0.93</text>
<rect x="749.8" y="484.0" width="10" height="5.4" fill="#2b83ba"/>
<text x="762.5" y="489.6" font-size="9.3">1.75</text>
<text transform="translate(413.3,364.9) rotate(-90)" font-size="11" text-anchor="middle" dy="3.8" textLength="35" lengthAdjust="spacingAndGlyphs">7664843</text>
<text transform="translate(413.3,460.5) rotate(-90)" font-size="11" text-anchor="middle" dy="3.8" textLength="35" lengthAdjust="spacingAndGlyphs">7664783</text>
<text transform="translate(413.3,555.5) rotate(-90)" font-size="11" text-anchor="middle" dy="3.8" textLength="35" lengthAdjust="spacingAndGlyphs">7664723</text>
<text x="426.1" y="615.2" font-size="11" textLength="35" lengthAdjust="spacingAndGlyphs">1132470</text>
<text x="568.9" y="615.2" font-size="11" textLength="35" lengthAdjust="spacingAndGlyphs">1132560</text>
<text x="712.3" y="615.2" font-size="11" textLength="35" lengthAdjust="spacingAndGlyphs">1132650</text>
<circle cx="476.9" cy="549.3" r="8.3" fill="url(#ng)" stroke="#333" stroke-width="0.8"/>
<path d="M476.9,536.4 L484.9,556.3 L476.9,549.3 Z" fill="url(#ag)"/>
<path d="M476.9,536.4 L468.9,556.3 L476.9,549.3 Z" fill="#f2f2f2"/>
<path d="M476.9,536.4 L484.9,556.3 L476.9,549.3 L468.9,556.3 Z" fill="none" stroke="#1e1e1e" stroke-width="0.9" stroke-linejoin="miter"/>
<rect x="449.2" y="571.9" width="47.9" height="4.4" fill="#fff" stroke="#000" stroke-width="0.6"/>
<rect x="449.2" y="571.9" width="16" height="4.4" fill="#000"/>
<rect x="481.1" y="571.9" width="16" height="4.4" fill="#000"/>
<text x="449.2" y="568.0" font-size="6" text-anchor="middle">0</text>
<text x="465.2" y="568.0" font-size="6" text-anchor="middle">10</text>
<text x="481.1" y="568.0" font-size="6" text-anchor="middle">20</text>
<text x="497.1" y="568.0" font-size="6" text-anchor="middle">30</text>
<text x="501.5" y="568.0" font-size="6">m</text>
<defs><filter id="f4" filterUnits="userSpaceOnUse" x="18.5" y="624.6" width="326.0" height="284.1" color-interpolation-filters="sRGB"><feGaussianBlur in="SourceGraphic" stdDeviation="0.7" result="s"/><feTurbulence type="fractalNoise" baseFrequency="0.3 0.6" numOctaves="1" seed="31" result="t1"/><feColorMatrix in="t1" type="matrix" values="1 0 0 0 0 1 0 0 0 0 1 0 0 0 0 0 0 0 0 1" result="n1"/><feTurbulence type="fractalNoise" baseFrequency="0.08 0.3" numOctaves="2" seed="31" result="t2"/><feColorMatrix in="t2" type="matrix" values="1 0 0 0 0 1 0 0 0 0 1 0 0 0 0 0 0 0 0 1" result="n2"/><feComposite in="s" in2="n2" operator="arithmetic" k1="0" k2="1" k3="0.500" k4="-0.250" result="s2"/><feComponentTransfer in="n1" result="MA"><feFuncR type="table" tableValues="0.000 0.000 0.000 0.000 0.000 0.000 0.000 0.000 0.000 0.000 0.000 0.000 0.000 0.000 0.000 0.000 0.000 0.000 0.000 0.000 0.000 0.000 0.000 0.000 0.250 0.875 1.000 1.000 1.000 1.000 1.000 1.000 1.000 1.000 1.000 1.000 1.000 1.000 1.000 1.000 1.000"/><feFuncG type="table" tableValues="0.000 0.000 0.000 0.000 0.000 0.000 0.000 0.000 0.000 0.000 0.000 0.000 0.000 0.000 0.000 0.000 0.000 0.000 0.000 0.000 0.000 0.000 0.000 0.000 0.250 0.875 1.000 1.000 1.000 1.000 1.000 1.000 1.000 1.000 1.000 1.000 1.000 1.000 1.000 1.000 1.000"/><feFuncB type="table" tableValues="0.000 0.000 0.000 0.000 0.000 0.000 0.000 0.000 0.000 0.000 0.000 0.000 0.000 0.000 0.000 0.000 0.000 0.000 0.000 0.000 0.000 0.000 0.000 0.000 0.250 0.875 1.000 1.000 1.000 1.000 1.000 1.000 1.000 1.000 1.000 1.000 1.000 1.000 1.000 1.000 1.000"/></feComponentTransfer><feComponentTransfer in="n1" result="MB"><feFuncR type="table" tableValues="1.000 1.000 1.000 1.000 1.000 1.000 1.000 1.000 1.000 1.000 1.000 1.000 1.000 1.000 1.000 0.875 0.250 0.000 0.000 0.000 0.000 0.000 0.000 0.000 0.000 0.000 0.000 0.000 0.000 0.000 0.000 0.000 0.000 0.000 0.000 0.000 0.000 0.000 0.000 0.000 0.000"/><feFuncG type="table" tableValues="1.000 1.000 1.000 1.000 1.000 1.000 1.000 1.000 1.000 1.000 1.000 1.000 1.000 1.000 1.000 0.875 0.250 0.000 0.000 0.000 0.000 0.000 0.000 0.000 0.000 0.000 0.000 0.000 0.000 0.000 0.000 0.000 0.000 0.000 0.000 0.000 0.000 0.000 0.000 0.000 0.000"/><feFuncB type="table" tableValues="1.000 1.000 1.000 1.000 1.000 1.000 1.000 1.000 1.000 1.000 1.000 1.000 1.000 1.000 1.000 0.875 0.250 0.000 0.000 0.000 0.000 0.000 0.000 0.000 0.000 0.000 0.000 0.000 0.000 0.000 0.000 0.000 0.000 0.000 0.000 0.000 0.000 0.000 0.000 0.000 0.000"/></feComponentTransfer><feComponentTransfer in="s2" result="XA"><feFuncR type="linear" slope="-0.700" intercept="0.294"/><feFuncG type="linear" slope="-0.700" intercept="0.294"/><feFuncB type="linear" slope="-0.700" intercept="0.294"/></feComponentTransfer><feComposite in="XA" in2="MA" operator="arithmetic" k1="1" k2="0" k3="0" k4="0" result="PA"/><feComponentTransfer in="s2" result="XB"><feFuncR type="linear" slope="0.700" intercept="-0.140"/><feFuncG type="linear" slope="0.700" intercept="-0.140"/><feFuncB type="linear" slope="0.700" intercept="-0.140"/></feComponentTransfer><feComposite in="XB" in2="MB" operator="arithmetic" k1="1" k2="0" k3="0" k4="0" result="PB"/><feComponentTransfer in="PB" result="QB"><feFuncR type="linear" slope="-1" intercept="1"/><feFuncG type="linear" slope="-1" intercept="1"/><feFuncB type="linear" slope="-1" intercept="1"/></feComponentTransfer><feComposite in="s2" in2="PA" operator="arithmetic" k1="0" k2="1" k3="1" k4="0" result="v1"/><feComposite in="v1" in2="QB" operator="arithmetic" k1="0" k2="1" k3="1" k4="-1" result="v2"/><feComponentTransfer in="v2" result="cm"><feFuncR type="table" tableValues="0.8431 0.9294 0.9961 1.0000 0.7804 0.4784 0.1686"/><feFuncG type="table" tableValues="0.0980 0.4902 0.7804 1.0000 0.9098 0.7451 0.5137"/><feFuncB type="table" tableValues="0.1098 0.3059 0.5020 0.7490 0.6588 0.6588 0.7294"/><feFuncA type="linear" slope="0" intercept="1"/></feComponentTransfer><feGaussianBlur in="cm" stdDeviation="0.5"/></filter></defs>
<defs><linearGradient id="bg4" x1="0" y1="0" x2="0" y2="1"><stop offset="0.00" stop-color="#454545"/><stop offset="1.00" stop-color="#6b6b6b"/></linearGradient></defs>
<g clip-path="url(#c4)"><g filter="url(#f4)">
<rect x="18.5" y="624.6" width="326.0" height="284.1" fill="url(#bg4)"/>
<g filter="url(#bl)">
<ellipse cx="80.5" cy="652.6" rx="26.0" ry="14.0" fill="#1a1a1a"/>
<ellipse cx="63.5" cy="709.6" rx="32.0" ry="50.0" fill="#a8a8a8"/>
<ellipse cx="148.5" cy="674.6" rx="45.0" ry="20.0" fill="#525252"/>
<ellipse cx="238.5" cy="704.6" rx="60.0" ry="24.0" fill="#2b2b2b"/>
<ellipse cx="286.5" cy="749.6" rx="20.0" ry="26.0" fill="#1a1a1a"/>
<ellipse cx="208.5" cy="764.6" rx="55.0" ry="25.0" fill="#363636"/>
<ellipse cx="158.5" cy="744.6" rx="16.0" ry="30.0" fill="#808080"/>
<ellipse cx="168.5" cy="836.6" rx="50.0" ry="30.0" fill="#999999"/>
<ellipse cx="296.5" cy="814.6" rx="26.0" ry="26.0" fill="#1f1f1f"/>
<ellipse cx="248.5" cy="882.6" rx="90.0" ry="15.0" fill="#a8a8a8"/>
<ellipse cx="118.5" cy="774.6" rx="30.0" ry="30.0" fill="#999999"/>
</g>
<defs><g id="sp4"><path d="M-2.0,-53.2 4.0,-55.4 10.0,-57.1 16.0,-58.7 22.0,-60.3 28.0,-61.8 34.0,-63.2 40.0,-64.6 46.0,-65.8 52.0,-67.0 58.0,-68.1 64.0,-69.1 70.0,-70.0 76.0,-70.9 82.0,-71.6 88.0,-72.3 94.0,-72.9 100.0,-73.4 106.0,-73.8 112.0,-74.2 118.0,-74.4 124.0,-74.6 130.0,-74.7 136.0,-74.7 142.0,-74.6 148.0,-74.4 154.0,-74.1 160.0,-73.8 166.0,-73.4 172.0,-72.8 178.0,-72.2 184.0,-71.5 190.0,-70.7 196.0,-70.0 202.0,-69.9 208.0,-69.7 214.0,-69.5 220.0,-69.1 226.0,-68.6 232.0,-67.9 238.0,-67.2 244.0,-66.4 250.0,-65.5 256.0,-64.4 262.0,-63.3 268.0,-62.0 274.0,-60.6 280.0,-59.2 286.0,-57.6 292.0,-55.9 298.0,-54.1 304.0,-52.2 310.0,-50.2 316.0,-48.0"/><path d="M-2.0,-46.4 4.0,-48.6 10.0,-50.3 16.0,-52.0 22.0,-53.6 28.0,-55.1 34.0,-56.6 40.0,-57.9 46.0,-59.2 52.0,-60.4 58.0,-61.5 64.0,-62.6 70.0,-63.5 76.0,-64.4 82.0,-65.2 88.0,-65.9 94.0,-66.5 100.0,-67.0 106.0,-67.5 112.0,-67.9 118.0,-68.2 124.0,-68.4 130.0,-68.5 136.0,-68.5 142.0,-68.4 148.0,-68.3 154.0,-68.1 160.0,-67.7 166.0,-67.3 172.0,-66.8 178.0,-66.2 184.0,-65.6 190.0,-64.8 196.0,-64.1 202.0,-64.0 208.0,-63.8 214.0,-63.6 220.0,-63.2 226.0,-62.7 232.0,-62.0 238.0,-61.3 244.0,-60.5 250.0,-59.6 256.0,-58.5 262.0,-57.4 268.0,-56.1 274.0,-54.7 280.0,-53.3 286.0,-51.7 292.0,-50.0 298.0,-48.2 304.0,-46.3 310.0,-44.3 316.0,-42.1"/><path d="M-2.0,-39.6 4.0,-41.8 10.0,-43.5 16.0,-45.3 22.0,-46.9 28.0,-48.4 34.0,-49.9 40.0,-51.3 46.0,-52.6 52.0,-53.8 58.0,-55.0 64.0,-56.0 70.0,-57.0 76.0,-57.9 82.0,-58.7 88.0,-59.5 94.0,-60.1 100.0,-60.7 106.0,-61.2 112.0,-61.6 118.0,-61.9 124.0,-62.1 130.0,-62.3 136.0,-62.3 142.0,-62.3 148.0,-62.2 154.0,-62.0 160.0,-61.7 166.0,-61.3 172.0,-60.8 178.0,-60.3 184.0,-59.6 190.0,-58.9 196.0,-58.2 202.0,-58.1 208.0,-57.9 214.0,-57.7 220.0,-57.3 226.0,-56.8 232.0,-56.1 238.0,-55.4 244.0,-54.6 250.0,-53.7 256.0,-52.6 262.0,-51.5 268.0,-50.2 274.0,-48.8 280.0,-47.4 286.0,-45.8 292.0,-44.1 298.0,-42.3 304.0,-40.4 310.0,-38.4 316.0,-36.2"/><path d="M-2.0,-32.8 4.0,-35.0 10.0,-36.8 16.0,-38.5 22.0,-40.2 28.0,-41.7 34.0,-43.2 40.0,-44.7 46.0,-46.0 52.0,-47.3 58.0,-48.4 64.0,-49.5 70.0,-50.5 76.0,-51.5 82.0,-52.3 88.0,-53.1 94.0,-53.8 100.0,-54.4 106.0,-54.9 112.0,-55.3 118.0,-55.6 124.0,-55.9 130.0,-56.1 136.0,-56.1 142.0,-56.1 148.0,-56.0 154.0,-55.9 160.0,-55.6 166.0,-55.3 172.0,-54.8 178.0,-54.3 184.0,-53.7 190.0,-53.0 196.0,-52.3 202.0,-52.2 208.0,-52.0 214.0,-51.8 220.0,-51.4 226.0,-50.9 232.0,-50.2 238.0,-49.5 244.0,-48.7 250.0,-47.8 256.0,-46.7 262.0,-45.6 268.0,-44.3 274.0,-42.9 280.0,-41.5 286.0,-39.9 292.0,-38.2 298.0,-36.4 304.0,-34.5 310.0,-32.5 316.0,-30.3"/><path d="M-2.0,-25.9 4.0,-28.2 10.0,-30.0 16.0,-31.8 22.0,-33.5 28.0,-35.1 34.0,-36.6 40.0,-38.0 46.0,-39.4 52.0,-40.7 58.0,-41.9 64.0,-43.0 70.0,-44.0 76.0,-45.0 82.0,-45.9 88.0,-46.7 94.0,-47.4 100.0,-48.0 106.0,-48.5 112.0,-49.0 118.0,-49.4 124.0,-49.6 130.0,-49.8 136.0,-50.0 142.0,-50.0 148.0,-49.9 154.0,-49.8 160.0,-49.5 166.0,-49.2 172.0,-48.8 178.0,-48.3 184.0,-47.7 190.0,-47.0 196.0,-46.4 202.0,-46.3 208.0,-46.1 214.0,-45.9 220.0,-45.5 226.0,-45.0 232.0,-44.3 238.0,-43.6 244.0,-42.8 250.0,-41.9 256.0,-40.8 262.0,-39.7 268.0,-38.4 274.0,-37.0 280.0,-35.6 286.0,-34.0 292.0,-32.3 298.0,-30.5 304.0,-28.6 310.0,-26.6 316.0,-24.4"/><path d="M-2.0,-19.1 4.0,-21.3 10.0,-23.2 16.0,-25.0 22.0,-26.7 28.0,-28.4 34.0,-29.9 40.0,-31.4 46.0,-32.8 52.0,-34.1 58.0,-35.3 64.0,-36.5 70.0,-37.6 76.0,-38.5 82.0,-39.4 88.0,-40.3 94.0,-41.0 100.0,-41.7 106.0,-42.2 112.0,-42.7 118.0,-43.1 124.0,-43.4 130.0,-43.6 136.0,-43.8 142.0,-43.8 148.0,-43.8 154.0,-43.7 160.0,-43.5 166.0,-43.2 172.0,-42.8 178.0,-42.3 184.0,-41.8 190.0,-41.1 196.0,-40.5 202.0,-40.4 208.0,-40.2 214.0,-40.0 220.0,-39.6 226.0,-39.1 232.0,-38.4 238.0,-37.7 244.0,-36.9 250.0,-36.0 256.0,-34.9 262.0,-33.8 268.0,-32.5 274.0,-31.1 280.0,-29.7 286.0,-28.1 292.0,-26.4 298.0,-24.6 304.0,-22.7 310.0,-20.7 316.0,-18.5"/><path d="M-2.0,-12.3 4.0,-14.5 10.0,-16.5 16.0,-18.3 22.0,-20.0 28.0,-21.7 34.0,-23.3 40.0,-24.8 46.0,-26.2 52.0,-27.5 58.0,-28.8 64.0,-30.0 70.0,-31.1 76.0,-32.1 82.0,-33.0 88.0,-33.9 94.0,-34.6 100.0,-35.3 106.0,-35.9 112.0,-36.4 118.0,-36.8 124.0,-37.2 130.0,-37.4 136.0,-37.6 142.0,-37.7 148.0,-37.7 154.0,-37.6 160.0,-37.4 166.0,-37.1 172.0,-36.8 178.0,-36.3 184.0,-35.8 190.0,-35.2 196.0,-34.6 202.0,-34.5 208.0,-34.3 214.0,-34.1 220.0,-33.7 226.0,-33.2 232.0,-32.5 238.0,-31.8 244.0,-31.0 250.0,-30.1 256.0,-29.0 262.0,-27.9 268.0,-26.6 274.0,-25.2 280.0,-23.8 286.0,-22.2 292.0,-20.5 298.0,-18.7 304.0,-16.8 310.0,-14.8 316.0,-12.6"/><path d="M-2.0,-5.5 4.0,-7.7 10.0,-9.7 16.0,-11.5 22.0,-13.3 28.0,-15.0 34.0,-16.6 40.0,-18.1 46.0,-19.6 52.0,-21.0 58.0,-22.2 64.0,-23.5 70.0,-24.6 76.0,-25.6 82.0,-26.6 88.0,-27.5 94.0,-28.2 100.0,-29.0 106.0,-29.6 112.0,-30.1 118.0,-30.6 124.0,-30.9 130.0,-31.2 136.0,-31.4 142.0,-31.5 148.0,-31.6 154.0,-31.5 160.0,-31.3 166.0,-31.1 172.0,-30.8 178.0,-30.4 184.0,-29.9 190.0,-29.3 196.0,-28.7 202.0,-28.6 208.0,-28.4 214.0,-28.2 220.0,-27.8 226.0,-27.3 232.0,-26.6 238.0,-25.9 244.0,-25.1 250.0,-24.2 256.0,-23.1 262.0,-22.0 268.0,-20.7 274.0,-19.3 280.0,-17.9 286.0,-16.3 292.0,-14.6 298.0,-12.8 304.0,-10.9 310.0,-8.9 316.0,-6.7"/><path d="M-2.0,1.3 4.0,-0.9 10.0,-2.9 16.0,-4.8 22.0,-6.6 28.0,-8.3 34.0,-9.9 40.0,-11.5 46.0,-13.0 52.0,-14.4 58.0,-15.7 64.0,-16.9 70.0,-18.1 76.0,-19.2 82.0,-20.1 88.0,-21.1 94.0,-21.9 100.0,-22.6 106.0,-23.3 112.0,-23.8 118.0,-24.3 124.0,-24.7 130.0,-25.0 136.0,-25.2 142.0,-25.4 148.0,-25.4 154.0,-25.4 160.0,-25.3 166.0,-25.1 172.0,-24.8 178.0,-24.4 184.0,-23.9 190.0,-23.3 196.0,-22.8 202.0,-22.7 208.0,-22.5 214.0,-22.3 220.0,-21.9 226.0,-21.4 232.0,-20.7 238.0,-20.0 244.0,-19.2 250.0,-18.3 256.0,-17.2 262.0,-16.1 268.0,-14.8 274.0,-13.4 280.0,-12.0 286.0,-10.4 292.0,-8.7 298.0,-6.9 304.0,-5.0 310.0,-3.0 316.0,-0.8"/><path d="M-2.0,8.2 4.0,5.9 10.0,3.9 16.0,2.0 22.0,0.1 28.0,-1.6 34.0,-3.3 40.0,-4.9 46.0,-6.4 52.0,-7.8 58.0,-9.2 64.0,-10.4 70.0,-11.6 76.0,-12.7 82.0,-13.7 88.0,-14.6 94.0,-15.5 100.0,-16.3 106.0,-16.9 112.0,-17.5 118.0,-18.0 124.0,-18.5 130.0,-18.8 136.0,-19.1 142.0,-19.2 148.0,-19.3 154.0,-19.3 160.0,-19.2 166.0,-19.0 172.0,-18.8 178.0,-18.4 184.0,-18.0 190.0,-17.4 196.0,-16.9 202.0,-16.8 208.0,-16.6 214.0,-16.4 220.0,-16.0 226.0,-15.5 232.0,-14.8 238.0,-14.1 244.0,-13.3 250.0,-12.4 256.0,-11.3 262.0,-10.2 268.0,-8.9 274.0,-7.5 280.0,-6.1 286.0,-4.5 292.0,-2.8 298.0,-1.0 304.0,0.9 310.0,2.9 316.0,5.1"/><path d="M-2.0,15.0 4.0,12.7 10.0,10.6 16.0,8.7 22.0,6.8 28.0,5.1 34.0,3.4 40.0,1.8 46.0,0.2 52.0,-1.2 58.0,-2.6 64.0,-3.9 70.0,-5.1 76.0,-6.2 82.0,-7.3 88.0,-8.2 94.0,-9.1 100.0,-9.9 106.0,-10.6 112.0,-11.2 118.0,-11.8 124.0,-12.2 130.0,-12.6 136.0,-12.9 142.0,-13.1 148.0,-13.2 154.0,-13.2 160.0,-13.1 166.0,-13.0 172.0,-12.8 178.0,-12.4 184.0,-12.0 190.0,-11.5 196.0,-11.0 202.0,-10.9 208.0,-10.7 214.0,-10.5 220.0,-10.1 226.0,-9.6 232.0,-8.9 238.0,-8.2 244.0,-7.4 250.0,-6.5 256.0,-5.4 262.0,-4.3 268.0,-3.0 274.0,-1.6 280.0,-0.2 286.0,1.4 292.0,3.1 298.0,4.9 304.0,6.8 310.0,8.8 316.0,11.0"/><path d="M-2.0,21.8 4.0,19.5 10.0,17.4 16.0,15.5 22.0,13.6 28.0,11.8 34.0,10.0 40.0,8.4 46.0,6.8 52.0,5.3 58.0,3.9 64.0,2.6 70.0,1.4 76.0,0.2 82.0,-0.8 88.0,-1.8 94.0,-2.7 100.0,-3.6 106.0,-4.3 112.0,-5.0 118.0,-5.5 124.0,-6.0 130.0,-6.4 136.0,-6.7 142.0,-6.9 148.0,-7.1 154.0,-7.1 160.0,-7.1 166.0,-7.0 172.0,-6.7 178.0,-6.4 184.0,-6.0 190.0,-5.6 196.0,-5.1 202.0,-5.0 208.0,-4.8 214.0,-4.6 220.0,-4.2 226.0,-3.7 232.0,-3.0 238.0,-2.3 244.0,-1.5 250.0,-0.6 256.0,0.5 262.0,1.6 268.0,2.9 274.0,4.3 280.0,5.7 286.0,7.3 292.0,9.0 298.0,10.8 304.0,12.7 310.0,14.7 316.0,16.9"/><path d="M-2.0,28.6 4.0,26.3 10.0,24.2 16.0,22.2 22.0,20.3 28.0,18.4 34.0,16.7 40.0,15.0 46.0,13.4 52.0,11.9 58.0,10.5 64.0,9.1 70.0,7.9 76.0,6.7 82.0,5.6 88.0,4.6 94.0,3.6 100.0,2.8 106.0,2.0 112.0,1.3 118.0,0.7 124.0,0.2 130.0,-0.2 136.0,-0.5 142.0,-0.8 148.0,-0.9 154.0,-1.0 160.0,-1.0 166.0,-0.9 172.0,-0.7 178.0,-0.5 184.0,-0.1 190.0,0.4 196.0,0.8 202.0,0.9 208.0,1.1 214.0,1.3 220.0,1.7 226.0,2.2 232.0,2.9 238.0,3.6 244.0,4.4 250.0,5.3 256.0,6.4 262.0,7.5 268.0,8.8 274.0,10.1 280.0,11.6 286.0,13.2 292.0,14.9 298.0,16.7 304.0,18.6 310.0,20.6 316.0,22.7"/><path d="M-2.0,35.5 4.0,33.1 10.0,31.0 16.0,29.0 22.0,27.0 28.0,25.2 34.0,23.4 40.0,21.7 46.0,20.1 52.0,18.5 58.0,17.1 64.0,15.7 70.0,14.4 76.0,13.2 82.0,12.0 88.0,11.0 94.0,10.0 100.0,9.1 106.0,8.3 112.0,7.6 118.0,7.0 124.0,6.5 130.0,6.0 136.0,5.7 142.0,5.4 148.0,5.2 154.0,5.1 160.0,5.0 166.0,5.1 172.0,5.3 178.0,5.5 184.0,5.9 190.0,6.3 196.0,6.7 202.0,6.8 208.0,7.0 214.0,7.2 220.0,7.6 226.0,8.1 232.0,8.7 238.0,9.4 244.0,10.3 250.0,11.2 256.0,12.2 262.0,13.3 268.0,14.6 274.0,15.9 280.0,17.4 286.0,19.0 292.0,20.6 298.0,22.4 304.0,24.3 310.0,26.3 316.0,28.4"/><path d="M-2.0,42.4 4.0,40.0 10.0,37.9 16.0,35.8 22.0,33.8 28.0,31.9 34.0,30.1 40.0,28.4 46.0,26.7 52.0,25.2 58.0,23.7 64.0,22.2 70.0,20.9 76.0,19.7 82.0,18.5 88.0,17.4 94.0,16.4 100.0,15.5 106.0,14.7 112.0,13.9 118.0,13.3 124.0,12.7 130.0,12.2 136.0,11.8 142.0,11.5 148.0,11.3 154.0,11.2 160.0,11.1 166.0,11.2 172.0,11.3 178.0,11.5 184.0,11.8 190.0,12.2 196.0,12.6 202.0,12.7 208.0,12.8 214.0,13.1 220.0,13.5 226.0,14.0 232.0,14.6 238.0,15.3 244.0,16.1 250.0,17.0 256.0,18.1 262.0,19.2 268.0,20.4 274.0,21.7 280.0,23.2 286.0,24.7 292.0,26.4 298.0,28.1 304.0,30.0 310.0,32.0 316.0,34.0"/><path d="M-2.0,49.5 4.0,47.0 10.0,44.8 16.0,42.7 22.0,40.7 28.0,38.8 34.0,36.9 40.0,35.1 46.0,33.4 52.0,31.8 58.0,30.3 64.0,28.8 70.0,27.5 76.0,26.2 82.0,25.0 88.0,23.9 94.0,22.9 100.0,21.9 106.0,21.0 112.0,20.3 118.0,19.6 124.0,19.0 130.0,18.5 136.0,18.0 142.0,17.7 148.0,17.4 154.0,17.3 160.0,17.2 166.0,17.2 172.0,17.3 178.0,17.5 184.0,17.8 190.0,18.1 196.0,18.5 202.0,18.6 208.0,18.7 214.0,19.0 220.0,19.4 226.0,19.9 232.0,20.5 238.0,21.2 244.0,22.0 250.0,22.9 256.0,23.9 262.0,25.0 268.0,26.2 274.0,27.5 280.0,29.0 286.0,30.5 292.0,32.1 298.0,33.9 304.0,35.7 310.0,37.7 316.0,39.7"/><path d="M-2.0,56.5 4.0,54.1 10.0,51.8 16.0,49.7 22.0,47.6 28.0,45.7 34.0,43.8 40.0,41.9 46.0,40.2 52.0,38.5 58.0,37.0 64.0,35.5 70.0,34.1 76.0,32.8 82.0,31.5 88.0,30.4 94.0,29.3 100.0,28.3 106.0,27.4 112.0,26.6 118.0,25.9 124.0,25.2 130.0,24.7 136.0,24.2 142.0,23.9 148.0,23.6 154.0,23.4 160.0,23.3 166.0,23.2 172.0,23.3 178.0,23.5 184.0,23.7 190.0,24.0 196.0,24.4 202.0,24.5 208.0,24.6 214.0,24.9 220.0,25.3 226.0,25.8 232.0,26.4 238.0,27.0 244.0,27.8 250.0,28.7 256.0,29.7 262.0,30.8 268.0,32.0 274.0,33.3 280.0,34.7 286.0,36.3 292.0,37.9 298.0,39.6 304.0,41.4 310.0,43.3 316.0,45.4"/><path d="M-2.0,63.7 4.0,61.2 10.0,58.9 16.0,56.7 22.0,54.6 28.0,52.6 34.0,50.6 40.0,48.8 46.0,47.0 52.0,45.3 58.0,43.7 64.0,42.1 70.0,40.7 76.0,39.3 82.0,38.1 88.0,36.9 94.0,35.8 100.0,34.7 106.0,33.8 112.0,33.0 118.0,32.2 124.0,31.5 130.0,30.9 136.0,30.4 142.0,30.0 148.0,29.7 154.0,29.5 160.0,29.3 166.0,29.3 172.0,29.3 178.0,29.4 184.0,29.7 190.0,30.0 196.0,30.3 202.0,30.4 208.0,30.5 214.0,30.8 220.0,31.2 226.0,31.7 232.0,32.2 238.0,32.9 244.0,33.7 250.0,34.6 256.0,35.6 262.0,36.7 268.0,37.8 274.0,39.1 280.0,40.5 286.0,42.0 292.0,43.6 298.0,45.3 304.0,47.1 310.0,49.0 316.0,51.0"/><path d="M-2.0,71.0 4.0,68.4 10.0,66.1 16.0,63.8 22.0,61.7 28.0,59.6 34.0,57.6 40.0,55.7 46.0,53.8 52.0,52.1 58.0,50.4 64.0,48.8 70.0,47.4 76.0,45.9 82.0,44.6 88.0,43.4 94.0,42.2 100.0,41.2 106.0,40.2 112.0,39.3 118.0,38.5 124.0,37.8 130.0,37.2 136.0,36.7 142.0,36.2 148.0,35.9 154.0,35.6 160.0,35.4 166.0,35.3 172.0,35.3 178.0,35.4 184.0,35.6 190.0,35.9 196.0,36.2 202.0,36.3 208.0,36.4 214.0,36.7 220.0,37.1 226.0,37.5 232.0,38.1 238.0,38.8 244.0,39.6 250.0,40.4 256.0,41.4 262.0,42.5 268.0,43.7 274.0,44.9 280.0,46.3 286.0,47.8 292.0,49.4 298.0,51.0 304.0,52.8 310.0,54.7 316.0,56.7"/><path d="M-2.0,78.3 4.0,75.7 10.0,73.3 16.0,71.0 22.0,68.7 28.0,66.6 34.0,64.6 40.0,62.6 46.0,60.7 52.0,58.9 58.0,57.2 64.0,55.6 70.0,54.0 76.0,52.6 82.0,51.2 88.0,49.9 94.0,48.7 100.0,47.6 106.0,46.6 112.0,45.7 118.0,44.9 124.0,44.1 130.0,43.4 136.0,42.9 142.0,42.4 148.0,42.0 154.0,41.7 160.0,41.5 166.0,41.4 172.0,41.3 178.0,41.4 184.0,41.6 190.0,41.8 196.0,42.1 202.0,42.2 208.0,42.3 214.0,42.6 220.0,43.0 226.0,43.4 232.0,44.0 238.0,44.7 244.0,45.4 250.0,46.3 256.0,47.2 262.0,48.3 268.0,49.5 274.0,50.7 280.0,52.1 286.0,53.5 292.0,55.1 298.0,56.8 304.0,58.5 310.0,60.4 316.0,62.3"/><path d="M-2.0,85.7 4.0,83.0 10.0,80.5 16.0,78.2 22.0,75.9 28.0,73.7 34.0,71.6 40.0,69.6 46.0,67.6 52.0,65.8 58.0,64.0 64.0,62.3 70.0,60.7 76.0,59.2 82.0,57.8 88.0,56.5 94.0,55.3 100.0,54.1 106.0,53.0 112.0,52.1 118.0,51.2 124.0,50.4 130.0,49.7 136.0,49.1 142.0,48.6 148.0,48.2 154.0,47.8 160.0,47.6 166.0,47.4 172.0,47.4 178.0,47.4 184.0,47.5 190.0,47.7 196.0,48.0 202.0,48.1 208.0,48.2 214.0,48.5 220.0,48.9 226.0,49.3 232.0,49.9 238.0,50.5 244.0,51.3 250.0,52.1 256.0,53.1 262.0,54.1 268.0,55.3 274.0,56.5 280.0,57.9 286.0,59.3 292.0,60.8 298.0,62.5 304.0,64.2 310.0,66.1 316.0,68.0"/><path d="M-2.0,93.1 4.0,90.4 10.0,87.9 16.0,85.5 22.0,83.1 28.0,80.8 34.0,78.7 40.0,76.6 46.0,74.6 52.0,72.7 58.0,70.9 64.0,69.1 70.0,67.5 76.0,65.9 82.0,64.5 88.0,63.1 94.0,61.8 100.0,60.6 106.0,59.5 112.0,58.5 118.0,57.6 124.0,56.7 130.0,56.0 136.0,55.3 142.0,54.8 148.0,54.3 154.0,53.9 160.0,53.7 166.0,53.5 172.0,53.4 178.0,53.4 184.0,53.5 190.0,53.7 196.0,53.9 202.0,54.0 208.0,54.1 214.0,54.4 220.0,54.7 226.0,55.2 232.0,55.7 238.0,56.4 244.0,57.1 250.0,58.0 256.0,58.9 262.0,60.0 268.0,61.1 274.0,62.3 280.0,63.6 286.0,65.1 292.0,66.6 298.0,68.2 304.0,69.9 310.0,71.7 316.0,73.7"/><path d="M-2.0,100.7 4.0,97.9 10.0,95.3 16.0,92.8 22.0,90.4 28.0,88.0 34.0,85.8 40.0,83.7 46.0,81.6 52.0,79.6 58.0,77.7 64.0,75.9 70.0,74.2 76.0,72.6 82.0,71.1 88.0,69.7 94.0,68.3 100.0,67.1 106.0,65.9 112.0,64.9 118.0,63.9 124.0,63.0 130.0,62.3 136.0,61.6 142.0,61.0 148.0,60.5 154.0,60.1 160.0,59.7 166.0,59.5 172.0,59.4 178.0,59.4 184.0,59.4 190.0,59.6 196.0,59.8 202.0,59.9 208.0,60.0 214.0,60.3 220.0,60.6 226.0,61.1 232.0,61.6 238.0,62.3 244.0,63.0 250.0,63.8 256.0,64.8 262.0,65.8 268.0,66.9 274.0,68.1 280.0,69.4 286.0,70.8 292.0,72.3 298.0,73.9 304.0,75.6 310.0,77.4 316.0,79.3"/><path d="M-2.0,108.3 4.0,105.4 10.0,102.8 16.0,100.2 22.0,97.7 28.0,95.3 34.0,93.0 40.0,90.8 46.0,88.6 52.0,86.6 58.0,84.7 64.0,82.8 70.0,81.0 76.0,79.4 82.0,77.8 88.0,76.3 94.0,74.9 100.0,73.6 106.0,72.4 112.0,71.3 118.0,70.3 124.0,69.4 130.0,68.5 136.0,67.8 142.0,67.2 148.0,66.6 154.0,66.2 160.0,65.8 166.0,65.6 172.0,65.4 178.0,65.4 184.0,65.4 190.0,65.5 196.0,65.7 202.0,65.8 208.0,65.9 214.0,66.2 220.0,66.5 226.0,67.0 232.0,67.5 238.0,68.1 244.0,68.9 250.0,69.7 256.0,70.6 262.0,71.6 268.0,72.7 274.0,73.9 280.0,75.2 286.0,76.6 292.0,78.1 298.0,79.7 304.0,81.3 310.0,83.1 316.0,85.0"/><path d="M-2.0,116.0 4.0,113.1 10.0,110.3 16.0,107.6 22.0,105.1 28.0,102.6 34.0,100.2 40.0,97.9 46.0,95.7 52.0,93.6 58.0,91.6 64.0,89.7 70.0,87.9 76.0,86.1 82.0,84.5 88.0,83.0 94.0,81.5 100.0,80.2 106.0,78.9 112.0,77.7 118.0,76.7 124.0,75.7 130.0,74.8 136.0,74.1 142.0,73.4 148.0,72.8 154.0,72.3 160.0,71.9 166.0,71.6 172.0,71.4 178.0,71.3 184.0,71.3 190.0,71.4 196.0,71.6 202.0,71.7 208.0,71.8 214.0,72.1 220.0,72.4 226.0,72.8 232.0,73.4 238.0,74.0 244.0,74.7 250.0,75.5 256.0,76.4 262.0,77.4 268.0,78.5 274.0,79.7 280.0,81.0 286.0,82.4 292.0,83.8 298.0,85.4 304.0,87.0 310.0,88.8 316.0,90.6"/><path d="M-2.0,123.8 4.0,120.7 10.0,117.9 16.0,115.2 22.0,112.5 28.0,110.0 34.0,107.5 40.0,105.1 46.0,102.9 52.0,100.7 58.0,98.6 64.0,96.6 70.0,94.7 76.0,92.9 82.0,91.2 88.0,89.6 94.0,88.1 100.0,86.7 106.0,85.4 112.0,84.2 118.0,83.1 124.0,82.1 130.0,81.1 136.0,80.3 142.0,79.6 148.0,79.0 154.0,78.4 160.0,78.0 166.0,77.7 172.0,77.5 178.0,77.3 184.0,77.3 190.0,77.4 196.0,77.5 202.0,77.6 208.0,77.7 214.0,78.0 220.0,78.3 226.0,78.7 232.0,79.3 238.0,79.9 244.0,80.6 250.0,81.4 256.0,82.3 262.0,83.3 268.0,84.3 274.0,85.5 280.0,86.8 286.0,88.1 292.0,89.6 298.0,91.1 304.0,92.7 310.0,94.5 316.0,96.3"/><path d="M-2.0,131.6 4.0,128.5 10.0,125.6 16.0,122.7 22.0,120.0 28.0,117.4 34.0,114.8 40.0,112.4 46.0,110.0 52.0,107.8 58.0,105.6 64.0,103.6 70.0,101.6 76.0,99.7 82.0,98.0 88.0,96.3 94.0,94.7 100.0,93.3 106.0,91.9 112.0,90.6 118.0,89.5 124.0,88.4 130.0,87.4 136.0,86.6 142.0,85.8 148.0,85.1 154.0,84.6 160.0,84.1 166.0,83.7 172.0,83.5 178.0,83.3 184.0,83.2 190.0,83.3 196.0,83.4 202.0,83.5 208.0,83.6 214.0,83.9 220.0,84.2 226.0,84.6 232.0,85.1 238.0,85.7 244.0,86.4 250.0,87.2 256.0,88.1 262.0,89.1 268.0,90.1 274.0,91.3 280.0,92.6 286.0,93.9 292.0,95.3 298.0,96.8 304.0,98.4 310.0,100.1 316.0,101.9"/><path d="M-2.0,139.5 4.0,136.3 10.0,133.3 16.0,130.4 22.0,127.6 28.0,124.8 34.0,122.2 40.0,119.7 46.0,117.2 52.0,114.9 58.0,112.7 64.0,110.5 70.0,108.5 76.0,106.6 82.0,104.8 88.0,103.0 94.0,101.4 100.0,99.9 106.0,98.4 112.0,97.1 118.0,95.9 124.0,94.8 130.0,93.8 136.0,92.8 142.0,92.0 148.0,91.3 154.0,90.7 160.0,90.2 166.0,89.8 172.0,89.5 178.0,89.3 184.0,89.2 190.0,89.2 196.0,89.3 202.0,89.4 208.0,89.5 214.0,89.8 220.0,90.1 226.0,90.5 232.0,91.0 238.0,91.6 244.0,92.3 250.0,93.1 256.0,94.0 262.0,94.9 268.0,96.0 274.0,97.1 280.0,98.3 286.0,99.7 292.0,101.1 298.0,102.6 304.0,104.2 310.0,105.8 316.0,107.6"/><path d="M-2.0,147.5 4.0,144.2 10.0,141.1 16.0,138.1 22.0,135.2 28.0,132.3 34.0,129.6 40.0,127.0 46.0,124.5 52.0,122.1 58.0,119.8 64.0,117.6 70.0,115.4 76.0,113.4 82.0,111.5 88.0,109.8 94.0,108.1 100.0,106.5 106.0,105.0 112.0,103.6 118.0,102.3 124.0,101.2 130.0,100.1 136.0,99.1 142.0,98.3 148.0,97.5 154.0,96.8 160.0,96.3 166.0,95.9 172.0,95.5 178.0,95.3 184.0,95.2 190.0,95.1 196.0,95.2 202.0,95.3 208.0,95.4 214.0,95.6 220.0,96.0 226.0,96.4 232.0,96.9 238.0,97.5 244.0,98.2 250.0,98.9 256.0,99.8 262.0,100.7 268.0,101.8 274.0,102.9 280.0,104.1 286.0,105.4 292.0,106.8 298.0,108.3 304.0,109.9 310.0,111.5 316.0,113.3"/><path d="M-2.0,155.6 4.0,152.2 10.0,149.0 16.0,145.8 22.0,142.8 28.0,139.9 34.0,137.1 40.0,134.4 46.0,131.8 52.0,129.3 58.0,126.9 64.0,124.6 70.0,122.4 76.0,120.3 82.0,118.4 88.0,116.5 94.0,114.7 100.0,113.1 106.0,111.5 112.0,110.1 118.0,108.8 124.0,107.5 130.0,106.4 136.0,105.4 142.0,104.5 148.0,103.7 154.0,103.0 160.0,102.4 166.0,101.9 172.0,101.5 178.0,101.3 184.0,101.1 190.0,101.1 196.0,101.1 202.0,101.2 208.0,101.3 214.0,101.5 220.0,101.9 226.0,102.3 232.0,102.8 238.0,103.4 244.0,104.0 250.0,104.8 256.0,105.6 262.0,106.6 268.0,107.6 274.0,108.7 280.0,109.9 286.0,111.2 292.0,112.6 298.0,114.0 304.0,115.6 310.0,117.2 316.0,118.9"/><path d="M-2.0,163.7 4.0,160.2 10.0,156.9 16.0,153.7 22.0,150.5 28.0,147.5 34.0,144.6 40.0,141.8 46.0,139.1 52.0,136.5 58.0,134.0 64.0,131.7 70.0,129.4 76.0,127.3 82.0,125.2 88.0,123.3 94.0,121.4 100.0,119.7 106.0,118.1 112.0,116.6 118.0,115.2 124.0,113.9 130.0,112.8 136.0,111.7 142.0,110.7 148.0,109.9 154.0,109.1 160.0,108.5 166.0,108.0 172.0,107.6 178.0,107.3 184.0,107.1 190.0,107.0 196.0,107.0 202.0,107.1 208.0,107.2 214.0,107.4 220.0,107.8 226.0,108.2 232.0,108.6 238.0,109.2 244.0,109.9 250.0,110.6 256.0,111.5 262.0,112.4 268.0,113.4 274.0,114.5 280.0,115.7 286.0,116.9 292.0,118.3 298.0,119.7 304.0,121.3 310.0,122.9 316.0,124.6"/><path d="M-2.0,171.9 4.0,168.4 10.0,164.9 16.0,161.6 22.0,158.3 28.0,155.2 34.0,152.2 40.0,149.3 46.0,146.5 52.0,143.8 58.0,141.2 64.0,138.8 70.0,136.4 76.0,134.2 82.0,132.1 88.0,130.1 94.0,128.2 100.0,126.4 106.0,124.7 112.0,123.1 118.0,121.7 124.0,120.3 130.0,119.1 136.0,118.0 142.0,117.0 148.0,116.1 154.0,115.3 160.0,114.6 166.0,114.0 172.0,113.6 178.0,113.3 184.0,113.0 190.0,112.9 196.0,112.9 202.0,113.0 208.0,113.1 214.0,113.3 220.0,113.6 226.0,114.0 232.0,114.5 238.0,115.1 244.0,115.7 250.0,116.5 256.0,117.3 262.0,118.2 268.0,119.2 274.0,120.3 280.0,121.5 286.0,122.7 292.0,124.0 298.0,125.5 304.0,127.0 310.0,128.6 316.0,130.2"/><path d="M-2.0,180.2 4.0,176.5 10.0,173.0 16.0,169.5 22.0,166.2 28.0,162.9 34.0,159.8 40.0,156.8 46.0,153.9 52.0,151.1 58.0,148.5 64.0,145.9 70.0,143.5 76.0,141.2 82.0,139.0 88.0,136.9 94.0,134.9 100.0,133.0 106.0,131.3 112.0,129.7 118.0,128.1 124.0,126.7 130.0,125.4 136.0,124.3 142.0,123.2 148.0,122.3 154.0,121.4 160.0,120.7 166.0,120.1 172.0,119.6 178.0,119.2 184.0,119.0 190.0,118.8 196.0,118.8 202.0,118.9 208.0,119.0 214.0,119.2 220.0,119.5 226.0,119.9 232.0,120.4 238.0,121.0 244.0,121.6 250.0,122.3 256.0,123.1 262.0,124.0 268.0,125.0 274.0,126.1 280.0,127.2 286.0,128.5 292.0,129.8 298.0,131.2 304.0,132.7 310.0,134.2 316.0,135.9"/><path d="M-2.0,188.6 4.0,184.8 10.0,181.1 16.0,177.5 22.0,174.0 28.0,170.7 34.0,167.5 40.0,164.4 46.0,161.4 52.0,158.5 58.0,155.7 64.0,153.1 70.0,150.6 76.0,148.2 82.0,145.9 88.0,143.7 94.0,141.7 100.0,139.7 106.0,137.9 112.0,136.2 118.0,134.6 124.0,133.2 130.0,131.8 136.0,130.6 142.0,129.5 148.0,128.5 154.0,127.6 160.0,126.8 166.0,126.2 172.0,125.6 178.0,125.2 184.0,124.9 190.0,124.8 196.0,124.7 202.0,124.8 208.0,124.9 214.0,125.1 220.0,125.4 226.0,125.8 232.0,126.3 238.0,126.8 244.0,127.5 250.0,128.2 256.0,129.0 262.0,129.9 268.0,130.8 274.0,131.9 280.0,133.0 286.0,134.2 292.0,135.5 298.0,136.9 304.0,138.4 310.0,139.9 316.0,141.5"/><path d="M-2.0,197.0 4.0,193.1 10.0,189.3 16.0,185.6 22.0,182.0 28.0,178.5 34.0,175.2 40.0,172.0 46.0,168.9 52.0,165.9 58.0,163.0 64.0,160.3 70.0,157.7 76.0,155.2 82.0,152.8 88.0,150.6 94.0,148.4 100.0,146.4 106.0,144.5 112.0,142.8 118.0,141.1 124.0,139.6 130.0,138.2 136.0,136.9 142.0,135.7 148.0,134.7 154.0,133.7 160.0,132.9 166.0,132.2 172.0,131.7 178.0,131.2 184.0,130.9 190.0,130.7 196.0,130.6 202.0,130.7 208.0,130.8 214.0,131.0 220.0,131.3 226.0,131.7 232.0,132.2 238.0,132.7 244.0,133.3 250.0,134.0 256.0,134.8 262.0,135.7 268.0,136.6 274.0,137.7 280.0,138.8 286.0,140.0 292.0,141.3 298.0,142.6 304.0,144.1 310.0,145.6 316.0,147.2"/><path d="M-2.0,205.6 4.0,201.5 10.0,197.5 16.0,193.7 22.0,190.0 28.0,186.4 34.0,183.0 40.0,179.6 46.0,176.4 52.0,173.3 58.0,170.4 64.0,167.5 70.0,164.8 76.0,162.2 82.0,159.8 88.0,157.4 94.0,155.2 100.0,153.1 106.0,151.2 112.0,149.3 118.0,147.6 124.0,146.0 130.0,144.6 136.0,143.2 142.0,142.0 148.0,140.9 154.0,139.9 160.0,139.0 166.0,138.3 172.0,137.7 178.0,137.2 184.0,136.9 190.0,136.6 196.0,136.5 202.0,136.6 208.0,136.7 214.0,136.9 220.0,137.2 226.0,137.6 232.0,138.0 238.0,138.6 244.0,139.2 250.0,139.9 256.0,140.7 262.0,141.5 268.0,142.5 274.0,143.5 280.0,144.6 286.0,145.8 292.0,147.0 298.0,148.4 304.0,149.8 310.0,151.3 316.0,152.9"/><path d="M-2.0,214.1 4.0,210.0 10.0,205.9 16.0,201.9 22.0,198.1 28.0,194.4 34.0,190.8 40.0,187.3 46.0,184.0 52.0,180.8 58.0,177.7 64.0,174.8 70.0,172.0 76.0,169.3 82.0,166.8 88.0,164.3 94.0,162.0 100.0,159.9 106.0,157.8 112.0,155.9 118.0,154.1 124.0,152.5 130.0,150.9 136.0,149.5 142.0,148.2 148.0,147.1 154.0,146.1 160.0,145.2 166.0,144.4 172.0,143.7 178.0,143.2 184.0,142.8 190.0,142.5 196.0,142.4 202.0,142.5 208.0,142.6 214.0,142.8 220.0,143.1 226.0,143.5 232.0,143.9 238.0,144.4 244.0,145.0 250.0,145.7 256.0,146.5 262.0,147.3 268.0,148.3 274.0,149.3 280.0,150.4 286.0,151.5 292.0,152.8 298.0,154.1 304.0,155.5 310.0,157.0 316.0,158.5"/><path d="M-2.0,222.8 4.0,218.5 10.0,214.3 16.0,210.2 22.0,206.2 28.0,202.3 34.0,198.6 40.0,195.1 46.0,191.6 52.0,188.3 58.0,185.1 64.0,182.1 70.0,179.2 76.0,176.4 82.0,173.8 88.0,171.3 94.0,168.9 100.0,166.6 106.0,164.5 112.0,162.5 118.0,160.7 124.0,158.9 130.0,157.3 136.0,155.9 142.0,154.5 148.0,153.3 154.0,152.2 160.0,151.3 166.0,150.5 172.0,149.8 178.0,149.2 184.0,148.8 190.0,148.5 196.0,148.3 202.0,148.4 208.0,148.5 214.0,148.7 220.0,149.0 226.0,149.3 232.0,149.8 238.0,150.3 244.0,150.9 250.0,151.6 256.0,152.3 262.0,153.2 268.0,154.1 274.0,155.1 280.0,156.1 286.0,157.3 292.0,158.5 298.0,159.8 304.0,161.2 310.0,162.6 316.0,164.2"/><path d="M-2.0,231.6 4.0,227.1 10.0,222.7 16.0,218.5 22.0,214.4 28.0,210.4 34.0,206.5 40.0,202.9 46.0,199.3 52.0,195.9 58.0,192.6 64.0,189.4 70.0,186.4 76.0,183.5 82.0,180.8 88.0,178.2 94.0,175.7 100.0,173.4 106.0,171.2 112.0,169.1 118.0,167.2 124.0,165.4 130.0,163.7 136.0,162.2 142.0,160.8 148.0,159.5 154.0,158.4 160.0,157.4 166.0,156.5 172.0,155.8 178.0,155.2 184.0,154.7 190.0,154.4 196.0,154.2 202.0,154.3 208.0,154.4 214.0,154.6 220.0,154.9 226.0,155.2 232.0,155.7 238.0,156.2 244.0,156.8 250.0,157.4 256.0,158.2 262.0,159.0 268.0,159.9 274.0,160.9 280.0,161.9 286.0,163.0 292.0,164.3 298.0,165.5 304.0,166.9 310.0,168.3 316.0,169.8"/><path d="M-2.0,240.4 4.0,235.8 10.0,231.2 16.0,226.8 22.0,222.6 28.0,218.5 34.0,214.5 40.0,210.7 46.0,207.0 52.0,203.5 58.0,200.1 64.0,196.8 70.0,193.7 76.0,190.7 82.0,187.9 88.0,185.2 94.0,182.6 100.0,180.2 106.0,177.9 112.0,175.7 118.0,173.7 124.0,171.9 130.0,170.1 136.0,168.5 142.0,167.1 148.0,165.8 154.0,164.6 160.0,163.5 166.0,162.6 172.0,161.8 178.0,161.2 184.0,160.7 190.0,160.3 196.0,160.1 202.0,160.2 208.0,160.3 214.0,160.5 220.0,160.8 226.0,161.1 232.0,161.5 238.0,162.0 244.0,162.6 250.0,163.3 256.0,164.0 262.0,164.8 268.0,165.7 274.0,166.7 280.0,167.7 286.0,168.8 292.0,170.0 298.0,171.3 304.0,172.6 310.0,174.0 316.0,175.5"/><path d="M-2.0,249.3 4.0,244.5 10.0,239.8 16.0,235.3 22.0,230.9 28.0,226.6 34.0,222.5 40.0,218.6 46.0,214.8 52.0,211.1 58.0,207.6 64.0,204.2 70.0,201.0 76.0,197.9 82.0,194.9 88.0,192.1 94.0,189.5 100.0,187.0 106.0,184.6 112.0,182.4 118.0,180.3 124.0,178.3 130.0,176.5 136.0,174.9 142.0,173.4 148.0,172.0 154.0,170.7 160.0,169.6 166.0,168.7 172.0,167.9 178.0,167.2 184.0,166.6 190.0,166.2 196.0,166.0 202.0,166.1 208.0,166.2 214.0,166.4 220.0,166.6 226.0,167.0 232.0,167.4 238.0,167.9 244.0,168.5 250.0,169.1 256.0,169.9 262.0,170.6 268.0,171.5 274.0,172.5 280.0,173.5 286.0,174.6 292.0,175.7 298.0,177.0 304.0,178.3 310.0,179.7 316.0,181.2"/><path d="M-2.0,258.2 4.0,253.3 10.0,248.5 16.0,243.8 22.0,239.2 28.0,234.8 34.0,230.6 40.0,226.5 46.0,222.5 52.0,218.8 58.0,215.1 64.0,211.6 70.0,208.3 76.0,205.1 82.0,202.0 88.0,199.1 94.0,196.4 100.0,193.8 106.0,191.3 112.0,189.0 118.0,186.8 124.0,184.8 130.0,183.0 136.0,181.2 142.0,179.6 148.0,178.2 154.0,176.9 160.0,175.8 166.0,174.8 172.0,173.9 178.0,173.2 184.0,172.6 190.0,172.2 196.0,171.9 202.0,171.9 208.0,172.1 214.0,172.3 220.0,172.5 226.0,172.9 232.0,173.3 238.0,173.8 244.0,174.3 250.0,175.0 256.0,175.7 262.0,176.5 268.0,177.3 274.0,178.3 280.0,179.3 286.0,180.3 292.0,181.5 298.0,182.7 304.0,184.0 310.0,185.4 316.0,186.8"/><path d="M-2.0,267.3 4.0,262.2 10.0,257.2 16.0,252.3 22.0,247.6 28.0,243.1 34.0,238.7 40.0,234.5 46.0,230.4 52.0,226.5 58.0,222.7 64.0,219.1 70.0,215.6 76.0,212.3 82.0,209.2 88.0,206.2 94.0,203.3 100.0,200.6 106.0,198.1 112.0,195.7 118.0,193.4 124.0,191.3 130.0,189.4 136.0,187.6 142.0,185.9 148.0,184.4 154.0,183.1 160.0,181.9 166.0,180.8 172.0,179.9 178.0,179.2 184.0,178.6 190.0,178.1 196.0,177.8 202.0,177.8 208.0,178.0 214.0,178.2 220.0,178.4 226.0,178.8 232.0,179.2 238.0,179.7 244.0,180.2 250.0,180.8 256.0,181.5 262.0,182.3 268.0,183.1 274.0,184.1 280.0,185.0 286.0,186.1 292.0,187.2 298.0,188.4 304.0,189.7 310.0,191.1 316.0,192.5"/><path d="M-2.0,276.4 4.0,271.2 10.0,266.0 16.0,261.0 22.0,256.1 28.0,251.4 34.0,246.8 40.0,242.5 46.0,238.3 52.0,234.2 58.0,230.3 64.0,226.6 70.0,223.0 76.0,219.6 82.0,216.3 88.0,213.2 94.0,210.2 100.0,207.5 106.0,204.8 112.0,202.3 118.0,200.0 124.0,197.8 130.0,195.8 136.0,194.0 142.0,192.2 148.0,190.7 154.0,189.3 160.0,188.0 166.0,186.9 172.0,186.0 178.0,185.2 184.0,184.5 190.0,184.0 196.0,183.7 202.0,183.7 208.0,183.9 214.0,184.1 220.0,184.3 226.0,184.6 232.0,185.0 238.0,185.5 244.0,186.1 250.0,186.7 256.0,187.4 262.0,188.1 268.0,189.0 274.0,189.9 280.0,190.8 286.0,191.9 292.0,193.0 298.0,194.2 304.0,195.4 310.0,196.7 316.0,198.1"/><path d="M-2.0,285.6 4.0,280.2 10.0,274.8 16.0,269.6 22.0,264.6 28.0,259.7 34.0,255.1 40.0,250.5 46.0,246.2 52.0,242.0 58.0,237.9 64.0,234.1 70.0,230.4 76.0,226.8 82.0,223.5 88.0,220.3 94.0,217.2 100.0,214.3 106.0,211.6 112.0,209.0 118.0,206.6 124.0,204.4 130.0,202.3 136.0,200.3 142.0,198.5 148.0,196.9 154.0,195.5 160.0,194.2 166.0,193.0 172.0,192.0 178.0,191.2 184.0,190.5 190.0,189.9 196.0,189.6 202.0,189.6 208.0,189.8 214.0,189.9 220.0,190.2 226.0,190.5 232.0,190.9 238.0,191.4 244.0,191.9 250.0,192.5 256.0,193.2 262.0,194.0 268.0,194.8 274.0,195.6 280.0,196.6 286.0,197.6 292.0,198.7 298.0,199.9 304.0,201.1 310.0,202.4 316.0,203.8"/><path d="M-2.0,294.8 4.0,289.3 10.0,283.7 16.0,278.4 22.0,273.2 28.0,268.2 34.0,263.3 40.0,258.6 46.0,254.1 52.0,249.8 58.0,245.6 64.0,241.6 70.0,237.8 76.0,234.1 82.0,230.7 88.0,227.3 94.0,224.2 100.0,221.2 106.0,218.4 112.0,215.7 118.0,213.2 124.0,210.9 130.0,208.7 136.0,206.7 142.0,204.9 148.0,203.2 154.0,201.7 160.0,200.3 166.0,199.1 172.0,198.0 178.0,197.2 184.0,196.4 190.0,195.9 196.0,195.5 202.0,195.5 208.0,195.7 214.0,195.8 220.0,196.1 226.0,196.4 232.0,196.8 238.0,197.3 244.0,197.8 250.0,198.4 256.0,199.0 262.0,199.8 268.0,200.6 274.0,201.4 280.0,202.4 286.0,203.4 292.0,204.5 298.0,205.6 304.0,206.8 310.0,208.1 316.0,209.4"/><path d="M-2.0,304.2 4.0,298.5 10.0,292.7 16.0,287.2 22.0,281.8 28.0,276.6 34.0,271.6 40.0,266.8 46.0,262.1 52.0,257.6 58.0,253.3 64.0,249.2 70.0,245.3 76.0,241.5 82.0,237.9 88.0,234.4 94.0,231.2 100.0,228.1 106.0,225.2 112.0,222.4 118.0,219.8 124.0,217.4 130.0,215.2 136.0,213.1 142.0,211.2 148.0,209.4 154.0,207.8 160.0,206.4 166.0,205.2 172.0,204.1 178.0,203.2 184.0,202.4 190.0,201.8 196.0,201.4 202.0,201.4 208.0,201.6 214.0,201.7 220.0,202.0 226.0,202.3 232.0,202.7 238.0,203.1 244.0,203.6 250.0,204.2 256.0,204.9 262.0,205.6 268.0,206.4 274.0,207.2 280.0,208.2 286.0,209.2 292.0,210.2 298.0,211.3 304.0,212.5 310.0,213.8 316.0,215.1"/><path d="M-2.0,313.6 4.0,307.7 10.0,301.8 16.0,296.0 22.0,290.5 28.0,285.1 34.0,280.0 40.0,275.0 46.0,270.2 52.0,265.5 58.0,261.1 64.0,256.8 70.0,252.7 76.0,248.8 82.0,245.1 88.0,241.6 94.0,238.2 100.0,235.0 106.0,232.0 112.0,229.1 118.0,226.5 124.0,224.0 130.0,221.6 136.0,219.5 142.0,217.5 148.0,215.7 154.0,214.0 160.0,212.6 166.0,211.3 172.0,210.1 178.0,209.1 184.0,208.3 190.0,207.7 196.0,207.3 202.0,207.3 208.0,207.5 214.0,207.6 220.0,207.9 226.0,208.2 232.0,208.6 238.0,209.0 244.0,209.5 250.0,210.1 256.0,210.7 262.0,211.4 268.0,212.2 274.0,213.0 280.0,213.9 286.0,214.9 292.0,216.0 298.0,217.1 304.0,218.2 310.0,219.5 316.0,220.8"/><path d="M-2.0,323.1 4.0,317.0 10.0,310.9 16.0,305.0 22.0,299.2 28.0,293.7 34.0,288.4 40.0,283.2 46.0,278.3 52.0,273.5 58.0,268.9 64.0,264.5 70.0,260.3 76.0,256.2 82.0,252.4 88.0,248.7 94.0,245.2 100.0,241.9 106.0,238.8 112.0,235.9 118.0,233.1 124.0,230.5 130.0,228.1 136.0,225.9 142.0,223.8 148.0,221.9 154.0,220.2 160.0,218.7 166.0,217.3 172.0,216.2 178.0,215.1 184.0,214.3 190.0,213.6 196.0,213.2 202.0,213.2 208.0,213.4 214.0,213.5 220.0,213.8 226.0,214.1 232.0,214.4 238.0,214.9 244.0,215.4 250.0,215.9 256.0,216.6 262.0,217.3 268.0,218.0 274.0,218.8 280.0,219.7 286.0,220.7 292.0,221.7 298.0,222.8 304.0,223.9 310.0,225.1 316.0,226.4"/><path d="M-2.0,332.7 4.0,326.4 10.0,320.1 16.0,314.0 22.0,308.0 28.0,302.3 34.0,296.8 40.0,291.5 46.0,286.4 52.0,281.4 58.0,276.7 64.0,272.2 70.0,267.8 76.0,263.6 82.0,259.7 88.0,255.9 94.0,252.3 100.0,248.9 106.0,245.6 112.0,242.6 118.0,239.7 124.0,237.1 130.0,234.6 136.0,232.3 142.0,230.1 148.0,228.2 154.0,226.4 160.0,224.8 166.0,223.4 172.0,222.2 178.0,221.1 184.0,220.3 190.0,219.6 196.0,219.1 202.0,219.1 208.0,219.2 214.0,219.4 220.0,219.7 226.0,220.0 232.0,220.3 238.0,220.7 244.0,221.2 250.0,221.8 256.0,222.4 262.0,223.1 268.0,223.8 274.0,224.6 280.0,225.5 286.0,226.4 292.0,227.4 298.0,228.5 304.0,229.6 310.0,230.8 316.0,232.1"/><path d="M-2.0,342.3 4.0,335.8 10.0,329.3 16.0,323.0 22.0,316.9 28.0,311.0 34.0,305.3 40.0,299.8 46.0,294.5 52.0,289.5 58.0,284.6 64.0,279.9 70.0,275.4 76.0,271.1 82.0,267.0 88.0,263.1 94.0,259.3 100.0,255.8 106.0,252.5 112.0,249.4 118.0,246.4 124.0,243.6 130.0,241.1 136.0,238.7 142.0,236.5 148.0,234.5 154.0,232.6 160.0,231.0 166.0,229.5 172.0,228.2 178.0,227.1 184.0,226.2 190.0,225.5 196.0,225.0 202.0,225.0 208.0,225.1 214.0,225.3 220.0,225.5 226.0,225.8 232.0,226.2 238.0,226.6 244.0,227.1 250.0,227.6 256.0,228.2 262.0,228.9 268.0,229.6 274.0,230.4 280.0,231.3 286.0,232.2 292.0,233.2 298.0,234.2 304.0,235.3 310.0,236.5 316.0,237.7"/><path d="M-2.0,352.0 4.0,345.3 10.0,338.6 16.0,332.1 22.0,325.8 28.0,319.7 34.0,313.9 40.0,308.2 46.0,302.7 52.0,297.5 58.0,292.5 64.0,287.6 70.0,283.0 76.0,278.5 82.0,274.3 88.0,270.3 94.0,266.4 100.0,262.8 106.0,259.4 112.0,256.1 118.0,253.1 124.0,250.2 130.0,247.6 136.0,245.1 142.0,242.8 148.0,240.7 154.0,238.8 160.0,237.1 166.0,235.6 172.0,234.3 178.0,233.1 184.0,232.2 190.0,231.4 196.0,230.9 202.0,230.9 208.0,231.0 214.0,231.2 220.0,231.4 226.0,231.7 232.0,232.1 238.0,232.5 244.0,232.9 250.0,233.5 256.0,234.1 262.0,234.7 268.0,235.4 274.0,236.2 280.0,237.1 286.0,238.0 292.0,238.9 298.0,240.0 304.0,241.0 310.0,242.2 316.0,243.4"/><path d="M-2.0,361.8 4.0,354.9 10.0,348.0 16.0,341.3 22.0,334.8 28.0,328.5 34.0,322.5 40.0,316.6 46.0,311.0 52.0,305.6 58.0,300.4 64.0,295.4 70.0,290.6 76.0,286.0 82.0,281.7 88.0,277.5 94.0,273.5 100.0,269.8 106.0,266.2 112.0,262.9 118.0,259.8 124.0,256.8 130.0,254.1 136.0,251.5 142.0,249.2 148.0,247.0 154.0,245.0 160.0,243.3 166.0,241.7 172.0,240.3 178.0,239.1 184.0,238.1 190.0,237.3 196.0,236.8 202.0,236.8 208.0,236.9 214.0,237.1 220.0,237.3 226.0,237.6 232.0,237.9 238.0,238.3 244.0,238.8 250.0,239.3 256.0,239.9 262.0,240.6 268.0,241.3 274.0,242.0 280.0,242.8 286.0,243.7 292.0,244.7 298.0,245.7 304.0,246.7 310.0,247.9 316.0,249.1"/><path d="M-2.0,371.7 4.0,364.6 10.0,357.4 16.0,350.5 22.0,343.8 28.0,337.4 34.0,331.1 40.0,325.1 46.0,319.3 52.0,313.7 58.0,308.3 64.0,303.2 70.0,298.3 76.0,293.5 82.0,289.0 88.0,284.7 94.0,280.7 100.0,276.8 106.0,273.1 112.0,269.7 118.0,266.4 124.0,263.4 130.0,260.6 136.0,257.9 142.0,255.5 148.0,253.3 154.0,251.3 160.0,249.4 166.0,247.8 172.0,246.4 178.0,245.1 184.0,244.1 190.0,243.3 196.0,242.7 202.0,242.7 208.0,242.8 214.0,243.0 220.0,243.2 226.0,243.5 232.0,243.8 238.0,244.2 244.0,244.7 250.0,245.2 256.0,245.8 262.0,246.4 268.0,247.1 274.0,247.8 280.0,248.6 286.0,249.5 292.0,250.4 298.0,251.4 304.0,252.4 310.0,253.6 316.0,254.7"/><path d="M-2.0,381.6 4.0,374.3 10.0,366.9 16.0,359.8 22.0,352.9 28.0,346.2 34.0,339.8 40.0,333.6 46.0,327.6 52.0,321.9 58.0,316.3 64.0,311.0 70.0,305.9 76.0,301.1 82.0,296.4 88.0,292.0 94.0,287.8 100.0,283.8 106.0,280.0 112.0,276.5 118.0,273.1 124.0,270.0 130.0,267.1 136.0,264.4 142.0,261.9 148.0,259.6 154.0,257.5 160.0,255.6 166.0,253.9 172.0,252.4 178.0,251.1 184.0,250.1 190.0,249.2 196.0,248.6 202.0,248.6 208.0,248.7 214.0,248.9 220.0,249.1 226.0,249.4 232.0,249.7 238.0,250.1 244.0,250.5 250.0,251.0 256.0,251.6 262.0,252.2 268.0,252.9 274.0,253.6 280.0,254.4 286.0,255.3 292.0,256.2 298.0,257.1 304.0,258.2 310.0,259.2 316.0,260.4"/><path d="M-2.0,391.6 4.0,384.1 10.0,376.5 16.0,369.2 22.0,362.1 28.0,355.2 34.0,348.6 40.0,342.2 46.0,336.0 52.0,330.1 58.0,324.4 64.0,318.9 70.0,313.7 76.0,308.6 82.0,303.9 88.0,299.3 94.0,295.0 100.0,290.9 106.0,287.0 112.0,283.3 118.0,279.9 124.0,276.6 130.0,273.6 136.0,270.8 142.0,268.2 148.0,265.9 154.0,263.7 160.0,261.7 166.0,260.0 172.0,258.5 178.0,257.1 184.0,256.0 190.0,255.1 196.0,254.5 202.0,254.5 208.0,254.6 214.0,254.8 220.0,255.0 226.0,255.3 232.0,255.6 238.0,256.0 244.0,256.4 250.0,256.9 256.0,257.4 262.0,258.0 268.0,258.7 274.0,259.4 280.0,260.2 286.0,261.0 292.0,261.9 298.0,262.9 304.0,263.9 310.0,264.9 316.0,266.0"/><path d="M-2.0,401.7 4.0,394.0 10.0,386.2 16.0,378.6 22.0,371.3 28.0,364.2 34.0,357.3 40.0,350.8 46.0,344.4 52.0,338.3 58.0,332.4 64.0,326.8 70.0,321.4 76.0,316.2 82.0,311.3 88.0,306.6 94.0,302.2 100.0,297.9 106.0,293.9 112.0,290.1 118.0,286.6 124.0,283.2 130.0,280.1 136.0,277.3 142.0,274.6 148.0,272.1 154.0,269.9 160.0,267.9 166.0,266.1 172.0,264.5 178.0,263.1 184.0,262.0 190.0,261.0 196.0,260.4 202.0,260.4 208.0,260.5 214.0,260.7 220.0,260.9 226.0,261.1 232.0,261.5 238.0,261.8 244.0,262.3 250.0,262.7 256.0,263.3 262.0,263.9 268.0,264.5 274.0,265.2 280.0,266.0 286.0,266.8 292.0,267.7 298.0,268.6 304.0,269.6 310.0,270.6 316.0,271.7"/><path d="M-2.0,409.7 4.0,401.9 10.0,394.0 16.0,386.3 22.0,378.9 28.0,371.7 34.0,364.8 40.0,358.1 46.0,351.7 52.0,345.5 58.0,339.5 64.0,333.8 70.0,328.3 76.0,323.1 82.0,318.1 88.0,313.4 94.0,308.8 100.0,304.5 106.0,300.5 112.0,296.6 118.0,293.0 124.0,289.6 130.0,286.5 136.0,283.5 142.0,280.8 148.0,278.3 154.0,276.1 160.0,274.0 166.0,272.2 172.0,270.5 178.0,269.1 184.0,267.9 190.0,267.0 196.0,266.3 202.0,266.3 208.0,266.4 214.0,266.6 220.0,266.8 226.0,267.0 232.0,267.3 238.0,267.7 244.0,268.1 250.0,268.6 256.0,269.1 262.0,269.7 268.0,270.4 274.0,271.1 280.0,271.8 286.0,272.6 292.0,273.5 298.0,274.4 304.0,275.4 310.0,276.4 316.0,277.5"/><path d="M-2.0,416.6 4.0,408.7 10.0,400.7 16.0,393.0 22.0,385.6 28.0,378.4 34.0,371.4 40.0,364.7 46.0,358.3 52.0,352.1 58.0,346.1 64.0,340.3 70.0,334.8 76.0,329.6 82.0,324.5 88.0,319.8 94.0,315.2 100.0,310.9 106.0,306.8 112.0,302.9 118.0,299.3 124.0,295.9 130.0,292.7 136.0,289.7 142.0,287.0 148.0,284.4 154.0,282.1 160.0,280.1 166.0,278.2 172.0,276.5 178.0,275.1 184.0,273.9 190.0,272.9 196.0,272.2 202.0,272.2 208.0,272.3 214.0,272.5 220.0,272.7 226.0,272.9 232.0,273.2 238.0,273.6 244.0,274.0 250.0,274.5 256.0,275.0 262.0,275.6 268.0,276.3 274.0,277.0 280.0,277.7 286.0,278.5 292.0,279.4 298.0,280.3 304.0,281.3 310.0,282.3 316.0,283.4"/><path d="M-2.0,423.4 4.0,415.5 10.0,407.5 16.0,399.8 22.0,392.3 28.0,385.1 34.0,378.1 40.0,371.4 46.0,364.9 52.0,358.6 58.0,352.6 64.0,346.9 70.0,341.3 76.0,336.0 82.0,331.0 88.0,326.2 94.0,321.6 100.0,317.2 106.0,313.1 112.0,309.2 118.0,305.5 124.0,302.1 130.0,298.9 136.0,295.9 142.0,293.1 148.0,290.6 154.0,288.2 160.0,286.1 166.0,284.2 172.0,282.6 178.0,281.1 184.0,279.8 190.0,278.8 196.0,278.1 202.0,278.1 208.0,278.2 214.0,278.4 220.0,278.6 226.0,278.8 232.0,279.1 238.0,279.5 244.0,279.9 250.0,280.4 256.0,280.9 262.0,281.5 268.0,282.2 274.0,282.9 280.0,283.6 286.0,284.4 292.0,285.3 298.0,286.2 304.0,287.2 310.0,288.2 316.0,289.3"/><path d="M-2.0,430.2 4.0,422.3 10.0,414.3 16.0,406.5 22.0,399.0 28.0,391.8 34.0,384.8 40.0,378.0 46.0,371.5 52.0,365.2 58.0,359.2 64.0,353.4 70.0,347.8 76.0,342.5 82.0,337.4 88.0,332.6 94.0,328.0 100.0,323.6 106.0,319.4 112.0,315.5 118.0,311.8 124.0,308.3 130.0,305.1 136.0,302.1 142.0,299.3 148.0,296.7 154.0,294.3 160.0,292.2 166.0,290.3 172.0,288.6 178.0,287.1 184.0,285.8 190.0,284.7 196.0,284.0 202.0,284.0 208.0,284.1 214.0,284.3 220.0,284.5 226.0,284.7 232.0,285.0 238.0,285.4 244.0,285.8 250.0,286.3 256.0,286.8 262.0,287.4 268.0,288.1 274.0,288.8 280.0,289.5 286.0,290.3 292.0,291.2 298.0,292.1 304.0,293.1 310.0,294.1 316.0,295.2"/></g></defs>
<use href="#sp4" transform="translate(18.5,624.6)" fill="none" stroke="#a8a8a8" stroke-width="2.80" stroke-opacity="0.50"/>
<defs><linearGradient id="cg4" gradientUnits="userSpaceOnUse" x1="0" y1="0.0" x2="0" y2="284.1"><stop offset="0" stop-color="#d1d1d1"/><stop offset="0.55" stop-color="#d1d1d1"/><stop offset="1" stop-color="#e0e0e0"/></linearGradient></defs>
<use href="#sp4" transform="translate(18.5,624.6)" fill="none" stroke="url(#cg4)" stroke-width="1.45"/>
</g>
<defs><linearGradient id="og4" gradientUnits="userSpaceOnUse" x1="0" y1="0" x2="0" y2="284.1"><stop offset="0" stop-color="#66aeb3" stop-opacity="0.62"/><stop offset="0.55" stop-color="#66aeb3" stop-opacity="0.62"/><stop offset="1" stop-color="#3a8cbf" stop-opacity="0.90"/></linearGradient></defs>
<use href="#sp4" transform="translate(18.5,624.6)" fill="none" stroke="url(#og4)" stroke-width="1.30" filter="url(#sb)"/>
</g>
<rect x="18.5" y="624.6" width="326.0" height="284.1" fill="none" stroke="#8a8a8a" stroke-width="1.25"/>
<line x1="109.5" y1="800.2" x2="312.1" y2="794.7" stroke="#1a1a1a" stroke-width="1.1"/>
<text x="318.0" y="756.2" font-size="12.6" text-anchor="middle">A</text>
<text x="327.5" y="831.2" font-size="12.6" text-anchor="middle">B</text>
<text x="347.0" y="725.6" font-size="9.5">GNDVI</text>
<rect x="347.3" y="729.4" width="10" height="5.4" fill="#d7191c"/>
<text x="360.1" y="735.0" font-size="9.3">0.10</text>
<rect x="347.3" y="739.2" width="10" height="5.4" fill="#ed7d4e"/>
<text x="360.1" y="744.8" font-size="9.3">0.38</text>
<rect x="347.3" y="749.0" width="10" height="5.4" fill="#fec780"/>
<text x="360.1" y="754.6" font-size="9.3">0.42</text>
<rect x="347.3" y="758.8" width="10" height="5.4" fill="#ffffbf"/>
<text x="360.1" y="764.4" font-size="9.3">0.45</text>
<rect x="347.3" y="768.6" width="10" height="5.4" fill="#c7e8a8"/>
<text x="360.1" y="774.2" font-size="9.3">0.49</text>
<rect x="347.3" y="778.4" width="10" height="5.4" fill="#7abea8"/>
<text x="360.1" y="784.0" font-size="9.3">0.58</text>
<rect x="347.3" y="788.2" width="10" height="5.4" fill="#2b83ba"/>
<text x="360.1" y="793.8" font-size="9.3">0.85</text>
<text transform="translate(10.9,670.0) rotate(-90)" font-size="11" text-anchor="middle" dy="3.8" textLength="35" lengthAdjust="spacingAndGlyphs">7664843</text>
<text transform="translate(10.9,765.6) rotate(-90)" font-size="11" text-anchor="middle" dy="3.8" textLength="35" lengthAdjust="spacingAndGlyphs">7664783</text>
<text transform="translate(10.9,860.6) rotate(-90)" font-size="11" text-anchor="middle" dy="3.8" textLength="35" lengthAdjust="spacingAndGlyphs">7664723</text>
<text x="23.7" y="920.5" font-size="11" textLength="35" lengthAdjust="spacingAndGlyphs">1132470</text>
<text x="166.5" y="920.5" font-size="11" textLength="35" lengthAdjust="spacingAndGlyphs">1132560</text>
<text x="310.3" y="920.5" font-size="11" textLength="35" lengthAdjust="spacingAndGlyphs">1132650</text>
<circle cx="74.5" cy="854.4" r="8.3" fill="url(#ng)" stroke="#333" stroke-width="0.8"/>
<path d="M74.5,841.5 L82.5,861.4 L74.5,854.4 Z" fill="url(#ag)"/>
<path d="M74.5,841.5 L66.5,861.4 L74.5,854.4 Z" fill="#f2f2f2"/>
<path d="M74.5,841.5 L82.5,861.4 L74.5,854.4 L66.5,861.4 Z" fill="none" stroke="#1e1e1e" stroke-width="0.9" stroke-linejoin="miter"/>
<rect x="46.8" y="877.0" width="47.9" height="4.4" fill="#fff" stroke="#000" stroke-width="0.6"/>
<rect x="46.8" y="877.0" width="16" height="4.4" fill="#000"/>
<rect x="78.7" y="877.0" width="16" height="4.4" fill="#000"/>
<text x="46.8" y="873.1" font-size="6" text-anchor="middle">0</text>
<text x="62.8" y="873.1" font-size="6" text-anchor="middle">10</text>
<text x="78.7" y="873.1" font-size="6" text-anchor="middle">20</text>
<text x="94.7" y="873.1" font-size="6" text-anchor="middle">30</text>
<text x="99.1" y="873.1" font-size="6">m</text>
<defs><filter id="f5" filterUnits="userSpaceOnUse" x="421.2" y="624.6" width="325.3" height="283.7" color-interpolation-filters="sRGB"><feGaussianBlur in="SourceGraphic" stdDeviation="0.7" result="s"/><feTurbulence type="fractalNoise" baseFrequency="0.3 0.6" numOctaves="1" seed="38" result="t1"/><feColorMatrix in="t1" type="matrix" values="1 0 0 0 0 1 0 0 0 0 1 0 0 0 0 0 0 0 0 1" result="n1"/><feTurbulence type="fractalNoise" baseFrequency="0.08 0.3" numOctaves="2" seed="36" result="t2"/><feColorMatrix in="t2" type="matrix" values="1 0 0 0 0 1 0 0 0 0 1 0 0 0 0 0 0 0 0 1" result="n2"/><feComposite in="s" in2="n2" operator="arithmetic" k1="0" k2="1" k3="0.500" k4="-0.250" result="s2"/><feComponentTransfer in="n1" result="MA"><feFuncR type="table" tableValues="0.000 0.000 0.000 0.000 0.000 0.000 0.000 0.000 0.000 0.000 0.000 0.000 0.000 0.000 0.000 0.000 0.000 0.000 0.000 0.000 0.000 0.000 0.000 0.000 0.250 0.875 1.000 1.000 1.000 1.000 1.000 1.000 1.000 1.000 1.000 1.000 1.000 1.000 1.000 1.000 1.000"/><feFuncG type="table" tableValues="0.000 0.000 0.000 0.000 0.000 0.000 0.000 0.000 0.000 0.000 0.000 0.000 0.000 0.000 0.000 0.000 0.000 0.000 0.000 0.000 0.000 0.000 0.000 0.000 0.250 0.875 1.000 1.000 1.000 1.000 1.000 1.000 1.000 1.000 1.000 1.000 1.000 1.000 1.000 1.000 1.000"/><feFuncB type="table" tableValues="0.000 0.000 0.000 0.000 0.000 0.000 0.000 0.000 0.000 0.000 0.000 0.000 0.000 0.000 0.000 0.000 0.000 0.000 0.000 0.000 0.000 0.000 0.000 0.000 0.250 0.875 1.000 1.000 1.000 1.000 1.000 1.000 1.000 1.000 1.000 1.000 1.000 1.000 1.000 1.000 1.000"/></feComponentTransfer><feComponentTransfer in="n1" result="MB"><feFuncR type="table" tableValues="1.000 1.000 1.000 1.000 1.000 1.000 1.000 1.000 1.000 1.000 1.000 1.000 1.000 1.000 1.000 0.875 0.250 0.000 0.000 0.000 0.000 0.000 0.000 0.000 0.000 0.000 0.000 0.000 0.000 0.000 0.000 0.000 0.000 0.000 0.000 0.000 0.000 0.000 0.000 0.000 0.000"/><feFuncG type="table" tableValues="1.000 1.000 1.000 1.000 1.000 1.000 1.000 1.000 1.000 1.000 1.000 1.000 1.000 1.000 1.000 0.875 0.250 0.000 0.000 0.000 0.000 0.000 0.000 0.000 0.000 0.000 0.000 0.000 0.000 0.000 0.000 0.000 0.000 0.000 0.000 0.000 0.000 0.000 0.000 0.000 0.000"/><feFuncB type="table" tableValues="1.000 1.000 1.000 1.000 1.000 1.000 1.000 1.000 1.000 1.000 1.000 1.000 1.000 1.000 1.000 0.875 0.250 0.000 0.000 0.000 0.000 0.000 0.000 0.000 0.000 0.000 0.000 0.000 0.000 0.000 0.000 0.000 0.000 0.000 0.000 0.000 0.000 0.000 0.000 0.000 0.000"/></feComponentTransfer><feComponentTransfer in="s2" result="XA"><feFuncR type="linear" slope="-0.700" intercept="0.294"/><feFuncG type="linear" slope="-0.700" intercept="0.294"/><feFuncB type="linear" slope="-0.700" intercept="0.294"/></feComponentTransfer><feComposite in="XA" in2="MA" operator="arithmetic" k1="1" k2="0" k3="0" k4="0" result="PA"/><feComponentTransfer in="s2" result="XB"><feFuncR type="linear" slope="0.700" intercept="-0.140"/><feFuncG type="linear" slope="0.700" intercept="-0.140"/><feFuncB type="linear" slope="0.700" intercept="-0.140"/></feComponentTransfer><feComposite in="XB" in2="MB" operator="arithmetic" k1="1" k2="0" k3="0" k4="0" result="PB"/><feComponentTransfer in="PB" result="QB"><feFuncR type="linear" slope="-1" intercept="1"/><feFuncG type="linear" slope="-1" intercept="1"/><feFuncB type="linear" slope="-1" intercept="1"/></feComponentTransfer><feComposite in="s2" in2="PA" operator="arithmetic" k1="0" k2="1" k3="1" k4="0" result="v1"/><feComposite in="v1" in2="QB" operator="arithmetic" k1="0" k2="1" k3="1" k4="-1" result="v2"/><feComponentTransfer in="v2" result="cm"><feFuncR type="table" tableValues="0.8431 0.9294 0.9961 1.0000 0.7804 0.4784 0.1686"/><feFuncG type="table" tableValues="0.0980 0.4902 0.7804 1.0000 0.9098 0.7451 0.5137"/><feFuncB type="table" tableValues="0.1098 0.3059 0.5020 0.7490 0.6588 0.6588 0.7294"/><feFuncA type="linear" slope="0" intercept="1"/></feComponentTransfer><feGaussianBlur in="cm" stdDeviation="0.5"/></filter></defs>
<defs><linearGradient id="bg5" x1="0" y1="0" x2="0" y2="1"><stop offset="0.00" stop-color="#454545"/><stop offset="1.00" stop-color="#6b6b6b"/></linearGradient></defs>
<g clip-path="url(#c5)"><g filter="url(#f5)">
<rect x="421.2" y="624.6" width="325.3" height="283.7" fill="url(#bg5)"/>
<g filter="url(#bl)">
<ellipse cx="483.2" cy="652.6" rx="26.0" ry="14.0" fill="#1a1a1a"/>
<ellipse cx="466.2" cy="709.6" rx="32.0" ry="50.0" fill="#a8a8a8"/>
<ellipse cx="551.2" cy="674.6" rx="45.0" ry="20.0" fill="#525252"/>
<ellipse cx="641.2" cy="704.6" rx="60.0" ry="24.0" fill="#2b2b2b"/>
<ellipse cx="689.2" cy="749.6" rx="20.0" ry="26.0" fill="#1a1a1a"/>
<ellipse cx="611.2" cy="764.6" rx="55.0" ry="25.0" fill="#363636"/>
<ellipse cx="561.2" cy="744.6" rx="16.0" ry="30.0" fill="#808080"/>
<ellipse cx="571.2" cy="836.6" rx="50.0" ry="30.0" fill="#999999"/>
<ellipse cx="699.2" cy="814.6" rx="26.0" ry="26.0" fill="#1f1f1f"/>
<ellipse cx="651.2" cy="882.6" rx="90.0" ry="15.0" fill="#a8a8a8"/>
<ellipse cx="521.2" cy="774.6" rx="30.0" ry="30.0" fill="#999999"/>
</g>
<defs><g id="sp5"><path d="M-2.0,-47.0 4.0,-49.4 10.0,-51.3 16.0,-53.2 22.0,-55.1 28.0,-56.8 34.0,-58.5 40.0,-60.0 46.0,-61.5 52.0,-63.0 58.0,-64.3 64.0,-65.6 70.0,-66.7 76.0,-67.8 82.0,-68.8 88.0,-69.7 94.0,-70.6 100.0,-71.3 106.0,-72.0 112.0,-72.6 118.0,-73.1 124.0,-73.5 130.0,-73.9 136.0,-74.1 142.0,-74.3 148.0,-74.3 154.0,-74.1 160.0,-73.7 166.0,-73.2 172.0,-72.6 178.0,-72.0 184.0,-71.2 190.0,-70.4 196.0,-69.6 202.0,-69.5 208.0,-69.2 214.0,-68.9 220.0,-68.4 226.0,-67.9 232.0,-67.2 238.0,-66.4 244.0,-65.6 250.0,-64.6 256.0,-63.5 262.0,-62.3 268.0,-60.9 274.0,-59.5 280.0,-58.0 286.0,-56.4 292.0,-54.6 298.0,-52.8 304.0,-50.8 310.0,-48.7 316.0,-46.5"/><path d="M-2.0,-40.2 4.0,-42.6 10.0,-44.6 16.0,-46.5 22.0,-48.4 28.0,-50.1 34.0,-51.8 40.0,-53.4 46.0,-54.9 52.0,-56.4 58.0,-57.8 64.0,-59.0 70.0,-60.2 76.0,-61.4 82.0,-62.4 88.0,-63.3 94.0,-64.2 100.0,-65.0 106.0,-65.7 112.0,-66.3 118.0,-66.8 124.0,-67.3 130.0,-67.6 136.0,-67.9 142.0,-68.1 148.0,-68.2 154.0,-68.0 160.0,-67.6 166.0,-67.2 172.0,-66.6 178.0,-66.0 184.0,-65.3 190.0,-64.4 196.0,-63.7 202.0,-63.6 208.0,-63.3 214.0,-63.0 220.0,-62.5 226.0,-62.0 232.0,-61.3 238.0,-60.5 244.0,-59.7 250.0,-58.7 256.0,-57.6 262.0,-56.4 268.0,-55.0 274.0,-53.6 280.0,-52.1 286.0,-50.5 292.0,-48.7 298.0,-46.9 304.0,-44.9 310.0,-42.8 316.0,-40.6"/><path d="M-2.0,-33.3 4.0,-35.8 10.0,-37.8 16.0,-39.8 22.0,-41.6 28.0,-43.4 34.0,-45.1 40.0,-46.8 46.0,-48.3 52.0,-49.8 58.0,-51.2 64.0,-52.5 70.0,-53.7 76.0,-54.9 82.0,-56.0 88.0,-56.9 94.0,-57.8 100.0,-58.6 106.0,-59.4 112.0,-60.0 118.0,-60.6 124.0,-61.1 130.0,-61.4 136.0,-61.7 142.0,-62.0 148.0,-62.1 154.0,-61.9 160.0,-61.6 166.0,-61.1 172.0,-60.6 178.0,-60.0 184.0,-59.3 190.0,-58.5 196.0,-57.8 202.0,-57.7 208.0,-57.4 214.0,-57.1 220.0,-56.6 226.0,-56.1 232.0,-55.4 238.0,-54.6 244.0,-53.8 250.0,-52.8 256.0,-51.7 262.0,-50.5 268.0,-49.1 274.0,-47.7 280.0,-46.2 286.0,-44.6 292.0,-42.8 298.0,-41.0 304.0,-39.0 310.0,-36.9 316.0,-34.7"/><path d="M-2.0,-26.5 4.0,-29.0 10.0,-31.0 16.0,-33.0 22.0,-34.9 28.0,-36.7 34.0,-38.5 40.0,-40.2 46.0,-41.7 52.0,-43.2 58.0,-44.7 64.0,-46.0 70.0,-47.3 76.0,-48.4 82.0,-49.5 88.0,-50.5 94.0,-51.5 100.0,-52.3 106.0,-53.1 112.0,-53.7 118.0,-54.3 124.0,-54.8 130.0,-55.2 136.0,-55.6 142.0,-55.8 148.0,-56.0 154.0,-55.8 160.0,-55.5 166.0,-55.1 172.0,-54.6 178.0,-54.0 184.0,-53.4 190.0,-52.6 196.0,-51.9 202.0,-51.8 208.0,-51.5 214.0,-51.2 220.0,-50.7 226.0,-50.2 232.0,-49.5 238.0,-48.7 244.0,-47.9 250.0,-46.9 256.0,-45.8 262.0,-44.6 268.0,-43.2 274.0,-41.8 280.0,-40.3 286.0,-38.7 292.0,-36.9 298.0,-35.1 304.0,-33.1 310.0,-31.0 316.0,-28.8"/><path d="M-2.0,-19.7 4.0,-22.2 10.0,-24.3 16.0,-26.3 22.0,-28.2 28.0,-30.1 34.0,-31.8 40.0,-33.5 46.0,-35.1 52.0,-36.7 58.0,-38.1 64.0,-39.5 70.0,-40.8 76.0,-42.0 82.0,-43.1 88.0,-44.1 94.0,-45.1 100.0,-46.0 106.0,-46.7 112.0,-47.4 118.0,-48.1 124.0,-48.6 130.0,-49.0 136.0,-49.4 142.0,-49.7 148.0,-49.8 154.0,-49.7 160.0,-49.4 166.0,-49.1 172.0,-48.6 178.0,-48.1 184.0,-47.4 190.0,-46.7 196.0,-46.0 202.0,-45.9 208.0,-45.6 214.0,-45.3 220.0,-44.8 226.0,-44.3 232.0,-43.6 238.0,-42.8 244.0,-42.0 250.0,-41.0 256.0,-39.9 262.0,-38.7 268.0,-37.3 274.0,-35.9 280.0,-34.4 286.0,-32.8 292.0,-31.0 298.0,-29.2 304.0,-27.2 310.0,-25.1 316.0,-22.9"/><path d="M-2.0,-12.9 4.0,-15.4 10.0,-17.5 16.0,-19.5 22.0,-21.5 28.0,-23.4 34.0,-25.2 40.0,-26.9 46.0,-28.5 52.0,-30.1 58.0,-31.6 64.0,-33.0 70.0,-34.3 76.0,-35.5 82.0,-36.7 88.0,-37.7 94.0,-38.7 100.0,-39.6 106.0,-40.4 112.0,-41.1 118.0,-41.8 124.0,-42.3 130.0,-42.8 136.0,-43.2 142.0,-43.5 148.0,-43.7 154.0,-43.6 160.0,-43.4 166.0,-43.0 172.0,-42.6 178.0,-42.1 184.0,-41.5 190.0,-40.8 196.0,-40.1 202.0,-40.0 208.0,-39.7 214.0,-39.4 220.0,-38.9 226.0,-38.4 232.0,-37.7 238.0,-36.9 244.0,-36.1 250.0,-35.1 256.0,-34.0 262.0,-32.8 268.0,-31.4 274.0,-30.0 280.0,-28.5 286.0,-26.9 292.0,-25.1 298.0,-23.3 304.0,-21.3 310.0,-19.2 316.0,-17.0"/><path d="M-2.0,-6.1 4.0,-8.6 10.0,-10.7 16.0,-12.8 22.0,-14.8 28.0,-16.7 34.0,-18.5 40.0,-20.3 46.0,-21.9 52.0,-23.5 58.0,-25.0 64.0,-26.4 70.0,-27.8 76.0,-29.0 82.0,-30.2 88.0,-31.3 94.0,-32.3 100.0,-33.3 106.0,-34.1 112.0,-34.9 118.0,-35.5 124.0,-36.1 130.0,-36.6 136.0,-37.0 142.0,-37.4 148.0,-37.6 154.0,-37.6 160.0,-37.3 166.0,-37.0 172.0,-36.6 178.0,-36.1 184.0,-35.5 190.0,-34.8 196.0,-34.2 202.0,-34.1 208.0,-33.8 214.0,-33.5 220.0,-33.0 226.0,-32.5 232.0,-31.8 238.0,-31.0 244.0,-30.2 250.0,-29.2 256.0,-28.1 262.0,-26.9 268.0,-25.5 274.0,-24.1 280.0,-22.6 286.0,-21.0 292.0,-19.2 298.0,-17.4 304.0,-15.4 310.0,-13.3 316.0,-11.1"/><path d="M-2.0,0.8 4.0,-1.8 10.0,-3.9 16.0,-6.0 22.0,-8.1 28.0,-10.0 34.0,-11.8 40.0,-13.6 46.0,-15.3 52.0,-16.9 58.0,-18.5 64.0,-19.9 70.0,-21.3 76.0,-22.6 82.0,-23.8 88.0,-24.9 94.0,-26.0 100.0,-26.9 106.0,-27.8 112.0,-28.6 118.0,-29.3 124.0,-29.9 130.0,-30.4 136.0,-30.9 142.0,-31.2 148.0,-31.5 154.0,-31.5 160.0,-31.3 166.0,-31.0 172.0,-30.6 178.0,-30.1 184.0,-29.6 190.0,-28.9 196.0,-28.3 202.0,-28.2 208.0,-27.9 214.0,-27.6 220.0,-27.1 226.0,-26.6 232.0,-25.9 238.0,-25.1 244.0,-24.3 250.0,-23.3 256.0,-22.2 262.0,-21.0 268.0,-19.6 274.0,-18.2 280.0,-16.7 286.0,-15.1 292.0,-13.3 298.0,-11.5 304.0,-9.5 310.0,-7.4 316.0,-5.2"/><path d="M-2.0,7.6 4.0,5.0 10.0,2.8 16.0,0.7 22.0,-1.3 28.0,-3.3 34.0,-5.2 40.0,-7.0 46.0,-8.7 52.0,-10.4 58.0,-11.9 64.0,-13.4 70.0,-14.8 76.0,-16.1 82.0,-17.4 88.0,-18.5 94.0,-19.6 100.0,-20.6 106.0,-21.5 112.0,-22.3 118.0,-23.0 124.0,-23.6 130.0,-24.2 136.0,-24.7 142.0,-25.1 148.0,-25.4 154.0,-25.4 160.0,-25.2 166.0,-24.9 172.0,-24.6 178.0,-24.1 184.0,-23.6 190.0,-23.0 196.0,-22.4 202.0,-22.3 208.0,-22.0 214.0,-21.7 220.0,-21.2 226.0,-20.7 232.0,-20.0 238.0,-19.2 244.0,-18.4 250.0,-17.4 256.0,-16.3 262.0,-15.1 268.0,-13.7 274.0,-12.3 280.0,-10.8 286.0,-9.2 292.0,-7.4 298.0,-5.6 304.0,-3.6 310.0,-1.5 316.0,0.7"/><path d="M-2.0,14.4 4.0,11.8 10.0,9.6 16.0,7.5 22.0,5.4 28.0,3.4 34.0,1.5 40.0,-0.4 46.0,-2.1 52.0,-3.8 58.0,-5.4 64.0,-6.9 70.0,-8.3 76.0,-9.7 82.0,-10.9 88.0,-12.1 94.0,-13.2 100.0,-14.2 106.0,-15.1 112.0,-16.0 118.0,-16.7 124.0,-17.4 130.0,-18.0 136.0,-18.5 142.0,-18.9 148.0,-19.2 154.0,-19.3 160.0,-19.1 166.0,-18.9 172.0,-18.6 178.0,-18.1 184.0,-17.6 190.0,-17.1 196.0,-16.5 202.0,-16.4 208.0,-16.1 214.0,-15.8 220.0,-15.3 226.0,-14.8 232.0,-14.1 238.0,-13.3 244.0,-12.5 250.0,-11.5 256.0,-10.4 262.0,-9.2 268.0,-7.8 274.0,-6.4 280.0,-4.9 286.0,-3.3 292.0,-1.5 298.0,0.3 304.0,2.3 310.0,4.4 316.0,6.6"/><path d="M-2.0,21.2 4.0,18.6 10.0,16.4 16.0,14.2 22.0,12.1 28.0,10.1 34.0,8.1 40.0,6.3 46.0,4.5 52.0,2.8 58.0,1.2 64.0,-0.4 70.0,-1.8 76.0,-3.2 82.0,-4.5 88.0,-5.7 94.0,-6.8 100.0,-7.9 106.0,-8.8 112.0,-9.7 118.0,-10.5 124.0,-11.2 130.0,-11.8 136.0,-12.3 142.0,-12.8 148.0,-13.1 154.0,-13.2 160.0,-13.1 166.0,-12.9 172.0,-12.6 178.0,-12.2 184.0,-11.7 190.0,-11.1 196.0,-10.6 202.0,-10.5 208.0,-10.2 214.0,-9.9 220.0,-9.4 226.0,-8.9 232.0,-8.2 238.0,-7.4 244.0,-6.6 250.0,-5.6 256.0,-4.5 262.0,-3.3 268.0,-1.9 274.0,-0.5 280.0,1.0 286.0,2.6 292.0,4.4 298.0,6.2 304.0,8.2 310.0,10.3 316.0,12.5"/><path d="M-2.0,28.0 4.0,25.4 10.0,23.2 16.0,20.9 22.0,18.8 28.0,16.8 34.0,14.8 40.0,12.9 46.0,11.1 52.0,9.4 58.0,7.7 64.0,6.1 70.0,4.7 76.0,3.3 82.0,1.9 88.0,0.7 94.0,-0.4 100.0,-1.5 106.0,-2.5 112.0,-3.4 118.0,-4.2 124.0,-4.9 130.0,-5.6 136.0,-6.1 142.0,-6.6 148.0,-7.0 154.0,-7.1 160.0,-7.0 166.0,-6.8 172.0,-6.5 178.0,-6.2 184.0,-5.7 190.0,-5.2 196.0,-4.7 202.0,-4.6 208.0,-4.3 214.0,-4.0 220.0,-3.5 226.0,-3.0 232.0,-2.3 238.0,-1.5 244.0,-0.7 250.0,0.3 256.0,1.4 262.0,2.6 268.0,4.0 274.0,5.4 280.0,6.9 286.0,8.5 292.0,10.3 298.0,12.1 304.0,14.1 310.0,16.2 316.0,18.4"/><path d="M-2.0,34.8 4.0,32.2 10.0,29.9 16.0,27.7 22.0,25.5 28.0,23.4 34.0,21.4 40.0,19.5 46.0,17.7 52.0,15.9 58.0,14.2 64.0,12.7 70.0,11.1 76.0,9.7 82.0,8.4 88.0,7.1 94.0,5.9 100.0,4.8 106.0,3.8 112.0,2.9 118.0,2.1 124.0,1.3 130.0,0.6 136.0,0.0 142.0,-0.5 148.0,-0.9 154.0,-1.0 160.0,-0.9 166.0,-0.8 172.0,-0.5 178.0,-0.2 184.0,0.2 190.0,0.7 196.0,1.2 202.0,1.3 208.0,1.6 214.0,1.9 220.0,2.4 226.0,2.9 232.0,3.6 238.0,4.4 244.0,5.2 250.0,6.2 256.0,7.3 262.0,8.5 268.0,9.8 274.0,11.3 280.0,12.8 286.0,14.4 292.0,16.2 298.0,18.0 304.0,20.0 310.0,22.0 316.0,24.2"/><path d="M-2.0,41.6 4.0,38.9 10.0,36.6 16.0,34.3 22.0,32.1 28.0,30.0 34.0,28.0 40.0,26.1 46.0,24.2 52.0,22.4 58.0,20.7 64.0,19.1 70.0,17.6 76.0,16.1 82.0,14.7 88.0,13.5 94.0,12.3 100.0,11.1 106.0,10.1 112.0,9.2 118.0,8.3 124.0,7.5 130.0,6.8 136.0,6.2 142.0,5.7 148.0,5.3 154.0,5.1 160.0,5.1 166.0,5.3 172.0,5.5 178.0,5.8 184.0,6.2 190.0,6.6 196.0,7.1 202.0,7.2 208.0,7.5 214.0,7.8 220.0,8.2 226.0,8.8 232.0,9.4 238.0,10.2 244.0,11.1 250.0,12.0 256.0,13.1 262.0,14.3 268.0,15.6 274.0,17.0 280.0,18.5 286.0,20.1 292.0,21.8 298.0,23.6 304.0,25.6 310.0,27.6 316.0,29.8"/><path d="M-2.0,48.4 4.0,45.7 10.0,43.3 16.0,41.0 22.0,38.8 28.0,36.7 34.0,34.6 40.0,32.7 46.0,30.8 52.0,29.0 58.0,27.2 64.0,25.6 70.0,24.0 76.0,22.6 82.0,21.2 88.0,19.8 94.0,18.6 100.0,17.5 106.0,16.4 112.0,15.4 118.0,14.5 124.0,13.7 130.0,13.0 136.0,12.4 142.0,11.8 148.0,11.4 154.0,11.2 160.0,11.2 166.0,11.3 172.0,11.5 178.0,11.7 184.0,12.1 190.0,12.5 196.0,13.0 202.0,13.1 208.0,13.3 214.0,13.7 220.0,14.1 226.0,14.6 232.0,15.3 238.0,16.0 244.0,16.9 250.0,17.8 256.0,18.9 262.0,20.1 268.0,21.3 274.0,22.7 280.0,24.2 286.0,25.8 292.0,27.5 298.0,29.3 304.0,31.2 310.0,33.2 316.0,35.3"/><path d="M-2.0,55.2 4.0,52.6 10.0,50.1 16.0,47.8 22.0,45.6 28.0,43.4 34.0,41.3 40.0,39.3 46.0,37.4 52.0,35.5 58.0,33.8 64.0,32.1 70.0,30.5 76.0,29.0 82.0,27.6 88.0,26.2 94.0,25.0 100.0,23.8 106.0,22.7 112.0,21.7 118.0,20.8 124.0,20.0 130.0,19.2 136.0,18.6 142.0,18.0 148.0,17.5 154.0,17.3 160.0,17.3 166.0,17.3 172.0,17.5 178.0,17.7 184.0,18.0 190.0,18.5 196.0,18.9 202.0,19.0 208.0,19.2 214.0,19.5 220.0,20.0 226.0,20.5 232.0,21.1 238.0,21.8 244.0,22.7 250.0,23.6 256.0,24.7 262.0,25.8 268.0,27.1 274.0,28.4 280.0,29.9 286.0,31.5 292.0,33.1 298.0,34.9 304.0,36.8 310.0,38.8 316.0,40.9"/><path d="M-2.0,62.2 4.0,59.5 10.0,57.0 16.0,54.7 22.0,52.4 28.0,50.2 34.0,48.0 40.0,46.0 46.0,44.0 52.0,42.2 58.0,40.4 64.0,38.7 70.0,37.0 76.0,35.5 82.0,34.0 88.0,32.7 94.0,31.4 100.0,30.2 106.0,29.0 112.0,28.0 118.0,27.1 124.0,26.2 130.0,25.4 136.0,24.8 142.0,24.2 148.0,23.6 154.0,23.4 160.0,23.3 166.0,23.4 172.0,23.5 178.0,23.7 184.0,24.0 190.0,24.4 196.0,24.8 202.0,24.9 208.0,25.1 214.0,25.4 220.0,25.8 226.0,26.3 232.0,26.9 238.0,27.7 244.0,28.5 250.0,29.4 256.0,30.5 262.0,31.6 268.0,32.8 274.0,34.2 280.0,35.6 286.0,37.2 292.0,38.8 298.0,40.6 304.0,42.4 310.0,44.4 316.0,46.4"/><path d="M-2.0,69.2 4.0,66.5 10.0,64.0 16.0,61.6 22.0,59.2 28.0,57.0 34.0,54.8 40.0,52.7 46.0,50.7 52.0,48.8 58.0,47.0 64.0,45.2 70.0,43.6 76.0,42.0 82.0,40.5 88.0,39.1 94.0,37.8 100.0,36.5 106.0,35.4 112.0,34.3 118.0,33.4 124.0,32.5 130.0,31.7 136.0,30.9 142.0,30.3 148.0,29.8 154.0,29.5 160.0,29.4 166.0,29.4 172.0,29.5 178.0,29.7 184.0,29.9 190.0,30.3 196.0,30.7 202.0,30.8 208.0,31.0 214.0,31.3 220.0,31.7 226.0,32.2 232.0,32.8 238.0,33.5 244.0,34.3 250.0,35.2 256.0,36.2 262.0,37.4 268.0,38.6 274.0,39.9 280.0,41.3 286.0,42.8 292.0,44.5 298.0,46.2 304.0,48.0 310.0,49.9 316.0,52.0"/><path d="M-2.0,76.3 4.0,73.5 10.0,71.0 16.0,68.5 22.0,66.1 28.0,63.8 34.0,61.6 40.0,59.5 46.0,57.5 52.0,55.5 58.0,53.6 64.0,51.9 70.0,50.2 76.0,48.5 82.0,47.0 88.0,45.6 94.0,44.2 100.0,42.9 106.0,41.7 112.0,40.7 118.0,39.6 124.0,38.7 130.0,37.9 136.0,37.1 142.0,36.5 148.0,35.9 154.0,35.6 160.0,35.5 166.0,35.5 172.0,35.5 178.0,35.6 184.0,35.9 190.0,36.2 196.0,36.6 202.0,36.7 208.0,36.9 214.0,37.1 220.0,37.5 226.0,38.0 232.0,38.6 238.0,39.3 244.0,40.1 250.0,41.0 256.0,42.0 262.0,43.1 268.0,44.3 274.0,45.6 280.0,47.0 286.0,48.5 292.0,50.1 298.0,51.8 304.0,53.6 310.0,55.5 316.0,57.5"/><path d="M-2.0,83.5 4.0,80.6 10.0,78.0 16.0,75.5 22.0,73.1 28.0,70.8 34.0,68.5 40.0,66.3 46.0,64.3 52.0,62.3 58.0,60.3 64.0,58.5 70.0,56.8 76.0,55.1 82.0,53.5 88.0,52.0 94.0,50.7 100.0,49.3 106.0,48.1 112.0,47.0 118.0,45.9 124.0,45.0 130.0,44.1 136.0,43.3 142.0,42.7 148.0,42.1 154.0,41.7 160.0,41.6 166.0,41.5 172.0,41.5 178.0,41.6 184.0,41.8 190.0,42.1 196.0,42.4 202.0,42.5 208.0,42.7 214.0,43.0 220.0,43.4 226.0,43.9 232.0,44.5 238.0,45.2 244.0,45.9 250.0,46.8 256.0,47.8 262.0,48.9 268.0,50.1 274.0,51.3 280.0,52.7 286.0,54.2 292.0,55.8 298.0,57.5 304.0,59.2 310.0,61.1 316.0,63.1"/><path d="M-2.0,90.7 4.0,87.8 10.0,85.2 16.0,82.6 22.0,80.1 28.0,77.7 34.0,75.4 40.0,73.2 46.0,71.1 52.0,69.0 58.0,67.1 64.0,65.2 70.0,63.4 76.0,61.7 82.0,60.1 88.0,58.6 94.0,57.1 100.0,55.8 106.0,54.5 112.0,53.3 118.0,52.3 124.0,51.3 130.0,50.4 136.0,49.6 142.0,48.8 148.0,48.2 154.0,47.8 160.0,47.6 166.0,47.5 172.0,47.5 178.0,47.6 184.0,47.8 190.0,48.0 196.0,48.3 202.0,48.4 208.0,48.6 214.0,48.9 220.0,49.3 226.0,49.7 232.0,50.3 238.0,51.0 244.0,51.8 250.0,52.6 256.0,53.6 262.0,54.6 268.0,55.8 274.0,57.1 280.0,58.4 286.0,59.9 292.0,61.4 298.0,63.1 304.0,64.8 310.0,66.7 316.0,68.6"/><path d="M-2.0,98.0 4.0,95.1 10.0,92.4 16.0,89.8 22.0,87.2 28.0,84.8 34.0,82.4 40.0,80.1 46.0,77.9 52.0,75.8 58.0,73.8 64.0,71.9 70.0,70.1 76.0,68.3 82.0,66.6 88.0,65.1 94.0,63.6 100.0,62.2 106.0,60.9 112.0,59.7 118.0,58.6 124.0,57.6 130.0,56.6 136.0,55.8 142.0,55.0 148.0,54.4 154.0,54.0 160.0,53.7 166.0,53.6 172.0,53.5 178.0,53.6 184.0,53.7 190.0,54.0 196.0,54.2 202.0,54.3 208.0,54.5 214.0,54.8 220.0,55.1 226.0,55.6 232.0,56.2 238.0,56.8 244.0,57.6 250.0,58.4 256.0,59.4 262.0,60.4 268.0,61.6 274.0,62.8 280.0,64.1 286.0,65.6 292.0,67.1 298.0,68.7 304.0,70.5 310.0,72.3 316.0,74.2"/><path d="M-2.0,105.4 4.0,102.4 10.0,99.7 16.0,97.0 22.0,94.4 28.0,91.8 34.0,89.4 40.0,87.1 46.0,84.8 52.0,82.7 58.0,80.6 64.0,78.6 70.0,76.7 76.0,74.9 82.0,73.2 88.0,71.6 94.0,70.1 100.0,68.7 106.0,67.3 112.0,66.1 118.0,64.9 124.0,63.9 130.0,62.9 136.0,62.0 142.0,61.2 148.0,60.5 154.0,60.1 160.0,59.8 166.0,59.6 172.0,59.5 178.0,59.6 184.0,59.7 190.0,59.9 196.0,60.1 202.0,60.2 208.0,60.4 214.0,60.6 220.0,61.0 226.0,61.4 232.0,62.0 238.0,62.6 244.0,63.4 250.0,64.2 256.0,65.1 262.0,66.2 268.0,67.3 274.0,68.5 280.0,69.8 286.0,71.3 292.0,72.8 298.0,74.4 304.0,76.1 310.0,77.9 316.0,79.8"/><path d="M-2.0,112.9 4.0,109.8 10.0,107.0 16.0,104.2 22.0,101.6 28.0,99.0 34.0,96.5 40.0,94.1 46.0,91.8 52.0,89.6 58.0,87.4 64.0,85.4 70.0,83.5 76.0,81.6 82.0,79.9 88.0,78.2 94.0,76.6 100.0,75.1 106.0,73.7 112.0,72.5 118.0,71.3 124.0,70.2 130.0,69.1 136.0,68.2 142.0,67.4 148.0,66.7 154.0,66.2 160.0,65.9 166.0,65.7 172.0,65.6 178.0,65.5 184.0,65.6 190.0,65.8 196.0,66.0 202.0,66.1 208.0,66.3 214.0,66.5 220.0,66.9 226.0,67.3 232.0,67.8 238.0,68.5 244.0,69.2 250.0,70.0 256.0,70.9 262.0,71.9 268.0,73.0 274.0,74.2 280.0,75.5 286.0,76.9 292.0,78.4 298.0,80.0 304.0,81.7 310.0,83.4 316.0,85.3"/><path d="M-2.0,120.4 4.0,117.3 10.0,114.4 16.0,111.6 22.0,108.8 28.0,106.2 34.0,103.6 40.0,101.1 46.0,98.8 52.0,96.5 58.0,94.3 64.0,92.2 70.0,90.2 76.0,88.3 82.0,86.5 88.0,84.8 94.0,83.2 100.0,81.6 106.0,80.2 112.0,78.9 118.0,77.6 124.0,76.5 130.0,75.4 136.0,74.5 142.0,73.6 148.0,72.9 154.0,72.3 160.0,72.0 166.0,71.7 172.0,71.6 178.0,71.5 184.0,71.6 190.0,71.7 196.0,71.9 202.0,72.0 208.0,72.1 214.0,72.4 220.0,72.7 226.0,73.2 232.0,73.7 238.0,74.3 244.0,75.0 250.0,75.8 256.0,76.7 262.0,77.7 268.0,78.8 274.0,80.0 280.0,81.3 286.0,82.6 292.0,84.1 298.0,85.6 304.0,87.3 310.0,89.0 316.0,90.9"/><path d="M-2.0,128.1 4.0,124.9 10.0,121.9 16.0,119.0 22.0,116.1 28.0,113.4 34.0,110.8 40.0,108.2 46.0,105.8 52.0,103.4 58.0,101.2 64.0,99.0 70.0,97.0 76.0,95.0 82.0,93.2 88.0,91.4 94.0,89.7 100.0,88.1 106.0,86.6 112.0,85.3 118.0,84.0 124.0,82.8 130.0,81.7 136.0,80.7 142.0,79.8 148.0,79.0 154.0,78.5 160.0,78.1 166.0,77.8 172.0,77.6 178.0,77.5 184.0,77.5 190.0,77.6 196.0,77.8 202.0,77.9 208.0,78.0 214.0,78.3 220.0,78.6 226.0,79.0 232.0,79.5 238.0,80.1 244.0,80.8 250.0,81.6 256.0,82.5 262.0,83.5 268.0,84.5 274.0,85.7 280.0,87.0 286.0,88.3 292.0,89.7 298.0,91.3 304.0,92.9 310.0,94.6 316.0,96.4"/><path d="M-2.0,135.8 4.0,132.5 10.0,129.4 16.0,126.4 22.0,123.5 28.0,120.7 34.0,118.0 40.0,115.4 46.0,112.9 52.0,110.4 58.0,108.1 64.0,105.9 70.0,103.8 76.0,101.8 82.0,99.8 88.0,98.0 94.0,96.3 100.0,94.6 106.0,93.1 112.0,91.7 118.0,90.4 124.0,89.1 130.0,88.0 136.0,87.0 142.0,86.0 148.0,85.2 154.0,84.6 160.0,84.2 166.0,83.8 172.0,83.6 178.0,83.5 184.0,83.5 190.0,83.5 196.0,83.7 202.0,83.8 208.0,83.9 214.0,84.1 220.0,84.4 226.0,84.9 232.0,85.4 238.0,86.0 244.0,86.6 250.0,87.4 256.0,88.3 262.0,89.2 268.0,90.3 274.0,91.4 280.0,92.7 286.0,94.0 292.0,95.4 298.0,96.9 304.0,98.5 310.0,100.2 316.0,102.0"/><path d="M-2.0,143.5 4.0,140.2 10.0,137.0 16.0,133.9 22.0,130.9 28.0,128.0 34.0,125.3 40.0,122.6 46.0,120.0 52.0,117.5 58.0,115.1 64.0,112.8 70.0,110.6 76.0,108.5 82.0,106.5 88.0,104.7 94.0,102.9 100.0,101.2 106.0,99.6 112.0,98.1 118.0,96.7 124.0,95.5 130.0,94.3 136.0,93.2 142.0,92.2 148.0,91.4 154.0,90.7 160.0,90.3 166.0,89.9 172.0,89.6 178.0,89.5 184.0,89.4 190.0,89.4 196.0,89.6 202.0,89.6 208.0,89.8 214.0,90.0 220.0,90.3 226.0,90.7 232.0,91.2 238.0,91.8 244.0,92.5 250.0,93.2 256.0,94.1 262.0,95.0 268.0,96.0 274.0,97.2 280.0,98.4 286.0,99.7 292.0,101.1 298.0,102.5 304.0,104.1 310.0,105.8 316.0,107.5"/><path d="M-2.0,151.4 4.0,147.9 10.0,144.7 16.0,141.5 22.0,138.4 28.0,135.4 34.0,132.6 40.0,129.8 46.0,127.1 52.0,124.6 58.0,122.1 64.0,119.7 70.0,117.5 76.0,115.3 82.0,113.3 88.0,111.3 94.0,109.5 100.0,107.7 106.0,106.1 112.0,104.6 118.0,103.1 124.0,101.8 130.0,100.6 136.0,99.5 142.0,98.5 148.0,97.5 154.0,96.9 160.0,96.4 166.0,95.9 172.0,95.6 178.0,95.4 184.0,95.3 190.0,95.4 196.0,95.5 202.0,95.5 208.0,95.7 214.0,95.9 220.0,96.2 226.0,96.6 232.0,97.0 238.0,97.6 244.0,98.3 250.0,99.0 256.0,99.8 262.0,100.8 268.0,101.8 274.0,102.9 280.0,104.1 286.0,105.4 292.0,106.7 298.0,108.2 304.0,109.7 310.0,111.4 316.0,113.1"/><path d="M-2.0,159.3 4.0,155.8 10.0,152.4 16.0,149.1 22.0,145.9 28.0,142.9 34.0,139.9 40.0,137.1 46.0,134.3 52.0,131.7 58.0,129.1 64.0,126.7 70.0,124.4 76.0,122.1 82.0,120.0 88.0,118.0 94.0,116.1 100.0,114.3 106.0,112.6 112.0,111.0 118.0,109.5 124.0,108.2 130.0,106.9 136.0,105.7 142.0,104.7 148.0,103.7 154.0,103.0 160.0,102.5 166.0,102.0 172.0,101.7 178.0,101.4 184.0,101.3 190.0,101.3 196.0,101.3 202.0,101.4 208.0,101.5 214.0,101.7 220.0,102.0 226.0,102.4 232.0,102.9 238.0,103.4 244.0,104.1 250.0,104.8 256.0,105.6 262.0,106.5 268.0,107.5 274.0,108.6 280.0,109.8 286.0,111.0 292.0,112.4 298.0,113.8 304.0,115.3 310.0,116.9 316.0,118.6"/><path d="M-2.0,167.3 4.0,163.7 10.0,160.2 16.0,156.8 22.0,153.5 28.0,150.4 34.0,147.3 40.0,144.4 46.0,141.6 52.0,138.8 58.0,136.2 64.0,133.7 70.0,131.3 76.0,129.0 82.0,126.8 88.0,124.7 94.0,122.8 100.0,120.9 106.0,119.1 112.0,117.5 118.0,116.0 124.0,114.5 130.0,113.2 136.0,112.0 142.0,110.9 148.0,109.9 154.0,109.2 160.0,108.6 166.0,108.1 172.0,107.7 178.0,107.4 184.0,107.2 190.0,107.2 196.0,107.2 202.0,107.3 208.0,107.4 214.0,107.6 220.0,107.9 226.0,108.3 232.0,108.7 238.0,109.3 244.0,109.9 250.0,110.6 256.0,111.4 262.0,112.3 268.0,113.3 274.0,114.3 280.0,115.5 286.0,116.7 292.0,118.0 298.0,119.4 304.0,120.9 310.0,122.5 316.0,124.2"/><path d="M-2.0,175.4 4.0,171.6 10.0,168.0 16.0,164.6 22.0,161.2 28.0,157.9 34.0,154.8 40.0,151.8 46.0,148.8 52.0,146.0 58.0,143.3 64.0,140.7 70.0,138.2 76.0,135.9 82.0,133.6 88.0,131.5 94.0,129.4 100.0,127.5 106.0,125.7 112.0,124.0 118.0,122.4 124.0,120.9 130.0,119.5 136.0,118.3 142.0,117.1 148.0,116.1 154.0,115.3 160.0,114.7 166.0,114.1 172.0,113.7 178.0,113.4 184.0,113.2 190.0,113.1 196.0,113.1 202.0,113.2 208.0,113.3 214.0,113.5 220.0,113.8 226.0,114.1 232.0,114.6 238.0,115.1 244.0,115.7 250.0,116.4 256.0,117.2 262.0,118.1 268.0,119.0 274.0,120.1 280.0,121.2 286.0,122.4 292.0,123.7 298.0,125.1 304.0,126.6 310.0,128.1 316.0,129.7"/><path d="M-2.0,183.5 4.0,179.7 10.0,176.0 16.0,172.4 22.0,168.9 28.0,165.5 34.0,162.3 40.0,159.2 46.0,156.1 52.0,153.2 58.0,150.5 64.0,147.8 70.0,145.2 76.0,142.8 82.0,140.4 88.0,138.2 94.0,136.1 100.0,134.1 106.0,132.2 112.0,130.5 118.0,128.8 124.0,127.3 130.0,125.9 136.0,124.6 142.0,123.4 148.0,122.3 154.0,121.4 160.0,120.8 166.0,120.2 172.0,119.7 178.0,119.4 184.0,119.1 190.0,119.0 196.0,119.0 202.0,119.1 208.0,119.2 214.0,119.4 220.0,119.6 226.0,120.0 232.0,120.4 238.0,120.9 244.0,121.5 250.0,122.2 256.0,123.0 262.0,123.8 268.0,124.8 274.0,125.8 280.0,126.9 286.0,128.1 292.0,129.4 298.0,130.7 304.0,132.2 310.0,133.7 316.0,135.3"/><path d="M-2.0,191.7 4.0,187.8 10.0,184.0 16.0,180.3 22.0,176.7 28.0,173.2 34.0,169.9 40.0,166.6 46.0,163.5 52.0,160.5 58.0,157.6 64.0,154.9 70.0,152.2 76.0,149.7 82.0,147.3 88.0,145.0 94.0,142.8 100.0,140.8 106.0,138.8 112.0,137.0 118.0,135.3 124.0,133.7 130.0,132.2 136.0,130.9 142.0,129.6 148.0,128.5 154.0,127.6 160.0,126.9 166.0,126.2 172.0,125.7 178.0,125.4 184.0,125.1 190.0,124.9 196.0,124.9 202.0,125.0 208.0,125.1 214.0,125.2 220.0,125.5 226.0,125.8 232.0,126.2 238.0,126.8 244.0,127.3 250.0,128.0 256.0,128.8 262.0,129.6 268.0,130.5 274.0,131.5 280.0,132.6 286.0,133.8 292.0,135.0 298.0,136.4 304.0,137.8 310.0,139.3 316.0,140.9"/><path d="M-2.0,200.0 4.0,196.0 10.0,192.0 16.0,188.2 22.0,184.5 28.0,180.9 34.0,177.5 40.0,174.1 46.0,170.9 52.0,167.8 58.0,164.8 64.0,162.0 70.0,159.3 76.0,156.6 82.0,154.2 88.0,151.8 94.0,149.5 100.0,147.4 106.0,145.4 112.0,143.5 118.0,141.7 124.0,140.1 130.0,138.6 136.0,137.2 142.0,135.9 148.0,134.7 154.0,133.8 160.0,133.0 166.0,132.3 172.0,131.8 178.0,131.3 184.0,131.0 190.0,130.9 196.0,130.8 202.0,130.9 208.0,130.9 214.0,131.1 220.0,131.3 226.0,131.7 232.0,132.1 238.0,132.6 244.0,133.2 250.0,133.8 256.0,134.5 262.0,135.4 268.0,136.3 274.0,137.2 280.0,138.3 286.0,139.5 292.0,140.7 298.0,142.0 304.0,143.4 310.0,144.9 316.0,146.4"/><path d="M-2.0,208.4 4.0,204.2 10.0,200.1 16.0,196.2 22.0,192.4 28.0,188.7 34.0,185.1 40.0,181.7 46.0,178.4 52.0,175.2 58.0,172.1 64.0,169.1 70.0,166.3 76.0,163.6 82.0,161.0 88.0,158.6 94.0,156.3 100.0,154.1 106.0,152.0 112.0,150.0 118.0,148.2 124.0,146.5 130.0,144.9 136.0,143.5 142.0,142.1 148.0,140.9 154.0,139.9 160.0,139.1 166.0,138.4 172.0,137.8 178.0,137.3 184.0,137.0 190.0,136.8 196.0,136.7 202.0,136.7 208.0,136.8 214.0,137.0 220.0,137.2 226.0,137.5 232.0,137.9 238.0,138.4 244.0,139.0 250.0,139.6 256.0,140.3 262.0,141.1 268.0,142.0 274.0,143.0 280.0,144.0 286.0,145.1 292.0,146.3 298.0,147.6 304.0,149.0 310.0,150.4 316.0,152.0"/><path d="M-2.0,216.8 4.0,212.5 10.0,208.3 16.0,204.3 22.0,200.3 28.0,196.5 34.0,192.8 40.0,189.3 46.0,185.8 52.0,182.5 58.0,179.4 64.0,176.3 70.0,173.4 76.0,170.6 82.0,168.0 88.0,165.4 94.0,163.0 100.0,160.8 106.0,158.6 112.0,156.6 118.0,154.7 124.0,152.9 130.0,151.3 136.0,149.8 142.0,148.4 148.0,147.1 154.0,146.1 160.0,145.2 166.0,144.4 172.0,143.8 178.0,143.3 184.0,142.9 190.0,142.7 196.0,142.6 202.0,142.6 208.0,142.7 214.0,142.8 220.0,143.1 226.0,143.4 232.0,143.8 238.0,144.2 244.0,144.8 250.0,145.4 256.0,146.1 262.0,146.9 268.0,147.8 274.0,148.7 280.0,149.7 286.0,150.8 292.0,152.0 298.0,153.3 304.0,154.6 310.0,156.0 316.0,157.5"/><path d="M-2.0,225.3 4.0,220.9 10.0,216.6 16.0,212.4 22.0,208.3 28.0,204.4 34.0,200.6 40.0,196.9 46.0,193.4 52.0,190.0 58.0,186.7 64.0,183.5 70.0,180.5 76.0,177.6 82.0,174.9 88.0,172.3 94.0,169.8 100.0,167.5 106.0,165.2 112.0,163.1 118.0,161.2 124.0,159.4 130.0,157.7 136.0,156.1 142.0,154.6 148.0,153.3 154.0,152.2 160.0,151.3 166.0,150.5 172.0,149.8 178.0,149.3 184.0,148.9 190.0,148.6 196.0,148.5 202.0,148.5 208.0,148.6 214.0,148.7 220.0,148.9 226.0,149.2 232.0,149.6 238.0,150.1 244.0,150.6 250.0,151.2 256.0,151.9 262.0,152.7 268.0,153.5 274.0,154.4 280.0,155.4 286.0,156.5 292.0,157.7 298.0,158.9 304.0,160.2 310.0,161.6 316.0,163.1"/><path d="M-2.0,233.9 4.0,229.4 10.0,224.9 16.0,220.6 22.0,216.4 28.0,212.3 34.0,208.4 40.0,204.6 46.0,200.9 52.0,197.4 58.0,194.0 64.0,190.8 70.0,187.7 76.0,184.7 82.0,181.9 88.0,179.2 94.0,176.6 100.0,174.2 106.0,171.9 112.0,169.7 118.0,167.7 124.0,165.8 130.0,164.0 136.0,162.4 142.0,160.9 148.0,159.6 154.0,158.4 160.0,157.4 166.0,156.6 172.0,155.9 178.0,155.3 184.0,154.8 190.0,154.5 196.0,154.4 202.0,154.4 208.0,154.5 214.0,154.6 220.0,154.8 226.0,155.1 232.0,155.5 238.0,155.9 244.0,156.4 250.0,157.0 256.0,157.7 262.0,158.4 268.0,159.3 274.0,160.2 280.0,161.1 286.0,162.2 292.0,163.3 298.0,164.5 304.0,165.8 310.0,167.2 316.0,168.6"/><path d="M-2.0,242.6 4.0,237.9 10.0,233.3 16.0,228.8 22.0,224.5 28.0,220.3 34.0,216.2 40.0,212.3 46.0,208.5 52.0,204.9 58.0,201.4 64.0,198.1 70.0,194.9 76.0,191.8 82.0,188.9 88.0,186.1 94.0,183.4 100.0,180.9 106.0,178.5 112.0,176.3 118.0,174.2 124.0,172.2 130.0,170.4 136.0,168.7 142.0,167.2 148.0,165.8 154.0,164.6 160.0,163.5 166.0,162.7 172.0,161.9 178.0,161.3 184.0,160.8 190.0,160.4 196.0,160.2 202.0,160.3 208.0,160.3 214.0,160.5 220.0,160.7 226.0,160.9 232.0,161.3 238.0,161.7 244.0,162.2 250.0,162.8 256.0,163.5 262.0,164.2 268.0,165.0 274.0,165.9 280.0,166.8 286.0,167.9 292.0,169.0 298.0,170.2 304.0,171.4 310.0,172.8 316.0,174.2"/><path d="M-2.0,251.4 4.0,246.5 10.0,241.8 16.0,237.1 22.0,232.6 28.0,228.3 34.0,224.1 40.0,220.1 46.0,216.2 52.0,212.4 58.0,208.8 64.0,205.4 70.0,202.1 76.0,198.9 82.0,195.9 88.0,193.0 94.0,190.2 100.0,187.7 106.0,185.2 112.0,182.9 118.0,180.7 124.0,178.7 130.0,176.8 136.0,175.1 142.0,173.5 148.0,172.0 154.0,170.8 160.0,169.7 166.0,168.7 172.0,167.9 178.0,167.3 184.0,166.7 190.0,166.4 196.0,166.1 202.0,166.2 208.0,166.2 214.0,166.3 220.0,166.5 226.0,166.8 232.0,167.1 238.0,167.5 244.0,168.0 250.0,168.6 256.0,169.2 262.0,170.0 268.0,170.7 274.0,171.6 280.0,172.5 286.0,173.6 292.0,174.6 298.0,175.8 304.0,177.0 310.0,178.3 316.0,179.7"/><path d="M-2.0,260.2 4.0,255.2 10.0,250.3 16.0,245.5 22.0,240.9 28.0,236.4 34.0,232.1 40.0,227.9 46.0,223.9 52.0,220.0 58.0,216.3 64.0,212.7 70.0,209.3 76.0,206.0 82.0,202.9 88.0,199.9 94.0,197.1 100.0,194.4 106.0,191.9 112.0,189.5 118.0,187.3 124.0,185.2 130.0,183.2 136.0,181.4 142.0,179.7 148.0,178.2 154.0,176.9 160.0,175.8 166.0,174.8 172.0,174.0 178.0,173.3 184.0,172.7 190.0,172.3 196.0,172.0 202.0,172.1 208.0,172.1 214.0,172.2 220.0,172.4 226.0,172.6 232.0,173.0 238.0,173.4 244.0,173.9 250.0,174.4 256.0,175.0 262.0,175.7 268.0,176.5 274.0,177.3 280.0,178.3 286.0,179.2 292.0,180.3 298.0,181.4 304.0,182.6 310.0,183.9 316.0,185.3"/><path d="M-2.0,269.1 4.0,263.9 10.0,258.9 16.0,253.9 22.0,249.1 28.0,244.5 34.0,240.1 40.0,235.8 46.0,231.6 52.0,227.6 58.0,223.8 64.0,220.1 70.0,216.6 76.0,213.2 82.0,210.0 88.0,206.9 94.0,204.0 100.0,201.2 106.0,198.6 112.0,196.1 118.0,193.8 124.0,191.6 130.0,189.6 136.0,187.8 142.0,186.0 148.0,184.5 154.0,183.1 160.0,181.9 166.0,180.9 172.0,180.0 178.0,179.2 184.0,178.6 190.0,178.2 196.0,177.9 202.0,177.9 208.0,178.0 214.0,178.1 220.0,178.3 226.0,178.5 232.0,178.8 238.0,179.2 244.0,179.7 250.0,180.2 256.0,180.8 262.0,181.5 268.0,182.2 274.0,183.1 280.0,184.0 286.0,184.9 292.0,186.0 298.0,187.1 304.0,188.3 310.0,189.5 316.0,190.8"/><path d="M-2.0,278.0 4.0,272.8 10.0,267.5 16.0,262.4 22.0,257.5 28.0,252.7 34.0,248.1 40.0,243.7 46.0,239.4 52.0,235.3 58.0,231.3 64.0,227.5 70.0,223.9 76.0,220.4 82.0,217.0 88.0,213.9 94.0,210.9 100.0,208.0 106.0,205.3 112.0,202.7 118.0,200.4 124.0,198.1 130.0,196.0 136.0,194.1 142.0,192.3 148.0,190.7 154.0,189.3 160.0,188.0 166.0,187.0 172.0,186.0 178.0,185.2 184.0,184.6 190.0,184.1 196.0,183.8 202.0,183.8 208.0,183.9 214.0,184.0 220.0,184.1 226.0,184.4 232.0,184.7 238.0,185.0 244.0,185.5 250.0,186.0 256.0,186.6 262.0,187.3 268.0,188.0 274.0,188.8 280.0,189.7 286.0,190.6 292.0,191.6 298.0,192.7 304.0,193.9 310.0,195.1 316.0,196.4"/><path d="M-2.0,287.1 4.0,281.6 10.0,276.2 16.0,271.0 22.0,265.9 28.0,261.0 34.0,256.2 40.0,251.6 46.0,247.2 52.0,242.9 58.0,238.9 64.0,234.9 70.0,231.2 76.0,227.6 82.0,224.1 88.0,220.9 94.0,217.8 100.0,214.8 106.0,212.0 112.0,209.4 118.0,206.9 124.0,204.6 130.0,202.5 136.0,200.5 142.0,198.6 148.0,196.9 154.0,195.5 160.0,194.2 166.0,193.0 172.0,192.1 178.0,191.2 184.0,190.5 190.0,190.0 196.0,189.7 202.0,189.7 208.0,189.7 214.0,189.8 220.0,190.0 226.0,190.2 232.0,190.5 238.0,190.9 244.0,191.3 250.0,191.8 256.0,192.4 262.0,193.0 268.0,193.7 274.0,194.5 280.0,195.4 286.0,196.3 292.0,197.3 298.0,198.3 304.0,199.5 310.0,200.7 316.0,202.0"/><path d="M-2.0,296.2 4.0,290.6 10.0,285.0 16.0,279.6 22.0,274.3 28.0,269.3 34.0,264.3 40.0,259.6 46.0,255.1 52.0,250.7 58.0,246.5 64.0,242.4 70.0,238.5 76.0,234.8 82.0,231.3 88.0,227.9 94.0,224.7 100.0,221.6 106.0,218.8 112.0,216.0 118.0,213.5 124.0,211.1 130.0,208.9 136.0,206.8 142.0,204.9 148.0,203.2 154.0,201.7 160.0,200.3 166.0,199.1 172.0,198.1 178.0,197.2 184.0,196.5 190.0,195.9 196.0,195.6 202.0,195.6 208.0,195.6 214.0,195.7 220.0,195.8 226.0,196.1 232.0,196.3 238.0,196.7 244.0,197.1 250.0,197.6 256.0,198.2 262.0,198.8 268.0,199.5 274.0,200.2 280.0,201.1 286.0,202.0 292.0,202.9 298.0,204.0 304.0,205.1 310.0,206.3 316.0,207.5"/><path d="M-2.0,305.4 4.0,299.6 10.0,293.8 16.0,288.2 22.0,282.8 28.0,277.6 34.0,272.5 40.0,267.7 46.0,263.0 52.0,258.4 58.0,254.1 64.0,249.9 70.0,245.9 76.0,242.1 82.0,238.4 88.0,234.9 94.0,231.6 100.0,228.5 106.0,225.5 112.0,222.7 118.0,220.1 124.0,217.6 130.0,215.3 136.0,213.2 142.0,211.2 148.0,209.4 154.0,207.8 160.0,206.4 166.0,205.2 172.0,204.1 178.0,203.2 184.0,202.4 190.0,201.9 196.0,201.5 202.0,201.5 208.0,201.5 214.0,201.6 220.0,201.7 226.0,201.9 232.0,202.2 238.0,202.5 244.0,202.9 250.0,203.4 256.0,203.9 262.0,204.5 268.0,205.2 274.0,206.0 280.0,206.8 286.0,207.7 292.0,208.6 298.0,209.6 304.0,210.7 310.0,211.8 316.0,213.1"/><path d="M-2.0,314.7 4.0,308.7 10.0,302.8 16.0,297.0 22.0,291.4 28.0,286.0 34.0,280.8 40.0,275.7 46.0,270.9 52.0,266.2 58.0,261.7 64.0,257.4 70.0,253.3 76.0,249.4 82.0,245.6 88.0,242.0 94.0,238.6 100.0,235.3 106.0,232.3 112.0,229.4 118.0,226.7 124.0,224.1 130.0,221.8 136.0,219.6 142.0,217.5 148.0,215.7 154.0,214.0 160.0,212.6 166.0,211.3 172.0,210.2 178.0,209.2 184.0,208.4 190.0,207.8 196.0,207.4 202.0,207.4 208.0,207.4 214.0,207.4 220.0,207.6 226.0,207.8 232.0,208.0 238.0,208.3 244.0,208.7 250.0,209.2 256.0,209.7 262.0,210.3 268.0,211.0 274.0,211.7 280.0,212.5 286.0,213.3 292.0,214.3 298.0,215.3 304.0,216.3 310.0,217.4 316.0,218.6"/><path d="M-2.0,324.0 4.0,317.9 10.0,311.7 16.0,305.8 22.0,300.0 28.0,294.5 34.0,289.1 40.0,283.9 46.0,278.9 52.0,274.1 58.0,269.4 64.0,265.0 70.0,260.7 76.0,256.7 82.0,252.8 88.0,249.1 94.0,245.6 100.0,242.2 106.0,239.1 112.0,236.1 118.0,233.3 124.0,230.7 130.0,228.2 136.0,226.0 142.0,223.9 148.0,221.9 154.0,220.2 160.0,218.7 166.0,217.4 172.0,216.2 178.0,215.2 184.0,214.3 190.0,213.7 196.0,213.3 202.0,213.3 208.0,213.3 214.0,213.3 220.0,213.4 226.0,213.6 232.0,213.9 238.0,214.2 244.0,214.6 250.0,215.0 256.0,215.5 262.0,216.1 268.0,216.7 274.0,217.4 280.0,218.2 286.0,219.0 292.0,219.9 298.0,220.9 304.0,221.9 310.0,223.0 316.0,224.2"/><path d="M-2.0,333.4 4.0,327.1 10.0,320.8 16.0,314.6 22.0,308.7 28.0,303.0 34.0,297.4 40.0,292.1 46.0,286.9 52.0,281.9 58.0,277.2 64.0,272.6 70.0,268.2 76.0,264.0 82.0,260.0 88.0,256.2 94.0,252.6 100.0,249.1 106.0,245.9 112.0,242.8 118.0,239.9 124.0,237.2 130.0,234.7 136.0,232.3 142.0,230.2 148.0,228.2 154.0,226.4 160.0,224.9 166.0,223.5 172.0,222.2 178.0,221.2 184.0,220.3 190.0,219.6 196.0,219.2 202.0,219.2 208.0,219.1 214.0,219.2 220.0,219.3 226.0,219.5 232.0,219.7 238.0,220.0 244.0,220.4 250.0,220.8 256.0,221.3 262.0,221.8 268.0,222.5 274.0,223.1 280.0,223.9 286.0,224.7 292.0,225.6 298.0,226.5 304.0,227.5 310.0,228.6 316.0,229.7"/><path d="M-2.0,342.9 4.0,336.4 10.0,329.9 16.0,323.6 22.0,317.4 28.0,311.5 34.0,305.8 40.0,300.3 46.0,295.0 52.0,289.9 58.0,284.9 64.0,280.2 70.0,275.7 76.0,271.4 82.0,267.2 88.0,263.3 94.0,259.6 100.0,256.0 106.0,252.7 112.0,249.5 118.0,246.5 124.0,243.7 130.0,241.1 136.0,238.7 142.0,236.5 148.0,234.5 154.0,232.6 160.0,231.0 166.0,229.5 172.0,228.3 178.0,227.2 184.0,226.3 190.0,225.5 196.0,225.0 202.0,225.0 208.0,225.0 214.0,225.1 220.0,225.2 226.0,225.3 232.0,225.5 238.0,225.8 244.0,226.2 250.0,226.6 256.0,227.1 262.0,227.6 268.0,228.2 274.0,228.9 280.0,229.6 286.0,230.4 292.0,231.2 298.0,232.2 304.0,233.1 310.0,234.2 316.0,235.3"/><path d="M-2.0,352.5 4.0,345.8 10.0,339.1 16.0,332.5 22.0,326.2 28.0,320.1 34.0,314.2 40.0,308.6 46.0,303.1 52.0,297.8 58.0,292.7 64.0,287.9 70.0,283.2 76.0,278.8 82.0,274.5 88.0,270.5 94.0,266.6 100.0,263.0 106.0,259.5 112.0,256.2 118.0,253.2 124.0,250.3 130.0,247.6 136.0,245.1 142.0,242.8 148.0,240.7 154.0,238.8 160.0,237.1 166.0,235.6 172.0,234.3 178.0,233.2 184.0,232.2 190.0,231.4 196.0,230.9 202.0,230.9 208.0,230.9 214.0,230.9 220.0,231.0 226.0,231.2 232.0,231.4 238.0,231.7 244.0,232.0 250.0,232.4 256.0,232.9 262.0,233.4 268.0,234.0 274.0,234.6 280.0,235.3 286.0,236.1 292.0,236.9 298.0,237.8 304.0,238.7 310.0,239.8 316.0,240.8"/><path d="M-2.0,362.1 4.0,355.2 10.0,348.3 16.0,341.6 22.0,335.1 28.0,328.8 34.0,322.7 40.0,316.9 46.0,311.2 52.0,305.8 58.0,300.6 64.0,295.6 70.0,290.8 76.0,286.2 82.0,281.8 88.0,277.6 94.0,273.7 100.0,269.9 106.0,266.3 112.0,263.0 118.0,259.8 124.0,256.9 130.0,254.1 136.0,251.5 142.0,249.2 148.0,247.0 154.0,245.1 160.0,243.3 166.0,241.7 172.0,240.3 178.0,239.2 184.0,238.2 190.0,237.4 196.0,236.8 202.0,236.8 208.0,236.8 214.0,236.8 220.0,236.9 226.0,237.0 232.0,237.2 238.0,237.5 244.0,237.8 250.0,238.2 256.0,238.6 262.0,239.1 268.0,239.7 274.0,240.3 280.0,241.0 286.0,241.8 292.0,242.6 298.0,243.4 304.0,244.4 310.0,245.3 316.0,246.4"/><path d="M-2.0,371.9 4.0,364.8 10.0,357.6 16.0,350.7 22.0,344.0 28.0,337.5 34.0,331.3 40.0,325.2 46.0,319.4 52.0,313.8 58.0,308.4 64.0,303.3 70.0,298.4 76.0,293.6 82.0,289.1 88.0,284.8 94.0,280.7 100.0,276.9 106.0,273.2 112.0,269.7 118.0,266.5 124.0,263.4 130.0,260.6 136.0,258.0 142.0,255.5 148.0,253.3 154.0,251.3 160.0,249.4 166.0,247.8 172.0,246.4 178.0,245.2 184.0,244.1 190.0,243.3 196.0,242.7 202.0,242.7 208.0,242.7 214.0,242.7 220.0,242.7 226.0,242.9 232.0,243.1 238.0,243.3 244.0,243.6 250.0,244.0 256.0,244.4 262.0,244.9 268.0,245.5 274.0,246.1 280.0,246.7 286.0,247.4 292.0,248.2 298.0,249.1 304.0,250.0 310.0,250.9 316.0,251.9"/><path d="M-2.0,381.7 4.0,374.3 10.0,367.0 16.0,359.8 22.0,352.9 28.0,346.3 34.0,339.8 40.0,333.6 46.0,327.6 52.0,321.9 58.0,316.4 64.0,311.0 70.0,306.0 76.0,301.1 82.0,296.5 88.0,292.0 94.0,287.8 100.0,283.8 106.0,280.1 112.0,276.5 118.0,273.2 124.0,270.0 130.0,267.1 136.0,264.4 142.0,261.9 148.0,259.6 154.0,257.5 160.0,255.6 166.0,253.9 172.0,252.4 178.0,251.1 184.0,250.1 190.0,249.2 196.0,248.6 202.0,248.6 208.0,248.5 214.0,248.5 220.0,248.6 226.0,248.7 232.0,248.9 238.0,249.1 244.0,249.4 250.0,249.8 256.0,250.2 262.0,250.7 268.0,251.2 274.0,251.8 280.0,252.4 286.0,253.1 292.0,253.9 298.0,254.7 304.0,255.6 310.0,256.5 316.0,257.5"/><path d="M-2.0,391.6 4.0,384.1 10.0,376.5 16.0,369.2 22.0,362.1 28.0,355.2 34.0,348.6 40.0,342.2 46.0,336.0 52.0,330.1 58.0,324.4 64.0,318.9 70.0,313.7 76.0,308.6 82.0,303.9 88.0,299.3 94.0,295.0 100.0,290.9 106.0,287.0 112.0,283.3 118.0,279.9 124.0,276.6 130.0,273.6 136.0,270.8 142.0,268.2 148.0,265.9 154.0,263.7 160.0,261.7 166.0,260.0 172.0,258.5 178.0,257.1 184.0,256.0 190.0,255.1 196.0,254.5 202.0,254.5 208.0,254.4 214.0,254.4 220.0,254.5 226.0,254.6 232.0,254.8 238.0,255.0 244.0,255.3 250.0,255.6 256.0,256.0 262.0,256.5 268.0,257.0 274.0,257.6 280.0,258.2 286.0,258.9 292.0,259.6 298.0,260.4 304.0,261.3 310.0,262.2 316.0,263.1"/><path d="M-2.0,401.7 4.0,394.0 10.0,386.2 16.0,378.6 22.0,371.3 28.0,364.2 34.0,357.3 40.0,350.8 46.0,344.4 52.0,338.3 58.0,332.4 64.0,326.8 70.0,321.4 76.0,316.2 82.0,311.3 88.0,306.6 94.0,302.2 100.0,297.9 106.0,293.9 112.0,290.1 118.0,286.6 124.0,283.2 130.0,280.1 136.0,277.3 142.0,274.6 148.0,272.1 154.0,269.9 160.0,267.9 166.0,266.1 172.0,264.5 178.0,263.1 184.0,262.0 190.0,261.0 196.0,260.4 202.0,260.4 208.0,260.3 214.0,260.3 220.0,260.4 226.0,260.5 232.0,260.7 238.0,260.9 244.0,261.2 250.0,261.5 256.0,261.9 262.0,262.3 268.0,262.8 274.0,263.4 280.0,264.0 286.0,264.6 292.0,265.4 298.0,266.1 304.0,267.0 310.0,267.8 316.0,268.8"/><path d="M-2.0,409.7 4.0,401.9 10.0,394.0 16.0,386.3 22.0,378.9 28.0,371.7 34.0,364.8 40.0,358.1 46.0,351.7 52.0,345.5 58.0,339.5 64.0,333.8 70.0,328.3 76.0,323.1 82.0,318.1 88.0,313.4 94.0,308.8 100.0,304.5 106.0,300.5 112.0,296.6 118.0,293.0 124.0,289.6 130.0,286.5 136.0,283.5 142.0,280.8 148.0,278.3 154.0,276.1 160.0,274.0 166.0,272.2 172.0,270.5 178.0,269.1 184.0,267.9 190.0,267.0 196.0,266.3 202.0,266.3 208.0,266.2 214.0,266.2 220.0,266.3 226.0,266.4 232.0,266.5 238.0,266.8 244.0,267.0 250.0,267.4 256.0,267.7 262.0,268.2 268.0,268.7 274.0,269.2 280.0,269.8 286.0,270.5 292.0,271.2 298.0,272.0 304.0,272.8 310.0,273.7 316.0,274.6"/><path d="M-2.0,416.6 4.0,408.7 10.0,400.7 16.0,393.0 22.0,385.6 28.0,378.4 34.0,371.4 40.0,364.7 46.0,358.3 52.0,352.1 58.0,346.1 64.0,340.3 70.0,334.8 76.0,329.6 82.0,324.5 88.0,319.8 94.0,315.2 100.0,310.9 106.0,306.8 112.0,302.9 118.0,299.3 124.0,295.9 130.0,292.7 136.0,289.7 142.0,287.0 148.0,284.4 154.0,282.1 160.0,280.1 166.0,278.2 172.0,276.5 178.0,275.1 184.0,273.9 190.0,272.9 196.0,272.2 202.0,272.2 208.0,272.1 214.0,272.1 220.0,272.2 226.0,272.3 232.0,272.4 238.0,272.7 244.0,272.9 250.0,273.3 256.0,273.6 262.0,274.1 268.0,274.6 274.0,275.1 280.0,275.7 286.0,276.4 292.0,277.1 298.0,277.9 304.0,278.7 310.0,279.6 316.0,280.5"/><path d="M-2.0,423.4 4.0,415.5 10.0,407.5 16.0,399.8 22.0,392.3 28.0,385.1 34.0,378.1 40.0,371.4 46.0,364.9 52.0,358.6 58.0,352.6 64.0,346.9 70.0,341.3 76.0,336.0 82.0,331.0 88.0,326.2 94.0,321.6 100.0,317.2 106.0,313.1 112.0,309.2 118.0,305.5 124.0,302.1 130.0,298.9 136.0,295.9 142.0,293.1 148.0,290.6 154.0,288.2 160.0,286.1 166.0,284.2 172.0,282.6 178.0,281.1 184.0,279.8 190.0,278.8 196.0,278.1 202.0,278.1 208.0,278.0 214.0,278.0 220.0,278.1 226.0,278.2 232.0,278.3 238.0,278.6 244.0,278.8 250.0,279.2 256.0,279.5 262.0,280.0 268.0,280.5 274.0,281.0 280.0,281.6 286.0,282.3 292.0,283.0 298.0,283.8 304.0,284.6 310.0,285.5 316.0,286.4"/><path d="M-2.0,430.2 4.0,422.3 10.0,414.3 16.0,406.5 22.0,399.0 28.0,391.8 34.0,384.8 40.0,378.0 46.0,371.5 52.0,365.2 58.0,359.2 64.0,353.4 70.0,347.8 76.0,342.5 82.0,337.4 88.0,332.6 94.0,328.0 100.0,323.6 106.0,319.4 112.0,315.5 118.0,311.8 124.0,308.3 130.0,305.1 136.0,302.1 142.0,299.3 148.0,296.7 154.0,294.3 160.0,292.2 166.0,290.3 172.0,288.6 178.0,287.1 184.0,285.8 190.0,284.7 196.0,284.0 202.0,284.0 208.0,283.9 214.0,283.9 220.0,284.0 226.0,284.1 232.0,284.2 238.0,284.5 244.0,284.7 250.0,285.1 256.0,285.4 262.0,285.9 268.0,286.4 274.0,286.9 280.0,287.5 286.0,288.2 292.0,288.9 298.0,289.7 304.0,290.5 310.0,291.4 316.0,292.3"/></g></defs>
<use href="#sp5" transform="translate(421.2,624.6)" fill="none" stroke="#a8a8a8" stroke-width="2.80" stroke-opacity="0.50"/>
<defs><linearGradient id="cg5" gradientUnits="userSpaceOnUse" x1="0" y1="0.0" x2="0" y2="283.7"><stop offset="0" stop-color="#d1d1d1"/><stop offset="0.55" stop-color="#d1d1d1"/><stop offset="1" stop-color="#e0e0e0"/></linearGradient></defs>
<use href="#sp5" transform="translate(421.2,624.6)" fill="none" stroke="url(#cg5)" stroke-width="1.45"/>
</g>
<defs><linearGradient id="og5" gradientUnits="userSpaceOnUse" x1="0" y1="0" x2="0" y2="283.7"><stop offset="0" stop-color="#66aeb3" stop-opacity="0.62"/><stop offset="0.55" stop-color="#66aeb3" stop-opacity="0.62"/><stop offset="1" stop-color="#3a8cbf" stop-opacity="0.90"/></linearGradient></defs>
<use href="#sp5" transform="translate(421.2,624.6)" fill="none" stroke="url(#og5)" stroke-width="1.30" filter="url(#sb)"/>
</g>
<rect x="421.2" y="624.6" width="325.3" height="283.7" fill="none" stroke="#8a8a8a" stroke-width="1.25"/>
<line x1="512.2" y1="800.2" x2="714.8" y2="794.7" stroke="#1a1a1a" stroke-width="1.1"/>
<text x="720.7" y="756.2" font-size="12.6" text-anchor="middle">A</text>
<text x="730.2" y="831.2" font-size="12.6" text-anchor="middle">B</text>
<text x="749.4" y="731.6" font-size="9.5">CGI</text>
<rect x="749.7" y="735.2" width="10" height="5.4" fill="#d7191c"/>
<text x="762.4" y="740.8" font-size="9.3">0.31</text>
<rect x="749.7" y="745.3" width="10" height="5.4" fill="#ed7d4e"/>
<text x="762.4" y="750.9" font-size="9.3">1.25</text>
<rect x="749.7" y="755.4" width="10" height="5.4" fill="#fec780"/>
<text x="762.4" y="761.0" font-size="9.3">1.45</text>
<rect x="749.7" y="765.4" width="10" height="5.4" fill="#ffffbf"/>
<text x="762.4" y="771.0" font-size="9.3">1.63</text>
<rect x="749.7" y="775.5" width="10" height="5.4" fill="#c7e8a8"/>
<text x="762.4" y="781.1" font-size="9.3">1.87</text>
<rect x="749.7" y="785.6" width="10" height="5.4" fill="#7abea8"/>
<text x="762.4" y="791.2" font-size="9.3">2.44</text>
<rect x="749.7" y="795.7" width="10" height="5.4" fill="#2b83ba"/>
<text x="762.4" y="801.3" font-size="9.3">10.4</text>
<text transform="translate(413.6,670.0) rotate(-90)" font-size="11" text-anchor="middle" dy="3.8" textLength="35" lengthAdjust="spacingAndGlyphs">7664843</text>
<text transform="translate(413.6,765.6) rotate(-90)" font-size="11" text-anchor="middle" dy="3.8" textLength="35" lengthAdjust="spacingAndGlyphs">7664783</text>
<text transform="translate(413.6,860.6) rotate(-90)" font-size="11" text-anchor="middle" dy="3.8" textLength="35" lengthAdjust="spacingAndGlyphs">7664723</text>
<text x="426.4" y="920.1" font-size="11" textLength="35" lengthAdjust="spacingAndGlyphs">1132470</text>
<text x="569.2" y="920.1" font-size="11" textLength="35" lengthAdjust="spacingAndGlyphs">1132560</text>
<text x="712.3" y="920.1" font-size="11" textLength="35" lengthAdjust="spacingAndGlyphs">1132650</text>
<circle cx="477.2" cy="854.4" r="8.3" fill="url(#ng)" stroke="#333" stroke-width="0.8"/>
<path d="M477.2,841.5 L485.2,861.4 L477.2,854.4 Z" fill="url(#ag)"/>
<path d="M477.2,841.5 L469.2,861.4 L477.2,854.4 Z" fill="#f2f2f2"/>
<path d="M477.2,841.5 L485.2,861.4 L477.2,854.4 L469.2,861.4 Z" fill="none" stroke="#1e1e1e" stroke-width="0.9" stroke-linejoin="miter"/>
<rect x="449.5" y="877.0" width="47.9" height="4.4" fill="#fff" stroke="#000" stroke-width="0.6"/>
<rect x="449.5" y="877.0" width="16" height="4.4" fill="#000"/>
<rect x="481.4" y="877.0" width="16" height="4.4" fill="#000"/>
<text x="449.5" y="873.1" font-size="6" text-anchor="middle">0</text>
<text x="465.5" y="873.1" font-size="6" text-anchor="middle">10</text>
<text x="481.4" y="873.1" font-size="6" text-anchor="middle">20</text>
<text x="497.4" y="873.1" font-size="6" text-anchor="middle">30</text>
<text x="501.8" y="873.1" font-size="6">m</text>
</svg></body></html>
